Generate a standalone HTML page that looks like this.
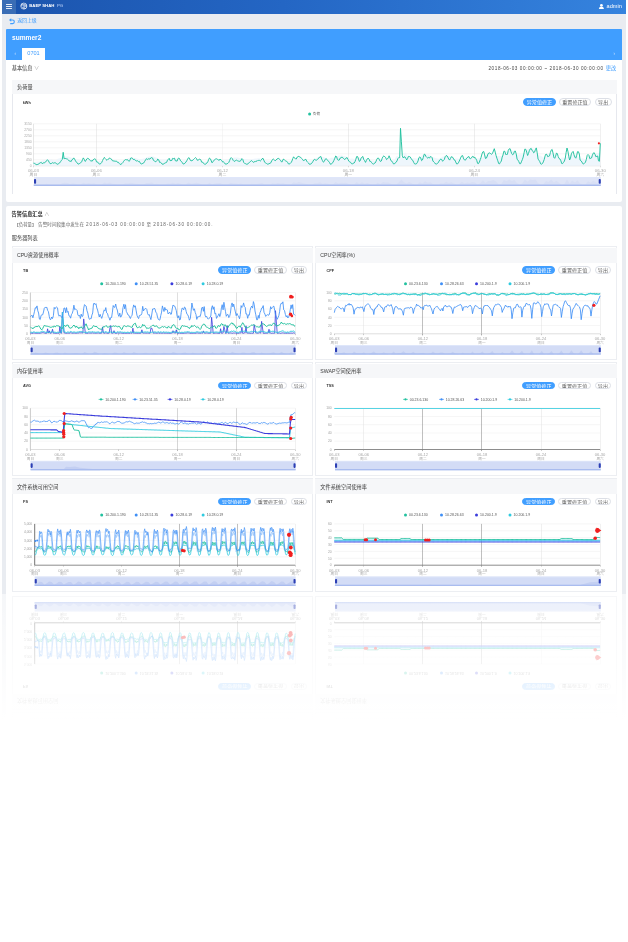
<!DOCTYPE html>
<html><head><meta charset="utf-8"><title>summer2</title>
<style>
html,body{margin:0;padding:0;background:#fff;overflow:hidden;width:628px;height:942px}
#app{position:absolute;left:2px;top:0;width:624px;height:594px;background:#e9ecf1;overflow:hidden}
.inner{position:absolute;left:-2px;top:0;width:628px;height:594px}
.inner div{position:absolute;box-sizing:border-box}
#refl{position:absolute;left:2px;top:594px;width:624px;height:130px;overflow:hidden}
#flip{position:absolute;left:0;top:-594px;width:624px;height:594px;background:#e9ecf1;overflow:hidden;transform:scaleY(-1);transform-origin:50% 100%}
#fade{position:absolute;left:0;top:0;width:624px;height:130px;background:linear-gradient(to bottom,rgba(255,255,255,0.55) 0px,#fff 126px,#fff 130px)}
.hdr{left:2px;top:0;width:624px;height:13.9px;background:linear-gradient(90deg,#1b54ad 0%,#2466c4 45%,#3583de 100%)}
.t{white-space:nowrap;font-family:'Liberation Sans','Noto Sans CJK SC',sans-serif}
.pill{border:0.5px solid;border-radius:4px;font-family:'Liberation Sans','Noto Sans CJK SC',sans-serif;font-size:5.1px;line-height:6.5px;text-align:center;white-space:nowrap;overflow:hidden}
svg{position:absolute;left:0;top:0;font-family:'Liberation Sans','Noto Sans CJK SC',sans-serif}
</style></head><body>
<div id="app"><div class="inner">
<div class="hdr"></div>
<div style="left:2px;top:0;width:14px;height:13.9px;background:#3a6db5"></div>
<div style="left:6.1px;top:3.6px;width:5.8px;height:0.75px;background:#e6edf8;border-radius:0.3px"></div>
<div style="left:6.1px;top:6.0px;width:5.8px;height:0.75px;background:#e6edf8;border-radius:0.3px"></div>
<div style="left:6.1px;top:8.4px;width:5.8px;height:0.75px;background:#e6edf8;border-radius:0.3px"></div>
<div class="t" style="left:29.2px;top:3.1px;font-size:4.3px;line-height:6px;color:#fff;font-weight:bold;">BAEP SHAH</div>
<div class="t" style="left:57px;top:3.1px;font-size:4.3px;line-height:6px;color:#c9dcff;font-weight:normal;">PG</div>
<div class="t" style="left:606.6px;top:2.9px;font-size:5.6px;line-height:7.8px;color:#fff;font-weight:normal;">admin</div>
<div class="t" style="left:17.2px;top:18px;font-size:4.9px;line-height:6.9px;color:#409eff;font-weight:normal;">返回上级</div>
<div style="left:6px;top:29.2px;width:615.7px;height:30.4px;background:#409eff;border-radius:1px 1px 0 0"></div>
<div class="t" style="left:12px;top:33.3px;font-size:6.6px;line-height:9.2px;color:#fff;font-weight:bold;">summer2</div>
<div style="left:22.3px;top:48px;width:22.5px;height:11.6px;background:#fff"></div>
<div class="t" style="left:-66.5px;width:200px;text-align:center;top:49.7px;font-size:5.6px;line-height:7.8px;color:#409eff;font-weight:normal;">0701</div>
<div class="t" style="left:14.5px;top:50.6px;font-size:4.5px;line-height:6.3px;color:#cfe3ff;font-weight:normal;">‹</div>
<div class="t" style="left:613.5px;top:50.9px;font-size:4.5px;line-height:6.3px;color:#cfe3ff;font-weight:normal;">›</div>
<div style="left:6px;top:59.6px;width:615.7px;height:142.1px;background:#fff;border-radius:0 0 2px 2px"></div>
<div class="t" style="left:11.7px;top:65.2px;font-size:5.2px;line-height:7.3px;color:#333;font-weight:normal;">基本信息 <span style="color:#aaa">∨</span></div>
<div class="t" style="right:24.4px;top:65.6px;font-size:4.6px;line-height:6.4px;color:#444;font-weight:normal;text-align:right;letter-spacing:0.6px;">2018-06-03 00:00:00 ~ 2018-06-30 00:00:00</div>
<div class="t" style="left:605.8px;top:65.2px;font-size:5.2px;line-height:7.3px;color:#409eff;font-weight:normal;">更改</div>
<div style="left:12px;top:80px;width:604.8px;height:114px;border:0.5px solid #e6e8ee;border-bottom:none;box-sizing:border-box"></div>
<div style="left:12px;top:80px;width:604.8px;height:14.4px;background:#f6f7f9"></div>
<div class="t" style="left:17px;top:84px;font-size:5.2px;line-height:7.3px;color:#333;font-weight:normal;">负荷量</div>
<div class="t" style="left:22.7px;top:100.5px;font-size:3.8px;line-height:5.3px;color:#333;font-weight:bold;">kWh</div>
<div class="pill" style="left:523.3px;top:98.2px;width:32.3px;height:7.5px;background:#409eff;color:#fff;border-color:#409eff">异常值修正</div>
<div class="pill" style="left:558.8px;top:98.2px;width:32.3px;height:7.5px;background:#fff;color:#666;border-color:#dcdfe6">重置修正值</div>
<div class="pill" style="left:594.6px;top:98.2px;width:17.2px;height:7.5px;background:#fff;color:#666;border-color:#dcdfe6">导出</div>
<div style="left:6px;top:206px;width:615.7px;height:400px;background:#fff;border-radius:2px 2px 0 0"></div>
<div class="t" style="left:11.6px;top:210.8px;font-size:5.2px;line-height:7.3px;color:#222;font-weight:bold;">告警信息汇总 <span style="color:#aaa;font-weight:normal">∧</span></div>
<div class="t" style="left:14.5px;top:221.7px;font-size:4.35px;line-height:6.1px;color:#666;font-weight:normal;">【负荷量】</div>
<div class="t" style="left:38.1px;top:221.5px;font-size:4.6px;line-height:6.4px;color:#666;font-weight:normal;">告警时间段集中发生在</div>
<div class="t" style="left:86.1px;top:221.5px;font-size:4.6px;line-height:6.4px;color:#666;font-weight:normal;letter-spacing:0.86px;">2018-06-03 00:00:00</div>
<div class="t" style="left:146.6px;top:221.5px;font-size:4.6px;line-height:6.4px;color:#666;font-weight:normal;">至</div>
<div class="t" style="left:153.3px;top:221.5px;font-size:4.6px;line-height:6.4px;color:#666;font-weight:normal;letter-spacing:0.8px;">2018-06-30 00:00:00.</div>
<div class="t" style="left:11.8px;top:235.1px;font-size:5.2px;line-height:7.3px;color:#333;font-weight:normal;">服务器列表</div>
<div style="left:11.8px;top:246.2px;width:300.8px;height:114.3px;border:0.6px solid #eceef2;box-sizing:border-box;background:#fff"></div>
<div style="left:11.8px;top:247.79999999999998px;width:300.8px;height:14.8px;background:#f6f7f9"></div>
<div class="t" style="left:16.9px;top:252.3px;font-size:5.2px;line-height:7.3px;color:#3a3a3a;font-weight:normal;">CPU资源使用概率</div>
<div class="t" style="left:23.1px;top:268.7px;font-size:3.8px;line-height:5.3px;color:#333;font-weight:bold;">TB</div>
<div class="pill" style="left:218.3px;top:266.2px;width:33px;height:7.5px;background:#409eff;color:#fff;border-color:#409eff">异常值修正</div>
<div class="pill" style="left:254.3px;top:266.2px;width:32.5px;height:7.5px;background:#fff;color:#666;border-color:#dcdfe6">重置修正值</div>
<div class="pill" style="left:290.5px;top:266.2px;width:16.8px;height:7.5px;background:#fff;color:#666;border-color:#dcdfe6">导出</div>
<div style="left:315.2px;top:246.2px;width:301.40000000000003px;height:114.3px;border:0.6px solid #eceef2;box-sizing:border-box;background:#fff"></div>
<div style="left:315.2px;top:247.79999999999998px;width:301.40000000000003px;height:14.8px;background:#f6f7f9"></div>
<div class="t" style="left:320.3px;top:252.3px;font-size:5.2px;line-height:7.3px;color:#3a3a3a;font-weight:normal;">CPU空闲率(%)</div>
<div class="t" style="left:326.5px;top:268.7px;font-size:3.8px;line-height:5.3px;color:#333;font-weight:bold;">CPF</div>
<div class="pill" style="left:522.3px;top:266.2px;width:33px;height:7.5px;background:#409eff;color:#fff;border-color:#409eff">异常值修正</div>
<div class="pill" style="left:558.3px;top:266.2px;width:32.5px;height:7.5px;background:#fff;color:#666;border-color:#dcdfe6">重置修正值</div>
<div class="pill" style="left:594.5px;top:266.2px;width:16.8px;height:7.5px;background:#fff;color:#666;border-color:#dcdfe6">导出</div>
<div style="left:11.8px;top:361.9px;width:300.8px;height:114.3px;border:0.6px solid #eceef2;box-sizing:border-box;background:#fff"></div>
<div style="left:11.8px;top:363.5px;width:300.8px;height:14.8px;background:#f6f7f9"></div>
<div class="t" style="left:16.9px;top:368px;font-size:5.2px;line-height:7.3px;color:#3a3a3a;font-weight:normal;">内存使用率</div>
<div class="t" style="left:23.1px;top:384.4px;font-size:3.8px;line-height:5.3px;color:#333;font-weight:bold;">AVG</div>
<div class="pill" style="left:218.3px;top:381.9px;width:33px;height:7.5px;background:#409eff;color:#fff;border-color:#409eff">异常值修正</div>
<div class="pill" style="left:254.3px;top:381.9px;width:32.5px;height:7.5px;background:#fff;color:#666;border-color:#dcdfe6">重置修正值</div>
<div class="pill" style="left:290.5px;top:381.9px;width:16.8px;height:7.5px;background:#fff;color:#666;border-color:#dcdfe6">导出</div>
<div style="left:315.2px;top:361.9px;width:301.40000000000003px;height:114.3px;border:0.6px solid #eceef2;box-sizing:border-box;background:#fff"></div>
<div style="left:315.2px;top:363.5px;width:301.40000000000003px;height:14.8px;background:#f6f7f9"></div>
<div class="t" style="left:320.3px;top:368px;font-size:5.2px;line-height:7.3px;color:#3a3a3a;font-weight:normal;">SWAP空间使用率</div>
<div class="t" style="left:326.5px;top:384.4px;font-size:3.8px;line-height:5.3px;color:#333;font-weight:bold;">TSS</div>
<div class="pill" style="left:522.3px;top:381.9px;width:33px;height:7.5px;background:#409eff;color:#fff;border-color:#409eff">异常值修正</div>
<div class="pill" style="left:558.3px;top:381.9px;width:32.5px;height:7.5px;background:#fff;color:#666;border-color:#dcdfe6">重置修正值</div>
<div class="pill" style="left:594.5px;top:381.9px;width:16.8px;height:7.5px;background:#fff;color:#666;border-color:#dcdfe6">导出</div>
<div style="left:11.8px;top:477.6px;width:300.8px;height:114.3px;border:0.6px solid #eceef2;box-sizing:border-box;background:#fff"></div>
<div style="left:11.8px;top:479.20000000000005px;width:300.8px;height:14.8px;background:#f6f7f9"></div>
<div class="t" style="left:16.9px;top:483.7px;font-size:5.2px;line-height:7.3px;color:#3a3a3a;font-weight:normal;">文件系统可用空间</div>
<div class="t" style="left:23.1px;top:500.1px;font-size:3.8px;line-height:5.3px;color:#333;font-weight:bold;">FS</div>
<div class="pill" style="left:218.3px;top:497.7px;width:33px;height:7.5px;background:#409eff;color:#fff;border-color:#409eff">异常值修正</div>
<div class="pill" style="left:254.3px;top:497.7px;width:32.5px;height:7.5px;background:#fff;color:#666;border-color:#dcdfe6">重置修正值</div>
<div class="pill" style="left:290.5px;top:497.7px;width:16.8px;height:7.5px;background:#fff;color:#666;border-color:#dcdfe6">导出</div>
<div style="left:315.2px;top:477.6px;width:301.40000000000003px;height:114.3px;border:0.6px solid #eceef2;box-sizing:border-box;background:#fff"></div>
<div style="left:315.2px;top:479.20000000000005px;width:301.40000000000003px;height:14.8px;background:#f6f7f9"></div>
<div class="t" style="left:320.3px;top:483.7px;font-size:5.2px;line-height:7.3px;color:#3a3a3a;font-weight:normal;">文件系统空间使用率</div>
<div class="t" style="left:326.5px;top:500.1px;font-size:3.8px;line-height:5.3px;color:#333;font-weight:bold;">INT</div>
<div class="pill" style="left:522.3px;top:497.7px;width:33px;height:7.5px;background:#409eff;color:#fff;border-color:#409eff">异常值修正</div>
<div class="pill" style="left:558.3px;top:497.7px;width:32.5px;height:7.5px;background:#fff;color:#666;border-color:#dcdfe6">重置修正值</div>
<div class="pill" style="left:594.5px;top:497.7px;width:16.8px;height:7.5px;background:#fff;color:#666;border-color:#dcdfe6">导出</div>
<svg width="628" height="594" viewBox="0 0 628 594">
<circle cx="23.8" cy="6.1" r="3.0" fill="rgba(255,255,255,0.55)" stroke="#f4f7fc" stroke-width="0.8"/>
<path d="M21.9 5.2 L23.9 6.3 L21.9 7.3 Z" fill="#1d57b1"/>
<circle cx="25.4" cy="7.4" r="0.6" fill="#1d57b1"/>
<path d="M22.6 3.3 Q24.6 2.9 26.2 4.6" fill="none" stroke="#1d57b1" stroke-width="0.45"/>
<path d="M20.9 5.9 Q21 8.6 23.4 9.4" fill="none" stroke="#1d57b1" stroke-width="0.4"/>
<circle cx="601.4" cy="5.3" r="1.35" fill="#fff"/><path d="M598.8 8.9 Q599.2 6.6 601.4 6.6 Q603.6 6.6 604 8.9 Z" fill="#fff"/>
<path d="M10.6 20 L12.6 20 Q14.3 20 14.3 21.8 Q14.3 23.6 12.6 23.6 L10.2 23.6" fill="none" stroke="#409eff" stroke-width="1.1"/><path d="M9 20 L11.2 18.3 L11.2 21.7 Z" fill="#409eff"/>
<line x1="33.4" y1="123.8" x2="600.3" y2="123.8" stroke="#ebebeb" stroke-width="0.5"/>
<line x1="33.4" y1="129.8" x2="600.3" y2="129.8" stroke="#ebebeb" stroke-width="0.5"/>
<line x1="33.4" y1="135.8" x2="600.3" y2="135.8" stroke="#ebebeb" stroke-width="0.5"/>
<line x1="33.4" y1="141.8" x2="600.3" y2="141.8" stroke="#ebebeb" stroke-width="0.5"/>
<line x1="33.4" y1="147.8" x2="600.3" y2="147.8" stroke="#ebebeb" stroke-width="0.5"/>
<line x1="33.4" y1="153.8" x2="600.3" y2="153.8" stroke="#ebebeb" stroke-width="0.5"/>
<line x1="33.4" y1="159.8" x2="600.3" y2="159.8" stroke="#ebebeb" stroke-width="0.5"/>
<line x1="96.5" y1="123.8" x2="96.5" y2="165.8" stroke="#dddddd" stroke-width="0.5"/>
<line x1="222.5" y1="123.8" x2="222.5" y2="165.8" stroke="#ececec" stroke-width="0.5"/>
<line x1="348.5" y1="123.8" x2="348.5" y2="165.8" stroke="#dddddd" stroke-width="0.5"/>
<line x1="474.5" y1="123.8" x2="474.5" y2="165.8" stroke="#dddddd" stroke-width="0.5"/>
<line x1="33.5" y1="123.8" x2="33.5" y2="166" stroke="#cccccc" stroke-width="0.5"/>
<line x1="600.5" y1="123.8" x2="600.5" y2="165.8" stroke="#e0e0e0" stroke-width="0.5"/>
<line x1="33.4" y1="165.8" x2="600.3" y2="165.8" stroke="#cccccc" stroke-width="0.5"/>
<line x1="33.5" y1="165.8" x2="33.5" y2="167.3" stroke="#bbbbbb" stroke-width="0.5"/>
<line x1="96.5" y1="165.8" x2="96.5" y2="167.3" stroke="#bbbbbb" stroke-width="0.5"/>
<line x1="222.5" y1="165.8" x2="222.5" y2="167.3" stroke="#bbbbbb" stroke-width="0.5"/>
<line x1="348.5" y1="165.8" x2="348.5" y2="167.3" stroke="#bbbbbb" stroke-width="0.5"/>
<line x1="474.5" y1="165.8" x2="474.5" y2="167.3" stroke="#bbbbbb" stroke-width="0.5"/>
<line x1="600.5" y1="165.8" x2="600.5" y2="167.3" stroke="#bbbbbb" stroke-width="0.5"/>
<text x="31.7" y="125" font-size="3.4" fill="#a8a8a8" text-anchor="end">3150</text>
<text x="31.7" y="131" font-size="3.4" fill="#a8a8a8" text-anchor="end">2700</text>
<text x="31.7" y="137" font-size="3.4" fill="#a8a8a8" text-anchor="end">2250</text>
<text x="31.7" y="143" font-size="3.4" fill="#a8a8a8" text-anchor="end">1800</text>
<text x="31.7" y="149" font-size="3.4" fill="#a8a8a8" text-anchor="end">1350</text>
<text x="31.7" y="155" font-size="3.4" fill="#a8a8a8" text-anchor="end">900</text>
<text x="31.7" y="161" font-size="3.4" fill="#a8a8a8" text-anchor="end">450</text>
<text x="31.7" y="167" font-size="3.4" fill="#a8a8a8" text-anchor="end">0</text>
<text x="33.4" y="171.9" font-size="4.3" fill="#a8a8a8" text-anchor="middle">06-03</text>
<text x="33.4" y="175.5" font-size="3.87" fill="#a8a8a8" text-anchor="middle">周日</text>
<text x="96.4" y="171.9" font-size="4.3" fill="#a8a8a8" text-anchor="middle">06-06</text>
<text x="96.4" y="175.5" font-size="3.87" fill="#a8a8a8" text-anchor="middle">周三</text>
<text x="222.4" y="171.9" font-size="4.3" fill="#a8a8a8" text-anchor="middle">06-12</text>
<text x="222.4" y="175.5" font-size="3.87" fill="#a8a8a8" text-anchor="middle">周二</text>
<text x="348.3" y="171.9" font-size="4.3" fill="#a8a8a8" text-anchor="middle">06-18</text>
<text x="348.3" y="175.5" font-size="3.87" fill="#a8a8a8" text-anchor="middle">周一</text>
<text x="474.3" y="171.9" font-size="4.3" fill="#a8a8a8" text-anchor="middle">06-24</text>
<text x="474.3" y="175.5" font-size="3.87" fill="#a8a8a8" text-anchor="middle">周日</text>
<text x="600.3" y="171.9" font-size="4.3" fill="#a8a8a8" text-anchor="middle">06-30</text>
<text x="600.3" y="175.5" font-size="3.87" fill="#a8a8a8" text-anchor="middle">周六</text>
<polygon points="33.4,162.5 34.3,162.3 35.2,162.1 36,161.8 36.9,161.8 37.8,161.6 38.7,161.5 39.5,161.4 40.4,161.2 41.3,160.9 42.2,160.4 43,160 43.9,159.8 44.8,159.7 45.7,159.7 46.5,159.7 47.4,159.6 48.3,159.6 49.2,159.5 50,159.5 50.9,159.5 51.8,159.6 52.7,159.9 53.6,160.1 54.4,160.3 55.3,160.2 56.2,160 57.1,159.6 57.9,158.8 58.8,158.5 59.7,158.2 60.6,157.9 61.4,157.6 62.3,157.3 63.2,157 64.1,156.8 64.9,156.6 65.8,156.6 66.7,156.5 67.6,156.5 68.4,156.4 69.3,157 70.2,157.2 71.1,157.6 72,158 72.8,158.5 73.7,158.9 74.6,159.3 75.5,159.5 76.3,159.6 77.2,159.6 78.1,159.5 79,159.6 79.8,160 80.7,160.2 81.6,160.1 82.5,159.9 83.3,159.7 84.2,159.4 85.1,159.3 86,159.1 86.8,159.1 87.7,159 88.6,159.1 89.5,159.2 90.4,159.3 91.2,159.4 92.1,159.5 93,159.9 93.9,160.4 94.7,160.9 95.6,161.2 96.5,161.4 97.4,161.4 98.2,161.2 99.1,161.1 100,161 100.9,161.1 101.7,161.2 102.6,161 103.5,160.8 104.4,160.4 105.2,160 106.1,159.6 107,159.3 107.9,159.2 108.8,159.2 109.6,159.4 110.5,159.6 111.4,159.8 112.3,159.9 113.1,160 114,160.3 114.9,160.7 115.8,161.1 116.6,161.4 117.5,161.7 118.4,161.6 119.3,161.5 120.1,161.3 121,161.1 121.9,160.9 122.8,160.8 123.6,160.6 124.5,160.4 125.4,159.9 126.3,159.3 127.2,158.7 128,158.3 128.9,158 129.8,157.8 130.7,157.7 131.5,157.8 132.4,157.8 133.3,157.8 134.2,157.9 135,157.9 135.9,158.1 136.8,158.5 137.7,158.8 138.5,159.1 139.4,159.2 140.3,159.2 141.2,159 142,158.9 142.9,158.7 143.8,158.5 144.7,158.3 145.6,157.9 146.4,157.5 147.3,157 148.2,156.7 149.1,156.5 149.9,156.4 150.8,156.5 151.7,156.5 152.6,156.6 153.4,156.6 154.3,156.9 155.2,157.2 156.1,157.5 156.9,158 157.8,158.6 158.7,159 159.6,159.3 160.4,159.5 161.3,159.6 162.2,159.6 163.1,159.5 164,159.6 164.8,159.7 165.7,159.6 166.6,159.6 167.5,159.3 168.3,158.9 169.2,158.6 170.1,158.4 171,158.3 171.8,158.3 172.7,158.1 173.6,158 174.5,158.1 175.3,158.3 176.2,158.5 177.1,158.8 178,159.1 178.8,159.6 179.7,160.1 180.6,160.4 181.5,160.5 182.4,160.5 183.2,160.3 184.1,160.3 185,160.6 185.9,160.8 186.7,160.8 187.6,160.8 188.5,160.5 189.4,160.2 190.2,159.7 191.1,159.4 192,159.3 192.9,159.2 193.7,159.3 194.6,159.4 195.5,159.5 196.4,159.7 197.2,159.8 198.1,160 199,160.3 199.9,160.7 200.8,161.1 201.6,161.4 202.5,161.7 203.4,161.6 204.3,161.4 205.1,161.3 206,161.4 206.9,161.6 207.8,161.5 208.6,161.3 209.5,161 210.4,160.5 211.3,160 212.1,159.6 213,159.3 213.9,159.1 214.8,159 215.6,159 216.5,159.1 217.4,159.1 218.3,158.9 219.2,158.9 220,159.1 220.9,159.4 221.8,159.7 222.7,159.9 223.5,160.1 224.4,160 225.3,159.8 226.2,159.6 227,159.4 227.9,159.3 228.8,159.2 229.7,159 230.5,158.8 231.4,158.4 232.3,158.1 233.2,157.8 234,157.6 234.9,157.5 235.8,157.4 236.7,157.4 237.6,157.5 238.4,157.7 239.3,157.9 240.2,158.1 241.1,158.3 241.9,158.6 242.8,158.9 243.7,159 244.6,159.1 245.4,159.1 246.3,159 247.2,159.2 248.1,159.5 248.9,159.7 249.8,159.7 250.7,159.5 251.6,159.4 252.4,159.1 253.3,158.9 254.2,158.7 255.1,158.6 256,158.5 256.8,158.4 257.7,158.3 258.6,158.3 259.5,158.3 260.3,158.5 261.2,158.7 262.1,159 263,159.3 263.8,159.7 264.7,160 265.6,160.2 266.5,160.3 267.3,160.4 268.2,160.5 269.1,160.7 270,160.8 270.8,160.7 271.7,160.5 272.6,160.2 273.5,159.9 274.4,159.6 275.2,159.4 276.1,159.4 277,159.3 277.9,159.3 278.7,159.3 279.6,159.5 280.5,159.7 281.4,159.7 282.2,160 283.1,160.4 284,160.9 284.9,161.3 285.7,161.6 286.6,161.7 287.5,161.4 288.4,161.1 289.2,161 290.1,160.9 291,160.9 291.9,160.5 292.8,160.2 293.6,159.7 294.5,159.2 295.4,158.6 296.3,158.2 297.1,157.9 298,157.8 298.9,157.9 299.8,158.1 300.6,158.1 301.5,158.3 302.4,158.5 303.3,158.9 304.1,159.4 305,159.9 305.9,160.3 306.8,160.7 307.6,160.9 308.5,160.8 309.4,160.6 310.3,160.5 311.2,160.5 312,160.4 312.9,160.1 313.8,159.7 314.7,159.2 315.5,158.5 316.4,158 317.3,157.6 318.2,157.5 319,157.4 319.9,157.3 320.8,157.2 321.7,157 322.5,157 323.4,157.1 324.3,157.3 325.2,157.7 326.1,158.2 326.9,158.7 327.8,158.8 328.7,158.8 329.6,158.4 330.4,158 331.3,157.7 332.2,157.7 333.1,157.8 333.9,157.7 334.8,157.4 335.7,157.1 336.6,156.5 337.4,156 338.3,155.7 339.2,155.5 340.1,155.4 340.9,155.4 341.8,155.5 342.7,155.8 343.6,155.9 344.5,156.1 345.3,156.3 346.2,156.8 347.1,157.3 348,157.8 348.8,158.3 349.7,158.6 350.6,158.7 351.5,158.5 352.3,158.5 353.2,158.7 354.1,158.9 355,158.9 355.8,158.7 356.7,158.4 357.6,158 358.5,157.7 359.3,157.6 360.2,157.6 361.1,157.6 362,157.7 362.9,157.9 363.7,158.2 364.6,158.4 365.5,158.5 366.4,158.7 367.2,159.2 368.1,159.9 369,160.5 369.9,160.8 370.7,160.9 371.6,160.8 372.5,160.6 373.4,160.6 374.2,160.9 375.1,161.1 376,161.1 376.9,161 377.7,160.5 378.6,160 379.5,159.5 380.4,159 381.3,158.8 382.1,158.6 383,158.5 383.9,158.4 384.8,158.3 385.6,158.4 386.5,158.3 387.4,158.4 388.3,158.8 389.1,159.3 390,159.8 390.9,160.2 391.8,160.4 392.6,160.3 393.5,160.2 394.4,160.1 395.3,157.9 396.1,156.6 397,156.2 397.9,155.9 398.8,157.8 399.7,157.8 400.5,157.8 401.4,157.8 402.3,157.8 403.2,157.8 404,152.9 404.9,152.8 405.8,152.7 406.7,155.1 407.5,156.4 408.4,156.8 409.3,157.2 410.2,157.7 411,158.1 411.9,158.4 412.8,158.4 413.7,158.2 414.5,158.2 415.4,158.2 416.3,158.4 417.2,158.5 418.1,158.2 418.9,157.7 419.8,157 420.7,156.4 421.6,155.8 422.4,155.3 423.3,154.8 424.2,154.6 425.1,154.5 425.9,154.4 426.8,154.4 427.7,154.4 428.6,154.5 429.4,154.9 430.3,155.7 431.2,156.4 432.1,157 432.9,157.4 433.8,157.6 434.7,157.8 435.6,157.9 436.5,158.2 437.3,158.5 438.2,158.8 439.1,158.7 440,158.4 440.8,157.9 441.7,157.3 442.6,156.8 443.5,156.5 444.3,156.4 445.2,156.3 446.1,156.1 447,156 447.8,156 448.7,155.9 449.6,156 450.5,156.3 451.3,156.9 452.2,157.6 453.1,158.2 454,158.6 454.9,158.7 455.7,158.6 456.6,158.5 457.5,158.5 458.4,158.7 459.2,158.9 460.1,159.1 461,159 461.9,158.8 462.7,158.3 463.6,157.9 464.5,157.6 465.4,157.5 466.2,157.4 467.1,157.5 468,157.6 468.9,157.8 469.7,157.7 470.6,157.7 471.5,157.8 472.4,158.1 473.3,158.6 474.1,159 475,159.3 475.9,159.2 476.8,158.9 477.6,158.4 478.5,158 479.4,157.9 480.3,157.9 481.1,158 482,157.7 482.9,157.2 483.8,156.3 484.6,155.5 485.5,154.8 486.4,154.4 487.3,154 488.1,153.7 489,153.5 489.9,153.4 490.8,153.4 491.7,153.3 492.5,153.4 493.4,153.9 494.3,154.7 495.2,155.3 496,155.8 496.9,156 497.8,156 498.7,155.7 499.5,155.7 500.4,156 501.3,156.1 502.2,156 503,155.3 503.9,154.3 504.8,153 505.7,152 506.5,151.2 507.4,150.7 508.3,150.4 509.2,150 510.1,149.9 510.9,150 511.8,150.3 512.7,150.7 513.6,151.2 514.4,152.1 515.3,153.2 516.2,154.2 517.1,154.8 517.9,155 518.8,154.8 519.7,154.4 520.6,154.2 521.4,154.3 522.3,154.4 523.2,153.9 524.1,153.2 524.9,152.2 525.8,151.1 526.7,150 527.6,149.2 528.5,148.7 529.3,148.4 530.2,148.1 531.1,148.1 532,148.4 532.8,149 533.7,149.4 534.6,150 535.5,151.1 536.3,152.4 537.2,153.6 538.1,154.5 539,155.3 539.8,155.6 540.7,155.8 541.6,156.3 542.5,157 543.3,157.4 544.2,157.2 545.1,156.7 546,155.9 546.9,154.9 547.7,154.1 548.6,153.7 549.5,153.5 550.4,153.4 551.2,153.3 552.1,153.3 553,153.6 553.9,153.8 554.7,154.1 555.6,154.5 556.5,155.4 557.4,156.5 558.2,157.6 559.1,158.3 560,158.4 560.9,158 561.7,157.5 562.6,157.4 563.5,157.6 564.4,157.9 565.3,158 566.1,157.6 567,157 567.9,156.1 568.8,155.4 569.6,155 570.5,154.8 571.4,154.6 572.3,154.5 573.1,154.8 574,155 574.9,155.3 575.8,155.3 576.6,155.6 577.5,156.3 578.4,157.2 579.3,158 580.1,158.6 581,158.7 581.9,158.4 582.8,158.3 583.7,158.5 584.5,159 585.4,159.2 586.3,159 587.2,158.5 588,157.7 588.9,156.8 589.8,156 590.7,155.4 591.5,154.9 592.4,154.5 593.3,154.8 594.2,155.3 595,154.2 595.9,153.9 596.8,153.6 597.7,153.2 598.5,153.1 599.4,153.2 600.3,153.5 600.3,165.8 33.4,165.8" fill="#ecf5fc" opacity="0.9"/>
<polyline points="33.4,163.1 34.3,163.3 35.2,163.8 36,164.6 36.9,164.6 37.8,164.4 38.7,164.1 39.5,163.1 40.4,162.7 41.3,162.4 42.2,163.7 43,163.1 43.9,162.7 44.8,162.7 45.7,161.9 46.5,160.9 47.4,159.7 48.3,160.6 49.2,162.3 50,163.6 50.9,163.6 51.8,163.3 52.7,162.6 53.6,163.2 54.4,162.8 55.3,162.8 56.2,163.4 57.1,164.2 57.9,164.2 58.8,163.5 59.7,162.9 60.6,161.6 61.4,160.3 62.3,159.5 63.2,152.3 64.1,158.8 64.9,158.4 65.8,158.6 66.7,158.9 67.6,159.2 68.4,159.9 69.3,161.1 70.2,161.1 71.1,161.6 72,159.7 72.8,159.3 73.7,157.9 74.6,159.1 75.5,160.9 76.3,162 77.2,162.9 78.1,164.1 79,164 79.8,163.3 80.7,162.8 81.6,161.9 82.5,159.7 83.3,157.9 84.2,159.3 85.1,161.4 86,160.6 86.8,158.9 87.7,158.3 88.6,158.6 89.5,159.9 90.4,160.7 91.2,160.7 92.1,161.3 93,159.8 93.9,159.4 94.7,158.8 95.6,159.3 96.5,161.9 97.4,161.8 98.2,163 99.1,163.9 100,164 100.9,163.5 101.7,162.5 102.6,160.5 103.5,158.6 104.4,157.4 105.2,158.7 106.1,159.6 107,160.3 107.9,159.3 108.8,159 109.6,157.9 110.5,158.6 111.4,159 112.3,160.6 113.1,161 114,160.8 114.9,161.3 115.8,161.2 116.6,161.1 117.5,162.4 118.4,162.3 119.3,163.5 120.1,164.4 121,164.3 121.9,163.6 122.8,162.7 123.6,161.4 124.5,160.2 125.4,159.6 126.3,159.8 127.2,159.6 128,160.1 128.9,161.4 129.8,160.6 130.7,158.1 131.5,157.9 132.4,158.2 133.3,159.6 134.2,159.3 135,160.1 135.9,160.6 136.8,161.1 137.7,160.7 138.5,161.6 139.4,161.4 140.3,163.1 141.2,164 142,164 142.9,163.2 143.8,162.9 144.7,161.3 145.6,159.9 146.4,158.7 147.3,159.5 148.2,158.9 149.1,158.8 149.9,159.2 150.8,157.9 151.7,157.6 152.6,158.1 153.4,160.3 154.3,160.9 155.2,161.6 156.1,161.6 156.9,160.7 157.8,159 158.7,159.8 159.6,162.4 160.4,162.3 161.3,162.9 162.2,164.2 163.1,164.3 164,163.6 164.8,163.2 165.7,162.7 166.6,162.4 167.5,160.2 168.3,159.3 169.2,158.3 170.1,160.7 171,160.5 171.8,160.5 172.7,158.3 173.6,158.6 174.5,158.2 175.3,160.7 176.2,160.9 177.1,161.1 178,158.5 178.8,158 179.7,159 180.6,160.9 181.5,161.5 182.4,162.8 183.2,164 184.1,164 185,163.1 185.9,162.1 186.7,160.9 187.6,159.2 188.5,157.7 189.4,158.1 190.2,160.2 191.1,160.8 192,160.6 192.9,160.2 193.7,159.3 194.6,158.4 195.5,157.6 196.4,158.4 197.2,160.2 198.1,160.2 199,159.4 199.9,159.1 200.8,159.8 201.6,162.1 202.5,162 203.4,163.3 204.3,164 205.1,164.3 206,163.8 206.9,163 207.8,161.8 208.6,159.7 209.5,158 210.4,158.8 211.3,161 212.1,162.8 213,161.7 213.9,160.3 214.8,159.7 215.6,159 216.5,158.8 217.4,159.3 218.3,159.9 219.2,160.4 220,159 220.9,159.9 221.8,160.6 222.7,162.1 223.5,161.9 224.4,162.7 225.3,164.1 226.2,164.1 227,163.8 227.9,163.3 228.8,162.4 229.7,160.4 230.5,158.2 231.4,157.7 232.3,158.6 233.2,160.4 234,161.3 234.9,161.2 235.8,160.4 236.7,160.1 237.6,160.8 238.4,161.1 239.3,161.3 240.2,161.3 241.1,160 241.9,158.6 242.8,159.5 243.7,162.4 244.6,163.4 245.4,163.6 246.3,164.2 247.2,164.2 248.1,163.8 248.9,162.9 249.8,161.9 250.7,161.3 251.6,160.6 252.4,161.4 253.3,162.4 254.2,161.7 255.1,161.8 256,160.8 256.8,161.4 257.7,160.5 258.6,160.4 259.5,160.4 260.3,161 261.2,160.2 262.1,158.7 263,158.3 263.8,160.1 264.7,162.3 265.6,162.9 266.5,163.5 267.3,164.1 268.2,164.1 269.1,163.6 270,163.4 270.8,162.8 271.7,160.9 272.6,159.4 273.5,159.1 274.4,159.9 275.2,160.8 276.1,160.1 277,158.9 277.9,158.6 278.7,158.3 279.6,159.5 280.5,160.3 281.4,161.8 282.2,161.8 283.1,159.3 284,159.3 284.9,160.2 285.7,161.2 286.6,161.2 287.5,162.3 288.4,163.9 289.2,164 290.1,163.6 291,162.7 291.9,161.1 292.8,158.5 293.6,156.8 294.5,158.2 295.4,158.7 296.3,159 297.1,157.1 298,156.8 298.9,156.1 299.8,157.3 300.6,157.3 301.5,158.4 302.4,159.2 303.3,160.6 304.1,160.4 305,159.6 305.9,159.3 306.8,161.3 307.6,162.2 308.5,163 309.4,164.3 310.3,164.2 311.2,163.8 312,162.9 312.9,161.5 313.8,159.8 314.7,159.2 315.5,160.2 316.4,160.2 317.3,159.5 318.2,158.9 319,157.4 319.9,157.2 320.8,156.4 321.7,159.1 322.5,160.7 323.4,162.2 324.3,161.4 325.2,159.3 326.1,158.6 326.9,159.3 327.8,160.7 328.7,161.4 329.6,162.7 330.4,164.2 331.3,164.2 332.2,163.1 333.1,162.1 333.9,160.4 334.8,158.3 335.7,156 336.6,156.6 337.4,159.5 338.3,160.2 339.2,160.1 340.1,158.1 340.9,158 341.8,156.9 342.7,157.9 343.6,158.4 344.5,159.5 345.3,159.2 346.2,157.9 347.1,157.6 348,159.4 348.8,161.2 349.7,161.8 350.6,162.3 351.5,163.7 352.3,163.9 353.2,163.3 354.1,163.1 355,161.6 355.8,159.4 356.7,156.5 357.6,156.6 358.5,159 359.3,161.4 360.2,160.8 361.1,158.2 362,157.1 362.9,156.5 363.7,159.5 364.6,160.6 365.5,162.4 366.4,160.5 367.2,159 368.1,158.1 369,159.1 369.9,161.4 370.7,161.3 371.6,162.6 372.5,163.7 373.4,164.1 374.2,163.5 375.1,163 376,161.3 376.9,159.2 377.7,158.1 378.6,158.2 379.5,160.1 380.4,161.5 381.3,161 382.1,158.6 383,156.6 383.9,155.9 384.8,156.9 385.6,157.4 386.5,159.6 387.4,159 388.3,157.8 389.1,155.8 390,158.1 390.9,160.6 391.8,161.1 392.6,162.4 393.5,163.9 394.4,163.9 395.3,162.8 396.1,162.3 397,160.9 397.9,158.6 398.8,157.5 399.7,157.7 400.5,128.3 401.4,141.8 402.3,155.8 403.2,157.9 404,156.9 404.9,156.9 405.8,158.3 406.7,159.9 407.5,158.7 408.4,156.4 409.3,156.5 410.2,156.9 411,158.3 411.9,159.8 412.8,160.4 413.7,162.4 414.5,163.8 415.4,164 416.3,163.9 417.2,162.8 418.1,160.8 418.9,157.7 419.8,156.9 420.7,158 421.6,160.7 422.4,160 423.3,157.5 424.2,154.2 425.1,154.5 425.9,156.4 426.8,157.4 427.7,158.1 428.6,157.3 429.4,158.2 430.3,156.7 431.2,156.7 432.1,157.7 432.9,161 433.8,162 434.7,162.8 435.6,164 436.5,164 437.3,163.5 438.2,162.8 439.1,161 440,159.6 440.8,159.2 441.7,159.5 442.6,161.3 443.5,160.4 444.3,159.5 445.2,156.7 446.1,155.6 447,155.8 447.8,157.2 448.7,159 449.6,160.1 450.5,158.4 451.3,156.8 452.2,156.8 453.1,158 454,159.8 454.9,160.1 455.7,161.9 456.6,163.9 457.5,163.9 458.4,162.8 459.2,161.2 460.1,159.2 461,157 461.9,155.6 462.7,155.7 463.6,158.9 464.5,159.9 465.4,160.2 466.2,158.9 467.1,157.7 468,157 468.9,156.5 469.7,158.4 470.6,158.6 471.5,158 472.4,156.4 473.3,156.5 474.1,158 475,157.3 475.9,158.8 476.8,160.6 477.6,163.4 478.5,163.6 479.4,162 480.3,159.5 481.1,157.3 482,153.9 482.9,151.8 483.8,151.6 484.6,154.9 485.5,158.5 486.4,158.1 487.3,156 488.1,153.6 489,153.1 489.9,152.9 490.8,153.8 491.7,154.3 492.5,153.4 493.4,151 494.3,148.7 495.2,152.1 496,155.3 496.9,158.2 497.8,160.8 498.7,163.6 499.5,163.9 500.4,162.3 501.3,161.1 502.2,157.1 503,155 503.9,151.2 504.8,151.3 505.7,154.5 506.5,154.5 507.4,154.4 508.3,150.3 509.2,148.9 510.1,148.7 510.9,151.4 511.8,153.8 512.7,154.8 513.6,154.1 514.4,151.3 515.3,151 516.2,153.8 517.1,159.2 517.9,160 518.8,161.6 519.7,163.7 520.6,163.7 521.4,161.8 522.3,159.7 523.2,157.1 524.1,152.8 524.9,149 525.8,149.4 526.7,152.2 527.6,155.5 528.5,153.5 529.3,150.7 530.2,149 531.1,148.3 532,150.2 532.8,151.2 533.7,152.8 534.6,152.1 535.5,149.3 536.3,147.9 537.2,152.8 538.1,159.3 539,160.2 539.8,161.7 540.7,163.9 541.6,164.2 542.5,163.5 543.3,161.9 544.2,159.5 545.1,155.9 546,154 546.9,154.6 547.7,156.7 548.6,156.4 549.5,155.9 550.4,152.5 551.2,150.2 552.1,149.4 553,153 553.9,157.5 554.7,158.3 555.6,156.3 556.5,152.9 557.4,153.8 558.2,156.6 559.1,158.5 560,159 560.9,160.8 561.7,163.5 562.6,163.6 563.5,162.4 564.4,161.1 565.3,158 566.1,152.7 567,148 567.9,151.2 568.8,156.6 569.6,160 570.5,158 571.4,153.8 572.3,152.2 573.1,151.4 574,154.8 574.9,157.2 575.8,158.2 576.6,155.8 577.5,151.7 578.4,151.7 579.3,154 580.1,160.1 581,160.7 581.9,162 582.8,163.7 583.7,163.9 584.5,163.3 585.4,162.3 586.3,159.6 587.2,155.4 588,154.5 588.9,155.4 589.8,158.7 590.7,158.3 591.5,158 592.4,155.3 593.3,153.1 594.2,152.7 595,154.3 595.9,156.8 596.8,156.3 597.7,156 598.5,160.8 599.4,161.3 600.3,143.3" fill="none" stroke="#22c19f" stroke-width="0.95" stroke-linejoin="round" opacity="1"/>
<circle cx="598.9" cy="143.3" r="1.1" fill="#f01f1f"/>
<rect x="34" y="177" width="566.8" height="8.9" fill="#dfe5f7"/>
<polygon points="33.4,184.6 36,184.6 38.7,184.6 41.3,184.4 43.9,184.6 46.5,183.8 49.2,184.4 51.8,184.6 54.4,184.6 57.1,184.6 59.7,184.6 62.3,183.3 64.9,182.8 67.6,183.1 70.2,183.9 72.8,183.2 75.5,183.8 78.1,184.6 80.7,184.6 83.3,182.7 86,183.7 88.6,182.9 91.2,183.8 93.9,183.2 96.5,184.2 99.1,184.6 101.7,184.5 104.4,182.5 107,183.6 109.6,182.6 112.3,183.7 114.9,184 117.5,184.5 120.1,184.6 122.8,184.6 125.4,183.3 128,183.5 130.7,182.7 133.3,183.3 135.9,183.7 138.5,184.1 141.2,184.6 143.8,184.6 146.4,183 149.1,183 151.7,182.5 154.3,183.9 156.9,183.8 159.6,184.4 162.2,184.6 164.8,184.6 167.5,183.6 170.1,183.8 172.7,182.8 175.3,183.8 178,182.9 180.6,183.8 183.2,184.6 185.9,184.3 188.5,182.6 191.1,183.8 193.7,183.2 196.4,182.8 199,183.3 201.6,184.3 204.3,184.6 206.9,184.6 209.5,182.7 212.1,184.6 214.8,183.4 217.4,183.2 220,183.1 222.7,184.3 225.3,184.6 227.9,184.6 230.5,182.8 233.2,183.6 235.8,183.6 238.4,183.9 241.1,183.5 243.7,184.4 246.3,184.6 248.9,184.6 251.6,183.7 254.2,184.1 256.8,184.1 259.5,183.6 262.1,182.9 264.7,184.4 267.3,184.6 270,184.6 272.6,183.2 275.2,183.8 277.9,182.9 280.5,183.6 283.1,183.2 285.7,184 288.4,184.6 291,184.5 293.6,182.2 296.3,183.1 298.9,181.9 301.5,182.8 304.1,183.6 306.8,184 309.4,184.6 312,184.6 314.7,183.2 317.3,183.3 319.9,182.3 322.5,183.8 325.2,183.2 327.8,183.7 330.4,184.6 333.1,184.3 335.7,181.9 338.3,183.6 340.9,182.7 343.6,182.9 346.2,182.7 348.8,183.9 351.5,184.6 354.1,184.6 356.7,182.1 359.3,184 362,182.3 364.6,183.7 367.2,183.1 369.9,184 372.5,184.6 375.1,184.6 377.7,182.7 380.4,184.1 383,182.1 385.6,182.4 388.3,182.6 390.9,183.7 393.5,184.6 396.1,184.4 398.8,182.5 401.4,179.6 404,182.2 406.7,183.4 409.3,182.1 411.9,183.4 414.5,184.6 417.2,184.6 419.8,182.2 422.4,183.5 425.1,181.3 427.7,182.7 430.3,182.2 432.9,183.9 435.6,184.6 438.2,184.6 440.8,183.2 443.5,183.6 446.1,181.7 448.7,183.1 451.3,182.2 454,183.4 456.6,184.6 459.2,183.9 461.9,181.7 464.5,183.4 467.1,182.5 469.7,182.9 472.4,182 475,182.4 477.6,184.6 480.3,183.3 482.9,180.2 485.5,182.9 488.1,180.9 490.8,181 493.4,179.9 496,181.6 498.7,184.6 501.3,183.9 503.9,180 506.5,181.3 509.2,179.6 511.8,181 514.4,180 517.1,183.2 519.7,184.6 522.3,183.4 524.9,179.6 527.6,181.7 530.2,179.6 532.8,180 535.5,179.6 538.1,183.2 540.7,184.6 543.3,184.2 546,181.1 548.6,182 551.2,179.6 553.9,182.5 556.5,180.7 559.1,182.9 561.7,184.6 564.4,183.9 567,179.6 569.6,183.5 572.3,180.4 574.9,182.4 577.5,180.2 580.1,183.5 582.8,184.6 585.4,184.4 588,181.3 590.7,182.8 593.3,180.7 595.9,182.2 598.5,183.8 598.5,185.9 33.4,185.9" fill="#d8dff5" opacity="1"/>
<rect x="34" y="184.6" width="566.8" height="1.3" fill="#a4b7ee"/>
<rect x="34" y="177" width="566.8" height="0.8" fill="#dfe6fa"/>
<rect x="34" y="179.1" width="2.1" height="4.6" rx="0.8" fill="#2c3fb4"/>
<rect x="598.7" y="179.1" width="2.1" height="4.6" rx="0.8" fill="#2c3fb4"/>
<circle cx="309.6" cy="114" r="1.5" fill="#22c19f"/>
<text x="312.8" y="115.3" font-size="3.6" fill="#555" text-anchor="start">负荷</text>
<line x1="30.4" y1="292.5" x2="295.2" y2="292.5" stroke="#ececec" stroke-width="0.5"/>
<line x1="30.4" y1="300.8" x2="295.2" y2="300.8" stroke="#ececec" stroke-width="0.5"/>
<line x1="30.4" y1="309" x2="295.2" y2="309" stroke="#ececec" stroke-width="0.5"/>
<line x1="30.4" y1="317.3" x2="295.2" y2="317.3" stroke="#ececec" stroke-width="0.5"/>
<line x1="30.4" y1="325.5" x2="295.2" y2="325.5" stroke="#ececec" stroke-width="0.5"/>
<line x1="177.5" y1="292.5" x2="177.5" y2="335.4" stroke="#c4c4c4" stroke-width="0.55"/>
<line x1="236.5" y1="292.5" x2="236.5" y2="335.4" stroke="#c4c4c4" stroke-width="0.55"/>
<line x1="30.4" y1="292.5" x2="30.4" y2="333.8" stroke="#c4c4c4" stroke-width="0.9"/>
<line x1="30.4" y1="333.8" x2="295.2" y2="333.8" stroke="#c8c8c8" stroke-width="0.6"/>
<line x1="30.5" y1="333.8" x2="30.5" y2="335.2" stroke="#999999" stroke-width="0.5"/>
<line x1="59.5" y1="333.8" x2="59.5" y2="335.2" stroke="#999999" stroke-width="0.5"/>
<line x1="118.5" y1="333.8" x2="118.5" y2="335.2" stroke="#999999" stroke-width="0.5"/>
<line x1="177.5" y1="333.8" x2="177.5" y2="335.2" stroke="#999999" stroke-width="0.5"/>
<line x1="236.5" y1="333.8" x2="236.5" y2="335.2" stroke="#999999" stroke-width="0.5"/>
<line x1="295.5" y1="333.8" x2="295.5" y2="335.2" stroke="#999999" stroke-width="0.5"/>
<line x1="295.5" y1="292.5" x2="295.5" y2="333.8" stroke="#e2e2e2" stroke-width="0.5"/>
<text x="27.8" y="293.7" font-size="3.3" fill="#a0a0a0" text-anchor="end">250</text>
<text x="27.8" y="302" font-size="3.3" fill="#a0a0a0" text-anchor="end">200</text>
<text x="27.8" y="310.2" font-size="3.3" fill="#a0a0a0" text-anchor="end">150</text>
<text x="27.8" y="318.5" font-size="3.3" fill="#a0a0a0" text-anchor="end">100</text>
<text x="27.8" y="326.7" font-size="3.3" fill="#a0a0a0" text-anchor="end">50</text>
<text x="27.8" y="335" font-size="3.3" fill="#a0a0a0" text-anchor="end">0</text>
<text x="30.4" y="340.1" font-size="4.1" fill="#a8a8a8" text-anchor="middle">06-03</text>
<text x="30.4" y="343.8" font-size="3.69" fill="#a8a8a8" text-anchor="middle">周日</text>
<text x="59.8" y="340.1" font-size="4.1" fill="#a8a8a8" text-anchor="middle">06-06</text>
<text x="59.8" y="343.8" font-size="3.69" fill="#a8a8a8" text-anchor="middle">周三</text>
<text x="118.7" y="340.1" font-size="4.1" fill="#a8a8a8" text-anchor="middle">06-12</text>
<text x="118.7" y="343.8" font-size="3.69" fill="#a8a8a8" text-anchor="middle">周二</text>
<text x="177.5" y="340.1" font-size="4.1" fill="#a8a8a8" text-anchor="middle">06-18</text>
<text x="177.5" y="343.8" font-size="3.69" fill="#a8a8a8" text-anchor="middle">周一</text>
<text x="236.4" y="340.1" font-size="4.1" fill="#a8a8a8" text-anchor="middle">06-24</text>
<text x="236.4" y="343.8" font-size="3.69" fill="#a8a8a8" text-anchor="middle">周日</text>
<text x="295.2" y="340.1" font-size="4.1" fill="#a8a8a8" text-anchor="middle">06-30</text>
<text x="295.2" y="343.8" font-size="3.69" fill="#a8a8a8" text-anchor="middle">周六</text>
<circle cx="101.7" cy="283.7" r="1.5" fill="#22c19f"/>
<text x="105.3" y="284.9" font-size="3.5" fill="#555" text-anchor="start">10.200.1.190</text>
<circle cx="136.2" cy="283.7" r="1.5" fill="#3f8ff6"/>
<text x="139.8" y="284.9" font-size="3.5" fill="#555" text-anchor="start">10.23.51.35</text>
<circle cx="171.9" cy="283.7" r="1.5" fill="#3b3ddc"/>
<text x="175.5" y="284.9" font-size="3.5" fill="#555" text-anchor="start">10.28.0.19</text>
<circle cx="203.1" cy="283.7" r="1.5" fill="#2fcbe0"/>
<text x="206.7" y="284.9" font-size="3.5" fill="#555" text-anchor="start">10.28.0.19</text>
<polyline points="30.4,333.2 31.2,333.1 32,333.2 32.9,333.3 33.7,332.9 34.5,333 35.3,333.2 36.1,333.2 37,333.2 37.8,333.2 38.6,333.2 39.4,333.3 40.2,333.1 41.1,333 41.9,332.7 42.7,332.6 43.5,332.7 44.3,332.9 45.2,333.3 46,333.1 46.8,333.2 47.6,328.8 48.4,333.1 49.3,330.8 50.1,333.3 50.9,333 51.7,332.8 52.5,329.2 53.4,333.2 54.2,333.1 55,333.1 55.8,333.3 56.6,333.3 57.5,333.1 58.3,333.2 59.1,333.2 59.9,326.3 60.7,333.1 61.6,333.2 62.4,312.3 63.2,322 64,332.9 64.8,332.9 65.7,333.2 66.5,333.3 67.3,333.1 68.1,333 68.9,333.2 69.8,333.1 70.6,332.7 71.4,332.9 72.2,333.2 73,333.1 73.9,333 74.7,333 75.5,333.2 76.3,333.2 77.1,333.1 77.9,332.9 78.8,333 79.6,332.7 80.4,332.8 81.2,332.7 82,332.9 82.9,332.9 83.7,318.9 84.5,325.6 85.3,333.2 86.1,333.2 87,333.1 87.8,333.3 88.6,332.9 89.4,333 90.2,333 91.1,333.1 91.9,333 92.7,332.8 93.5,333.1 94.3,333 95.2,333.2 96,333.1 96.8,333.1 97.6,333 98.4,332.9 99.3,333.2 100.1,333.2 100.9,333.2 101.7,333.1 102.5,326.9 103.4,333 104.2,333.3 105,332.9 105.8,332.8 106.6,333 107.5,333.3 108.3,333.2 109.1,333.2 109.9,328.1 110.7,325.5 111.6,333.2 112.4,333.2 113.2,333.2 114,330.7 114.8,333.1 115.7,333.3 116.5,333.3 117.3,332.8 118.1,333.1 118.9,333 119.8,333 120.6,332.9 121.4,333.1 122.2,333.2 123,333.2 123.9,333.3 124.7,333.1 125.5,333.3 126.3,333.3 127.1,333.1 128,333.1 128.8,333.2 129.6,333.3 130.4,332.9 131.2,333.1 132.1,333.2 132.9,328.2 133.7,333.3 134.5,333 135.3,333.2 136.2,333.2 137,333.1 137.8,333.3 138.6,333.2 139.4,333.3 140.3,333.2 141.1,333.1 141.9,329.8 142.7,333 143.5,333.1 144.4,333 145.2,333 146,333.1 146.8,333.1 147.6,333 148.5,333.1 149.3,333.2 150.1,333.2 150.9,328.2 151.7,328 152.6,330.6 153.4,333.2 154.2,333.1 155,332.8 155.8,333.1 156.7,333.2 157.5,333.1 158.3,332.8 159.1,333.2 159.9,333.2 160.8,332.9 161.6,333.2 162.4,333.2 163.2,332.9 164,333 164.8,333.2 165.7,333.1 166.5,333.1 167.3,333.2 168.1,333.2 168.9,333.1 169.8,333.3 170.6,333.3 171.4,333.1 172.2,333.1 173,330.7 173.9,332.9 174.7,332.8 175.5,333.1 176.3,329.8 177.1,333.1 178,333.3 178.8,333.2 179.6,333 180.4,333.3 181.2,333.2 182.1,333.2 182.9,333.3 183.7,333.3 184.5,333.1 185.3,333.1 186.2,333.1 187,332.9 187.8,332.8 188.6,332.9 189.4,333 190.3,333.3 191.1,333.3 191.9,333.1 192.7,333.3 193.5,333.2 194.4,333.2 195.2,333.3 196,333.1 196.8,332.9 197.6,332.9 198.5,333.1 199.3,333.1 200.1,333.2 200.9,333.2 201.7,332.9 202.6,333.2 203.4,330.9 204.2,333 205,333.3 205.8,333 206.7,332.9 207.5,333 208.3,333.2 209.1,333.2 209.9,333.2 210.8,333.1 211.6,317.3 212.4,324.7 213.2,333.3 214,333.2 214.9,333.1 215.7,333 216.5,333 217.3,333.1 218.1,333.3 219,333.1 219.8,333.3 220.6,328.7 221.4,333.2 222.2,333.2 223.1,332.9 223.9,326.4 224.7,329.7 225.5,333.3 226.3,333.3 227.2,325.6 228,333.1 228.8,333.2 229.6,333 230.4,332.9 231.3,333 232.1,333.2 232.9,333.2 233.7,332.9 234.5,333 235.4,332.9 236.2,333.3 237,333.3 237.8,333.1 238.6,333.3 239.5,332.9 240.3,332.9 241.1,332.9 241.9,327.3 242.7,333.3 243.6,333.2 244.4,332.8 245.2,332.8 246,325.8 246.8,332.9 247.7,333.1 248.5,333.1 249.3,333.1 250.1,333.3 250.9,333.2 251.7,333.1 252.6,333.3 253.4,333.2 254.2,324.7 255,328.8 255.8,333 256.7,333 257.5,333.2 258.3,333.1 259.1,332.7 259.9,332.7 260.8,333.1 261.6,321.4 262.4,327 263.2,333.2 264,333.3 264.9,333.2 265.7,333.2 266.5,333.2 267.3,333.1 268.1,333.1 269,329.3 269.8,333.2 270.6,332.9 271.4,333.3 272.2,333.1 273.1,333.2 273.9,333.1 274.7,333.2 275.5,310.7 276.3,321.1 277.2,333.3 278,333.1 278.8,333.1 279.6,333 280.4,333.3 281.3,333.1 282.1,333 282.9,332.8 283.7,333 284.5,333.2 285.4,333.1 286.2,333.3 287,333.1 287.8,333 288.6,333.2 289.5,333.2 290.3,333.1 291.1,333.1 291.9,333.1 292.7,333.2 293.6,332.8 294.4,333.1 295.2,333.2" fill="none" stroke="#3b3ddc" stroke-width="0.8" stroke-linejoin="round" opacity="1"/>
<polyline points="30.4,332.2 31.2,332.2 32,332.3 32.9,332.5 33.7,331.8 34.5,332 35.3,332.4 36.1,332.3 37,332.3 37.8,332.3 38.6,332.3 39.4,332.4 40.2,332.1 41.1,332 41.9,331.5 42.7,331.2 43.5,331.5 44.3,331.7 45.2,332.4 46,332.1 46.8,332.3 47.6,332.4 48.4,332.1 49.3,332.4 50.1,332.4 50.9,332 51.7,331.6 52.5,331.9 53.4,332.3 54.2,332.2 55,332.1 55.8,332.4 56.6,332.5 57.5,332.2 58.3,332.3 59.1,332.4 59.9,332.1 60.7,332.1 61.6,332.2 62.4,312.3 63.2,321.4 64,331.7 64.8,331.8 65.7,332.3 66.5,332.5 67.3,332.1 68.1,331.9 68.9,332.3 69.8,332.2 70.6,331.4 71.4,331.7 72.2,332.3 73,332.1 73.9,332 74.7,332 75.5,332.3 76.3,332.3 77.1,332.2 77.9,331.9 78.8,332 79.6,331.5 80.4,331.6 81.2,331.5 82,331.9 82.9,331.8 83.7,332.3 84.5,332.4 85.3,332.3 86.1,332.3 87,332.2 87.8,332.5 88.6,331.8 89.4,331.9 90.2,332 91.1,332.1 91.9,332 92.7,331.6 93.5,332.1 94.3,332 95.2,332.3 96,332.2 96.8,332.2 97.6,332 98.4,331.9 99.3,332.3 100.1,332.4 100.9,332.4 101.7,332.1 102.5,331.8 103.4,331.9 104.2,332.4 105,331.8 105.8,331.7 106.6,332 107.5,332.4 108.3,332.3 109.1,332.3 109.9,332.3 110.7,332 111.6,332.2 112.4,332.2 113.2,332.4 114,332.3 114.8,332.2 115.7,332.4 116.5,332.4 117.3,331.7 118.1,332.2 118.9,332 119.8,332 120.6,331.8 121.4,332.2 122.2,332.2 123,332.2 123.9,332.5 124.7,332.2 125.5,332.4 126.3,332.5 127.1,332.2 128,332.2 128.8,332.4 129.6,332.5 130.4,331.9 131.2,332.2 132.1,332.3 132.9,332.3 133.7,332.5 134.5,332 135.3,332.3 136.2,332.3 137,332.1 137.8,332.4 138.6,332.3 139.4,332.4 140.3,332.3 141.1,332.1 141.9,332 142.7,331.9 143.5,332.2 144.4,332 145.2,331.9 146,332.1 146.8,332.1 147.6,331.9 148.5,332.2 149.3,332.4 150.1,332.3 150.9,332.4 151.7,332.3 152.6,332 153.4,332.4 154.2,332.1 155,331.7 155.8,332.2 156.7,332.3 157.5,332.1 158.3,331.7 159.1,332.3 159.9,332.3 160.8,331.8 161.6,332.2 162.4,332.4 163.2,331.8 164,332 164.8,332.3 165.7,332.2 166.5,332.1 167.3,332.3 168.1,332.3 168.9,332.2 169.8,332.5 170.6,332.4 171.4,332.2 172.2,332.2 173,332.3 173.9,331.8 174.7,331.6 175.5,332.1 176.3,332.5 177.1,332.1 178,332.5 178.8,332.4 179.6,332 180.4,332.5 181.2,332.3 182.1,332.3 182.9,332.4 183.7,332.4 184.5,332.1 185.3,332.1 186.2,332.1 187,331.9 187.8,331.7 188.6,331.9 189.4,332 190.3,332.4 191.1,332.4 191.9,332.2 192.7,332.4 193.5,332.4 194.4,332.4 195.2,332.4 196,332.1 196.8,331.8 197.6,331.8 198.5,332.1 199.3,332.2 200.1,332.3 200.9,332.2 201.7,331.8 202.6,332.2 203.4,332.2 204.2,332 205,332.4 205.8,331.9 206.7,331.8 207.5,332 208.3,332.3 209.1,332.4 209.9,332.3 210.8,332.1 211.6,332.3 212.4,332.2 213.2,332.4 214,332.3 214.9,332.1 215.7,332 216.5,332 217.3,332.1 218.1,332.4 219,332.1 219.8,332.4 220.6,332.2 221.4,331.4 222.2,331.4 223.1,331 223.9,330.6 224.7,331.4 225.5,332.1 226.3,332.4 227.2,332.1 228,332.1 228.8,332.4 229.6,332 230.4,331.6 231.3,331.1 232.1,331.4 232.9,331.5 233.7,330.9 234.5,331.3 235.4,331.4 236.2,332.4 237,332.5 237.8,332.1 238.6,332.4 239.5,331.8 240.3,331.6 241.1,330.9 241.9,330.9 242.7,331.6 243.6,331.3 244.4,331.1 245.2,331.3 246,331.5 246.8,331.8 247.7,332.2 248.5,332.1 249.3,332.1 250.1,332.1 250.9,331.5 251.7,331.3 252.6,331.7 253.4,331.4 254.2,331.5 255,331.7 255.8,332 256.7,331.9 257.5,332.3 258.3,332.1 259.1,331.4 259.9,331.3 260.8,331.4 261.6,331.5 262.4,331.5 263.2,331.2 264,331.8 264.9,332 265.7,332.3 266.5,332.4 267.3,332.1 268.1,332.1 269,332.3 269.8,332.1 270.6,330.9 271.4,331.6 272.2,331.3 273.1,331.2 273.9,331.5 274.7,332 275.5,332 276.3,332.3 277.2,332.4 278,332.2 278.8,332.2 279.6,331.7 280.4,331.6 281.3,331.2 282.1,331.2 282.9,330.6 283.7,331.3 284.5,332 285.4,332.1 286.2,332.4 287,332.2 287.8,331.9 288.6,332.3 289.5,332.1 290.3,331.3 291.1,331.2 291.9,331.4 292.7,331.3 293.6,331 294.4,331.7 295.2,332.2" fill="none" stroke="#2fcbe0" stroke-width="1.0" stroke-linejoin="round" opacity="1"/>
<polyline points="30.4,326.8 31.2,327.6 32,328.5 32.9,328.2 33.7,328.2 34.5,327 35.3,326.7 36.1,326.7 37,326.3 37.8,326.7 38.6,325.7 39.4,326.4 40.2,327.9 41.1,329.4 41.9,329.8 42.7,328.5 43.5,326.9 44.3,325.4 45.2,325.8 46,326.1 46.8,326.2 47.6,326.3 48.4,326.5 49.3,326.8 50.1,327.1 50.9,327.4 51.7,327.1 52.5,326.7 53.4,327.2 54.2,325.8 55,326.8 55.8,326.6 56.6,325.5 57.5,325.8 58.3,325.9 59.1,326.2 59.9,327 60.7,327.7 61.6,328.4 62.4,328.5 63.2,326.6 64,326 64.8,325.4 65.7,326.6 66.5,325.2 67.3,325.1 68.1,325.1 68.9,327 69.8,328.2 70.6,328.1 71.4,328 72.2,326.9 73,326.2 73.9,325 74.7,325.9 75.5,327.4 76.3,326 77.1,327.4 77.9,327 78.8,328.8 79.6,327.4 80.4,327.7 81.2,326.7 82,328.1 82.9,328.6 83.7,327.9 84.5,326.1 85.3,325.2 86.1,323.8 87,326.3 87.8,327.8 88.6,330 89.4,328.9 90.2,328.8 91.1,328.3 91.9,328.3 92.7,326.8 93.5,325.6 94.3,325.9 95.2,326.9 96,326 96.8,327 97.6,327.3 98.4,328.5 99.3,328.8 100.1,328.9 100.9,329.4 101.7,329.3 102.5,328.2 103.4,326.6 104.2,326.8 105,326.6 105.8,325.7 106.6,325.8 107.5,327.3 108.3,327.1 109.1,326.7 109.9,326.1 110.7,326.6 111.6,326.6 112.4,326.4 113.2,325.8 114,326.2 114.8,326.4 115.7,325.9 116.5,326.4 117.3,326.8 118.1,326.8 118.9,326.2 119.8,326.8 120.6,328.3 121.4,329.4 122.2,329.3 123,326.7 123.9,325.9 124.7,325.7 125.5,326.4 126.3,326.7 127.1,326.1 128,325.8 128.8,326.2 129.6,326.4 130.4,326.8 131.2,327.3 132.1,327.3 132.9,325.3 133.7,324.1 134.5,323.6 135.3,323.2 136.2,325.8 137,327.5 137.8,327.9 138.6,327.1 139.4,326.6 140.3,327.9 141.1,327.2 141.9,326.7 142.7,324.3 143.5,325.7 144.4,325 145.2,326.4 146,327.1 146.8,328.7 147.6,328.1 148.5,328.3 149.3,328 150.1,327.4 150.9,326.7 151.7,325.9 152.6,325.4 153.4,325 154.2,326.3 155,326.1 155.8,326.3 156.7,325.8 157.5,326.9 158.3,327.9 159.1,328.2 159.9,327.9 160.8,327.6 161.6,327 162.4,326.5 163.2,327.1 164,327.2 164.8,326.4 165.7,327.5 166.5,327.7 167.3,328.1 168.1,326.5 168.9,326.9 169.8,327.4 170.6,327.9 171.4,328.1 172.2,325.5 173,325.3 173.9,324.5 174.7,325.5 175.5,327.6 176.3,328.1 177.1,328.5 178,328.3 178.8,329.8 179.6,329.7 180.4,329.1 181.2,326.9 182.1,325.5 182.9,325.8 183.7,326.2 184.5,326 185.3,326.1 186.2,327 187,326.2 187.8,327.4 188.6,327.5 189.4,328.6 190.3,327 191.1,327.2 191.9,325.4 192.7,326.5 193.5,326.2 194.4,325.3 195.2,326 196,326.9 196.8,327.6 197.6,326.9 198.5,327.3 199.3,328.7 200.1,329.5 200.9,328.6 201.7,326.2 202.6,325.2 203.4,324.1 204.2,324 205,324.9 205.8,326.5 206.7,327.1 207.5,327.4 208.3,328 209.1,328.5 209.9,328.6 210.8,327.3 211.6,327 212.4,327.6 213.2,326.9 214,325.8 214.9,326 215.7,328.1 216.5,328.3 217.3,327.3 218.1,325.6 219,325.8 219.8,326.5 220.6,324.9 221.4,323.7 222.2,324 223.1,325.4 223.9,324.6 224.7,325.7 225.5,324.9 226.3,326.9 227.2,326.7 228,327.5 228.8,325.9 229.6,325 230.4,324.1 231.3,323.1 232.1,322.8 232.9,324.3 233.7,323.8 234.5,325.7 235.4,325.9 236.2,328.1 237,328.4 237.8,327 238.6,326.4 239.5,326.2 240.3,327.3 241.1,325.3 241.9,324.2 242.7,322.7 243.6,323.8 244.4,325.6 245.2,327.3 246,327.6 246.8,327.7 247.7,327.9 248.5,327 249.3,326.8 250.1,326.4 250.9,325.5 251.7,325 252.6,325.2 253.4,324.7 254.2,325.3 255,325.3 255.8,326.1 256.7,327.1 257.5,326.7 258.3,327.2 259.1,326.6 259.9,327.3 260.8,324.8 261.6,324.2 262.4,323.7 263.2,323.9 264,324 264.9,325 265.7,325.9 266.5,326.5 267.3,326 268.1,325.4 269,324.9 269.8,325.1 270.6,324.8 271.4,325.9 272.2,324.7 273.1,323.3 273.9,323.3 274.7,323.5 275.5,325.3 276.3,325.9 277.2,326.1 278,325 278.8,325.4 279.6,324.7 280.4,323.7 281.3,322.1 282.1,323.5 282.9,323.3 283.7,323.9 284.5,323.4 285.4,324.1 286.2,324.3 287,324.1 287.8,323.6 288.6,324 289.5,323.6 290.3,323.8 291.1,324.2 291.9,325.1 292.7,324.7 293.6,324.8 294.4,326.2 295.2,325.9" fill="none" stroke="#22c19f" stroke-width="1.0" stroke-linejoin="round" opacity="1"/>
<polyline points="30.4,316.6 31.2,315.9 32,315.1 32.9,317.8 33.7,314.8 34.5,311.3 35.3,307.7 36.1,308.3 37,305.9 37.8,310.8 38.6,313 39.4,319 40.2,319.6 41.1,315.3 41.9,314.9 42.7,314.8 43.5,312 44.3,308.2 45.2,307.2 46,307.8 46.8,307.2 47.6,310.3 48.4,311.6 49.3,316.6 50.1,319.5 50.9,319.4 51.7,317 52.5,318.6 53.4,315.7 54.2,307.4 55,308.8 55.8,307.4 56.6,307 57.5,307.8 58.3,314.2 59.1,316.2 59.9,315.1 60.7,315.8 61.6,317.4 62.4,317.5 63.2,313.4 64,308 64.8,308 65.7,312.8 66.5,307.6 67.3,312.3 68.1,311.4 68.9,315.7 69.8,316.1 70.6,318.2 71.4,314.7 72.2,313.4 73,310.8 73.9,305.2 74.7,309.7 75.5,309.1 76.3,309.5 77.1,310.4 77.9,315 78.8,316 79.6,315.4 80.4,318.5 81.2,314.1 82,316.6 82.9,316 83.7,308.3 84.5,304.6 85.3,305.4 86.1,306 87,310.8 87.8,313 88.6,317.3 89.4,319.3 90.2,318.6 91.1,318.8 91.9,315.1 92.7,313 93.5,303.8 94.3,303 95.2,304.6 96,303.7 96.8,308 97.6,310 98.4,313.6 99.3,317 100.1,314.3 100.9,316.5 101.7,318.4 102.5,315.7 103.4,312.5 104.2,309.9 105,310.8 105.8,307.6 106.6,312.8 107.5,313.5 108.3,316.6 109.1,317.8 109.9,320.2 110.7,317.6 111.6,317.5 112.4,312.1 113.2,305.5 114,307.2 114.8,307.3 115.7,304 116.5,308.2 117.3,310 118.1,314.4 118.9,316.4 119.8,313.1 120.6,317.2 121.4,316.3 122.2,313.9 123,307.6 123.9,304.2 124.7,308.8 125.5,304.7 126.3,311.4 127.1,312.9 128,315 128.8,315.2 129.6,317.1 130.4,318.5 131.2,316.4 132.1,315.2 132.9,308.3 133.7,304.9 134.5,307.2 135.3,305.8 136.2,310.9 137,315.4 137.8,317.4 138.6,318.6 139.4,315.5 140.3,315.3 141.1,315 141.9,313.3 142.7,306.3 143.5,310.9 144.4,309.3 145.2,308.7 146,308.4 146.8,309.5 147.6,313.7 148.5,315.1 149.3,314.6 150.1,317.3 150.9,319.6 151.7,315 152.6,309 153.4,309.2 154.2,308.1 155,309 155.8,312.1 156.7,313.3 157.5,317.1 158.3,319.3 159.1,320.1 159.9,319.9 160.8,315.4 161.6,312.1 162.4,305.9 163.2,308.8 164,311.5 164.8,307.4 165.7,310.1 166.5,309.5 167.3,309.9 168.1,314 168.9,313.1 169.8,312.1 170.6,314.3 171.4,314.1 172.2,309 173,305 173.9,305.8 174.7,306.1 175.5,308.2 176.3,310.6 177.1,316.1 178,317.9 178.8,315.7 179.6,320 180.4,319.5 181.2,312.5 182.1,308.1 182.9,308.4 183.7,309.8 184.5,307 185.3,307.7 186.2,311.5 187,314.3 187.8,314.9 188.6,316.9 189.4,320.2 190.3,318.7 191.1,311.2 191.9,303 192.7,307.1 193.5,310.3 194.4,308.8 195.2,312.4 196,314.6 196.8,319.4 197.6,316.8 198.5,317 199.3,316 200.1,316.7 200.9,313.7 201.7,308 202.6,307 203.4,311.3 204.2,306.6 205,315.1 205.8,317 206.7,316.4 207.5,318.5 208.3,319.1 209.1,318.2 209.9,317.7 210.8,316 211.6,307.9 212.4,305.7 213.2,309.4 214,306.8 214.9,313.9 215.7,313.2 216.5,318.4 217.3,316.9 218.1,315.7 219,313.7 219.8,316.6 220.6,314.3 221.4,307.9 222.2,304.7 223.1,309.8 223.9,302.3 224.7,307.2 225.5,311.6 226.3,316.3 227.2,314.6 228,314.5 228.8,317.6 229.6,316.5 230.4,313.2 231.3,305.6 232.1,302.9 232.9,306.9 233.7,304.1 234.5,308.2 235.4,311.9 236.2,315.7 237,313.5 237.8,315.5 238.6,316.2 239.5,318.8 240.3,314.7 241.1,305.6 241.9,307.5 242.7,306.6 243.6,302.9 244.4,306.5 245.2,307.2 246,314.1 246.8,313.9 247.7,318.3 248.5,314.8 249.3,315.2 250.1,310.4 250.9,307.5 251.7,306.1 252.6,308.1 253.4,301.6 254.2,304.4 255,311 255.8,314.8 256.7,319.8 257.5,319.7 258.3,315.4 259.1,318.3 259.9,312.8 260.8,310.9 261.6,308.1 262.4,308 263.2,305.6 264,312.3 264.9,314 265.7,316.4 266.5,315.3 267.3,314.6 268.1,315.3 269,315 269.8,312.5 270.6,306.7 271.4,308.9 272.2,307.6 273.1,306.5 273.9,306.2 274.7,310.6 275.5,315 276.3,316.7 277.2,319.3 278,317.6 278.8,315.7 279.6,311.7 280.4,305.1 281.3,303.1 282.1,303.7 282.9,301.8 283.7,309.8 284.5,310.5 285.4,314.5 286.2,316.9 287,315.6 287.8,318 288.6,317.2 289.5,314.4 290.3,309.5 291.1,304.9 291.9,308.6 292.7,304.6 293.6,314.2 294.4,314.5 295.2,315.4" fill="none" stroke="#3f8ff6" stroke-width="0.85" stroke-linejoin="round" opacity="1"/>
<circle cx="290.9" cy="296.7" r="1.9" fill="#f01f1f"/>
<circle cx="292.4" cy="297.1" r="1.4" fill="#f01f1f"/>
<circle cx="290.6" cy="314.2" r="1.7" fill="#f01f1f"/>
<circle cx="291.9" cy="316" r="1.3" fill="#f01f1f"/>
<rect x="30.6" y="345.2" width="265" height="9.4" fill="#d3dcf6"/>
<polygon points="30.4,354.1 32.9,354.2 35.3,352.6 37.8,353.1 40.2,354.2 42.7,353.8 45.2,352.5 47.6,353 50.1,354.2 52.5,354.2 55,352.8 57.5,352.6 59.9,353.8 62.4,354.2 64.8,352.6 67.3,353.4 69.8,354 72.2,353.5 74.7,352.9 77.1,353 79.6,353.9 82,354.1 84.5,352.1 87,353.1 89.4,354.2 91.9,353.8 94.3,351.8 96.8,352.6 99.3,354.2 101.7,354.2 104.2,352.9 106.6,353.4 109.1,354.2 111.6,354.2 114,352.5 116.5,352.7 118.9,354 121.4,354 123.9,352 126.3,353.2 128.8,353.9 131.2,354.1 133.7,352.1 136.2,353.1 138.6,354.2 141.1,353.8 143.5,353.1 146,352.7 148.5,353.8 150.9,354.2 153.4,352.8 155.8,353.3 158.3,354.2 160.8,353.9 163.2,352.8 165.7,353 168.1,353.6 170.6,353.7 173,352.1 175.5,352.7 178,354.2 180.4,354.2 182.9,352.7 185.3,352.6 187.8,353.8 190.3,354.2 192.7,352.5 195.2,353.4 197.6,354.1 200.1,354.1 202.6,352.4 205,353.8 207.5,354.2 209.9,354.2 212.4,352.2 214.9,353.6 217.3,354.1 219.8,354.1 222.2,352.1 224.7,352.5 227.2,353.7 229.6,354.1 232.1,351.8 234.5,352.7 237,353.6 239.5,354.2 241.9,352.5 244.4,352.4 246.8,353.6 249.3,353.8 251.7,352.3 254.2,352 256.7,354.2 259.1,354.2 261.6,352.6 264,353.4 266.5,353.9 269,353.8 271.4,352.8 273.9,352.3 276.3,354.1 278.8,353.9 281.3,351.8 283.7,352.9 286.2,354.1 288.6,354.2 291.1,352.1 293.6,353.7 293.6,354.6 30.4,354.6" fill="#c3cff2" opacity="1"/>
<rect x="30.6" y="353.3" width="265" height="1.3" fill="#a9bcef"/>
<rect x="30.6" y="345.2" width="265" height="0.8" fill="#dfe6fa"/>
<rect x="30.6" y="347.6" width="2.1" height="4.6" rx="0.8" fill="#2c3fb4"/>
<rect x="293.5" y="347.6" width="2.1" height="4.6" rx="0.8" fill="#2c3fb4"/>
<line x1="334.3" y1="292.5" x2="600.1" y2="292.5" stroke="#ececec" stroke-width="0.5"/>
<line x1="334.3" y1="300.8" x2="600.1" y2="300.8" stroke="#ececec" stroke-width="0.5"/>
<line x1="334.3" y1="309" x2="600.1" y2="309" stroke="#ececec" stroke-width="0.5"/>
<line x1="334.3" y1="317.3" x2="600.1" y2="317.3" stroke="#ececec" stroke-width="0.5"/>
<line x1="334.3" y1="325.5" x2="600.1" y2="325.5" stroke="#ececec" stroke-width="0.5"/>
<line x1="363.5" y1="292.5" x2="363.5" y2="333.8" stroke="#e0e0e0" stroke-width="0.5"/>
<line x1="422.5" y1="292.5" x2="422.5" y2="335.4" stroke="#8c8c8c" stroke-width="0.55"/>
<line x1="481.5" y1="292.5" x2="481.5" y2="335.4" stroke="#8c8c8c" stroke-width="0.55"/>
<line x1="541.5" y1="292.5" x2="541.5" y2="333.8" stroke="#e0e0e0" stroke-width="0.5"/>
<line x1="334.3" y1="333.8" x2="600.1" y2="333.8" stroke="#c8c8c8" stroke-width="0.6"/>
<line x1="334.5" y1="333.8" x2="334.5" y2="335.2" stroke="#999999" stroke-width="0.5"/>
<line x1="363.5" y1="333.8" x2="363.5" y2="335.2" stroke="#999999" stroke-width="0.5"/>
<line x1="422.5" y1="333.8" x2="422.5" y2="335.2" stroke="#999999" stroke-width="0.5"/>
<line x1="481.5" y1="333.8" x2="481.5" y2="335.2" stroke="#999999" stroke-width="0.5"/>
<line x1="541.5" y1="333.8" x2="541.5" y2="335.2" stroke="#999999" stroke-width="0.5"/>
<line x1="600.5" y1="333.8" x2="600.5" y2="335.2" stroke="#999999" stroke-width="0.5"/>
<line x1="600.5" y1="292.5" x2="600.5" y2="333.8" stroke="#e2e2e2" stroke-width="0.5"/>
<text x="331.7" y="293.7" font-size="3.3" fill="#a0a0a0" text-anchor="end">100</text>
<text x="331.7" y="302" font-size="3.3" fill="#a0a0a0" text-anchor="end">80</text>
<text x="331.7" y="310.2" font-size="3.3" fill="#a0a0a0" text-anchor="end">60</text>
<text x="331.7" y="318.5" font-size="3.3" fill="#a0a0a0" text-anchor="end">40</text>
<text x="331.7" y="326.7" font-size="3.3" fill="#a0a0a0" text-anchor="end">20</text>
<text x="331.7" y="335" font-size="3.3" fill="#a0a0a0" text-anchor="end">0</text>
<text x="334.3" y="340.1" font-size="4.1" fill="#a8a8a8" text-anchor="middle">06-03</text>
<text x="334.3" y="343.8" font-size="3.69" fill="#a8a8a8" text-anchor="middle">周日</text>
<text x="363.8" y="340.1" font-size="4.1" fill="#a8a8a8" text-anchor="middle">06-06</text>
<text x="363.8" y="343.8" font-size="3.69" fill="#a8a8a8" text-anchor="middle">周三</text>
<text x="422.9" y="340.1" font-size="4.1" fill="#a8a8a8" text-anchor="middle">06-12</text>
<text x="422.9" y="343.8" font-size="3.69" fill="#a8a8a8" text-anchor="middle">周二</text>
<text x="482" y="340.1" font-size="4.1" fill="#a8a8a8" text-anchor="middle">06-18</text>
<text x="482" y="343.8" font-size="3.69" fill="#a8a8a8" text-anchor="middle">周一</text>
<text x="541" y="340.1" font-size="4.1" fill="#a8a8a8" text-anchor="middle">06-24</text>
<text x="541" y="343.8" font-size="3.69" fill="#a8a8a8" text-anchor="middle">周日</text>
<text x="600.1" y="340.1" font-size="4.1" fill="#a8a8a8" text-anchor="middle">06-30</text>
<text x="600.1" y="343.8" font-size="3.69" fill="#a8a8a8" text-anchor="middle">周六</text>
<circle cx="405.5" cy="283.7" r="1.5" fill="#22c19f"/>
<text x="409.1" y="284.9" font-size="3.5" fill="#555" text-anchor="start">00.23.6.130</text>
<circle cx="441.5" cy="283.7" r="1.5" fill="#3f8ff6"/>
<text x="445.1" y="284.9" font-size="3.5" fill="#555" text-anchor="start">10.28.26.63</text>
<circle cx="476.5" cy="283.7" r="1.5" fill="#3b3ddc"/>
<text x="480.1" y="284.9" font-size="3.5" fill="#555" text-anchor="start">10.200.1.9</text>
<circle cx="510" cy="283.7" r="1.5" fill="#2fcbe0"/>
<text x="513.6" y="284.9" font-size="3.5" fill="#555" text-anchor="start">10.200.1.9</text>
<polyline points="334.3,312.7 335.1,309.4 335.9,308.3 336.8,307.2 337.6,306.4 338.4,306.9 339.2,307 340.1,308.2 340.9,308.9 341.7,308.7 342.5,308 343.4,308.4 344.2,311.8 345,307.3 345.8,305.2 346.6,305.8 347.5,304.5 348.3,304.9 349.1,303.4 349.9,305.2 350.8,304 351.6,305 352.4,306.1 353.2,308.1 354,314.2 354.9,309.5 355.7,309.1 356.5,307.9 357.3,307.4 358.2,307.6 359,307.4 359.8,308.1 360.6,306.9 361.5,307.5 362.3,306.8 363.1,309 363.9,311.6 364.7,307.3 365.6,305.5 366.4,305 367.2,304.5 368,303.6 368.9,304.6 369.7,305.5 370.5,307.9 371.3,308.5 372.2,309.9 373,309.7 373.8,314.5 374.6,308.9 375.4,308.9 376.3,306.9 377.1,307 377.9,304.8 378.7,304.2 379.6,305.1 380.4,305.9 381.2,307.4 382,307.2 382.9,309.2 383.7,311.9 384.5,307.6 385.3,306.6 386.1,307.3 387,305.4 387.8,304.9 388.6,304.9 389.4,306.1 390.3,305.6 391.1,304.5 391.9,306.5 392.7,308.8 393.5,314.1 394.4,309 395.2,306.9 396,306.3 396.8,306.8 397.7,308.1 398.5,309.2 399.3,308.8 400.1,308.8 401,309 401.8,310.2 402.6,311.8 403.4,315.2 404.2,309.6 405.1,308 405.9,308.3 406.7,307.9 407.5,307.8 408.4,307.6 409.2,308.3 410,308 410.8,306.9 411.7,307.7 412.5,308.3 413.3,313.4 414.1,309.8 414.9,307.7 415.8,306.7 416.6,304.1 417.4,305.6 418.2,305.3 419.1,306.2 419.9,306.4 420.7,307.9 421.5,307.8 422.4,307.3 423.2,309.7 424,306.2 424.8,305.3 425.6,305.5 426.5,305 427.3,306.1 428.1,305.9 428.9,306.1 429.8,305.2 430.6,307.2 431.4,308.5 432.2,311.2 433,314 433.9,309.6 434.7,308 435.5,307.3 436.3,306.7 437.2,306.4 438,307.2 438.8,308.6 439.6,309.5 440.5,310.8 441.3,309.2 442.1,308.3 442.9,311 443.7,306.8 444.6,306.3 445.4,305.1 446.2,306.7 447,306.6 447.9,306.7 448.7,306 449.5,305.8 450.3,307 451.2,307.2 452,309.6 452.8,313.5 453.6,309.3 454.4,307 455.3,307.2 456.1,307 456.9,306.2 457.7,305.8 458.6,305.4 459.4,305 460.2,304.5 461,304.8 461.9,306.8 462.7,310.7 463.5,307.3 464.3,307 465.1,306.7 466,307 466.8,306.5 467.6,307.6 468.4,306.4 469.3,306.1 470.1,305.1 470.9,306.1 471.7,307.5 472.5,313.7 473.4,309.5 474.2,307.7 475,305.6 475.8,305.6 476.7,306.3 477.5,306.7 478.3,307.6 479.1,308.7 480,308.2 480.8,308.1 481.6,309.7 482.4,314 483.2,308.7 484.1,305.8 484.9,306 485.7,305.1 486.5,306 487.4,305.1 488.2,306.4 489,306.8 489.8,307.9 490.7,309.5 491.5,310.8 492.3,315.9 493.1,310 493.9,307.3 494.8,305.9 495.6,304.5 496.4,304.8 497.2,304.2 498.1,304.3 498.9,304.1 499.7,304.7 500.5,306.1 501.4,307.3 502.2,312.4 503,310 503.8,308.8 504.6,307 505.5,305.1 506.3,306.4 507.1,306.3 507.9,307.4 508.8,306 509.6,306.9 510.4,306.5 511.2,309.5 512,318.7 512.9,312.5 513.7,308.2 514.5,307.8 515.3,307.9 516.2,305.6 517,304 517.8,304.6 518.6,306.9 519.5,307.2 520.3,306.8 521.1,307.1 521.9,317.1 522.7,310.2 523.6,307.4 524.4,306.1 525.2,306.3 526,303.4 526.9,303.6 527.7,304.1 528.5,305.2 529.3,304.3 530.2,305.4 531,309.1 531.8,318.4 532.6,309.8 533.4,303.2 534.3,302.6 535.1,303.9 535.9,303.8 536.7,303.5 537.6,301.8 538.4,302.2 539.2,303.5 540,304.4 540.9,307.2 541.7,316.7 542.5,311.7 543.3,306.7 544.1,305.2 545,303.7 545.8,304.6 546.6,303.7 547.4,304 548.3,304.2 549.1,307.1 549.9,308.9 550.7,310 551.5,316 552.4,309.8 553.2,305.2 554,304.5 554.8,304.7 555.7,304.3 556.5,305 557.3,305 558.1,306.4 559,307.4 559.8,307.4 560.6,308.6 561.4,317.4 562.2,311.9 563.1,306.7 563.9,304.2 564.7,301.4 565.5,300.8 566.4,302.4 567.2,303.9 568,305.3 568.8,305.6 569.7,305.6 570.5,308.4 571.3,318.8 572.1,313.2 572.9,309.2 573.8,307.9 574.6,306.7 575.4,304.8 576.2,303.4 577.1,304.9 577.9,305.4 578.7,306.3 579.5,307 580.4,309.8 581.2,319.7 582,313.5 582.8,308.9 583.6,306.7 584.5,305.5 585.3,305.3 586.1,305.2 586.9,306.3 587.8,305.6 588.6,307.3 589.4,307.6 590.2,309.4 591,316.1 591.9,309.6 592.7,304.7 593.5,303 594.3,301.5 595.2,302.4 596,304 596.8,304.1 597.6,302 598.5,299.9 599.3,297.9 600.1,295.8" fill="none" stroke="#3f8ff6" stroke-width="0.85" stroke-linejoin="round" opacity="1"/>
<polyline points="334.3,293.9 335.1,294.1 335.9,293.9 336.8,293.5 337.6,293.3 338.4,293.5 339.2,293.2 340.1,293.4 340.9,293.6 341.7,293.8 342.5,293.8 343.4,294.1 344.2,294.1 345,294.1 345.8,294 346.6,294 347.5,293.9 348.3,294.4 349.1,294.5 349.9,294.5 350.8,294.5 351.6,294.1 352.4,293.6 353.2,293.6 354,293.6 354.9,293.7 355.7,294.1 356.5,294.1 357.3,294 358.2,294 359,294.4 359.8,293.9 360.6,294 361.5,294.1 362.3,293.8 363.1,293.3 363.9,293.5 364.7,293.6 365.6,293.6 366.4,293.9 367.2,293.9 368,294.4 368.9,294.3 369.7,294.1 370.5,294.3 371.3,294.6 372.2,294 373,293.8 373.8,293.4 374.6,293.2 375.4,293.2 376.3,293.7 377.1,294.2 377.9,294.8 378.7,294.9 379.6,294.3 380.4,294.4 381.2,294 382,294 382.9,294.1 383.7,294.6 384.5,294.5 385.3,294.3 386.1,294.3 387,294 387.8,294.2 388.6,294.1 389.4,293.9 390.3,294.2 391.1,294.5 391.9,294.1 392.7,293.9 393.5,294.1 394.4,293.8 395.2,293.7 396,293.7 396.8,293.8 397.7,293.9 398.5,294.2 399.3,294.1 400.1,294.1 401,293.8 401.8,293.5 402.6,293.1 403.4,293.1 404.2,293.5 405.1,293.5 405.9,294 406.7,294.3 407.5,294.7 408.4,294.5 409.2,294.7 410,294.9 410.8,294.5 411.7,294.3 412.5,294.3 413.3,294.1 414.1,293.8 414.9,293.9 415.8,293.8 416.6,294.2 417.4,294.7 418.2,294.6 419.1,294.4 419.9,294.4 420.7,294 421.5,293.9 422.4,293.7 423.2,293.8 424,294 424.8,293.8 425.6,293.6 426.5,293.7 427.3,293.7 428.1,293.9 428.9,294.1 429.8,294.3 430.6,294.5 431.4,294.4 432.2,294.2 433,293.9 433.9,293.9 434.7,294.1 435.5,294.3 436.3,294 437.2,294.3 438,294.1 438.8,293.8 439.6,293.5 440.5,293.6 441.3,293.5 442.1,293.3 442.9,293.3 443.7,293.9 444.6,293.9 445.4,294.3 446.2,294.6 447,294.8 447.9,294.5 448.7,294.5 449.5,294.3 450.3,294.4 451.2,294.5 452,294.2 452.8,293.9 453.6,293.8 454.4,293.4 455.3,293.4 456.1,293.7 456.9,294.4 457.7,294.6 458.6,295 459.4,294.8 460.2,294.3 461,293.7 461.9,293.5 462.7,292.9 463.5,292.9 464.3,292.9 465.1,292.9 466,293.2 466.8,293.9 467.6,294.4 468.4,294.4 469.3,294.7 470.1,294 470.9,293.9 471.7,293.4 472.5,293.3 473.4,293.1 474.2,293.2 475,292.9 475.8,292.7 476.7,293.5 477.5,293.7 478.3,294.1 479.1,294.3 480,294 480.8,293.7 481.6,293.8 482.4,293.5 483.2,293.8 484.1,294.1 484.9,294.4 485.7,294.4 486.5,294.6 487.4,294.3 488.2,294 489,293.9 489.8,293.6 490.7,293.9 491.5,293.6 492.3,293.8 493.1,293.8 493.9,294 494.8,293.8 495.6,294.3 496.4,295 497.2,295.2 498.1,295 498.9,295.3 499.7,294.6 500.5,294.2 501.4,293.5 502.2,293.4 503,293.4 503.8,293.7 504.6,293.6 505.5,293.9 506.3,294.2 507.1,294 507.9,294.1 508.8,294.6 509.6,294.4 510.4,294.1 511.2,293.7 512,293.4 512.9,293.3 513.7,293.6 514.5,293.7 515.3,294.2 516.2,294.4 517,294.5 517.8,294.3 518.6,294.8 519.5,294.7 520.3,294.6 521.1,294 521.9,294 522.7,294 523.6,293.7 524.4,294.1 525.2,294.4 526,294.3 526.9,293.9 527.7,294 528.5,294 529.3,293.9 530.2,293.8 531,293.9 531.8,293.5 532.6,293.5 533.4,293.1 534.3,293.4 535.1,293.1 535.9,293.7 536.7,294 537.6,294.1 538.4,294.2 539.2,294.4 540,294.6 540.9,294.1 541.7,294.3 542.5,294.5 543.3,294.1 544.1,294 545,294.1 545.8,294.5 546.6,294.4 547.4,294.2 548.3,294 549.1,293.7 549.9,293.1 550.7,292.7 551.5,292.7 552.4,292.8 553.2,293 554,293.4 554.8,293.6 555.7,294.3 556.5,294.5 557.3,294.4 558.1,294.3 559,293.8 559.8,293.8 560.6,293.7 561.4,293.8 562.2,294.1 563.1,294 563.9,293.8 564.7,293.7 565.5,294 566.4,294 567.2,294 568,294.1 568.8,293.8 569.7,293.9 570.5,293.9 571.3,294 572.1,293.8 572.9,293.6 573.8,293.6 574.6,293.5 575.4,293.8 576.2,294.1 577.1,294.5 577.9,294.4 578.7,294.4 579.5,294.4 580.4,294.2 581.2,294.2 582,294.5 582.8,294.5 583.6,294.4 584.5,294.6 585.3,294.8 586.1,294.6 586.9,294.2 587.8,294.4 588.6,293.8 589.4,293.9 590.2,293.7 591,293.6 591.9,293.8 592.7,293.7 593.5,293.6 594.3,293.4 595.2,293.9 596,293.7 596.8,293.6 597.6,294 598.5,294 599.3,294 600.1,293.6" fill="none" stroke="#22c19f" stroke-width="0.95" stroke-linejoin="round" opacity="1"/>
<polyline points="334.3,293.3 335.1,293.2 335.9,292.9 336.8,293.4 337.6,294.2 338.4,294.9 339.2,294.9 340.1,295.1 340.9,294.8 341.7,294.1 342.5,293.6 343.4,293.4 344.2,293.4 345,293.4 345.8,293.6 346.6,293.5 347.5,294 348.3,294.7 349.1,294.4 349.9,294.6 350.8,294.6 351.6,294.1 352.4,293.5 353.2,293.7 354,293.8 354.9,293.8 355.7,294.3 356.5,294.2 357.3,294.5 358.2,294.8 359,294.7 359.8,294.7 360.6,294.5 361.5,294.3 362.3,293.9 363.1,293.9 363.9,293.6 364.7,293.6 365.6,293.4 366.4,293.6 367.2,293.7 368,294.6 368.9,294.7 369.7,294.9 370.5,294.7 371.3,294.6 372.2,294.1 373,293.9 373.8,293.8 374.6,293.8 375.4,293.6 376.3,293.8 377.1,293.8 377.9,294.3 378.7,294.3 379.6,294.6 380.4,294.1 381.2,294.4 382,294 382.9,293.8 383.7,293.9 384.5,294.3 385.3,294.2 386.1,294.4 387,294.8 387.8,295.1 388.6,294.8 389.4,294.8 390.3,294.6 391.1,294.1 391.9,293.7 392.7,293.6 393.5,293.4 394.4,293.3 395.2,293.6 396,294 396.8,294.1 397.7,294.8 398.5,294.5 399.3,294.8 400.1,294.3 401,294.3 401.8,293.7 402.6,293.7 403.4,293.6 404.2,293.8 405.1,293.7 405.9,293.9 406.7,294.2 407.5,294.3 408.4,294 409.2,294.4 410,294.1 410.8,294.1 411.7,294.3 412.5,294.1 413.3,294 414.1,294.6 414.9,294.5 415.8,294.3 416.6,294.7 417.4,295.2 418.2,294.9 419.1,295.2 419.9,295.3 420.7,295.4 421.5,294.8 422.4,294.2 423.2,293.8 424,293.4 424.8,293.2 425.6,293.1 426.5,293.6 427.3,294.2 428.1,294.3 428.9,294.6 429.8,294.9 430.6,294.5 431.4,294 432.2,294 433,294 433.9,293.6 434.7,294 435.5,294 436.3,294.4 437.2,295 438,295.1 438.8,295.2 439.6,295 440.5,294.7 441.3,294.1 442.1,293.7 442.9,293.6 443.7,293.4 444.6,293.3 445.4,293.3 446.2,293.7 447,294.2 447.9,294.5 448.7,294.8 449.5,294.9 450.3,294.8 451.2,294.8 452,294.7 452.8,294.5 453.6,294.7 454.4,294.6 455.3,294.3 456.1,294.4 456.9,295.1 457.7,294.6 458.6,294.4 459.4,294.3 460.2,294.1 461,293.5 461.9,293.4 462.7,293.4 463.5,293.4 464.3,293.5 465.1,293.4 466,294.1 466.8,295 467.6,294.9 468.4,295.1 469.3,295.1 470.1,294.8 470.9,294 471.7,293.9 472.5,293.5 473.4,293.3 474.2,293.2 475,293.4 475.8,293.7 476.7,294.4 477.5,294.6 478.3,294.7 479.1,294.5 480,294.1 480.8,293.8 481.6,293.5 482.4,293.6 483.2,294 484.1,293.9 484.9,294.2 485.7,294.5 486.5,294.9 487.4,294.8 488.2,295 489,294.7 489.8,294.5 490.7,294.4 491.5,294 492.3,294.1 493.1,293.9 493.9,293.9 494.8,293.7 495.6,294 496.4,294.7 497.2,294.5 498.1,294.9 498.9,295 499.7,294.5 500.5,294 501.4,293.7 502.2,293.8 503,293.6 503.8,294 504.6,294.3 505.5,295 506.3,295.5 507.1,295.1 507.9,294.8 508.8,294.6 509.6,294.4 510.4,293.7 511.2,293.7 512,294.2 512.9,294 513.7,294 514.5,294.3 515.3,294.6 516.2,294.6 517,294.7 517.8,294.7 518.6,294.2 519.5,294 520.3,293.9 521.1,293.8 521.9,294 522.7,294.4 523.6,294.4 524.4,294.5 525.2,294.6 526,294.7 526.9,294.3 527.7,294.4 528.5,294.4 529.3,293.9 530.2,293.7 531,293.4 531.8,293.2 532.6,292.9 533.4,293 534.3,293 535.1,293.5 535.9,294.4 536.7,294.5 537.6,294.8 538.4,294.9 539.2,294.6 540,294.2 540.9,293.7 541.7,293.9 542.5,293.9 543.3,294 544.1,294.1 545,294.2 545.8,294.7 546.6,294.5 547.4,294.6 548.3,294.6 549.1,294.5 549.9,293.9 550.7,293.5 551.5,293.3 552.4,293.1 553.2,292.9 554,293.2 554.8,293.7 555.7,294.3 556.5,294.3 557.3,294.6 558.1,294.4 559,294.1 559.8,293.9 560.6,293.7 561.4,294.2 562.2,294.3 563.1,294.3 563.9,294.2 564.7,294.6 565.5,294.6 566.4,293.9 567.2,293.9 568,294.2 568.8,294 569.7,293.7 570.5,294.1 571.3,294.4 572.1,294 572.9,293.6 573.8,293.7 574.6,293.6 575.4,294.1 576.2,294.2 577.1,294.7 577.9,294.8 578.7,294.8 579.5,294.1 580.4,294.1 581.2,293.7 582,293.9 582.8,294 583.6,294.6 584.5,294.7 585.3,295.2 586.1,294.6 586.9,294.8 587.8,294.1 588.6,293.8 589.4,293.5 590.2,293.2 591,293.4 591.9,293.7 592.7,293.9 593.5,293.9 594.3,294.2 595.2,294.4 596,294.3 596.8,294.3 597.6,294.2 598.5,294.4 599.3,294 600.1,293.5" fill="none" stroke="#2fcbe0" stroke-width="0.95" stroke-linejoin="round" opacity="1"/>
<circle cx="593.9" cy="305.3" r="1.6" fill="#f01f1f"/>
<rect x="335" y="345.2" width="265.8" height="9.4" fill="#d3dcf6"/>
<polygon points="334.3,351.9 336.8,353.5 339.2,353.6 341.7,353.1 344.2,352.2 346.6,353.9 349.1,354.2 351.6,354.2 354,351.5 356.5,353.3 359,353.5 361.5,353.4 363.9,352.2 366.4,354.2 368.9,354.2 371.3,353.1 373.8,351.4 376.3,353.6 378.7,354.2 381.2,353.5 383.7,352.2 386.1,353.5 388.6,354.2 391.1,354.2 393.5,351.5 396,353.8 398.5,352.9 401,353 403.4,351.2 405.9,353.2 408.4,353.4 410.8,353.6 413.3,351.7 415.8,353.7 418.2,354.1 420.7,353.3 423.2,352.8 425.6,354 428.1,353.9 430.6,353.5 433,351.6 435.5,353.5 438,353.5 440.5,352.5 442.9,352.4 445.4,354.1 447.9,353.7 450.3,353.6 452.8,351.7 455.3,353.5 457.7,353.9 460.2,354.2 462.7,352.5 465.1,353.7 467.6,353.4 470.1,354.1 472.5,351.6 475,354 477.5,353.7 480,353.2 482.4,351.6 484.9,353.9 487.4,354.1 489.8,353.3 492.3,351 494.8,353.9 497.2,354.2 499.7,354.2 502.2,352 504.6,353.6 507.1,353.8 509.6,353.6 512,350.2 514.5,353.3 517,354.2 519.5,353.5 521.9,350.7 524.4,353.9 526.9,354.2 529.3,354.2 531.8,350.3 534.3,354.2 536.7,354.2 539.2,354.2 541.7,350.8 544.1,354.1 546.6,354.2 549.1,353.6 551.5,351 554,354.2 556.5,354.2 559,353.5 561.4,350.6 563.9,354.2 566.4,354.2 568.8,354 571.3,350.2 573.8,353.3 576.2,354.2 578.7,353.8 581.2,350.2 583.6,353.7 586.1,354.1 588.6,353.5 591,350.9 593.5,354.2 596,354.2 598.5,354.2 598.5,354.6 334.3,354.6" fill="#c3cff2" opacity="1"/>
<rect x="335" y="353.3" width="265.8" height="1.3" fill="#a9bcef"/>
<rect x="335" y="345.2" width="265.8" height="0.8" fill="#dfe6fa"/>
<rect x="335" y="347.6" width="2.1" height="4.6" rx="0.8" fill="#2c3fb4"/>
<rect x="598.7" y="347.6" width="2.1" height="4.6" rx="0.8" fill="#2c3fb4"/>
<line x1="30.4" y1="408.2" x2="295.2" y2="408.2" stroke="#ececec" stroke-width="0.5"/>
<line x1="30.4" y1="416.5" x2="295.2" y2="416.5" stroke="#ececec" stroke-width="0.5"/>
<line x1="30.4" y1="424.7" x2="295.2" y2="424.7" stroke="#ececec" stroke-width="0.5"/>
<line x1="30.4" y1="433" x2="295.2" y2="433" stroke="#ececec" stroke-width="0.5"/>
<line x1="30.4" y1="441.2" x2="295.2" y2="441.2" stroke="#ececec" stroke-width="0.5"/>
<line x1="177.5" y1="408.2" x2="177.5" y2="451.1" stroke="#b4b4b4" stroke-width="0.55"/>
<line x1="236.5" y1="408.2" x2="236.5" y2="451.1" stroke="#b4b4b4" stroke-width="0.55"/>
<line x1="30.4" y1="408.2" x2="30.4" y2="449.5" stroke="#c4c4c4" stroke-width="0.9"/>
<line x1="30.4" y1="449.5" x2="295.2" y2="449.5" stroke="#c8c8c8" stroke-width="0.6"/>
<line x1="30.5" y1="449.5" x2="30.5" y2="450.9" stroke="#999999" stroke-width="0.5"/>
<line x1="59.5" y1="449.5" x2="59.5" y2="450.9" stroke="#999999" stroke-width="0.5"/>
<line x1="118.5" y1="449.5" x2="118.5" y2="450.9" stroke="#999999" stroke-width="0.5"/>
<line x1="177.5" y1="449.5" x2="177.5" y2="450.9" stroke="#999999" stroke-width="0.5"/>
<line x1="236.5" y1="449.5" x2="236.5" y2="450.9" stroke="#999999" stroke-width="0.5"/>
<line x1="295.5" y1="449.5" x2="295.5" y2="450.9" stroke="#999999" stroke-width="0.5"/>
<line x1="295.5" y1="408.2" x2="295.5" y2="449.5" stroke="#e2e2e2" stroke-width="0.5"/>
<text x="27.8" y="409.4" font-size="3.3" fill="#a0a0a0" text-anchor="end">100</text>
<text x="27.8" y="417.7" font-size="3.3" fill="#a0a0a0" text-anchor="end">80</text>
<text x="27.8" y="425.9" font-size="3.3" fill="#a0a0a0" text-anchor="end">60</text>
<text x="27.8" y="434.2" font-size="3.3" fill="#a0a0a0" text-anchor="end">40</text>
<text x="27.8" y="442.4" font-size="3.3" fill="#a0a0a0" text-anchor="end">20</text>
<text x="27.8" y="450.7" font-size="3.3" fill="#a0a0a0" text-anchor="end">0</text>
<text x="30.4" y="455.8" font-size="4.1" fill="#a8a8a8" text-anchor="middle">06-03</text>
<text x="30.4" y="459.5" font-size="3.69" fill="#a8a8a8" text-anchor="middle">周日</text>
<text x="59.8" y="455.8" font-size="4.1" fill="#a8a8a8" text-anchor="middle">06-06</text>
<text x="59.8" y="459.5" font-size="3.69" fill="#a8a8a8" text-anchor="middle">周三</text>
<text x="118.7" y="455.8" font-size="4.1" fill="#a8a8a8" text-anchor="middle">06-12</text>
<text x="118.7" y="459.5" font-size="3.69" fill="#a8a8a8" text-anchor="middle">周二</text>
<text x="177.5" y="455.8" font-size="4.1" fill="#a8a8a8" text-anchor="middle">06-18</text>
<text x="177.5" y="459.5" font-size="3.69" fill="#a8a8a8" text-anchor="middle">周一</text>
<text x="236.4" y="455.8" font-size="4.1" fill="#a8a8a8" text-anchor="middle">06-24</text>
<text x="236.4" y="459.5" font-size="3.69" fill="#a8a8a8" text-anchor="middle">周日</text>
<text x="295.2" y="455.8" font-size="4.1" fill="#a8a8a8" text-anchor="middle">06-30</text>
<text x="295.2" y="459.5" font-size="3.69" fill="#a8a8a8" text-anchor="middle">周六</text>
<line x1="98.6" y1="399.4" x2="103.4" y2="399.4" stroke="#22c19f" stroke-width="0.7"/>
<circle cx="101" cy="399.4" r="1.1" fill="#22c19f"/>
<text x="105.2" y="400.6" font-size="3.5" fill="#555" text-anchor="start">10.200.1.190</text>
<line x1="132.6" y1="399.4" x2="137.4" y2="399.4" stroke="#3f8ff6" stroke-width="0.7"/>
<circle cx="135" cy="399.4" r="1.1" fill="#3f8ff6"/>
<text x="139.2" y="400.6" font-size="3.5" fill="#555" text-anchor="start">10.23.51.35</text>
<line x1="167.6" y1="399.4" x2="172.4" y2="399.4" stroke="#3b3ddc" stroke-width="0.7"/>
<circle cx="170" cy="399.4" r="1.1" fill="#3b3ddc"/>
<text x="174.2" y="400.6" font-size="3.5" fill="#555" text-anchor="start">10.28.0.19</text>
<line x1="200.6" y1="399.4" x2="205.4" y2="399.4" stroke="#2fcbe0" stroke-width="0.7"/>
<circle cx="203" cy="399.4" r="1.1" fill="#2fcbe0"/>
<text x="207.2" y="400.6" font-size="3.5" fill="#555" text-anchor="start">10.28.0.19</text>
<polyline points="30.4,432.6 31.2,432.6 32,432.6 32.9,432.6 33.7,432.6 34.5,432.6 35.3,432.6 36.1,432.6 37,432.6 37.8,432.6 38.6,432.6 39.4,432.6 40.2,432.6 41.1,432.6 41.9,432.6 42.7,432.6 43.5,432.6 44.3,432.6 45.2,432.6 46,432.6 46.8,432.6 47.6,432.6 48.4,432.6 49.3,432.6 50.1,432.6 50.9,432.6 51.7,432.6 52.5,432.6 53.4,432.6 54.2,432.6 55,432.6 55.8,432.6 56.6,432.6 57.5,432.6 58.3,432.6 59.1,432.6 59.9,432.6 60.7,432.6 61.6,432.6 62.4,432.6 63.2,432.6 64,427.6 64.8,423.8 65.7,423.9 66.5,424 67.3,424.1 68.1,424.2 68.9,424.3 69.8,424.4 70.6,424.4 71.4,424.5 72.2,424.6 73,424.7 73.9,424.8 74.7,424.9 75.5,424.9 76.3,425 77.1,425.1 77.9,425.2 78.8,425.3 79.6,425.4 80.4,425.5 81.2,425.5 82,425.6 82.9,425.7 83.7,425.8 84.5,425.9 85.3,426 86.1,426 87,426.1 87.8,426.2 88.6,426.3 89.4,426.4 90.2,426.5 91.1,426.5 91.9,426.6 92.7,426.7 93.5,426.8 94.3,426.9 95.2,427 96,427.1 96.8,427.1 97.6,427.2 98.4,427.3 99.3,427.4 100.1,427.5 100.9,427.6 101.7,427.6 102.5,427.7 103.4,427.8 104.2,427.9 105,428 105.8,428.1 106.6,428.2 107.5,428.2 108.3,428.3 109.1,428.4 109.9,428.5 110.7,428.5 111.6,428.6 112.4,428.6 113.2,428.6 114,428.6 114.8,428.7 115.7,428.7 116.5,428.7 117.3,428.7 118.1,428.8 118.9,428.8 119.8,428.8 120.6,428.8 121.4,428.9 122.2,428.9 123,428.9 123.9,429 124.7,429 125.5,429 126.3,429 127.1,429.1 128,429.1 128.8,429.1 129.6,429.1 130.4,429.2 131.2,429.2 132.1,429.2 132.9,429.3 133.7,429.3 134.5,429.3 135.3,429.3 136.2,429.4 137,429.4 137.8,429.4 138.6,429.4 139.4,429.5 140.3,429.5 141.1,429.5 141.9,429.5 142.7,429.6 143.5,429.6 144.4,429.6 145.2,429.7 146,429.7 146.8,429.7 147.6,429.7 148.5,429.8 149.3,429.8 150.1,429.8 150.9,429.8 151.7,429.9 152.6,429.9 153.4,429.9 154.2,430 155,430 155.8,430 156.7,430 157.5,430.1 158.3,430.1 159.1,430.1 159.9,430.1 160.8,430.2 161.6,430.2 162.4,430.2 163.2,430.2 164,430.3 164.8,430.3 165.7,430.3 166.5,430.4 167.3,430.4 168.1,430.4 168.9,430.4 169.8,430.5 170.6,430.5 171.4,430.5 172.2,430.5 173,430.6 173.9,430.6 174.7,430.6 175.5,430.7 176.3,430.7 177.1,430.7 178,430.7 178.8,430.8 179.6,430.8 180.4,430.8 181.2,430.8 182.1,430.9 182.9,430.9 183.7,430.9 184.5,430.9 185.3,431 186.2,431 187,431 187.8,431 188.6,431.1 189.4,431.1 190.3,431.1 191.1,431.1 191.9,431.2 192.7,431.2 193.5,431.2 194.4,431.2 195.2,431.3 196,431.3 196.8,431.3 197.6,431.3 198.5,431.4 199.3,431.4 200.1,431.4 200.9,431.4 201.7,431.5 202.6,431.5 203.4,431.5 204.2,431.5 205,431.6 205.8,431.6 206.7,431.6 207.5,431.6 208.3,431.6 209.1,431.7 209.9,431.7 210.8,431.7 211.6,431.7 212.4,431.8 213.2,431.8 214,431.8 214.9,431.8 215.7,431.9 216.5,431.9 217.3,431.9 218.1,431.9 219,432 219.8,432 220.6,432.1 221.4,432.3 222.2,432.5 223.1,432.6 223.9,432.8 224.7,433 225.5,433.1 226.3,433.3 227.2,433.5 228,433.7 228.8,433.8 229.6,434 230.4,434.2 231.3,434.3 232.1,434.5 232.9,434.7 233.7,434.9 234.5,435 235.4,435.2 236.2,435.4 237,435.5 237.8,435.7 238.6,435.9 239.5,436 240.3,436.2 241.1,436.4 241.9,436.6 242.7,436.7 243.6,436.9 244.4,437.1 245.2,437.2 246,437.2 246.8,437.2 247.7,437.2 248.5,437.2 249.3,437.3 250.1,437.3 250.9,437.3 251.7,437.3 252.6,437.3 253.4,437.3 254.2,437.3 255,437.3 255.8,437.3 256.7,437.4 257.5,437.4 258.3,437.4 259.1,437.4 259.9,437.4 260.8,437.4 261.6,437.4 262.4,437.4 263.2,437.4 264,437.5 264.9,437.5 265.7,437.5 266.5,437.5 267.3,437.5 268.1,437.5 269,437.5 269.8,437.5 270.6,437.5 271.4,437.6 272.2,437.6 273.1,437.6 273.9,437.6 274.7,437.6 275.5,437.6 276.3,437.6 277.2,437.6 278,437.6 278.8,437.7 279.6,437.7 280.4,437.7 281.3,437.7 282.1,437.7 282.9,437.7 283.7,437.7 284.5,437.7 285.4,437.7 286.2,437.8 287,437.8 287.8,437.8 288.6,437.8 289.5,437.8 290.3,430.8 291.1,427.9 291.9,427.7 292.7,427.5 293.6,427.4 294.4,427.2 295.2,427" fill="none" stroke="#2fcbe0" stroke-width="1.0" stroke-linejoin="round" opacity="1"/>
<polyline points="30.4,438.1 31.2,438.1 32,438.1 32.9,438.1 33.7,438.1 34.5,438.1 35.3,438.1 36.1,438.1 37,438.1 37.8,438.1 38.6,438.1 39.4,438.1 40.2,438.1 41.1,438.1 41.9,438.1 42.7,438.1 43.5,438.1 44.3,438.1 45.2,438.1 46,438.1 46.8,438.1 47.6,438.1 48.4,438.1 49.3,438.1 50.1,438.1 50.9,438.1 51.7,438.1 52.5,438.1 53.4,438.1 54.2,438.1 55,438.1 55.8,438.1 56.6,438.1 57.5,438.1 58.3,438.1 59.1,438.1 59.9,438.1 60.7,438.1 61.6,438.1 62.4,438.1 63.2,438.1 64,429.8 64.8,423.7 65.7,423.7 66.5,423.8 67.3,423.9 68.1,424 68.9,424.1 69.8,424.2 70.6,424.3 71.4,424.4 72.2,425.1 73,427.3 73.9,429.6 74.7,430.1 75.5,430.1 76.3,430.2 77.1,430.3 77.9,430.4 78.8,430.5 79.6,433.1 80.4,436.8 81.2,437.2 82,437.2 82.9,437.2 83.7,437.2 84.5,437.2 85.3,437.2 86.1,437.2 87,437.2 87.8,437.2 88.6,437.2 89.4,437.2 90.2,437.2 91.1,437.2 91.9,437.2 92.7,437.2 93.5,437.2 94.3,437.2 95.2,437.2 96,437.2 96.8,437.2 97.6,437.2 98.4,437.2 99.3,437.2 100.1,437.2 100.9,437.2 101.7,437.2 102.5,437.2 103.4,437.2 104.2,437.2 105,437.2 105.8,437.2 106.6,437.3 107.5,437.3 108.3,437.3 109.1,437.3 109.9,437.3 110.7,437.3 111.6,437.3 112.4,437.3 113.2,437.3 114,437.3 114.8,437.3 115.7,437.3 116.5,437.3 117.3,437.3 118.1,437.3 118.9,437.3 119.8,437.3 120.6,437.3 121.4,437.3 122.2,437.3 123,437.3 123.9,437.3 124.7,437.3 125.5,437.3 126.3,437.3 127.1,437.3 128,437.3 128.8,437.3 129.6,437.3 130.4,437.3 131.2,437.3 132.1,437.3 132.9,437.3 133.7,437.3 134.5,437.3 135.3,437.3 136.2,437.3 137,437.3 137.8,437.3 138.6,437.3 139.4,437.3 140.3,437.3 141.1,437.3 141.9,437.3 142.7,437.3 143.5,437.3 144.4,437.3 145.2,437.3 146,437.3 146.8,437.3 147.6,437.3 148.5,437.3 149.3,437.3 150.1,437.3 150.9,437.3 151.7,437.3 152.6,437.3 153.4,437.3 154.2,437.3 155,437.3 155.8,437.3 156.7,437.3 157.5,437.3 158.3,437.3 159.1,437.4 159.9,437.4 160.8,437.4 161.6,437.4 162.4,437.4 163.2,437.4 164,437.4 164.8,437.4 165.7,437.4 166.5,437.4 167.3,437.4 168.1,437.4 168.9,437.4 169.8,437.4 170.6,437.4 171.4,437.4 172.2,437.4 173,437.4 173.9,437.4 174.7,437.4 175.5,437.4 176.3,437.4 177.1,437.4 178,437.4 178.8,437.4 179.6,437.4 180.4,437.4 181.2,437.4 182.1,437.4 182.9,437.4 183.7,437.4 184.5,437.4 185.3,437.4 186.2,437.4 187,437.4 187.8,437.4 188.6,437.4 189.4,437.4 190.3,437.4 191.1,437.4 191.9,437.4 192.7,437.4 193.5,437.4 194.4,437.4 195.2,437.4 196,437.4 196.8,437.4 197.6,437.4 198.5,437.4 199.3,437.4 200.1,437.4 200.9,437.4 201.7,437.4 202.6,437.4 203.4,437.4 204.2,437.4 205,437.4 205.8,437.4 206.7,437.4 207.5,437.4 208.3,437.4 209.1,437.4 209.9,437.4 210.8,437.4 211.6,437.5 212.4,437.5 213.2,437.5 214,437.5 214.9,437.5 215.7,437.5 216.5,437.5 217.3,437.5 218.1,437.5 219,437.5 219.8,437.5 220.6,437.5 221.4,437.5 222.2,437.5 223.1,437.5 223.9,437.5 224.7,437.5 225.5,437.5 226.3,437.5 227.2,437.5 228,437.5 228.8,437.5 229.6,437.5 230.4,437.5 231.3,437.5 232.1,437.5 232.9,437.5 233.7,437.5 234.5,437.5 235.4,437.5 236.2,437.5 237,437.5 237.8,437.5 238.6,437.5 239.5,437.5 240.3,437.5 241.1,437.5 241.9,437.5 242.7,437.5 243.6,437.5 244.4,437.5 245.2,437.5 246,437.5 246.8,437.5 247.7,437.5 248.5,437.5 249.3,437.5 250.1,437.5 250.9,437.5 251.7,437.5 252.6,437.5 253.4,437.5 254.2,437.5 255,437.5 255.8,437.5 256.7,437.5 257.5,437.5 258.3,437.5 259.1,437.5 259.9,437.5 260.8,437.5 261.6,437.5 262.4,437.5 263.2,437.5 264,437.6 264.9,437.6 265.7,437.6 266.5,437.6 267.3,437.6 268.1,437.6 269,437.6 269.8,437.6 270.6,437.6 271.4,437.6 272.2,437.6 273.1,437.6 273.9,437.6 274.7,437.6 275.5,437.6 276.3,437.6 277.2,437.6 278,437.6 278.8,437.6 279.6,437.6 280.4,437.6 281.3,437.6 282.1,437.6 282.9,437.6 283.7,437.6 284.5,437.6 285.4,437.6 286.2,437.6 287,437.6 287.8,437.6 288.6,437.6 289.5,437.6 290.3,438.2 291.1,438.4 291.9,438.4 292.7,438.3 293.6,438.2 294.4,438.1 295.2,438" fill="none" stroke="#22c19f" stroke-width="1.0" stroke-linejoin="round" opacity="1"/>
<polyline points="30.4,422.1 31.2,422.3 32,421.6 32.9,421 33.7,420.5 34.5,420.2 35.3,420.9 36.1,421.2 37,421 37.8,421.2 38.6,421.3 39.4,422.2 40.2,421.6 41.1,422.3 41.9,421.4 42.7,421.5 43.5,421.1 44.3,421 45.2,421.6 46,421.2 46.8,422 47.6,421 48.4,420.7 49.3,420 50.1,420.8 50.9,421.9 51.7,422.9 52.5,422.5 53.4,421.5 54.2,421.4 55,421.3 55.8,422.2 56.6,422 57.5,422.1 58.3,421.3 59.1,420.8 59.9,420.2 60.7,420.5 61.6,420.7 62.4,421.7 63.2,421.3 64,421.8 64.8,420.8 65.7,420.9 66.5,421.1 67.3,421.2 68.1,421.8 68.9,421.4 69.8,421.6 70.6,421.3 71.4,420.8 72.2,421.2 73,421.2 73.9,421.8 74.7,421.9 75.5,421.6 76.3,421.3 77.1,420.8 77.9,421.8 78.8,422.1 79.6,421.9 80.4,421.3 81.2,420.6 82,421 82.9,420.5 83.7,420.7 84.5,420.7 85.3,421.9 86.1,423.6 87,425.3 87.8,426.6 88.6,427.8 89.4,427.4 90.2,428.2 91.1,428.2 91.9,428.5 92.7,427.1 93.5,426.4 94.3,425.3 95.2,425.1 96,423.7 96.8,423.8 97.6,422.4 98.4,422.4 99.3,422.8 100.1,422.6 100.9,422.3 101.7,421.8 102.5,422.4 103.4,422.3 104.2,421.9 105,421.9 105.8,422 106.6,421.8 107.5,421.9 108.3,422.7 109.1,423.6 109.9,423.8 110.7,423 111.6,422.4 112.4,422.1 113.2,422.6 114,423 114.8,422.9 115.7,422.5 116.5,422 117.3,421.5 118.1,421.3 118.9,421.7 119.8,421.7 120.6,422.7 121.4,423.1 122.2,423.2 123,423.3 123.9,422.9 124.7,422.7 125.5,422.1 126.3,421.7 127.1,422.1 128,421.7 128.8,421.6 129.6,421.2 130.4,421.7 131.2,422 132.1,422.3 132.9,422.8 133.7,423.3 134.5,423.7 135.3,423.5 136.2,422.9 137,423.2 137.8,423.2 138.6,423.2 139.4,423.2 140.3,422.6 141.1,422.4 141.9,422.1 142.7,421.8 143.5,422.4 144.4,422.2 145.2,422.7 146,422.8 146.8,423.2 147.6,423.7 148.5,423.6 149.3,423.8 150.1,423.6 150.9,423.5 151.7,423.8 152.6,423.6 153.4,423.6 154.2,423.2 155,423.1 155.8,423.4 156.7,423.1 157.5,422.7 158.3,422.2 159.1,422.2 159.9,422.8 160.8,423 161.6,422.6 162.4,422 163.2,422 164,422.5 164.8,423.1 165.7,422.9 166.5,422.6 167.3,422.6 168.1,423.2 168.9,423.2 169.8,423.1 170.6,422.7 171.4,423.3 172.2,423.2 173,423 173.9,423.5 174.7,423.9 175.5,423.9 176.3,423.6 177.1,423.4 178,423.9 178.8,424.1 179.6,423.4 180.4,422.7 181.2,421.7 182.1,422.6 182.9,423.5 183.7,423.5 184.5,423.1 185.3,423.1 186.2,423.7 187,423.8 187.8,423.8 188.6,424.1 189.4,423.5 190.3,423.6 191.1,422.8 191.9,423.4 192.7,423.2 193.5,423.2 194.4,422.8 195.2,423 196,423.6 196.8,424.4 197.6,423.4 198.5,423.3 199.3,423 200.1,424 200.9,424.1 201.7,423.6 202.6,422.6 203.4,421.9 204.2,421.9 205,422.5 205.8,422.6 206.7,422.5 207.5,421.9 208.3,422.4 209.1,423.2 209.9,423.2 210.8,423 211.6,423.2 212.4,423.5 213.2,423.5 214,423.3 214.9,422.9 215.7,423.4 216.5,423.3 217.3,424.2 218.1,423.5 219,423.2 219.8,423.5 220.6,423.1 221.4,422.6 222.2,422.3 223.1,423.4 223.9,423.4 224.7,422.9 225.5,422.3 226.3,423.1 227.2,423.5 228,423.8 228.8,422.9 229.6,422.5 230.4,422.4 231.3,423.2 232.1,423.1 232.9,422.5 233.7,422 234.5,422.4 235.4,422.7 236.2,422.5 237,422.1 237.8,422.5 238.6,423.4 239.5,424.1 240.3,424.4 241.1,423.5 241.9,423.4 242.7,422.8 243.6,423.7 244.4,423.6 245.2,423.9 246,424 246.8,424.5 247.7,423.9 248.5,423.3 249.3,422.3 250.1,422.8 250.9,422.5 251.7,423.3 252.6,423 253.4,422.8 254.2,423 255,422.7 255.8,423.1 256.7,422.6 257.5,422.5 258.3,423.2 259.1,423.4 259.9,423.5 260.8,423.3 261.6,422.6 262.4,423.1 263.2,422.5 264,422.7 264.9,422.6 265.7,423.1 266.5,423.6 267.3,424.1 268.1,423.9 269,423.5 269.8,422.7 270.6,423.2 271.4,423.2 272.2,423.2 273.1,422.5 273.9,422.6 274.7,423.4 275.5,423.7 276.3,424.1 277.2,423.7 278,423.9 278.8,423.2 279.6,423.1 280.4,423.3 281.3,423.1 282.1,423.2 282.9,422.6 283.7,422.9 284.5,422.7 285.4,422.7 286.2,423 287,422.7 287.8,422.7 288.6,422.3 289.5,422.5 290.3,416.6 291.1,414.4 291.9,415.1 292.7,414.2 293.6,413.5 294.4,412.7 295.2,413" fill="none" stroke="#3f8ff6" stroke-width="0.8" stroke-linejoin="round" opacity="1"/>
<polyline points="30.4,429.7 31.2,429.7 32,429.7 32.9,429.7 33.7,429.7 34.5,429.7 35.3,429.7 36.1,429.7 37,429.7 37.8,429.8 38.6,429.8 39.4,429.8 40.2,429.8 41.1,429.8 41.9,429.8 42.7,429.8 43.5,429.8 44.3,429.8 45.2,429.8 46,429.8 46.8,429.8 47.6,429.8 48.4,429.8 49.3,429.8 50.1,429.8 50.9,429.9 51.7,429.9 52.5,429.9 53.4,429.9 54.2,429.9 55,429.9 55.8,429.9 56.6,429.9 57.5,430.6 58.3,431.5 59.1,431.6 59.9,431.7 60.7,431.8 61.6,432 62.4,432.1 63.2,432.2 64,421.6 64.8,413.5 65.7,413.6 66.5,413.6 67.3,413.7 68.1,413.8 68.9,413.8 69.8,413.9 70.6,413.9 71.4,414 72.2,414 73,414.1 73.9,414.2 74.7,414.2 75.5,414.3 76.3,414.3 77.1,414.4 77.9,414.5 78.8,414.5 79.6,414.6 80.4,414.6 81.2,414.7 82,414.7 82.9,414.8 83.7,414.9 84.5,414.9 85.3,415 86.1,415 87,415.1 87.8,415.1 88.6,415.2 89.4,415.3 90.2,415.3 91.1,415.4 91.9,415.4 92.7,415.5 93.5,415.5 94.3,415.6 95.2,415.7 96,415.7 96.8,415.8 97.6,415.8 98.4,415.9 99.3,415.9 100.1,416 100.9,416.1 101.7,416.1 102.5,416.2 103.4,416.2 104.2,416.3 105,416.3 105.8,416.3 106.6,416.4 107.5,416.4 108.3,416.5 109.1,416.5 109.9,416.6 110.7,416.6 111.6,416.7 112.4,416.7 113.2,416.8 114,416.8 114.8,416.9 115.7,416.9 116.5,417 117.3,417 118.1,417.1 118.9,417.1 119.8,417.2 120.6,417.2 121.4,417.3 122.2,417.3 123,417.4 123.9,417.4 124.7,417.5 125.5,417.5 126.3,417.6 127.1,417.6 128,417.7 128.8,417.7 129.6,417.8 130.4,417.8 131.2,417.9 132.1,417.9 132.9,418 133.7,418 134.5,418.1 135.3,418.1 136.2,418.2 137,418.2 137.8,418.3 138.6,418.3 139.4,418.4 140.3,418.4 141.1,418.5 141.9,418.5 142.7,418.6 143.5,418.6 144.4,418.7 145.2,418.7 146,418.8 146.8,418.8 147.6,418.9 148.5,418.9 149.3,419 150.1,419 150.9,419.1 151.7,419.1 152.6,419.2 153.4,419.2 154.2,419.3 155,419.3 155.8,419.3 156.7,419.4 157.5,419.4 158.3,419.5 159.1,419.5 159.9,419.6 160.8,419.6 161.6,419.7 162.4,419.7 163.2,419.8 164,419.8 164.8,419.9 165.7,419.9 166.5,420 167.3,420 168.1,420.1 168.9,420.1 169.8,420.2 170.6,420.2 171.4,420.3 172.2,420.3 173,420.4 173.9,420.4 174.7,420.5 175.5,420.5 176.3,420.6 177.1,420.6 178,420.7 178.8,420.7 179.6,420.8 180.4,420.8 181.2,420.9 182.1,420.9 182.9,421 183.7,421 184.5,421.1 185.3,421.1 186.2,421.2 187,421.2 187.8,421.3 188.6,421.3 189.4,421.4 190.3,421.4 191.1,421.5 191.9,421.5 192.7,421.6 193.5,421.6 194.4,421.7 195.2,421.7 196,421.8 196.8,421.8 197.6,421.9 198.5,421.9 199.3,422 200.1,422 200.9,422.1 201.7,422.2 202.6,422.3 203.4,422.4 204.2,422.5 205,422.6 205.8,422.7 206.7,422.8 207.5,422.9 208.3,423 209.1,423.1 209.9,423.2 210.8,423.3 211.6,423.4 212.4,423.5 213.2,423.6 214,423.7 214.9,423.8 215.7,423.9 216.5,424 217.3,424.1 218.1,424.2 219,424.3 219.8,424.4 220.6,424.5 221.4,424.6 222.2,424.7 223.1,424.8 223.9,424.9 224.7,425 225.5,425.1 226.3,425.2 227.2,425.3 228,425.4 228.8,425.5 229.6,425.6 230.4,425.7 231.3,425.8 232.1,425.9 232.9,426 233.7,426.1 234.5,426.2 235.4,426.3 236.2,426.4 237,426.5 237.8,426.6 238.6,426.7 239.5,426.8 240.3,426.9 241.1,427 241.9,427.1 242.7,427.2 243.6,427.3 244.4,427.4 245.2,427.6 246,427.8 246.8,428 247.7,428.3 248.5,428.5 249.3,428.8 250.1,429 250.9,429.3 251.7,429.5 252.6,429.8 253.4,430 254.2,430.3 255,430.5 255.8,430.8 256.7,431 257.5,431.2 258.3,431.5 259.1,431.7 259.9,432 260.8,432.2 261.6,432.5 262.4,432.7 263.2,433 264,433.2 264.9,433.5 265.7,433.5 266.5,433.5 267.3,433.5 268.1,433.6 269,433.6 269.8,433.6 270.6,433.6 271.4,433.6 272.2,433.6 273.1,433.7 273.9,433.7 274.7,433.7 275.5,433.7 276.3,433.7 277.2,433.7 278,433.8 278.8,433.8 279.6,433.8 280.4,433.8 281.3,433.8 282.1,433.8 282.9,433.9 283.7,433.9 284.5,433.9 285.4,433.9 286.2,433.9 287,433.9 287.8,434 288.6,434 289.5,434 290.3,423.7 291.1,419.5 291.9,419.5 292.7,419.5 293.6,419.5 294.4,419.5 295.2,419.5" fill="none" stroke="#3b3ddc" stroke-width="1.1" stroke-linejoin="round" opacity="1"/>
<circle cx="64.2" cy="413.5" r="1.6" fill="#f01f1f"/>
<circle cx="64.2" cy="423.6" r="1.6" fill="#f01f1f"/>
<circle cx="63.6" cy="430.5" r="1.6" fill="#f01f1f"/>
<circle cx="63.6" cy="432.4" r="1.6" fill="#f01f1f"/>
<circle cx="63.8" cy="434.2" r="1.6" fill="#f01f1f"/>
<circle cx="63.8" cy="436.8" r="1.6" fill="#f01f1f"/>
<circle cx="290.8" cy="419" r="1.6" fill="#f01f1f"/>
<circle cx="291.2" cy="417.3" r="1.6" fill="#f01f1f"/>
<circle cx="290.7" cy="428" r="1.6" fill="#f01f1f"/>
<circle cx="290.7" cy="438.5" r="1.6" fill="#f01f1f"/>
<rect x="30.6" y="460.9" width="265" height="9.4" fill="#d3dcf6"/>
<polygon points="60,469.9 63,469.9 66,466.7 70,466.9 75,466.4 80,467.7 90,468.8 95,469.3 100,469.9 100,470.3 60,470.3" fill="#c3cff2" opacity="1"/>
<rect x="30.6" y="469" width="265" height="1.3" fill="#a9bcef"/>
<rect x="30.6" y="460.9" width="265" height="0.8" fill="#dfe6fa"/>
<rect x="30.6" y="463.3" width="2.1" height="4.6" rx="0.8" fill="#2c3fb4"/>
<rect x="293.5" y="463.3" width="2.1" height="4.6" rx="0.8" fill="#2c3fb4"/>
<line x1="334.3" y1="408.2" x2="600.1" y2="408.2" stroke="#ececec" stroke-width="0.5"/>
<line x1="334.3" y1="416.5" x2="600.1" y2="416.5" stroke="#ececec" stroke-width="0.5"/>
<line x1="334.3" y1="424.7" x2="600.1" y2="424.7" stroke="#ececec" stroke-width="0.5"/>
<line x1="334.3" y1="433" x2="600.1" y2="433" stroke="#ececec" stroke-width="0.5"/>
<line x1="334.3" y1="441.2" x2="600.1" y2="441.2" stroke="#ececec" stroke-width="0.5"/>
<line x1="363.5" y1="408.2" x2="363.5" y2="449.5" stroke="#e0e0e0" stroke-width="0.5"/>
<line x1="422.5" y1="408.2" x2="422.5" y2="451.1" stroke="#8c8c8c" stroke-width="0.55"/>
<line x1="481.5" y1="408.2" x2="481.5" y2="451.1" stroke="#8c8c8c" stroke-width="0.55"/>
<line x1="541.5" y1="408.2" x2="541.5" y2="449.5" stroke="#e0e0e0" stroke-width="0.5"/>
<line x1="334.3" y1="449.5" x2="600.1" y2="449.5" stroke="#707070" stroke-width="0.8"/>
<line x1="334.5" y1="449.5" x2="334.5" y2="450.9" stroke="#999999" stroke-width="0.5"/>
<line x1="363.5" y1="449.5" x2="363.5" y2="450.9" stroke="#999999" stroke-width="0.5"/>
<line x1="422.5" y1="449.5" x2="422.5" y2="450.9" stroke="#999999" stroke-width="0.5"/>
<line x1="481.5" y1="449.5" x2="481.5" y2="450.9" stroke="#999999" stroke-width="0.5"/>
<line x1="541.5" y1="449.5" x2="541.5" y2="450.9" stroke="#999999" stroke-width="0.5"/>
<line x1="600.5" y1="449.5" x2="600.5" y2="450.9" stroke="#999999" stroke-width="0.5"/>
<line x1="600.5" y1="408.2" x2="600.5" y2="449.5" stroke="#e2e2e2" stroke-width="0.5"/>
<text x="331.7" y="409.4" font-size="3.3" fill="#a0a0a0" text-anchor="end">100</text>
<text x="331.7" y="417.7" font-size="3.3" fill="#a0a0a0" text-anchor="end">80</text>
<text x="331.7" y="425.9" font-size="3.3" fill="#a0a0a0" text-anchor="end">60</text>
<text x="331.7" y="434.2" font-size="3.3" fill="#a0a0a0" text-anchor="end">40</text>
<text x="331.7" y="442.4" font-size="3.3" fill="#a0a0a0" text-anchor="end">20</text>
<text x="331.7" y="450.7" font-size="3.3" fill="#a0a0a0" text-anchor="end">0</text>
<text x="334.3" y="455.8" font-size="4.1" fill="#a8a8a8" text-anchor="middle">06-03</text>
<text x="334.3" y="459.5" font-size="3.69" fill="#a8a8a8" text-anchor="middle">周日</text>
<text x="363.8" y="455.8" font-size="4.1" fill="#a8a8a8" text-anchor="middle">06-06</text>
<text x="363.8" y="459.5" font-size="3.69" fill="#a8a8a8" text-anchor="middle">周三</text>
<text x="422.9" y="455.8" font-size="4.1" fill="#a8a8a8" text-anchor="middle">06-12</text>
<text x="422.9" y="459.5" font-size="3.69" fill="#a8a8a8" text-anchor="middle">周二</text>
<text x="482" y="455.8" font-size="4.1" fill="#a8a8a8" text-anchor="middle">06-18</text>
<text x="482" y="459.5" font-size="3.69" fill="#a8a8a8" text-anchor="middle">周一</text>
<text x="541" y="455.8" font-size="4.1" fill="#a8a8a8" text-anchor="middle">06-24</text>
<text x="541" y="459.5" font-size="3.69" fill="#a8a8a8" text-anchor="middle">周日</text>
<text x="600.1" y="455.8" font-size="4.1" fill="#a8a8a8" text-anchor="middle">06-30</text>
<text x="600.1" y="459.5" font-size="3.69" fill="#a8a8a8" text-anchor="middle">周六</text>
<line x1="403.1" y1="399.4" x2="407.9" y2="399.4" stroke="#22c19f" stroke-width="0.7"/>
<circle cx="405.5" cy="399.4" r="1.1" fill="#22c19f"/>
<text x="409.7" y="400.6" font-size="3.5" fill="#555" text-anchor="start">00.23.6.130</text>
<line x1="439.1" y1="399.4" x2="443.9" y2="399.4" stroke="#3f8ff6" stroke-width="0.7"/>
<circle cx="441.5" cy="399.4" r="1.1" fill="#3f8ff6"/>
<text x="445.7" y="400.6" font-size="3.5" fill="#555" text-anchor="start">10.28.26.63</text>
<line x1="474.1" y1="399.4" x2="478.9" y2="399.4" stroke="#3b3ddc" stroke-width="0.7"/>
<circle cx="476.5" cy="399.4" r="1.1" fill="#3b3ddc"/>
<text x="480.7" y="400.6" font-size="3.5" fill="#555" text-anchor="start">10.200.1.9</text>
<line x1="507.6" y1="399.4" x2="512.4" y2="399.4" stroke="#2fcbe0" stroke-width="0.7"/>
<circle cx="510" cy="399.4" r="1.1" fill="#2fcbe0"/>
<text x="514.2" y="400.6" font-size="3.5" fill="#555" text-anchor="start">10.200.1.9</text>
<line x1="334.3" y1="408.5" x2="600.1" y2="408.5" stroke="#56d3e3" stroke-width="1.1"/>
<rect x="335" y="460.9" width="265.8" height="9.4" fill="#d3dcf6"/>
<rect x="335" y="469" width="265.8" height="1.3" fill="#a9bcef"/>
<rect x="335" y="460.9" width="265.8" height="0.8" fill="#dfe6fa"/>
<rect x="335" y="463.3" width="2.1" height="4.6" rx="0.8" fill="#2c3fb4"/>
<rect x="598.7" y="463.3" width="2.1" height="4.6" rx="0.8" fill="#2c3fb4"/>
<line x1="34.7" y1="523.9" x2="295.2" y2="523.9" stroke="#ececec" stroke-width="0.5"/>
<line x1="34.7" y1="532.2" x2="295.2" y2="532.2" stroke="#ececec" stroke-width="0.5"/>
<line x1="34.7" y1="540.4" x2="295.2" y2="540.4" stroke="#ececec" stroke-width="0.5"/>
<line x1="34.7" y1="548.7" x2="295.2" y2="548.7" stroke="#ececec" stroke-width="0.5"/>
<line x1="34.7" y1="556.9" x2="295.2" y2="556.9" stroke="#ececec" stroke-width="0.5"/>
<line x1="179.5" y1="523.9" x2="179.5" y2="566.8" stroke="#8c8c8c" stroke-width="0.55"/>
<line x1="237.5" y1="523.9" x2="237.5" y2="566.8" stroke="#8c8c8c" stroke-width="0.55"/>
<line x1="34.7" y1="523.9" x2="34.7" y2="565.2" stroke="#666666" stroke-width="0.9"/>
<line x1="34.7" y1="565.2" x2="295.2" y2="565.2" stroke="#707070" stroke-width="0.8"/>
<line x1="34.5" y1="565.2" x2="34.5" y2="566.6" stroke="#999999" stroke-width="0.5"/>
<line x1="63.5" y1="565.2" x2="63.5" y2="566.6" stroke="#999999" stroke-width="0.5"/>
<line x1="121.5" y1="565.2" x2="121.5" y2="566.6" stroke="#999999" stroke-width="0.5"/>
<line x1="179.5" y1="565.2" x2="179.5" y2="566.6" stroke="#999999" stroke-width="0.5"/>
<line x1="237.5" y1="565.2" x2="237.5" y2="566.6" stroke="#999999" stroke-width="0.5"/>
<line x1="295.5" y1="565.2" x2="295.5" y2="566.6" stroke="#999999" stroke-width="0.5"/>
<line x1="295.5" y1="523.9" x2="295.5" y2="565.2" stroke="#e2e2e2" stroke-width="0.5"/>
<text x="32.2" y="525.1" font-size="3.3" fill="#a0a0a0" text-anchor="end">5,000</text>
<text x="32.2" y="533.4" font-size="3.3" fill="#a0a0a0" text-anchor="end">4,000</text>
<text x="32.2" y="541.6" font-size="3.3" fill="#a0a0a0" text-anchor="end">3,000</text>
<text x="32.2" y="549.9" font-size="3.3" fill="#a0a0a0" text-anchor="end">2,000</text>
<text x="32.2" y="558.1" font-size="3.3" fill="#a0a0a0" text-anchor="end">1,000</text>
<text x="32.2" y="566.4" font-size="3.3" fill="#a0a0a0" text-anchor="end">0</text>
<text x="34.7" y="571.5" font-size="4.1" fill="#a8a8a8" text-anchor="middle">06-03</text>
<text x="34.7" y="575.2" font-size="3.69" fill="#a8a8a8" text-anchor="middle">周日</text>
<text x="63.6" y="571.5" font-size="4.1" fill="#a8a8a8" text-anchor="middle">06-06</text>
<text x="63.6" y="575.2" font-size="3.69" fill="#a8a8a8" text-anchor="middle">周三</text>
<text x="121.5" y="571.5" font-size="4.1" fill="#a8a8a8" text-anchor="middle">06-12</text>
<text x="121.5" y="575.2" font-size="3.69" fill="#a8a8a8" text-anchor="middle">周二</text>
<text x="179.4" y="571.5" font-size="4.1" fill="#a8a8a8" text-anchor="middle">06-18</text>
<text x="179.4" y="575.2" font-size="3.69" fill="#a8a8a8" text-anchor="middle">周一</text>
<text x="237.3" y="571.5" font-size="4.1" fill="#a8a8a8" text-anchor="middle">06-24</text>
<text x="237.3" y="575.2" font-size="3.69" fill="#a8a8a8" text-anchor="middle">周日</text>
<text x="295.2" y="571.5" font-size="4.1" fill="#a8a8a8" text-anchor="middle">06-30</text>
<text x="295.2" y="575.2" font-size="3.69" fill="#a8a8a8" text-anchor="middle">周六</text>
<circle cx="101.7" cy="515.1" r="1.5" fill="#22c19f"/>
<text x="105.3" y="516.3" font-size="3.5" fill="#555" text-anchor="start">10.200.1.190</text>
<circle cx="136.2" cy="515.1" r="1.5" fill="#3f8ff6"/>
<text x="139.8" y="516.3" font-size="3.5" fill="#555" text-anchor="start">10.23.51.35</text>
<circle cx="171.9" cy="515.1" r="1.5" fill="#3b3ddc"/>
<text x="175.5" y="516.3" font-size="3.5" fill="#555" text-anchor="start">10.28.0.19</text>
<circle cx="203.1" cy="515.1" r="1.5" fill="#2fcbe0"/>
<text x="206.7" y="516.3" font-size="3.5" fill="#555" text-anchor="start">10.28.0.19</text>
<polyline points="34.7,555 35.3,555 35.9,554.2 36.5,551.5 37.1,549.6 37.7,548.8 38.3,548.5 38.9,549 39.5,548.5 40.1,548.5 40.7,549 41.3,548.5 42,548.7 42.6,549.9 43.2,551.7 43.8,554.5 44.4,555.2 45,555.1 45.6,554.7 46.2,552.1 46.8,549.8 47.4,548.4 48,547.8 48.6,548.5 49.2,548.2 49.8,548.1 50.4,548.8 51,548.5 51.6,549 52.2,550 52.8,551.8 53.4,554.7 54,555.1 54.6,554.9 55.2,554.3 55.9,552.1 56.5,550.1 57.1,549 57.7,548.4 58.3,548.9 58.9,548.7 59.5,548.7 60.1,549.1 60.7,548.4 61.3,548.9 61.9,550.2 62.5,551.9 63.1,554.2 63.7,554.9 64.3,555.1 64.9,554.6 65.5,551.7 66.1,549.4 66.7,548.2 67.3,547.8 67.9,548.5 68.5,548.4 69.2,548.3 69.8,549.1 70.4,548.2 71,548.9 71.6,549.9 72.2,552 72.8,554.7 73.4,555.1 74,555.2 74.6,554.3 75.2,551.9 75.8,549.9 76.4,549.1 77,548.8 77.6,549 78.2,548.3 78.8,548 79.4,548.8 80,548.5 80.6,549.2 81.2,550 81.8,552.1 82.4,554.5 83.1,555.5 83.7,555.2 84.3,554.8 84.9,552 85.5,550.1 86.1,549 86.7,548.3 87.3,548.6 87.9,548.2 88.5,548.1 89.1,548.9 89.7,548.4 90.3,549 90.9,549.7 91.5,551.5 92.1,554.2 92.7,555 93.3,555.1 93.9,554.2 94.5,551.5 95.1,549.2 95.7,548.5 96.3,548 97,548.8 97.6,548.1 98.2,548.3 98.8,548.5 99.4,548.3 100,548.6 100.6,549.8 101.2,551.7 101.8,554.2 102.4,554.9 103,555 103.6,554.3 104.2,551.8 104.8,549.7 105.4,549 106,548.4 106.6,548.7 107.2,547.9 107.8,548.1 108.4,549 109,548.6 109.6,549.2 110.3,550.1 110.9,552.1 111.5,554.8 112.1,555.4 112.7,555.5 113.3,554.9 113.9,552 114.5,549.7 115.1,548.7 115.7,548.5 116.3,549.2 116.9,548.6 117.5,548.7 118.1,549 118.7,548.2 119.3,548.4 119.9,549.2 120.5,551.3 121.1,554 121.7,555.1 122.3,555 122.9,554.4 123.5,552 124.2,550 124.8,548.9 125.4,548.1 126,548.9 126.6,548.4 127.2,548.8 127.8,549 128.4,548.7 129,549 129.6,550.1 130.2,552 130.8,554.4 131.4,554.9 132,554.8 132.6,554.4 133.2,552.2 133.8,550.4 134.4,549.4 135,548.9 135.6,549.4 136.2,548.9 136.8,548.6 137.4,549 138.1,548.3 138.7,548.7 139.3,549.8 139.9,551.8 140.5,554.8 141.1,555.5 141.7,555.2 142.3,554.2 142.9,551.6 143.5,549.7 144.1,548.8 144.7,548.3 145.3,548.9 145.9,548.3 146.5,548.1 147.1,548.4 147.7,547.7 148.3,548.2 148.9,549.3 149.5,551.4 150.1,554.3 150.7,555.4 151.4,555.3 152,554.4 152.6,551.9 153.2,549.9 153.8,549.1 154.4,548.5 155,549 155.6,548.5 156.2,548.3 156.8,549.1 157.4,548.2 158,548.8 158.6,549.6 159.2,551.7 159.8,554.2 160.4,555.2 161,555 161.6,554.2 162.2,550.1 162.8,547 163.4,545.5 164,544.8 164.6,546 165.3,545 165.9,545.2 166.5,545.8 167.1,544.7 167.7,545.2 168.3,546.6 168.9,550.2 169.5,554.3 170.1,555.8 170.7,555.3 171.3,554.3 171.9,550.2 172.5,547.3 173.1,545.6 173.7,544.7 174.3,545.5 174.9,545 175.5,545.2 176.1,545.8 176.7,544.8 177.3,545.5 177.9,547.1 178.5,550.2 179.2,554.2 179.8,555.2 180.4,555.2 181,554.2 181.6,550.5 182.2,547 182.8,545.4 183.4,544.7 184,545.9 184.6,545.1 185.2,545 185.8,545.5 186.4,544.9 187,545.4 187.6,547 188.2,550 188.8,553.8 189.4,555.1 190,555 190.6,554 191.2,550.2 191.8,546.8 192.5,545.3 193.1,544.4 193.7,545.6 194.3,545.2 194.9,545.1 195.5,545.5 196.1,544.5 196.7,545.1 197.3,546.5 197.9,549.8 198.5,553.8 199.1,555.5 199.7,555.2 200.3,554.4 200.9,550.3 201.5,547.1 202.1,545.7 202.7,544.7 203.3,545.8 203.9,544.7 204.5,545 205.1,545.4 205.7,544.5 206.4,545.1 207,546.6 207.6,549.8 208.2,553.8 208.8,555.4 209.4,555.1 210,553.9 210.6,549.7 211.2,546.5 211.8,545.1 212.4,544.4 213,545.7 213.6,545 214.2,545 214.8,545.7 215.4,544.5 216,545 216.6,546.2 217.2,549.5 217.8,553.9 218.4,555.1 219,554.9 219.6,553.7 220.3,549.7 220.9,546.7 221.5,545.3 222.1,545 222.7,546.1 223.3,545.2 223.9,544.9 224.5,545.4 225.1,544.6 225.7,545.4 226.3,547.1 226.9,550.3 227.5,554.3 228.1,555.5 228.7,555.1 229.3,554.1 229.9,550.2 230.5,547.2 231.1,545.5 231.7,544.9 232.3,545.7 232.9,544.9 233.6,544.5 234.2,545.1 234.8,544.2 235.4,545.2 236,546.9 236.6,550.2 237.2,554.2 237.8,555.7 238.4,555.3 239,554 239.6,549.9 240.2,547 240.8,545.3 241.4,544.6 242,545.2 242.6,544.9 243.2,544.7 243.8,545.4 244.4,544.4 245,545.4 245.6,547 246.2,550.4 246.8,554.4 247.5,555.5 248.1,555.3 248.7,554.2 249.3,550.3 249.9,546.8 250.5,545.3 251.1,544.7 251.7,545.8 252.3,545.1 252.9,545 253.5,546 254.1,545 254.7,545.7 255.3,546.7 255.9,549.8 256.5,553.8 257.1,555.5 257.7,555.3 258.3,554.3 258.9,550.3 259.5,547 260.1,545.4 260.7,544.8 261.4,546.1 262,545.1 262.6,545 263.2,545.7 263.8,544.7 264.4,545 265,546.4 265.6,549.9 266.2,554 266.8,555.2 267.4,555 268,554.2 268.6,550.1 269.2,546.8 269.8,545.3 270.4,544.6 271,545.7 271.6,544.9 272.2,545.1 272.8,545.4 273.4,544.3 274,545.2 274.7,547.2 275.3,550.5 275.9,554.3 276.5,555.1 277.1,554.9 277.7,553.8 278.3,549.9 278.9,546.9 279.5,545.3 280.1,544.8 280.7,545.6 281.3,544.9 281.9,544.8 282.5,545.4 283.1,544.8 283.7,545.4 284.3,547.1 284.9,549.9 285.5,553.8 286.1,554.9 286.7,554.8 287.3,553.6 287.9,549.5 288.6,546.3 289.2,545.1 289.8,544.9 290.4,545.7 291,545.1 291.6,545.1 292.2,546 292.8,544.6 293.4,545.1 294,546.7 294.6,550.3 295.2,554.5" fill="none" stroke="#2fcbe0" stroke-width="0.75" stroke-linejoin="round" opacity="1"/>
<polyline points="34.7,552 35.3,551.6 35.9,550.9 36.5,549.6 37.1,548.9 37.7,547 38.3,546.5 38.9,547.7 39.5,546.6 40.1,546.5 40.7,547.4 41.3,546.3 42,547.1 42.6,549.2 43.2,550.2 43.8,551.5 44.4,552.2 45,552 45.6,551.1 46.2,550.4 46.8,549.1 47.4,547.2 48,545.4 48.6,547.3 49.2,546.5 49.8,547.3 50.4,548 51,546.4 51.6,547.1 52.2,549.7 52.8,550.8 53.4,551.8 54,551.7 54.6,551.7 55.2,551 55.9,550.6 56.5,549.1 57.1,547.7 57.7,546.5 58.3,548 58.9,546.8 59.5,546.2 60.1,547.2 60.7,545.7 61.3,547 61.9,549.4 62.5,550.1 63.1,550.9 63.7,551.3 64.3,551.3 64.9,551.5 65.5,550.3 66.1,549.4 66.7,547.2 67.3,546 67.9,547.1 68.5,546 69.2,546.2 69.8,547.2 70.4,545.6 71,546.9 71.6,549.3 72.2,550.4 72.8,551.2 73.4,551.6 74,552 74.6,551.7 75.2,551.1 75.8,549.2 76.4,547.6 77,546 77.6,548 78.2,546 78.8,546 79.4,547 80,546.3 80.6,548.1 81.2,550.3 81.8,550.9 82.4,551 83.1,551.3 83.7,552.1 84.3,552.3 84.9,551.2 85.5,549.4 86.1,547 86.7,545.5 87.3,547.2 87.9,545.9 88.5,546.2 89.1,547.2 89.7,546.5 90.3,547.9 90.9,550.3 91.5,551.5 92.1,551.9 92.7,551.9 93.3,551.9 93.9,552.2 94.5,551.7 95.1,549.8 95.7,547.4 96.3,545.8 97,547.9 97.6,546.2 98.2,546.6 98.8,547.3 99.4,546.7 100,547.7 100.6,550 101.2,551 101.8,551.3 102.4,551.4 103,551.1 103.6,551.6 104.2,551.2 104.8,550.2 105.4,547.7 106,546.4 106.6,547.9 107.2,547 107.8,547.3 108.4,548.6 109,546.7 109.6,547.2 110.3,548.8 110.9,550.6 111.5,551.6 112.1,551.7 112.7,551.7 113.3,551.4 113.9,550.9 114.5,549.6 115.1,548.1 115.7,546.9 116.3,547.8 116.9,546.2 117.5,545.7 118.1,547.3 118.7,546.1 119.3,547.7 119.9,549.8 120.5,551.1 121.1,551.6 121.7,552.1 122.3,552.1 122.9,552.3 123.5,551.3 124.2,549.8 124.8,547 125.4,545.4 126,546.5 126.6,545.7 127.2,546.2 127.8,547.4 128.4,546.3 129,547.5 129.6,550.3 130.2,551 130.8,551.4 131.4,550.7 132,551.2 132.6,551.1 133.2,550.6 133.8,548.9 134.4,547.2 135,545.8 135.6,547.3 136.2,545.6 136.8,545.5 137.4,546.9 138.1,545.8 138.7,547.5 139.3,549.1 139.9,550.2 140.5,550.9 141.1,551.5 141.7,551.9 142.3,551.6 142.9,550.7 143.5,549 144.1,547.1 144.7,545.8 145.3,547.8 145.9,546.6 146.5,546.6 147.1,547.2 147.7,545.4 148.3,547.1 148.9,549 149.5,550.3 150.1,550.6 150.7,550.8 151.4,551.4 152,551.7 152.6,551.6 153.2,549.9 153.8,547.2 154.4,545.9 155,546.9 155.6,545.7 156.2,546 156.8,548 157.4,546.5 158,547.3 158.6,548.8 159.2,550.2 159.8,551.1 160.4,551.8 161,551.8 161.6,551.1 162.2,549.6 162.8,547.3 163.4,544.4 164,541.7 164.6,544.3 165.3,541.2 165.9,541.4 166.5,543.9 167.1,542 167.7,544.4 168.3,547.7 168.9,549.8 169.5,551 170.1,551.7 170.7,552.1 171.3,552.2 171.9,550.9 172.5,548.2 173.1,543.8 173.7,541.6 174.3,544.4 174.9,542.4 175.5,541.8 176.1,544 176.7,541.8 177.3,544.5 177.9,548.4 178.5,551 179.2,552.1 179.8,552.1 180.4,552 181,551.6 181.6,550.2 182.2,547.5 182.8,543.8 183.4,541.4 184,543.6 184.6,541.1 185.2,541.7 185.8,544 186.4,542.3 187,544.5 187.6,548.7 188.2,551.1 188.8,552.2 189.4,552.4 190,551.8 190.6,551.1 191.2,549.7 191.8,547.5 192.5,543.7 193.1,541.5 193.7,544.4 194.3,542.5 194.9,542.8 195.5,544.7 196.1,541.7 196.7,543.9 197.3,547.8 197.9,550.6 198.5,551.3 199.1,551.5 199.7,551.7 200.3,551.7 200.9,549.9 201.5,547.8 202.1,543.7 202.7,541.8 203.3,543.6 203.9,541.8 204.5,541.7 205.1,544.7 205.7,542.3 206.4,544.5 207,548 207.6,550.2 208.2,551.1 208.8,551.1 209.4,550.9 210,551.1 210.6,550.2 211.2,547.5 211.8,543.9 212.4,541.9 213,544.9 213.6,542.7 214.2,542.5 214.8,544.7 215.4,542.5 216,544 216.6,547.7 217.2,550 217.8,551.5 218.4,551.6 219,551.5 219.6,551.1 220.3,550.1 220.9,547.2 221.5,543.4 222.1,541 222.7,544.2 223.3,542.1 223.9,541.8 224.5,543.4 225.1,541.5 225.7,544.3 226.3,548.8 226.9,550.7 227.5,551.3 228.1,550.9 228.7,550.9 229.3,551 229.9,549.8 230.5,547.5 231.1,543.5 231.7,541.8 232.3,544.4 232.9,542.3 233.6,542.4 234.2,544.5 234.8,541.8 235.4,543.9 236,547.6 236.6,550.2 237.2,550.6 237.8,550.6 238.4,550.7 239,550.8 239.6,550 240.2,547.8 240.8,544 241.4,541.9 242,544.1 242.6,542 243.2,541.9 243.8,544.3 244.4,541.7 245,543.5 245.6,547 246.2,549.4 246.8,551.1 247.5,552 248.1,552.5 248.7,552.5 249.3,550.9 249.9,548.5 250.5,544.4 251.1,542 251.7,544.2 252.3,541.6 252.9,542 253.5,544.1 254.1,542.1 254.7,544.5 255.3,548.2 255.9,550.8 256.5,552 257.1,552.4 257.7,551.8 258.3,550.9 258.9,549.8 259.5,547.8 260.1,544.1 260.7,541.5 261.4,543.6 262,541.4 262.6,541.3 263.2,544 263.8,541.5 264.4,543.4 265,547.4 265.6,549.9 266.2,551.3 266.8,551.3 267.4,551.7 268,551.8 268.6,550.2 269.2,547.8 269.8,544.2 270.4,541.9 271,544.5 271.6,542.2 272.2,542.4 272.8,544.8 273.4,541.9 274,544.3 274.7,548.1 275.3,550.2 275.9,551.1 276.5,551.4 277.1,551.4 277.7,551.3 278.3,549.4 278.9,547.1 279.5,543.8 280.1,542 280.7,545.1 281.3,542.3 281.9,541.8 282.5,543.6 283.1,541.2 283.7,543.4 284.3,547.2 284.9,549.8 285.5,551.6 286.1,551.4 286.7,551.6 287.3,551.6 287.9,550.5 288.6,548.2 289.2,544.4 289.8,542.5 290.4,544.8 291,542.4 291.6,542.9 292.2,544.7 292.8,542.4 293.4,544.4 294,548.7 294.6,550.6 295.2,551.8" fill="none" stroke="#22c19f" stroke-width="0.75" stroke-linejoin="round" opacity="1"/>
<polyline points="34.7,547 35.3,547.4 35.9,548.2 36.5,548.7 37.1,548.4 37.7,547.6 38.3,547.1 38.9,547.2 39.5,533.7 40.1,534.2 40.7,537.3 41.3,535.3 42,542.8 42.6,548.7 43.2,548.9 43.8,549.5 44.4,550 45,550.9 45.6,551.6 46.2,551.7 46.8,550.2 47.4,542.3 48,532.8 48.6,535.5 49.2,532.7 49.8,533.4 50.4,536.8 51,533.5 51.6,541.8 52.2,549.4 52.8,550 53.4,550.3 54,550 54.6,550.3 55.2,550.7 55.9,550.1 56.5,549.9 57.1,542.3 57.7,533.3 58.3,535.3 58.9,532.8 59.5,533.7 60.1,536.7 60.7,533.8 61.3,542.9 61.9,550.4 62.5,551.7 63.1,550.8 63.7,551.4 64.3,551.4 64.9,552 65.5,551.8 66.1,550.7 66.7,542.5 67.3,533.3 67.9,535.8 68.5,533.2 69.2,533.6 69.8,536.7 70.4,534.3 71,543.2 71.6,549.9 72.2,550.1 72.8,549 73.4,550.1 74,550.1 74.6,551.2 75.2,551.1 75.8,550.9 76.4,543.5 77,534.8 77.6,537.5 78.2,534.4 78.8,533.8 79.4,536.7 80,533.9 80.6,542.2 81.2,549.1 81.8,549.5 82.4,549.5 83.1,549.9 83.7,550 84.3,551.2 84.9,551.8 85.5,551.5 86.1,543.3 86.7,534.4 87.3,536.3 87.9,534.1 88.5,533.7 89.1,537.3 89.7,533.5 90.3,542.7 90.9,550.3 91.5,551.5 92.1,551.2 92.7,551 93.3,551.8 93.9,550.9 94.5,550.7 95.1,549.3 95.7,543.2 96.3,533.8 97,537.2 97.6,533.7 98.2,535.1 98.8,537.2 99.4,535.2 100,542.4 100.6,549.7 101.2,549.5 101.8,551.1 102.4,551.4 103,551.2 103.6,550.6 104.2,550.9 104.8,551.4 105.4,544.2 106,534.8 106.6,537.3 107.2,534.6 107.8,534.7 108.4,537.3 109,534.8 109.6,543.4 110.3,550.4 110.9,550.4 111.5,550.1 112.1,550.3 112.7,550.9 113.3,550.6 113.9,551.1 114.5,550.3 115.1,544 115.7,534.8 116.3,537.6 116.9,534.1 117.5,534.3 118.1,536.5 118.7,534.3 119.3,543.2 119.9,550.6 120.5,552 121.1,551.4 121.7,550.9 122.3,549.7 122.9,549.1 123.5,550 124.2,550 124.8,543.3 125.4,534.2 126,536.1 126.6,533.6 127.2,532.8 127.8,537 128.4,534.5 129,543.4 129.6,549.4 130.2,549.8 130.8,549.6 131.4,549.7 132,549.9 132.6,550.1 133.2,550.5 133.8,550.3 134.4,542.8 135,533.6 135.6,535 136.2,533.3 136.8,533.4 137.4,537.6 138.1,534.5 138.7,544 139.3,550.4 139.9,551.2 140.5,550.8 141.1,551 141.7,550.3 142.3,550.2 142.9,550.4 143.5,550.7 144.1,544.2 144.7,535.4 145.3,537.7 145.9,534.5 146.5,533.8 147.1,535.6 147.7,533.4 148.3,542.8 148.9,550.8 149.5,551.8 150.1,551.3 150.7,552.1 151.4,551.1 152,551.2 152.6,550.6 153.2,549.3 153.8,542.6 154.4,534.5 155,538.6 155.6,536 156.2,534.8 156.8,536.5 157.4,533.7 158,542.1 158.6,550.2 159.2,551.1 159.8,551.6 160.4,551 161,550.1 161.6,550.5 162.2,549.9 162.8,549.4 163.4,540.8 164,531.6 164.6,535.3 165.3,532.4 165.9,531.8 166.5,535.2 167.1,532.6 167.7,543.3 168.3,551 168.9,551 169.5,550.5 170.1,550.7 170.7,550.8 171.3,550.4 171.9,550.5 172.5,550.9 173.1,543.3 173.7,532.3 174.3,534.4 174.9,531.4 175.5,532.2 176.1,535.3 176.7,531.7 177.3,541 177.9,548.7 178.5,550.2 179.2,549.8 179.8,549.7 180.4,549.7 181,550.6 181.6,551.3 182.2,549.9 182.8,541.3 183.4,532 184,535.7 184.6,533 185.2,532.1 185.8,535.6 186.4,531.8 187,541.7 187.6,548.8 188.2,550.6 188.8,550 189.4,550.4 190,550 190.6,550.7 191.2,550 191.8,549.3 192.5,541.1 193.1,532.4 193.7,535.5 194.3,532.8 194.9,532.7 195.5,536.1 196.1,533.5 196.7,543.3 197.3,551.7 197.9,551.4 198.5,551.9 199.1,550.5 199.7,551 200.3,550.8 200.9,551.3 201.5,550.6 202.1,541.8 202.7,532.6 203.3,534.5 203.9,532.5 204.5,533 205.1,536.1 205.7,532.1 206.4,541.4 207,549.8 207.6,551.1 208.2,550.7 208.8,551.3 209.4,551 210,550.8 210.6,549.8 211.2,549.6 211.8,541.7 212.4,532.5 213,534.4 213.6,531.5 214.2,531 214.8,534 215.4,531.1 216,541.6 216.6,549.5 217.2,549.9 217.8,549.8 218.4,550.1 219,550.1 219.6,550.1 220.3,550.2 220.9,550.1 221.5,542.3 222.1,533.7 222.7,535.9 223.3,532.1 223.9,530.9 224.5,533.6 225.1,530.7 225.7,541.4 226.3,550.5 226.9,550.9 227.5,551 228.1,550.1 228.7,550.3 229.3,550.2 229.9,551.3 230.5,550.7 231.1,541.8 231.7,532.4 232.3,535.7 232.9,533.4 233.6,532 234.2,535.1 234.8,532.4 235.4,542.9 236,551.8 236.6,551 237.2,550.2 237.8,549.1 238.4,550.6 239,550.5 239.6,551.2 240.2,549.4 240.8,541.7 241.4,531.5 242,535.4 242.6,533.1 243.2,532.8 243.8,535.9 244.4,532.7 245,542.1 245.6,549.6 246.2,550.7 246.8,551.2 247.5,551.3 248.1,550.3 248.7,550.7 249.3,549.9 249.9,549.1 250.5,541.4 251.1,532.2 251.7,535.8 252.3,532.8 252.9,532.2 253.5,535.5 254.1,531.7 254.7,542.7 255.3,549.8 255.9,549.9 256.5,548.9 257.1,550.3 257.7,550.8 258.3,551.1 258.9,550.5 259.5,550.5 260.1,543 260.7,532.8 261.4,535.1 262,531 262.6,531.2 263.2,534.6 263.8,532 264.4,542.4 265,550 265.6,550.9 266.2,550.1 266.8,550.7 267.4,550.8 268,552 268.6,552.3 269.2,551.9 269.8,544 270.4,533.7 271,536.4 271.6,531.9 272.2,532.5 272.8,534.6 273.4,532.9 274,541.3 274.7,550.3 275.3,550.8 275.9,551.2 276.5,551.2 277.1,551.6 277.7,552.4 278.3,551.8 278.9,549.9 279.5,540.5 280.1,531.5 280.7,534.4 281.3,532.4 281.9,532 282.5,535.9 283.1,532.8 283.7,541.8 284.3,549.9 284.9,550.5 285.5,550.6 286.1,550.3 286.7,549.6 287.3,550.2 287.9,550.4 288.6,549.8 289.2,541.6 289.8,531.9 290.4,534.4 291,532.2 291.6,531.4 292.2,535 292.8,531 293.4,541.3 294,549.3 294.6,551.1 295.2,550.8" fill="none" stroke="#8dbdf8" stroke-width="0.6" stroke-linejoin="round" opacity="1"/>
<polyline points="34.7,547 35.3,546.2 35.9,546.1 36.5,546.9 37.1,547.8 37.7,548 38.3,547.3 38.9,546.4 39.5,531.4 40.1,531.6 40.7,533.9 41.3,531.8 42,533.1 42.6,542.4 43.2,549.5 43.8,551.5 44.4,551.3 45,550.4 45.6,549.5 46.2,547.8 46.8,541.3 47.4,531.9 48,529.2 48.6,531.9 49.2,530.6 49.8,532.1 50.4,534.8 51,531.2 51.6,532.2 52.2,540.4 52.8,547.4 53.4,549.4 54,549.4 54.6,549.8 55.2,550.1 55.9,550.4 56.5,542.3 57.1,532.1 57.7,528.9 58.3,532.5 58.9,531.3 59.5,530.9 60.1,534.1 60.7,529.7 61.3,532.6 61.9,541.3 62.5,549.3 63.1,549.6 63.7,549 64.3,549.3 64.9,549.3 65.5,549.5 66.1,542 66.7,533.9 67.3,531.8 67.9,534.9 68.5,532.9 69.2,531.3 69.8,533.2 70.4,529.3 71,533.1 71.6,543 72.2,550 72.8,550.6 73.4,550.9 74,551.5 74.6,550.9 75.2,550 75.8,542.5 76.4,533.6 77,530.2 77.6,533.3 78.2,530.1 78.8,530.9 79.4,532.9 80,531.2 80.6,532.4 81.2,541.8 81.8,549.2 82.4,550.2 83.1,549.7 83.7,549.8 84.3,549.6 84.9,548.6 85.5,540.7 86.1,531.8 86.7,529.9 87.3,532.7 87.9,530.8 88.5,531.5 89.1,533.7 89.7,529.8 90.3,531.1 90.9,541.3 91.5,549.2 92.1,550.5 92.7,550.3 93.3,551.2 93.9,550.9 94.5,549.1 95.1,540.4 95.7,532.3 96.3,530.6 97,533.6 97.6,531.4 98.2,530.9 98.8,533.7 99.4,529.9 100,531.8 100.6,540.9 101.2,547.8 101.8,549.9 102.4,550.4 103,551.3 103.6,550.8 104.2,549.3 104.8,540.6 105.4,530.9 106,528.5 106.6,531.6 107.2,529.4 107.8,529.6 108.4,533.6 109,531 109.6,533.7 110.3,542.6 110.9,549.4 111.5,550.5 112.1,550.3 112.7,551.7 113.3,551.3 113.9,550.3 114.5,541.3 115.1,532.1 115.7,529.7 116.3,534.1 116.9,532.6 117.5,532.1 118.1,533.9 118.7,530 119.3,532.6 119.9,542 120.5,548.8 121.1,550.5 121.7,550.8 122.3,551 122.9,550.6 123.5,549.5 124.2,542.5 124.8,533.6 125.4,530.5 126,534.3 126.6,531.3 127.2,531.4 127.8,533.5 128.4,530 129,532.9 129.6,541.5 130.2,550.1 130.8,551 131.4,551.2 132,550.3 132.6,550.1 133.2,550 133.8,542.6 134.4,532.9 135,530.2 135.6,533.9 136.2,531.8 136.8,531.9 137.4,534.6 138.1,532.3 138.7,534 139.3,541.7 139.9,548.1 140.5,549.1 141.1,549.1 141.7,549 142.3,549.5 142.9,549.4 143.5,541.6 144.1,531.5 144.7,528.8 145.3,532.5 145.9,530.9 146.5,531.9 147.1,534.9 147.7,531.9 148.3,533.3 148.9,541.8 149.5,548.7 150.1,549.1 150.7,550.3 151.4,551 152,552.3 152.6,550.7 153.2,542 153.8,532.4 154.4,529.4 155,533.8 155.6,531.4 156.2,531.4 156.8,533.8 157.4,530 158,532.6 158.6,541 159.2,549.7 159.8,551 160.4,550.5 161,550 161.6,550.1 162.2,549 162.8,540.3 163.4,529.7 164,528.1 164.6,531.5 165.3,529.2 165.9,529.5 166.5,532.9 167.1,529.7 167.7,531.5 168.3,541.8 168.9,550.3 169.5,551.6 170.1,550.1 170.7,549 171.3,548.7 171.9,548.1 172.5,540.8 173.1,531.1 173.7,529.8 174.3,532.7 174.9,530.7 175.5,530.5 176.1,534 176.7,530 177.3,532 177.9,541.7 178.5,550.5 179.2,552.1 179.8,550.9 180.4,549.4 181,548.1 181.6,548.4 182.2,541.4 182.8,531.5 183.4,529.2 184,532.7 184.6,530.3 185.2,528.7 185.8,530.3 186.4,526.5 187,530.1 187.6,540.3 188.2,548.5 188.8,548.5 189.4,548.2 190,548.5 190.6,548.6 191.2,548 191.8,540.3 192.5,530.7 193.1,527.8 193.7,531 194.3,529.1 194.9,529.9 195.5,532.3 196.1,527.6 196.7,530.1 197.3,539.9 197.9,548.2 198.5,549.6 199.1,550 199.7,549.8 200.3,550.2 200.9,548.8 201.5,541.2 202.1,529.9 202.7,528.8 203.3,532.5 203.9,530.6 204.5,530.3 205.1,532.5 205.7,528.2 206.4,530 207,539.5 207.6,549 208.2,550.6 208.8,551.5 209.4,550.4 210,549.6 210.6,547.6 211.2,539.1 211.8,529.6 212.4,527.4 213,531 213.6,528.2 214.2,528.3 214.8,531.1 215.4,527.1 216,530.5 216.6,541.7 217.2,550.3 217.8,550.2 218.4,550 219,549.7 219.6,549.8 220.3,548.8 220.9,541.7 221.5,531.9 222.1,528.6 222.7,532.1 223.3,528.9 223.9,529.5 224.5,531.2 225.1,527.7 225.7,530.4 226.3,540.5 226.9,549.5 227.5,549.2 228.1,549.7 228.7,549.9 229.3,551 229.9,549.3 230.5,541.1 231.1,530.1 231.7,528.9 232.3,531.4 232.9,530.1 233.6,529 234.2,531.7 234.8,527.7 235.4,530.4 236,541.2 236.6,550 237.2,550.6 237.8,550.5 238.4,549.3 239,550.6 239.6,550.1 240.2,542.7 240.8,531.5 241.4,529.2 242,533 242.6,531 243.2,530.4 243.8,531.8 244.4,527.5 245,530.3 245.6,540.4 246.2,549.5 246.8,549.7 247.5,549.9 248.1,550.3 248.7,550.8 249.3,550.2 249.9,541.2 250.5,531.1 251.1,528.2 251.7,531.7 252.3,529 252.9,528.8 253.5,531.1 254.1,528.2 254.7,531.8 255.3,542.4 255.9,549.5 256.5,550.1 257.1,549.1 257.7,549.1 258.3,548.6 258.9,548.4 259.5,540.4 260.1,530.8 260.7,527.3 261.4,531.2 262,528.2 262.6,528.6 263.2,531.2 263.8,528.5 264.4,531.2 265,541.5 265.6,549 266.2,549.7 266.8,550.1 267.4,550.6 268,551.4 268.6,549.1 269.2,540.6 269.8,530.4 270.4,527.8 271,530.8 271.6,527.3 272.2,528.1 272.8,532 273.4,529.3 274,532.6 274.7,542 275.3,550.2 275.9,550.6 276.5,549.7 277.1,549.5 277.7,550 278.3,550.3 278.9,541.7 279.5,531.2 280.1,528.3 280.7,532.1 281.3,529.5 281.9,529 282.5,531.7 283.1,528.8 283.7,531.6 284.3,542.1 284.9,549.6 285.5,550.6 286.1,549.8 286.7,549.2 287.3,548.7 287.9,547.9 288.6,540.3 289.2,531.5 289.8,528.7 290.4,532.8 291,529.5 291.6,529.7 292.2,532.4 292.8,528.2 293.4,530.8 294,539.5 294.6,549.2 295.2,550.4" fill="none" stroke="#3f8ff6" stroke-width="0.65" stroke-linejoin="round" opacity="1"/>
<circle cx="35.4" cy="540.9" r="1.0" fill="#3f8ff6"/>
<circle cx="37.2" cy="540.5" r="1.0" fill="#3f8ff6"/>
<circle cx="182.5" cy="550.4" r="1.6" fill="#f01f1f"/>
<circle cx="184.2" cy="550.8" r="1.6" fill="#f01f1f"/>
<circle cx="289" cy="534.8" r="2.1" fill="#f01f1f"/>
<circle cx="290.8" cy="547.5" r="1.9" fill="#f01f1f"/>
<circle cx="289.8" cy="552.5" r="2.0" fill="#f01f1f"/>
<circle cx="290.6" cy="555.2" r="1.9" fill="#f01f1f"/>
<circle cx="291.2" cy="553.5" r="1.6" fill="#f01f1f"/>
<rect x="34.7" y="576.6" width="260.9" height="9.4" fill="#d3dcf6"/>
<polygon points="34.7,584.1 37.1,584.2 39.5,581.7 42,582 44.4,584.7 46.8,583.2 49.2,581.6 51.6,581.9 54,584.5 56.5,583.4 58.9,581.7 61.3,581.9 63.7,584.4 66.1,583.3 68.5,582 71,582 73.4,584.7 75.8,583.4 78.2,581.5 80.6,581.9 83.1,584.5 85.5,583.1 87.9,581.7 90.3,581.7 92.7,584.6 95.1,583.1 97.6,581.7 100,581.8 102.4,584.6 104.8,583.1 107.2,581.4 109.6,582.1 112.1,584.6 114.5,583.2 116.9,581.9 119.3,581.9 121.7,584.7 124.2,583.4 126.6,581.7 129,582 131.4,584.7 133.8,583.4 136.2,581.8 138.7,582.1 141.1,584.4 143.5,583.3 145.9,581.7 148.3,582 150.7,584.6 153.2,583.3 155.6,581.7 158,581.9 160.4,584.6 162.8,583.1 165.3,581.4 167.7,581.8 170.1,584.6 172.5,583.2 174.9,581.6 177.3,581.8 179.8,584.7 182.2,583.2 184.6,581.6 187,581.5 189.4,584.3 191.8,583.1 194.3,581.4 196.7,581.5 199.1,584.6 201.5,583.2 203.9,581.6 206.4,581.5 208.8,584.8 211.2,582.9 213.6,581.3 216,581.6 218.4,584.5 220.9,583.3 223.3,581.4 225.7,581.6 228.1,584.5 230.5,583.2 232.9,581.5 235.4,581.6 237.8,584.6 240.2,583.4 242.6,581.7 245,581.6 247.5,584.5 249.9,583.2 252.3,581.4 254.7,581.8 257.1,584.4 259.5,583.1 262,581.3 264.4,581.7 266.8,584.6 269.2,583.1 271.6,581.1 274,581.9 276.5,584.5 278.9,583.3 281.3,581.4 283.7,581.8 286.1,584.5 288.6,583.1 291,581.4 293.4,581.6 293.4,586 34.7,586" fill="#c3cff2" opacity="1"/>
<rect x="34.7" y="584.7" width="260.9" height="1.3" fill="#a9bcef"/>
<rect x="34.7" y="576.6" width="260.9" height="0.8" fill="#dfe6fa"/>
<rect x="34.7" y="579" width="2.1" height="4.6" rx="0.8" fill="#2c3fb4"/>
<rect x="293.5" y="579" width="2.1" height="4.6" rx="0.8" fill="#2c3fb4"/>
<line x1="334.3" y1="523.9" x2="600.1" y2="523.9" stroke="#ececec" stroke-width="0.5"/>
<line x1="334.3" y1="530.8" x2="600.1" y2="530.8" stroke="#ececec" stroke-width="0.5"/>
<line x1="334.3" y1="537.7" x2="600.1" y2="537.7" stroke="#ececec" stroke-width="0.5"/>
<line x1="334.3" y1="544.5" x2="600.1" y2="544.5" stroke="#ececec" stroke-width="0.5"/>
<line x1="334.3" y1="551.4" x2="600.1" y2="551.4" stroke="#ececec" stroke-width="0.5"/>
<line x1="334.3" y1="558.3" x2="600.1" y2="558.3" stroke="#ececec" stroke-width="0.5"/>
<line x1="363.5" y1="523.9" x2="363.5" y2="565.2" stroke="#e0e0e0" stroke-width="0.5"/>
<line x1="422.5" y1="523.9" x2="422.5" y2="566.8" stroke="#8c8c8c" stroke-width="0.55"/>
<line x1="481.5" y1="523.9" x2="481.5" y2="566.8" stroke="#8c8c8c" stroke-width="0.55"/>
<line x1="541.5" y1="523.9" x2="541.5" y2="565.2" stroke="#e0e0e0" stroke-width="0.5"/>
<line x1="334.3" y1="565.2" x2="600.1" y2="565.2" stroke="#707070" stroke-width="0.8"/>
<line x1="334.5" y1="565.2" x2="334.5" y2="566.6" stroke="#999999" stroke-width="0.5"/>
<line x1="363.5" y1="565.2" x2="363.5" y2="566.6" stroke="#999999" stroke-width="0.5"/>
<line x1="422.5" y1="565.2" x2="422.5" y2="566.6" stroke="#999999" stroke-width="0.5"/>
<line x1="481.5" y1="565.2" x2="481.5" y2="566.6" stroke="#999999" stroke-width="0.5"/>
<line x1="541.5" y1="565.2" x2="541.5" y2="566.6" stroke="#999999" stroke-width="0.5"/>
<line x1="600.5" y1="565.2" x2="600.5" y2="566.6" stroke="#999999" stroke-width="0.5"/>
<line x1="600.5" y1="523.9" x2="600.5" y2="565.2" stroke="#e2e2e2" stroke-width="0.5"/>
<text x="331.7" y="525.1" font-size="3.3" fill="#a0a0a0" text-anchor="end">60</text>
<text x="331.7" y="532" font-size="3.3" fill="#a0a0a0" text-anchor="end">50</text>
<text x="331.7" y="538.9" font-size="3.3" fill="#a0a0a0" text-anchor="end">40</text>
<text x="331.7" y="545.8" font-size="3.3" fill="#a0a0a0" text-anchor="end">30</text>
<text x="331.7" y="552.6" font-size="3.3" fill="#a0a0a0" text-anchor="end">20</text>
<text x="331.7" y="559.5" font-size="3.3" fill="#a0a0a0" text-anchor="end">10</text>
<text x="331.7" y="566.4" font-size="3.3" fill="#a0a0a0" text-anchor="end">0</text>
<text x="334.3" y="571.5" font-size="4.1" fill="#a8a8a8" text-anchor="middle">06-03</text>
<text x="334.3" y="575.2" font-size="3.69" fill="#a8a8a8" text-anchor="middle">周日</text>
<text x="363.8" y="571.5" font-size="4.1" fill="#a8a8a8" text-anchor="middle">06-06</text>
<text x="363.8" y="575.2" font-size="3.69" fill="#a8a8a8" text-anchor="middle">周三</text>
<text x="422.9" y="571.5" font-size="4.1" fill="#a8a8a8" text-anchor="middle">06-12</text>
<text x="422.9" y="575.2" font-size="3.69" fill="#a8a8a8" text-anchor="middle">周二</text>
<text x="482" y="571.5" font-size="4.1" fill="#a8a8a8" text-anchor="middle">06-18</text>
<text x="482" y="575.2" font-size="3.69" fill="#a8a8a8" text-anchor="middle">周一</text>
<text x="541" y="571.5" font-size="4.1" fill="#a8a8a8" text-anchor="middle">06-24</text>
<text x="541" y="575.2" font-size="3.69" fill="#a8a8a8" text-anchor="middle">周日</text>
<text x="600.1" y="571.5" font-size="4.1" fill="#a8a8a8" text-anchor="middle">06-30</text>
<text x="600.1" y="575.2" font-size="3.69" fill="#a8a8a8" text-anchor="middle">周六</text>
<circle cx="405.5" cy="515.1" r="1.5" fill="#22c19f"/>
<text x="409.1" y="516.3" font-size="3.5" fill="#555" text-anchor="start">00.23.6.130</text>
<circle cx="441.5" cy="515.1" r="1.5" fill="#3f8ff6"/>
<text x="445.1" y="516.3" font-size="3.5" fill="#555" text-anchor="start">10.28.26.63</text>
<circle cx="476.5" cy="515.1" r="1.5" fill="#3b3ddc"/>
<text x="480.1" y="516.3" font-size="3.5" fill="#555" text-anchor="start">10.200.1.9</text>
<circle cx="510" cy="515.1" r="1.5" fill="#2fcbe0"/>
<text x="513.6" y="516.3" font-size="3.5" fill="#555" text-anchor="start">10.200.1.9</text>
<polyline points="334.3,542 335.1,542 335.9,542 336.8,542 337.6,542 338.4,542 339.2,542 340.1,542 340.9,542 341.7,542 342.5,542 343.4,542 344.2,542 345,542 345.8,542 346.6,542 347.5,542 348.3,542 349.1,542 349.9,542 350.8,542 351.6,542 352.4,542 353.2,542 354,542 354.9,542 355.7,542 356.5,542 357.3,542 358.2,542 359,542 359.8,542 360.6,542 361.5,542 362.3,542 363.1,542 363.9,542 364.7,542 365.6,542 366.4,542 367.2,542 368,542 368.9,542 369.7,542 370.5,542 371.3,542 372.2,542 373,542 373.8,542 374.6,542 375.4,542 376.3,542 377.1,542 377.9,542 378.7,542 379.6,542 380.4,542 381.2,542 382,542 382.9,542 383.7,542 384.5,542 385.3,542 386.1,542 387,542 387.8,542 388.6,542 389.4,542 390.3,542 391.1,542 391.9,542 392.7,542 393.5,542 394.4,542 395.2,542 396,542 396.8,542 397.7,542 398.5,542 399.3,542 400.1,542 401,542 401.8,542 402.6,542 403.4,542 404.2,542 405.1,542 405.9,542 406.7,542 407.5,542 408.4,542 409.2,542 410,542 410.8,542 411.7,542 412.5,542 413.3,542 414.1,542 414.9,542 415.8,542 416.6,542 417.4,542 418.2,542 419.1,542 419.9,542 420.7,542 421.5,542 422.4,542 423.2,542 424,542 424.8,542 425.6,542 426.5,542 427.3,542 428.1,542 428.9,542 429.8,542 430.6,542 431.4,542 432.2,542 433,542 433.9,542 434.7,542 435.5,542 436.3,542 437.2,542 438,542 438.8,542 439.6,542 440.5,542 441.3,542 442.1,542 442.9,542 443.7,542 444.6,542 445.4,542 446.2,542 447,542 447.9,542 448.7,542 449.5,542 450.3,542 451.2,542 452,542 452.8,542 453.6,542 454.4,542 455.3,542 456.1,542 456.9,542 457.7,542 458.6,542 459.4,542 460.2,542 461,542 461.9,542 462.7,542 463.5,542 464.3,542 465.1,542 466,542 466.8,542 467.6,542 468.4,542 469.3,542 470.1,542 470.9,542 471.7,542 472.5,542 473.4,542 474.2,542 475,542 475.8,542 476.7,542 477.5,542 478.3,542 479.1,542 480,542 480.8,542 481.6,542 482.4,542 483.2,542 484.1,542 484.9,542 485.7,542 486.5,542 487.4,542 488.2,542 489,542 489.8,542 490.7,542 491.5,542 492.3,542 493.1,542 493.9,542 494.8,542 495.6,542 496.4,542 497.2,542 498.1,542 498.9,542 499.7,542 500.5,542 501.4,542 502.2,542 503,542 503.8,542 504.6,542 505.5,542 506.3,542 507.1,542 507.9,542 508.8,542 509.6,542 510.4,542 511.2,542 512,542 512.9,542 513.7,542 514.5,542 515.3,542 516.2,542 517,542 517.8,542 518.6,542 519.5,542 520.3,542 521.1,542 521.9,542 522.7,542 523.6,542 524.4,542 525.2,542 526,542 526.9,542 527.7,542 528.5,542 529.3,542 530.2,542 531,542 531.8,542 532.6,542 533.4,542 534.3,542 535.1,542 535.9,542 536.7,542 537.6,542 538.4,542 539.2,542 540,542 540.9,542 541.7,542 542.5,542 543.3,542 544.1,542 545,542 545.8,542 546.6,542 547.4,542 548.3,542 549.1,542 549.9,542 550.7,542 551.5,542 552.4,542 553.2,542 554,542 554.8,542 555.7,542 556.5,542 557.3,542 558.1,542 559,542 559.8,542 560.6,542 561.4,542 562.2,542 563.1,542 563.9,542 564.7,542 565.5,542 566.4,542 567.2,542 568,542 568.8,542 569.7,542 570.5,542 571.3,542 572.1,542 572.9,542 573.8,542 574.6,542 575.4,542 576.2,542 577.1,542 577.9,542 578.7,542 579.5,542 580.4,542 581.2,542 582,542 582.8,542 583.6,542 584.5,542 585.3,542 586.1,542 586.9,542 587.8,542 588.6,542 589.4,542 590.2,542 591,542 591.9,542 592.7,542 593.5,542 594.3,542 595.2,542 596,542 596.8,542 597.6,542 598.5,542 599.3,542 600.1,542" fill="none" stroke="#3b3ddc" stroke-width="1.0" stroke-linejoin="round" opacity="1"/>
<polyline points="334.3,541 335.1,541 335.9,541 336.8,541 337.6,541 338.4,541 339.2,541 340.1,541 340.9,541 341.7,541 342.5,541 343.4,541 344.2,541 345,541 345.8,541 346.6,541 347.5,541 348.3,541 349.1,541 349.9,541 350.8,541 351.6,541 352.4,541 353.2,541 354,541 354.9,541 355.7,541 356.5,541 357.3,541 358.2,541 359,541 359.8,541 360.6,541 361.5,541 362.3,541 363.1,541 363.9,541 364.7,541 365.6,541 366.4,541 367.2,541 368,541 368.9,541 369.7,541 370.5,541 371.3,541 372.2,541 373,541 373.8,541 374.6,541 375.4,541 376.3,541 377.1,541 377.9,541 378.7,541 379.6,541 380.4,541 381.2,541 382,541 382.9,541 383.7,541 384.5,541 385.3,541 386.1,541 387,541 387.8,541 388.6,541 389.4,541 390.3,541 391.1,541 391.9,541 392.7,541 393.5,541 394.4,541 395.2,541 396,541 396.8,541 397.7,541 398.5,541 399.3,541 400.1,541 401,541 401.8,541 402.6,541 403.4,541 404.2,541 405.1,541 405.9,541 406.7,541 407.5,541 408.4,541 409.2,541 410,541 410.8,541 411.7,541 412.5,541 413.3,541 414.1,541 414.9,541 415.8,541 416.6,541 417.4,541 418.2,541 419.1,541 419.9,541 420.7,541 421.5,541 422.4,541 423.2,541 424,541 424.8,541 425.6,541 426.5,541 427.3,541 428.1,541 428.9,541 429.8,541 430.6,541 431.4,541 432.2,541 433,541 433.9,541 434.7,541 435.5,541 436.3,541 437.2,541 438,541 438.8,541 439.6,541 440.5,541 441.3,541 442.1,541 442.9,541 443.7,541 444.6,541 445.4,541 446.2,541 447,541 447.9,541 448.7,541 449.5,541 450.3,541 451.2,541 452,541 452.8,541 453.6,541 454.4,541 455.3,541 456.1,541 456.9,541 457.7,541 458.6,541 459.4,541 460.2,541 461,541 461.9,541 462.7,541 463.5,541 464.3,541 465.1,541 466,541 466.8,541 467.6,541 468.4,541 469.3,541 470.1,541 470.9,541 471.7,541 472.5,541 473.4,541 474.2,541 475,541 475.8,541 476.7,541 477.5,541 478.3,541 479.1,541 480,541 480.8,541 481.6,541 482.4,541 483.2,541 484.1,541 484.9,541 485.7,541 486.5,541 487.4,541 488.2,541 489,541 489.8,541 490.7,541 491.5,541 492.3,541 493.1,541 493.9,541 494.8,541 495.6,541 496.4,541 497.2,541 498.1,541 498.9,541 499.7,541 500.5,541 501.4,541 502.2,541 503,541 503.8,541 504.6,541 505.5,541 506.3,541 507.1,541 507.9,541 508.8,541 509.6,541 510.4,541 511.2,541 512,541 512.9,541 513.7,541 514.5,541 515.3,541 516.2,541 517,541 517.8,541 518.6,541 519.5,541 520.3,541 521.1,541 521.9,541 522.7,541 523.6,541 524.4,541 525.2,541 526,541 526.9,541 527.7,541 528.5,541 529.3,541 530.2,541 531,541 531.8,541 532.6,541 533.4,541 534.3,541 535.1,541 535.9,541 536.7,541 537.6,541 538.4,541 539.2,541 540,541 540.9,541 541.7,541 542.5,541 543.3,541 544.1,541 545,541 545.8,541 546.6,541 547.4,541 548.3,541 549.1,541 549.9,541 550.7,541 551.5,541 552.4,541 553.2,541 554,541 554.8,541 555.7,541 556.5,541 557.3,541 558.1,541 559,541 559.8,541 560.6,541 561.4,541 562.2,541 563.1,541 563.9,541 564.7,541 565.5,541 566.4,541 567.2,541 568,541 568.8,541 569.7,541 570.5,541 571.3,541 572.1,541 572.9,541 573.8,541 574.6,541 575.4,541 576.2,541 577.1,541 577.9,541 578.7,541 579.5,541 580.4,541 581.2,541 582,541 582.8,541 583.6,541 584.5,541 585.3,541 586.1,541 586.9,541 587.8,541 588.6,541 589.4,541 590.2,541 591,541 591.9,541 592.7,541 593.5,541 594.3,541 595.2,541 596,541 596.8,541 597.6,541 598.5,541 599.3,541 600.1,541" fill="none" stroke="#3f8ff6" stroke-width="1.0" stroke-linejoin="round" opacity="1"/>
<polyline points="334.3,540.2 335.1,540.2 335.9,540.2 336.8,540.2 337.6,540.2 338.4,540.2 339.2,540.2 340.1,540.2 340.9,540.2 341.7,540.2 342.5,540.2 343.4,540.2 344.2,540.2 345,540.2 345.8,540.2 346.6,540.2 347.5,540.2 348.3,540.2 349.1,540.2 349.9,540.2 350.8,540.2 351.6,540.2 352.4,540.2 353.2,540.2 354,540.2 354.9,540.2 355.7,540.2 356.5,540.2 357.3,540.2 358.2,540.2 359,540.2 359.8,540.2 360.6,540.2 361.5,540.2 362.3,540.2 363.1,540.2 363.9,540.2 364.7,540.2 365.6,540.2 366.4,540.2 367.2,540.2 368,540.2 368.9,540.2 369.7,540.2 370.5,540.2 371.3,540.2 372.2,540.2 373,540.2 373.8,540.2 374.6,540.2 375.4,540.2 376.3,540.2 377.1,540.2 377.9,540.2 378.7,540.2 379.6,540.2 380.4,540.2 381.2,540.2 382,540.2 382.9,540.2 383.7,540.2 384.5,540.2 385.3,540.2 386.1,540.2 387,540.2 387.8,540.2 388.6,540.2 389.4,540.2 390.3,540.2 391.1,540.2 391.9,540.2 392.7,540.2 393.5,540.2 394.4,540.2 395.2,540.2 396,540.2 396.8,540.2 397.7,540.2 398.5,540.2 399.3,540.2 400.1,540.2 401,540.2 401.8,540.2 402.6,540.2 403.4,540.2 404.2,540.2 405.1,540.2 405.9,540.2 406.7,540.2 407.5,540.2 408.4,540.2 409.2,540.2 410,540.2 410.8,540.2 411.7,540.2 412.5,540.2 413.3,540.2 414.1,540.2 414.9,540.2 415.8,540.2 416.6,540.2 417.4,540.2 418.2,540.2 419.1,540.2 419.9,540.2 420.7,540.2 421.5,540.2 422.4,540.2 423.2,540.2 424,540.2 424.8,540.2 425.6,540.2 426.5,540.2 427.3,540.2 428.1,540.2 428.9,540.2 429.8,540.2 430.6,540.2 431.4,540.2 432.2,540.2 433,540.2 433.9,540.2 434.7,540.2 435.5,540.2 436.3,540.2 437.2,540.2 438,540.2 438.8,540.2 439.6,540.2 440.5,540.2 441.3,540.2 442.1,540.2 442.9,540.2 443.7,540.2 444.6,540.2 445.4,540.2 446.2,540.2 447,540.2 447.9,540.2 448.7,540.2 449.5,540.2 450.3,540.2 451.2,540.2 452,540.2 452.8,540.2 453.6,540.2 454.4,540.2 455.3,540.2 456.1,540.2 456.9,540.2 457.7,540.2 458.6,540.2 459.4,540.2 460.2,540.2 461,540.2 461.9,540.2 462.7,540.2 463.5,540.2 464.3,540.2 465.1,540.2 466,540.2 466.8,540.2 467.6,540.2 468.4,540.2 469.3,540.2 470.1,540.2 470.9,540.2 471.7,540.2 472.5,540.2 473.4,540.2 474.2,540.2 475,540.2 475.8,540.2 476.7,540.2 477.5,540.2 478.3,540.2 479.1,540.2 480,540.2 480.8,540.2 481.6,540.2 482.4,540.2 483.2,540.2 484.1,540.2 484.9,540.2 485.7,540.2 486.5,540.2 487.4,540.2 488.2,540.2 489,540.2 489.8,540.2 490.7,540.2 491.5,540.2 492.3,540.2 493.1,540.2 493.9,540.2 494.8,540.2 495.6,540.2 496.4,540.2 497.2,540.2 498.1,540.2 498.9,540.2 499.7,540.2 500.5,540.2 501.4,540.2 502.2,540.2 503,540.2 503.8,540.2 504.6,540.2 505.5,540.2 506.3,540.2 507.1,540.2 507.9,540.2 508.8,540.2 509.6,540.2 510.4,540.2 511.2,540.2 512,540.2 512.9,540.2 513.7,540.2 514.5,540.2 515.3,540.2 516.2,540.2 517,540.2 517.8,540.2 518.6,540.2 519.5,540.2 520.3,540.2 521.1,540.2 521.9,540.2 522.7,540.2 523.6,540.2 524.4,540.2 525.2,540.2 526,540.2 526.9,540.2 527.7,540.2 528.5,540.2 529.3,540.2 530.2,540.2 531,540.2 531.8,540.2 532.6,540.2 533.4,540.2 534.3,540.2 535.1,540.2 535.9,540.2 536.7,540.2 537.6,540.2 538.4,540.2 539.2,540.2 540,540.2 540.9,540.2 541.7,540.2 542.5,540.2 543.3,540.2 544.1,540.2 545,540.2 545.8,540.2 546.6,540.2 547.4,540.2 548.3,540.2 549.1,540.2 549.9,540.2 550.7,540.2 551.5,540.2 552.4,540.2 553.2,540.2 554,540.2 554.8,540.2 555.7,540.2 556.5,540.2 557.3,540.2 558.1,540.2 559,540.2 559.8,540.2 560.6,540.2 561.4,540.2 562.2,540.2 563.1,540.2 563.9,540.2 564.7,540.2 565.5,540.2 566.4,540.2 567.2,540.2 568,540.2 568.8,540.2 569.7,540.2 570.5,540.2 571.3,540.2 572.1,540.2 572.9,540.2 573.8,540.2 574.6,540.2 575.4,540.2 576.2,540.2 577.1,540.2 577.9,540.2 578.7,540.2 579.5,540.2 580.4,540.2 581.2,540.2 582,540.2 582.8,540.2 583.6,540.2 584.5,540.2 585.3,540.2 586.1,540.2 586.9,540.2 587.8,540.2 588.6,540.2 589.4,540.2 590.2,540.2 591,540.2 591.9,540.2 592.7,540.2 593.5,540.2 594.3,540.2 595.2,540.2 596,540.2 596.8,540.2 597.6,540.2 598.5,540.2 599.3,540.2 600.1,540.2" fill="none" stroke="#2fcbe0" stroke-width="0.9" stroke-linejoin="round" opacity="1"/>
<polyline points="334.3,537.9 335.1,537.9 335.9,537.9 336.8,537.9 337.6,537.9 338.4,537.9 339.2,537.9 340.1,537.9 340.9,537.9 341.7,537.9 342.5,538.7 343.4,539.4 344.2,539.4 345,539.4 345.8,539.4 346.6,539.4 347.5,539.4 348.3,539.4 349.1,539.4 349.9,539.4 350.8,539.4 351.6,539.4 352.4,539.4 353.2,539.4 354,539.4 354.9,539.4 355.7,539.4 356.5,539.4 357.3,539.4 358.2,539.4 359,539.4 359.8,539.4 360.6,539.4 361.5,539.4 362.3,539.4 363.1,539.4 363.9,539.4 364.7,539.4 365.6,539.4 366.4,538.9 367.2,538.2 368,538.2 368.9,538.2 369.7,538.2 370.5,538.2 371.3,538.2 372.2,538.2 373,538.2 373.8,538.2 374.6,538.2 375.4,538.2 376.3,538.2 377.1,538.2 377.9,538.2 378.7,539.2 379.6,539.5 380.4,539.5 381.2,539.5 382,539.5 382.9,539.5 383.7,539.5 384.5,539.5 385.3,539.5 386.1,539.5 387,539.5 387.8,539.5 388.6,539.5 389.4,539.5 390.3,539.5 391.1,539.5 391.9,539.5 392.7,539.5 393.5,539.5 394.4,539.5 395.2,539.5 396,539.5 396.8,539.5 397.7,539.5 398.5,539.5 399.3,539.5 400.1,539.4 401,538.6 401.8,538.6 402.6,538.6 403.4,538.6 404.2,538.6 405.1,538.6 405.9,538.6 406.7,538.6 407.5,538.6 408.4,538.6 409.2,538.6 410,538.6 410.8,539.3 411.7,539.5 412.5,539.5 413.3,539.5 414.1,539.5 414.9,539.5 415.8,539.5 416.6,539.5 417.4,539.5 418.2,539.5 419.1,539.5 419.9,539.5 420.7,539.5 421.5,539.5 422.4,539.5 423.2,539.5 424,539.5 424.8,539.5 425.6,539.5 426.5,539.5 427.3,539.5 428.1,539.5 428.9,539.5 429.8,539.5 430.6,539.5 431.4,539.5 432.2,539.5 433,539.5 433.9,539.5 434.7,539.5 435.5,539.5 436.3,539.5 437.2,539.5 438,539.5 438.8,539.5 439.6,539.5 440.5,539.5 441.3,539.5 442.1,539.5 442.9,539.5 443.7,539.5 444.6,539.5 445.4,539.5 446.2,539.5 447,539.5 447.9,539.5 448.7,539.5 449.5,539.5 450.3,539.5 451.2,539.5 452,539.5 452.8,539.5 453.6,539.5 454.4,539.5 455.3,539.5 456.1,539.5 456.9,539.5 457.7,539.5 458.6,539.5 459.4,539.5 460.2,539.5 461,539.5 461.9,539.5 462.7,539.5 463.5,539.5 464.3,539.5 465.1,539.5 466,539.5 466.8,539.5 467.6,539.5 468.4,539.5 469.3,539.5 470.1,539.5 470.9,539.5 471.7,539.5 472.5,539.5 473.4,539.5 474.2,539.5 475,539.5 475.8,539.5 476.7,539.5 477.5,539.5 478.3,539.5 479.1,539.5 480,539.5 480.8,539.5 481.6,539.5 482.4,539.5 483.2,539.5 484.1,539.5 484.9,539.5 485.7,539.5 486.5,539.5 487.4,539.5 488.2,539.5 489,539.5 489.8,539.5 490.7,539.5 491.5,539.5 492.3,539.5 493.1,539.5 493.9,539.5 494.8,539.5 495.6,539.5 496.4,539.5 497.2,539.5 498.1,539.5 498.9,539.5 499.7,539.5 500.5,539.5 501.4,539.5 502.2,539.5 503,539.5 503.8,539.5 504.6,539.5 505.5,539.5 506.3,539.5 507.1,539.5 507.9,539.5 508.8,539.5 509.6,539.5 510.4,539.5 511.2,539.5 512,539.5 512.9,539.5 513.7,539.5 514.5,539.5 515.3,539.5 516.2,539.5 517,539.5 517.8,539.5 518.6,539.5 519.5,539.5 520.3,539.5 521.1,539.5 521.9,539.5 522.7,539.5 523.6,539.5 524.4,539.5 525.2,539.5 526,539.5 526.9,539.5 527.7,539.5 528.5,539.5 529.3,539.5 530.2,539.5 531,539.5 531.8,539.5 532.6,539.5 533.4,539.5 534.3,539.5 535.1,539.5 535.9,539.5 536.7,539.5 537.6,539.5 538.4,539.5 539.2,539.5 540,539.5 540.9,539.5 541.7,539.5 542.5,539.5 543.3,539.5 544.1,539.5 545,539.5 545.8,539.5 546.6,539.5 547.4,539.5 548.3,539.5 549.1,539.5 549.9,539.5 550.7,539.5 551.5,539.5 552.4,539.5 553.2,539.5 554,539.5 554.8,539.5 555.7,539.5 556.5,539.5 557.3,539.5 558.1,539.5 559,539.5 559.8,539.5 560.6,539 561.4,538.6 562.2,538.6 563.1,538.6 563.9,538.6 564.7,538.6 565.5,538.6 566.4,538.6 567.2,538.6 568,538.6 568.8,538.6 569.7,538.6 570.5,538.6 571.3,538.6 572.1,538.7 572.9,539.4 573.8,539.5 574.6,539.5 575.4,539.5 576.2,539.5 577.1,539.5 577.9,539.5 578.7,539.5 579.5,539.5 580.4,539.5 581.2,539.5 582,539.5 582.8,539.5 583.6,539.6 584.5,539.6 585.3,539.6 586.1,539.6 586.9,539.6 587.8,539.6 588.6,539.6 589.4,539.6 590.2,539.6 591,539.6 591.9,539.6 592.7,539.6 593.5,539.6 594.3,539.2 595.2,538.3 596,537.4 596.8,537.4 597.6,537.5 598.5,537.5 599.3,537.6 600.1,537.6" fill="none" stroke="#22c19f" stroke-width="1.0" stroke-linejoin="round" opacity="1"/>
<circle cx="365.2" cy="539.8" r="1.5" fill="#f01f1f"/>
<circle cx="366.6" cy="539.8" r="1.5" fill="#f01f1f"/>
<circle cx="375.5" cy="539.8" r="1.5" fill="#f01f1f"/>
<circle cx="425.5" cy="539.9" r="1.5" fill="#f01f1f"/>
<circle cx="427.3" cy="539.9" r="1.5" fill="#f01f1f"/>
<circle cx="429.2" cy="539.9" r="1.5" fill="#f01f1f"/>
<path d="M596.6 527.6 L601.4 530.4 L596.6 533.3 Z" fill="#f01f1f"/>
<circle cx="597.4" cy="530.4" r="2.3" fill="#f01f1f"/>
<circle cx="595.2" cy="538.3" r="1.8" fill="#f01f1f"/>
<rect x="335" y="576.6" width="265.8" height="9.4" fill="#d3dcf6"/>
<polygon points="334.6,585.6 420,585.6 430,584.8 440,585.6 550,585.6 560,585.2 580,584.9 590,582.3 600.8,581.6 600.8,586 334.6,586" fill="#c3cff2" opacity="1"/>
<rect x="335" y="584.7" width="265.8" height="1.3" fill="#a9bcef"/>
<rect x="335" y="576.6" width="265.8" height="0.8" fill="#dfe6fa"/>
<rect x="335" y="579" width="2.1" height="4.6" rx="0.8" fill="#2c3fb4"/>
<rect x="598.7" y="579" width="2.1" height="4.6" rx="0.8" fill="#2c3fb4"/>
</svg>
</div></div>
<div id="refl"><div id="flip"><div class="inner" style="top:0">
<div class="hdr"></div>
<div style="left:2px;top:0;width:14px;height:13.9px;background:#3a6db5"></div>
<div style="left:6.1px;top:3.6px;width:5.8px;height:0.75px;background:#e6edf8;border-radius:0.3px"></div>
<div style="left:6.1px;top:6.0px;width:5.8px;height:0.75px;background:#e6edf8;border-radius:0.3px"></div>
<div style="left:6.1px;top:8.4px;width:5.8px;height:0.75px;background:#e6edf8;border-radius:0.3px"></div>
<div class="t" style="left:29.2px;top:3.1px;font-size:4.3px;line-height:6px;color:#fff;font-weight:bold;">BAEP SHAH</div>
<div class="t" style="left:57px;top:3.1px;font-size:4.3px;line-height:6px;color:#c9dcff;font-weight:normal;">PG</div>
<div class="t" style="left:606.6px;top:2.9px;font-size:5.6px;line-height:7.8px;color:#fff;font-weight:normal;">admin</div>
<div class="t" style="left:17.2px;top:18px;font-size:4.9px;line-height:6.9px;color:#409eff;font-weight:normal;">返回上级</div>
<div style="left:6px;top:29.2px;width:615.7px;height:30.4px;background:#409eff;border-radius:1px 1px 0 0"></div>
<div class="t" style="left:12px;top:33.3px;font-size:6.6px;line-height:9.2px;color:#fff;font-weight:bold;">summer2</div>
<div style="left:22.3px;top:48px;width:22.5px;height:11.6px;background:#fff"></div>
<div class="t" style="left:-66.5px;width:200px;text-align:center;top:49.7px;font-size:5.6px;line-height:7.8px;color:#409eff;font-weight:normal;">0701</div>
<div class="t" style="left:14.5px;top:50.6px;font-size:4.5px;line-height:6.3px;color:#cfe3ff;font-weight:normal;">‹</div>
<div class="t" style="left:613.5px;top:50.9px;font-size:4.5px;line-height:6.3px;color:#cfe3ff;font-weight:normal;">›</div>
<div style="left:6px;top:59.6px;width:615.7px;height:142.1px;background:#fff;border-radius:0 0 2px 2px"></div>
<div class="t" style="left:11.7px;top:65.2px;font-size:5.2px;line-height:7.3px;color:#333;font-weight:normal;">基本信息 <span style="color:#aaa">∨</span></div>
<div class="t" style="right:24.4px;top:65.6px;font-size:4.6px;line-height:6.4px;color:#444;font-weight:normal;text-align:right;letter-spacing:0.6px;">2018-06-03 00:00:00 ~ 2018-06-30 00:00:00</div>
<div class="t" style="left:605.8px;top:65.2px;font-size:5.2px;line-height:7.3px;color:#409eff;font-weight:normal;">更改</div>
<div style="left:12px;top:80px;width:604.8px;height:114px;border:0.5px solid #e6e8ee;border-bottom:none;box-sizing:border-box"></div>
<div style="left:12px;top:80px;width:604.8px;height:14.4px;background:#f6f7f9"></div>
<div class="t" style="left:17px;top:84px;font-size:5.2px;line-height:7.3px;color:#333;font-weight:normal;">负荷量</div>
<div class="t" style="left:22.7px;top:100.5px;font-size:3.8px;line-height:5.3px;color:#333;font-weight:bold;">kWh</div>
<div class="pill" style="left:523.3px;top:98.2px;width:32.3px;height:7.5px;background:#409eff;color:#fff;border-color:#409eff">异常值修正</div>
<div class="pill" style="left:558.8px;top:98.2px;width:32.3px;height:7.5px;background:#fff;color:#666;border-color:#dcdfe6">重置修正值</div>
<div class="pill" style="left:594.6px;top:98.2px;width:17.2px;height:7.5px;background:#fff;color:#666;border-color:#dcdfe6">导出</div>
<div style="left:6px;top:206px;width:615.7px;height:400px;background:#fff;border-radius:2px 2px 0 0"></div>
<div class="t" style="left:11.6px;top:210.8px;font-size:5.2px;line-height:7.3px;color:#222;font-weight:bold;">告警信息汇总 <span style="color:#aaa;font-weight:normal">∧</span></div>
<div class="t" style="left:14.5px;top:221.7px;font-size:4.35px;line-height:6.1px;color:#666;font-weight:normal;">【负荷量】</div>
<div class="t" style="left:38.1px;top:221.5px;font-size:4.6px;line-height:6.4px;color:#666;font-weight:normal;">告警时间段集中发生在</div>
<div class="t" style="left:86.1px;top:221.5px;font-size:4.6px;line-height:6.4px;color:#666;font-weight:normal;letter-spacing:0.86px;">2018-06-03 00:00:00</div>
<div class="t" style="left:146.6px;top:221.5px;font-size:4.6px;line-height:6.4px;color:#666;font-weight:normal;">至</div>
<div class="t" style="left:153.3px;top:221.5px;font-size:4.6px;line-height:6.4px;color:#666;font-weight:normal;letter-spacing:0.8px;">2018-06-30 00:00:00.</div>
<div class="t" style="left:11.8px;top:235.1px;font-size:5.2px;line-height:7.3px;color:#333;font-weight:normal;">服务器列表</div>
<div style="left:11.8px;top:246.2px;width:300.8px;height:114.3px;border:0.6px solid #eceef2;box-sizing:border-box;background:#fff"></div>
<div style="left:11.8px;top:247.79999999999998px;width:300.8px;height:14.8px;background:#f6f7f9"></div>
<div class="t" style="left:16.9px;top:252.3px;font-size:5.2px;line-height:7.3px;color:#3a3a3a;font-weight:normal;">CPU资源使用概率</div>
<div class="t" style="left:23.1px;top:268.7px;font-size:3.8px;line-height:5.3px;color:#333;font-weight:bold;">TB</div>
<div class="pill" style="left:218.3px;top:266.2px;width:33px;height:7.5px;background:#409eff;color:#fff;border-color:#409eff">异常值修正</div>
<div class="pill" style="left:254.3px;top:266.2px;width:32.5px;height:7.5px;background:#fff;color:#666;border-color:#dcdfe6">重置修正值</div>
<div class="pill" style="left:290.5px;top:266.2px;width:16.8px;height:7.5px;background:#fff;color:#666;border-color:#dcdfe6">导出</div>
<div style="left:315.2px;top:246.2px;width:301.40000000000003px;height:114.3px;border:0.6px solid #eceef2;box-sizing:border-box;background:#fff"></div>
<div style="left:315.2px;top:247.79999999999998px;width:301.40000000000003px;height:14.8px;background:#f6f7f9"></div>
<div class="t" style="left:320.3px;top:252.3px;font-size:5.2px;line-height:7.3px;color:#3a3a3a;font-weight:normal;">CPU空闲率(%)</div>
<div class="t" style="left:326.5px;top:268.7px;font-size:3.8px;line-height:5.3px;color:#333;font-weight:bold;">CPF</div>
<div class="pill" style="left:522.3px;top:266.2px;width:33px;height:7.5px;background:#409eff;color:#fff;border-color:#409eff">异常值修正</div>
<div class="pill" style="left:558.3px;top:266.2px;width:32.5px;height:7.5px;background:#fff;color:#666;border-color:#dcdfe6">重置修正值</div>
<div class="pill" style="left:594.5px;top:266.2px;width:16.8px;height:7.5px;background:#fff;color:#666;border-color:#dcdfe6">导出</div>
<div style="left:11.8px;top:361.9px;width:300.8px;height:114.3px;border:0.6px solid #eceef2;box-sizing:border-box;background:#fff"></div>
<div style="left:11.8px;top:363.5px;width:300.8px;height:14.8px;background:#f6f7f9"></div>
<div class="t" style="left:16.9px;top:368px;font-size:5.2px;line-height:7.3px;color:#3a3a3a;font-weight:normal;">内存使用率</div>
<div class="t" style="left:23.1px;top:384.4px;font-size:3.8px;line-height:5.3px;color:#333;font-weight:bold;">AVG</div>
<div class="pill" style="left:218.3px;top:381.9px;width:33px;height:7.5px;background:#409eff;color:#fff;border-color:#409eff">异常值修正</div>
<div class="pill" style="left:254.3px;top:381.9px;width:32.5px;height:7.5px;background:#fff;color:#666;border-color:#dcdfe6">重置修正值</div>
<div class="pill" style="left:290.5px;top:381.9px;width:16.8px;height:7.5px;background:#fff;color:#666;border-color:#dcdfe6">导出</div>
<div style="left:315.2px;top:361.9px;width:301.40000000000003px;height:114.3px;border:0.6px solid #eceef2;box-sizing:border-box;background:#fff"></div>
<div style="left:315.2px;top:363.5px;width:301.40000000000003px;height:14.8px;background:#f6f7f9"></div>
<div class="t" style="left:320.3px;top:368px;font-size:5.2px;line-height:7.3px;color:#3a3a3a;font-weight:normal;">SWAP空间使用率</div>
<div class="t" style="left:326.5px;top:384.4px;font-size:3.8px;line-height:5.3px;color:#333;font-weight:bold;">TSS</div>
<div class="pill" style="left:522.3px;top:381.9px;width:33px;height:7.5px;background:#409eff;color:#fff;border-color:#409eff">异常值修正</div>
<div class="pill" style="left:558.3px;top:381.9px;width:32.5px;height:7.5px;background:#fff;color:#666;border-color:#dcdfe6">重置修正值</div>
<div class="pill" style="left:594.5px;top:381.9px;width:16.8px;height:7.5px;background:#fff;color:#666;border-color:#dcdfe6">导出</div>
<div style="left:11.8px;top:477.6px;width:300.8px;height:114.3px;border:0.6px solid #eceef2;box-sizing:border-box;background:#fff"></div>
<div style="left:11.8px;top:479.20000000000005px;width:300.8px;height:14.8px;background:#f6f7f9"></div>
<div class="t" style="left:16.9px;top:483.7px;font-size:5.2px;line-height:7.3px;color:#3a3a3a;font-weight:normal;">文件系统可用空间</div>
<div class="t" style="left:23.1px;top:500.1px;font-size:3.8px;line-height:5.3px;color:#333;font-weight:bold;">FS</div>
<div class="pill" style="left:218.3px;top:497.7px;width:33px;height:7.5px;background:#409eff;color:#fff;border-color:#409eff">异常值修正</div>
<div class="pill" style="left:254.3px;top:497.7px;width:32.5px;height:7.5px;background:#fff;color:#666;border-color:#dcdfe6">重置修正值</div>
<div class="pill" style="left:290.5px;top:497.7px;width:16.8px;height:7.5px;background:#fff;color:#666;border-color:#dcdfe6">导出</div>
<div style="left:315.2px;top:477.6px;width:301.40000000000003px;height:114.3px;border:0.6px solid #eceef2;box-sizing:border-box;background:#fff"></div>
<div style="left:315.2px;top:479.20000000000005px;width:301.40000000000003px;height:14.8px;background:#f6f7f9"></div>
<div class="t" style="left:320.3px;top:483.7px;font-size:5.2px;line-height:7.3px;color:#3a3a3a;font-weight:normal;">文件系统空间使用率</div>
<div class="t" style="left:326.5px;top:500.1px;font-size:3.8px;line-height:5.3px;color:#333;font-weight:bold;">INT</div>
<div class="pill" style="left:522.3px;top:497.7px;width:33px;height:7.5px;background:#409eff;color:#fff;border-color:#409eff">异常值修正</div>
<div class="pill" style="left:558.3px;top:497.7px;width:32.5px;height:7.5px;background:#fff;color:#666;border-color:#dcdfe6">重置修正值</div>
<div class="pill" style="left:594.5px;top:497.7px;width:16.8px;height:7.5px;background:#fff;color:#666;border-color:#dcdfe6">导出</div>
<svg width="628" height="594" viewBox="0 0 628 594">
<circle cx="23.8" cy="6.1" r="3.0" fill="rgba(255,255,255,0.55)" stroke="#f4f7fc" stroke-width="0.8"/>
<path d="M21.9 5.2 L23.9 6.3 L21.9 7.3 Z" fill="#1d57b1"/>
<circle cx="25.4" cy="7.4" r="0.6" fill="#1d57b1"/>
<path d="M22.6 3.3 Q24.6 2.9 26.2 4.6" fill="none" stroke="#1d57b1" stroke-width="0.45"/>
<path d="M20.9 5.9 Q21 8.6 23.4 9.4" fill="none" stroke="#1d57b1" stroke-width="0.4"/>
<circle cx="601.4" cy="5.3" r="1.35" fill="#fff"/><path d="M598.8 8.9 Q599.2 6.6 601.4 6.6 Q603.6 6.6 604 8.9 Z" fill="#fff"/>
<path d="M10.6 20 L12.6 20 Q14.3 20 14.3 21.8 Q14.3 23.6 12.6 23.6 L10.2 23.6" fill="none" stroke="#409eff" stroke-width="1.1"/><path d="M9 20 L11.2 18.3 L11.2 21.7 Z" fill="#409eff"/>
<line x1="33.4" y1="123.8" x2="600.3" y2="123.8" stroke="#ebebeb" stroke-width="0.5"/>
<line x1="33.4" y1="129.8" x2="600.3" y2="129.8" stroke="#ebebeb" stroke-width="0.5"/>
<line x1="33.4" y1="135.8" x2="600.3" y2="135.8" stroke="#ebebeb" stroke-width="0.5"/>
<line x1="33.4" y1="141.8" x2="600.3" y2="141.8" stroke="#ebebeb" stroke-width="0.5"/>
<line x1="33.4" y1="147.8" x2="600.3" y2="147.8" stroke="#ebebeb" stroke-width="0.5"/>
<line x1="33.4" y1="153.8" x2="600.3" y2="153.8" stroke="#ebebeb" stroke-width="0.5"/>
<line x1="33.4" y1="159.8" x2="600.3" y2="159.8" stroke="#ebebeb" stroke-width="0.5"/>
<line x1="96.5" y1="123.8" x2="96.5" y2="165.8" stroke="#dddddd" stroke-width="0.5"/>
<line x1="222.5" y1="123.8" x2="222.5" y2="165.8" stroke="#ececec" stroke-width="0.5"/>
<line x1="348.5" y1="123.8" x2="348.5" y2="165.8" stroke="#dddddd" stroke-width="0.5"/>
<line x1="474.5" y1="123.8" x2="474.5" y2="165.8" stroke="#dddddd" stroke-width="0.5"/>
<line x1="33.5" y1="123.8" x2="33.5" y2="166" stroke="#cccccc" stroke-width="0.5"/>
<line x1="600.5" y1="123.8" x2="600.5" y2="165.8" stroke="#e0e0e0" stroke-width="0.5"/>
<line x1="33.4" y1="165.8" x2="600.3" y2="165.8" stroke="#cccccc" stroke-width="0.5"/>
<line x1="33.5" y1="165.8" x2="33.5" y2="167.3" stroke="#bbbbbb" stroke-width="0.5"/>
<line x1="96.5" y1="165.8" x2="96.5" y2="167.3" stroke="#bbbbbb" stroke-width="0.5"/>
<line x1="222.5" y1="165.8" x2="222.5" y2="167.3" stroke="#bbbbbb" stroke-width="0.5"/>
<line x1="348.5" y1="165.8" x2="348.5" y2="167.3" stroke="#bbbbbb" stroke-width="0.5"/>
<line x1="474.5" y1="165.8" x2="474.5" y2="167.3" stroke="#bbbbbb" stroke-width="0.5"/>
<line x1="600.5" y1="165.8" x2="600.5" y2="167.3" stroke="#bbbbbb" stroke-width="0.5"/>
<text x="31.7" y="125" font-size="3.4" fill="#a8a8a8" text-anchor="end">3150</text>
<text x="31.7" y="131" font-size="3.4" fill="#a8a8a8" text-anchor="end">2700</text>
<text x="31.7" y="137" font-size="3.4" fill="#a8a8a8" text-anchor="end">2250</text>
<text x="31.7" y="143" font-size="3.4" fill="#a8a8a8" text-anchor="end">1800</text>
<text x="31.7" y="149" font-size="3.4" fill="#a8a8a8" text-anchor="end">1350</text>
<text x="31.7" y="155" font-size="3.4" fill="#a8a8a8" text-anchor="end">900</text>
<text x="31.7" y="161" font-size="3.4" fill="#a8a8a8" text-anchor="end">450</text>
<text x="31.7" y="167" font-size="3.4" fill="#a8a8a8" text-anchor="end">0</text>
<text x="33.4" y="171.9" font-size="4.3" fill="#a8a8a8" text-anchor="middle">06-03</text>
<text x="33.4" y="175.5" font-size="3.87" fill="#a8a8a8" text-anchor="middle">周日</text>
<text x="96.4" y="171.9" font-size="4.3" fill="#a8a8a8" text-anchor="middle">06-06</text>
<text x="96.4" y="175.5" font-size="3.87" fill="#a8a8a8" text-anchor="middle">周三</text>
<text x="222.4" y="171.9" font-size="4.3" fill="#a8a8a8" text-anchor="middle">06-12</text>
<text x="222.4" y="175.5" font-size="3.87" fill="#a8a8a8" text-anchor="middle">周二</text>
<text x="348.3" y="171.9" font-size="4.3" fill="#a8a8a8" text-anchor="middle">06-18</text>
<text x="348.3" y="175.5" font-size="3.87" fill="#a8a8a8" text-anchor="middle">周一</text>
<text x="474.3" y="171.9" font-size="4.3" fill="#a8a8a8" text-anchor="middle">06-24</text>
<text x="474.3" y="175.5" font-size="3.87" fill="#a8a8a8" text-anchor="middle">周日</text>
<text x="600.3" y="171.9" font-size="4.3" fill="#a8a8a8" text-anchor="middle">06-30</text>
<text x="600.3" y="175.5" font-size="3.87" fill="#a8a8a8" text-anchor="middle">周六</text>
<polygon points="33.4,162.5 34.3,162.3 35.2,162.1 36,161.8 36.9,161.8 37.8,161.6 38.7,161.5 39.5,161.4 40.4,161.2 41.3,160.9 42.2,160.4 43,160 43.9,159.8 44.8,159.7 45.7,159.7 46.5,159.7 47.4,159.6 48.3,159.6 49.2,159.5 50,159.5 50.9,159.5 51.8,159.6 52.7,159.9 53.6,160.1 54.4,160.3 55.3,160.2 56.2,160 57.1,159.6 57.9,158.8 58.8,158.5 59.7,158.2 60.6,157.9 61.4,157.6 62.3,157.3 63.2,157 64.1,156.8 64.9,156.6 65.8,156.6 66.7,156.5 67.6,156.5 68.4,156.4 69.3,157 70.2,157.2 71.1,157.6 72,158 72.8,158.5 73.7,158.9 74.6,159.3 75.5,159.5 76.3,159.6 77.2,159.6 78.1,159.5 79,159.6 79.8,160 80.7,160.2 81.6,160.1 82.5,159.9 83.3,159.7 84.2,159.4 85.1,159.3 86,159.1 86.8,159.1 87.7,159 88.6,159.1 89.5,159.2 90.4,159.3 91.2,159.4 92.1,159.5 93,159.9 93.9,160.4 94.7,160.9 95.6,161.2 96.5,161.4 97.4,161.4 98.2,161.2 99.1,161.1 100,161 100.9,161.1 101.7,161.2 102.6,161 103.5,160.8 104.4,160.4 105.2,160 106.1,159.6 107,159.3 107.9,159.2 108.8,159.2 109.6,159.4 110.5,159.6 111.4,159.8 112.3,159.9 113.1,160 114,160.3 114.9,160.7 115.8,161.1 116.6,161.4 117.5,161.7 118.4,161.6 119.3,161.5 120.1,161.3 121,161.1 121.9,160.9 122.8,160.8 123.6,160.6 124.5,160.4 125.4,159.9 126.3,159.3 127.2,158.7 128,158.3 128.9,158 129.8,157.8 130.7,157.7 131.5,157.8 132.4,157.8 133.3,157.8 134.2,157.9 135,157.9 135.9,158.1 136.8,158.5 137.7,158.8 138.5,159.1 139.4,159.2 140.3,159.2 141.2,159 142,158.9 142.9,158.7 143.8,158.5 144.7,158.3 145.6,157.9 146.4,157.5 147.3,157 148.2,156.7 149.1,156.5 149.9,156.4 150.8,156.5 151.7,156.5 152.6,156.6 153.4,156.6 154.3,156.9 155.2,157.2 156.1,157.5 156.9,158 157.8,158.6 158.7,159 159.6,159.3 160.4,159.5 161.3,159.6 162.2,159.6 163.1,159.5 164,159.6 164.8,159.7 165.7,159.6 166.6,159.6 167.5,159.3 168.3,158.9 169.2,158.6 170.1,158.4 171,158.3 171.8,158.3 172.7,158.1 173.6,158 174.5,158.1 175.3,158.3 176.2,158.5 177.1,158.8 178,159.1 178.8,159.6 179.7,160.1 180.6,160.4 181.5,160.5 182.4,160.5 183.2,160.3 184.1,160.3 185,160.6 185.9,160.8 186.7,160.8 187.6,160.8 188.5,160.5 189.4,160.2 190.2,159.7 191.1,159.4 192,159.3 192.9,159.2 193.7,159.3 194.6,159.4 195.5,159.5 196.4,159.7 197.2,159.8 198.1,160 199,160.3 199.9,160.7 200.8,161.1 201.6,161.4 202.5,161.7 203.4,161.6 204.3,161.4 205.1,161.3 206,161.4 206.9,161.6 207.8,161.5 208.6,161.3 209.5,161 210.4,160.5 211.3,160 212.1,159.6 213,159.3 213.9,159.1 214.8,159 215.6,159 216.5,159.1 217.4,159.1 218.3,158.9 219.2,158.9 220,159.1 220.9,159.4 221.8,159.7 222.7,159.9 223.5,160.1 224.4,160 225.3,159.8 226.2,159.6 227,159.4 227.9,159.3 228.8,159.2 229.7,159 230.5,158.8 231.4,158.4 232.3,158.1 233.2,157.8 234,157.6 234.9,157.5 235.8,157.4 236.7,157.4 237.6,157.5 238.4,157.7 239.3,157.9 240.2,158.1 241.1,158.3 241.9,158.6 242.8,158.9 243.7,159 244.6,159.1 245.4,159.1 246.3,159 247.2,159.2 248.1,159.5 248.9,159.7 249.8,159.7 250.7,159.5 251.6,159.4 252.4,159.1 253.3,158.9 254.2,158.7 255.1,158.6 256,158.5 256.8,158.4 257.7,158.3 258.6,158.3 259.5,158.3 260.3,158.5 261.2,158.7 262.1,159 263,159.3 263.8,159.7 264.7,160 265.6,160.2 266.5,160.3 267.3,160.4 268.2,160.5 269.1,160.7 270,160.8 270.8,160.7 271.7,160.5 272.6,160.2 273.5,159.9 274.4,159.6 275.2,159.4 276.1,159.4 277,159.3 277.9,159.3 278.7,159.3 279.6,159.5 280.5,159.7 281.4,159.7 282.2,160 283.1,160.4 284,160.9 284.9,161.3 285.7,161.6 286.6,161.7 287.5,161.4 288.4,161.1 289.2,161 290.1,160.9 291,160.9 291.9,160.5 292.8,160.2 293.6,159.7 294.5,159.2 295.4,158.6 296.3,158.2 297.1,157.9 298,157.8 298.9,157.9 299.8,158.1 300.6,158.1 301.5,158.3 302.4,158.5 303.3,158.9 304.1,159.4 305,159.9 305.9,160.3 306.8,160.7 307.6,160.9 308.5,160.8 309.4,160.6 310.3,160.5 311.2,160.5 312,160.4 312.9,160.1 313.8,159.7 314.7,159.2 315.5,158.5 316.4,158 317.3,157.6 318.2,157.5 319,157.4 319.9,157.3 320.8,157.2 321.7,157 322.5,157 323.4,157.1 324.3,157.3 325.2,157.7 326.1,158.2 326.9,158.7 327.8,158.8 328.7,158.8 329.6,158.4 330.4,158 331.3,157.7 332.2,157.7 333.1,157.8 333.9,157.7 334.8,157.4 335.7,157.1 336.6,156.5 337.4,156 338.3,155.7 339.2,155.5 340.1,155.4 340.9,155.4 341.8,155.5 342.7,155.8 343.6,155.9 344.5,156.1 345.3,156.3 346.2,156.8 347.1,157.3 348,157.8 348.8,158.3 349.7,158.6 350.6,158.7 351.5,158.5 352.3,158.5 353.2,158.7 354.1,158.9 355,158.9 355.8,158.7 356.7,158.4 357.6,158 358.5,157.7 359.3,157.6 360.2,157.6 361.1,157.6 362,157.7 362.9,157.9 363.7,158.2 364.6,158.4 365.5,158.5 366.4,158.7 367.2,159.2 368.1,159.9 369,160.5 369.9,160.8 370.7,160.9 371.6,160.8 372.5,160.6 373.4,160.6 374.2,160.9 375.1,161.1 376,161.1 376.9,161 377.7,160.5 378.6,160 379.5,159.5 380.4,159 381.3,158.8 382.1,158.6 383,158.5 383.9,158.4 384.8,158.3 385.6,158.4 386.5,158.3 387.4,158.4 388.3,158.8 389.1,159.3 390,159.8 390.9,160.2 391.8,160.4 392.6,160.3 393.5,160.2 394.4,160.1 395.3,157.9 396.1,156.6 397,156.2 397.9,155.9 398.8,157.8 399.7,157.8 400.5,157.8 401.4,157.8 402.3,157.8 403.2,157.8 404,152.9 404.9,152.8 405.8,152.7 406.7,155.1 407.5,156.4 408.4,156.8 409.3,157.2 410.2,157.7 411,158.1 411.9,158.4 412.8,158.4 413.7,158.2 414.5,158.2 415.4,158.2 416.3,158.4 417.2,158.5 418.1,158.2 418.9,157.7 419.8,157 420.7,156.4 421.6,155.8 422.4,155.3 423.3,154.8 424.2,154.6 425.1,154.5 425.9,154.4 426.8,154.4 427.7,154.4 428.6,154.5 429.4,154.9 430.3,155.7 431.2,156.4 432.1,157 432.9,157.4 433.8,157.6 434.7,157.8 435.6,157.9 436.5,158.2 437.3,158.5 438.2,158.8 439.1,158.7 440,158.4 440.8,157.9 441.7,157.3 442.6,156.8 443.5,156.5 444.3,156.4 445.2,156.3 446.1,156.1 447,156 447.8,156 448.7,155.9 449.6,156 450.5,156.3 451.3,156.9 452.2,157.6 453.1,158.2 454,158.6 454.9,158.7 455.7,158.6 456.6,158.5 457.5,158.5 458.4,158.7 459.2,158.9 460.1,159.1 461,159 461.9,158.8 462.7,158.3 463.6,157.9 464.5,157.6 465.4,157.5 466.2,157.4 467.1,157.5 468,157.6 468.9,157.8 469.7,157.7 470.6,157.7 471.5,157.8 472.4,158.1 473.3,158.6 474.1,159 475,159.3 475.9,159.2 476.8,158.9 477.6,158.4 478.5,158 479.4,157.9 480.3,157.9 481.1,158 482,157.7 482.9,157.2 483.8,156.3 484.6,155.5 485.5,154.8 486.4,154.4 487.3,154 488.1,153.7 489,153.5 489.9,153.4 490.8,153.4 491.7,153.3 492.5,153.4 493.4,153.9 494.3,154.7 495.2,155.3 496,155.8 496.9,156 497.8,156 498.7,155.7 499.5,155.7 500.4,156 501.3,156.1 502.2,156 503,155.3 503.9,154.3 504.8,153 505.7,152 506.5,151.2 507.4,150.7 508.3,150.4 509.2,150 510.1,149.9 510.9,150 511.8,150.3 512.7,150.7 513.6,151.2 514.4,152.1 515.3,153.2 516.2,154.2 517.1,154.8 517.9,155 518.8,154.8 519.7,154.4 520.6,154.2 521.4,154.3 522.3,154.4 523.2,153.9 524.1,153.2 524.9,152.2 525.8,151.1 526.7,150 527.6,149.2 528.5,148.7 529.3,148.4 530.2,148.1 531.1,148.1 532,148.4 532.8,149 533.7,149.4 534.6,150 535.5,151.1 536.3,152.4 537.2,153.6 538.1,154.5 539,155.3 539.8,155.6 540.7,155.8 541.6,156.3 542.5,157 543.3,157.4 544.2,157.2 545.1,156.7 546,155.9 546.9,154.9 547.7,154.1 548.6,153.7 549.5,153.5 550.4,153.4 551.2,153.3 552.1,153.3 553,153.6 553.9,153.8 554.7,154.1 555.6,154.5 556.5,155.4 557.4,156.5 558.2,157.6 559.1,158.3 560,158.4 560.9,158 561.7,157.5 562.6,157.4 563.5,157.6 564.4,157.9 565.3,158 566.1,157.6 567,157 567.9,156.1 568.8,155.4 569.6,155 570.5,154.8 571.4,154.6 572.3,154.5 573.1,154.8 574,155 574.9,155.3 575.8,155.3 576.6,155.6 577.5,156.3 578.4,157.2 579.3,158 580.1,158.6 581,158.7 581.9,158.4 582.8,158.3 583.7,158.5 584.5,159 585.4,159.2 586.3,159 587.2,158.5 588,157.7 588.9,156.8 589.8,156 590.7,155.4 591.5,154.9 592.4,154.5 593.3,154.8 594.2,155.3 595,154.2 595.9,153.9 596.8,153.6 597.7,153.2 598.5,153.1 599.4,153.2 600.3,153.5 600.3,165.8 33.4,165.8" fill="#ecf5fc" opacity="0.9"/>
<polyline points="33.4,163.1 34.3,163.3 35.2,163.8 36,164.6 36.9,164.6 37.8,164.4 38.7,164.1 39.5,163.1 40.4,162.7 41.3,162.4 42.2,163.7 43,163.1 43.9,162.7 44.8,162.7 45.7,161.9 46.5,160.9 47.4,159.7 48.3,160.6 49.2,162.3 50,163.6 50.9,163.6 51.8,163.3 52.7,162.6 53.6,163.2 54.4,162.8 55.3,162.8 56.2,163.4 57.1,164.2 57.9,164.2 58.8,163.5 59.7,162.9 60.6,161.6 61.4,160.3 62.3,159.5 63.2,152.3 64.1,158.8 64.9,158.4 65.8,158.6 66.7,158.9 67.6,159.2 68.4,159.9 69.3,161.1 70.2,161.1 71.1,161.6 72,159.7 72.8,159.3 73.7,157.9 74.6,159.1 75.5,160.9 76.3,162 77.2,162.9 78.1,164.1 79,164 79.8,163.3 80.7,162.8 81.6,161.9 82.5,159.7 83.3,157.9 84.2,159.3 85.1,161.4 86,160.6 86.8,158.9 87.7,158.3 88.6,158.6 89.5,159.9 90.4,160.7 91.2,160.7 92.1,161.3 93,159.8 93.9,159.4 94.7,158.8 95.6,159.3 96.5,161.9 97.4,161.8 98.2,163 99.1,163.9 100,164 100.9,163.5 101.7,162.5 102.6,160.5 103.5,158.6 104.4,157.4 105.2,158.7 106.1,159.6 107,160.3 107.9,159.3 108.8,159 109.6,157.9 110.5,158.6 111.4,159 112.3,160.6 113.1,161 114,160.8 114.9,161.3 115.8,161.2 116.6,161.1 117.5,162.4 118.4,162.3 119.3,163.5 120.1,164.4 121,164.3 121.9,163.6 122.8,162.7 123.6,161.4 124.5,160.2 125.4,159.6 126.3,159.8 127.2,159.6 128,160.1 128.9,161.4 129.8,160.6 130.7,158.1 131.5,157.9 132.4,158.2 133.3,159.6 134.2,159.3 135,160.1 135.9,160.6 136.8,161.1 137.7,160.7 138.5,161.6 139.4,161.4 140.3,163.1 141.2,164 142,164 142.9,163.2 143.8,162.9 144.7,161.3 145.6,159.9 146.4,158.7 147.3,159.5 148.2,158.9 149.1,158.8 149.9,159.2 150.8,157.9 151.7,157.6 152.6,158.1 153.4,160.3 154.3,160.9 155.2,161.6 156.1,161.6 156.9,160.7 157.8,159 158.7,159.8 159.6,162.4 160.4,162.3 161.3,162.9 162.2,164.2 163.1,164.3 164,163.6 164.8,163.2 165.7,162.7 166.6,162.4 167.5,160.2 168.3,159.3 169.2,158.3 170.1,160.7 171,160.5 171.8,160.5 172.7,158.3 173.6,158.6 174.5,158.2 175.3,160.7 176.2,160.9 177.1,161.1 178,158.5 178.8,158 179.7,159 180.6,160.9 181.5,161.5 182.4,162.8 183.2,164 184.1,164 185,163.1 185.9,162.1 186.7,160.9 187.6,159.2 188.5,157.7 189.4,158.1 190.2,160.2 191.1,160.8 192,160.6 192.9,160.2 193.7,159.3 194.6,158.4 195.5,157.6 196.4,158.4 197.2,160.2 198.1,160.2 199,159.4 199.9,159.1 200.8,159.8 201.6,162.1 202.5,162 203.4,163.3 204.3,164 205.1,164.3 206,163.8 206.9,163 207.8,161.8 208.6,159.7 209.5,158 210.4,158.8 211.3,161 212.1,162.8 213,161.7 213.9,160.3 214.8,159.7 215.6,159 216.5,158.8 217.4,159.3 218.3,159.9 219.2,160.4 220,159 220.9,159.9 221.8,160.6 222.7,162.1 223.5,161.9 224.4,162.7 225.3,164.1 226.2,164.1 227,163.8 227.9,163.3 228.8,162.4 229.7,160.4 230.5,158.2 231.4,157.7 232.3,158.6 233.2,160.4 234,161.3 234.9,161.2 235.8,160.4 236.7,160.1 237.6,160.8 238.4,161.1 239.3,161.3 240.2,161.3 241.1,160 241.9,158.6 242.8,159.5 243.7,162.4 244.6,163.4 245.4,163.6 246.3,164.2 247.2,164.2 248.1,163.8 248.9,162.9 249.8,161.9 250.7,161.3 251.6,160.6 252.4,161.4 253.3,162.4 254.2,161.7 255.1,161.8 256,160.8 256.8,161.4 257.7,160.5 258.6,160.4 259.5,160.4 260.3,161 261.2,160.2 262.1,158.7 263,158.3 263.8,160.1 264.7,162.3 265.6,162.9 266.5,163.5 267.3,164.1 268.2,164.1 269.1,163.6 270,163.4 270.8,162.8 271.7,160.9 272.6,159.4 273.5,159.1 274.4,159.9 275.2,160.8 276.1,160.1 277,158.9 277.9,158.6 278.7,158.3 279.6,159.5 280.5,160.3 281.4,161.8 282.2,161.8 283.1,159.3 284,159.3 284.9,160.2 285.7,161.2 286.6,161.2 287.5,162.3 288.4,163.9 289.2,164 290.1,163.6 291,162.7 291.9,161.1 292.8,158.5 293.6,156.8 294.5,158.2 295.4,158.7 296.3,159 297.1,157.1 298,156.8 298.9,156.1 299.8,157.3 300.6,157.3 301.5,158.4 302.4,159.2 303.3,160.6 304.1,160.4 305,159.6 305.9,159.3 306.8,161.3 307.6,162.2 308.5,163 309.4,164.3 310.3,164.2 311.2,163.8 312,162.9 312.9,161.5 313.8,159.8 314.7,159.2 315.5,160.2 316.4,160.2 317.3,159.5 318.2,158.9 319,157.4 319.9,157.2 320.8,156.4 321.7,159.1 322.5,160.7 323.4,162.2 324.3,161.4 325.2,159.3 326.1,158.6 326.9,159.3 327.8,160.7 328.7,161.4 329.6,162.7 330.4,164.2 331.3,164.2 332.2,163.1 333.1,162.1 333.9,160.4 334.8,158.3 335.7,156 336.6,156.6 337.4,159.5 338.3,160.2 339.2,160.1 340.1,158.1 340.9,158 341.8,156.9 342.7,157.9 343.6,158.4 344.5,159.5 345.3,159.2 346.2,157.9 347.1,157.6 348,159.4 348.8,161.2 349.7,161.8 350.6,162.3 351.5,163.7 352.3,163.9 353.2,163.3 354.1,163.1 355,161.6 355.8,159.4 356.7,156.5 357.6,156.6 358.5,159 359.3,161.4 360.2,160.8 361.1,158.2 362,157.1 362.9,156.5 363.7,159.5 364.6,160.6 365.5,162.4 366.4,160.5 367.2,159 368.1,158.1 369,159.1 369.9,161.4 370.7,161.3 371.6,162.6 372.5,163.7 373.4,164.1 374.2,163.5 375.1,163 376,161.3 376.9,159.2 377.7,158.1 378.6,158.2 379.5,160.1 380.4,161.5 381.3,161 382.1,158.6 383,156.6 383.9,155.9 384.8,156.9 385.6,157.4 386.5,159.6 387.4,159 388.3,157.8 389.1,155.8 390,158.1 390.9,160.6 391.8,161.1 392.6,162.4 393.5,163.9 394.4,163.9 395.3,162.8 396.1,162.3 397,160.9 397.9,158.6 398.8,157.5 399.7,157.7 400.5,128.3 401.4,141.8 402.3,155.8 403.2,157.9 404,156.9 404.9,156.9 405.8,158.3 406.7,159.9 407.5,158.7 408.4,156.4 409.3,156.5 410.2,156.9 411,158.3 411.9,159.8 412.8,160.4 413.7,162.4 414.5,163.8 415.4,164 416.3,163.9 417.2,162.8 418.1,160.8 418.9,157.7 419.8,156.9 420.7,158 421.6,160.7 422.4,160 423.3,157.5 424.2,154.2 425.1,154.5 425.9,156.4 426.8,157.4 427.7,158.1 428.6,157.3 429.4,158.2 430.3,156.7 431.2,156.7 432.1,157.7 432.9,161 433.8,162 434.7,162.8 435.6,164 436.5,164 437.3,163.5 438.2,162.8 439.1,161 440,159.6 440.8,159.2 441.7,159.5 442.6,161.3 443.5,160.4 444.3,159.5 445.2,156.7 446.1,155.6 447,155.8 447.8,157.2 448.7,159 449.6,160.1 450.5,158.4 451.3,156.8 452.2,156.8 453.1,158 454,159.8 454.9,160.1 455.7,161.9 456.6,163.9 457.5,163.9 458.4,162.8 459.2,161.2 460.1,159.2 461,157 461.9,155.6 462.7,155.7 463.6,158.9 464.5,159.9 465.4,160.2 466.2,158.9 467.1,157.7 468,157 468.9,156.5 469.7,158.4 470.6,158.6 471.5,158 472.4,156.4 473.3,156.5 474.1,158 475,157.3 475.9,158.8 476.8,160.6 477.6,163.4 478.5,163.6 479.4,162 480.3,159.5 481.1,157.3 482,153.9 482.9,151.8 483.8,151.6 484.6,154.9 485.5,158.5 486.4,158.1 487.3,156 488.1,153.6 489,153.1 489.9,152.9 490.8,153.8 491.7,154.3 492.5,153.4 493.4,151 494.3,148.7 495.2,152.1 496,155.3 496.9,158.2 497.8,160.8 498.7,163.6 499.5,163.9 500.4,162.3 501.3,161.1 502.2,157.1 503,155 503.9,151.2 504.8,151.3 505.7,154.5 506.5,154.5 507.4,154.4 508.3,150.3 509.2,148.9 510.1,148.7 510.9,151.4 511.8,153.8 512.7,154.8 513.6,154.1 514.4,151.3 515.3,151 516.2,153.8 517.1,159.2 517.9,160 518.8,161.6 519.7,163.7 520.6,163.7 521.4,161.8 522.3,159.7 523.2,157.1 524.1,152.8 524.9,149 525.8,149.4 526.7,152.2 527.6,155.5 528.5,153.5 529.3,150.7 530.2,149 531.1,148.3 532,150.2 532.8,151.2 533.7,152.8 534.6,152.1 535.5,149.3 536.3,147.9 537.2,152.8 538.1,159.3 539,160.2 539.8,161.7 540.7,163.9 541.6,164.2 542.5,163.5 543.3,161.9 544.2,159.5 545.1,155.9 546,154 546.9,154.6 547.7,156.7 548.6,156.4 549.5,155.9 550.4,152.5 551.2,150.2 552.1,149.4 553,153 553.9,157.5 554.7,158.3 555.6,156.3 556.5,152.9 557.4,153.8 558.2,156.6 559.1,158.5 560,159 560.9,160.8 561.7,163.5 562.6,163.6 563.5,162.4 564.4,161.1 565.3,158 566.1,152.7 567,148 567.9,151.2 568.8,156.6 569.6,160 570.5,158 571.4,153.8 572.3,152.2 573.1,151.4 574,154.8 574.9,157.2 575.8,158.2 576.6,155.8 577.5,151.7 578.4,151.7 579.3,154 580.1,160.1 581,160.7 581.9,162 582.8,163.7 583.7,163.9 584.5,163.3 585.4,162.3 586.3,159.6 587.2,155.4 588,154.5 588.9,155.4 589.8,158.7 590.7,158.3 591.5,158 592.4,155.3 593.3,153.1 594.2,152.7 595,154.3 595.9,156.8 596.8,156.3 597.7,156 598.5,160.8 599.4,161.3 600.3,143.3" fill="none" stroke="#22c19f" stroke-width="0.95" stroke-linejoin="round" opacity="1"/>
<circle cx="598.9" cy="143.3" r="1.1" fill="#f01f1f"/>
<rect x="34" y="177" width="566.8" height="8.9" fill="#dfe5f7"/>
<polygon points="33.4,184.6 36,184.6 38.7,184.6 41.3,184.4 43.9,184.6 46.5,183.8 49.2,184.4 51.8,184.6 54.4,184.6 57.1,184.6 59.7,184.6 62.3,183.3 64.9,182.8 67.6,183.1 70.2,183.9 72.8,183.2 75.5,183.8 78.1,184.6 80.7,184.6 83.3,182.7 86,183.7 88.6,182.9 91.2,183.8 93.9,183.2 96.5,184.2 99.1,184.6 101.7,184.5 104.4,182.5 107,183.6 109.6,182.6 112.3,183.7 114.9,184 117.5,184.5 120.1,184.6 122.8,184.6 125.4,183.3 128,183.5 130.7,182.7 133.3,183.3 135.9,183.7 138.5,184.1 141.2,184.6 143.8,184.6 146.4,183 149.1,183 151.7,182.5 154.3,183.9 156.9,183.8 159.6,184.4 162.2,184.6 164.8,184.6 167.5,183.6 170.1,183.8 172.7,182.8 175.3,183.8 178,182.9 180.6,183.8 183.2,184.6 185.9,184.3 188.5,182.6 191.1,183.8 193.7,183.2 196.4,182.8 199,183.3 201.6,184.3 204.3,184.6 206.9,184.6 209.5,182.7 212.1,184.6 214.8,183.4 217.4,183.2 220,183.1 222.7,184.3 225.3,184.6 227.9,184.6 230.5,182.8 233.2,183.6 235.8,183.6 238.4,183.9 241.1,183.5 243.7,184.4 246.3,184.6 248.9,184.6 251.6,183.7 254.2,184.1 256.8,184.1 259.5,183.6 262.1,182.9 264.7,184.4 267.3,184.6 270,184.6 272.6,183.2 275.2,183.8 277.9,182.9 280.5,183.6 283.1,183.2 285.7,184 288.4,184.6 291,184.5 293.6,182.2 296.3,183.1 298.9,181.9 301.5,182.8 304.1,183.6 306.8,184 309.4,184.6 312,184.6 314.7,183.2 317.3,183.3 319.9,182.3 322.5,183.8 325.2,183.2 327.8,183.7 330.4,184.6 333.1,184.3 335.7,181.9 338.3,183.6 340.9,182.7 343.6,182.9 346.2,182.7 348.8,183.9 351.5,184.6 354.1,184.6 356.7,182.1 359.3,184 362,182.3 364.6,183.7 367.2,183.1 369.9,184 372.5,184.6 375.1,184.6 377.7,182.7 380.4,184.1 383,182.1 385.6,182.4 388.3,182.6 390.9,183.7 393.5,184.6 396.1,184.4 398.8,182.5 401.4,179.6 404,182.2 406.7,183.4 409.3,182.1 411.9,183.4 414.5,184.6 417.2,184.6 419.8,182.2 422.4,183.5 425.1,181.3 427.7,182.7 430.3,182.2 432.9,183.9 435.6,184.6 438.2,184.6 440.8,183.2 443.5,183.6 446.1,181.7 448.7,183.1 451.3,182.2 454,183.4 456.6,184.6 459.2,183.9 461.9,181.7 464.5,183.4 467.1,182.5 469.7,182.9 472.4,182 475,182.4 477.6,184.6 480.3,183.3 482.9,180.2 485.5,182.9 488.1,180.9 490.8,181 493.4,179.9 496,181.6 498.7,184.6 501.3,183.9 503.9,180 506.5,181.3 509.2,179.6 511.8,181 514.4,180 517.1,183.2 519.7,184.6 522.3,183.4 524.9,179.6 527.6,181.7 530.2,179.6 532.8,180 535.5,179.6 538.1,183.2 540.7,184.6 543.3,184.2 546,181.1 548.6,182 551.2,179.6 553.9,182.5 556.5,180.7 559.1,182.9 561.7,184.6 564.4,183.9 567,179.6 569.6,183.5 572.3,180.4 574.9,182.4 577.5,180.2 580.1,183.5 582.8,184.6 585.4,184.4 588,181.3 590.7,182.8 593.3,180.7 595.9,182.2 598.5,183.8 598.5,185.9 33.4,185.9" fill="#d8dff5" opacity="1"/>
<rect x="34" y="184.6" width="566.8" height="1.3" fill="#a4b7ee"/>
<rect x="34" y="177" width="566.8" height="0.8" fill="#dfe6fa"/>
<rect x="34" y="179.1" width="2.1" height="4.6" rx="0.8" fill="#2c3fb4"/>
<rect x="598.7" y="179.1" width="2.1" height="4.6" rx="0.8" fill="#2c3fb4"/>
<circle cx="309.6" cy="114" r="1.5" fill="#22c19f"/>
<text x="312.8" y="115.3" font-size="3.6" fill="#555" text-anchor="start">负荷</text>
<line x1="30.4" y1="292.5" x2="295.2" y2="292.5" stroke="#ececec" stroke-width="0.5"/>
<line x1="30.4" y1="300.8" x2="295.2" y2="300.8" stroke="#ececec" stroke-width="0.5"/>
<line x1="30.4" y1="309" x2="295.2" y2="309" stroke="#ececec" stroke-width="0.5"/>
<line x1="30.4" y1="317.3" x2="295.2" y2="317.3" stroke="#ececec" stroke-width="0.5"/>
<line x1="30.4" y1="325.5" x2="295.2" y2="325.5" stroke="#ececec" stroke-width="0.5"/>
<line x1="177.5" y1="292.5" x2="177.5" y2="335.4" stroke="#c4c4c4" stroke-width="0.55"/>
<line x1="236.5" y1="292.5" x2="236.5" y2="335.4" stroke="#c4c4c4" stroke-width="0.55"/>
<line x1="30.4" y1="292.5" x2="30.4" y2="333.8" stroke="#c4c4c4" stroke-width="0.9"/>
<line x1="30.4" y1="333.8" x2="295.2" y2="333.8" stroke="#c8c8c8" stroke-width="0.6"/>
<line x1="30.5" y1="333.8" x2="30.5" y2="335.2" stroke="#999999" stroke-width="0.5"/>
<line x1="59.5" y1="333.8" x2="59.5" y2="335.2" stroke="#999999" stroke-width="0.5"/>
<line x1="118.5" y1="333.8" x2="118.5" y2="335.2" stroke="#999999" stroke-width="0.5"/>
<line x1="177.5" y1="333.8" x2="177.5" y2="335.2" stroke="#999999" stroke-width="0.5"/>
<line x1="236.5" y1="333.8" x2="236.5" y2="335.2" stroke="#999999" stroke-width="0.5"/>
<line x1="295.5" y1="333.8" x2="295.5" y2="335.2" stroke="#999999" stroke-width="0.5"/>
<line x1="295.5" y1="292.5" x2="295.5" y2="333.8" stroke="#e2e2e2" stroke-width="0.5"/>
<text x="27.8" y="293.7" font-size="3.3" fill="#a0a0a0" text-anchor="end">250</text>
<text x="27.8" y="302" font-size="3.3" fill="#a0a0a0" text-anchor="end">200</text>
<text x="27.8" y="310.2" font-size="3.3" fill="#a0a0a0" text-anchor="end">150</text>
<text x="27.8" y="318.5" font-size="3.3" fill="#a0a0a0" text-anchor="end">100</text>
<text x="27.8" y="326.7" font-size="3.3" fill="#a0a0a0" text-anchor="end">50</text>
<text x="27.8" y="335" font-size="3.3" fill="#a0a0a0" text-anchor="end">0</text>
<text x="30.4" y="340.1" font-size="4.1" fill="#a8a8a8" text-anchor="middle">06-03</text>
<text x="30.4" y="343.8" font-size="3.69" fill="#a8a8a8" text-anchor="middle">周日</text>
<text x="59.8" y="340.1" font-size="4.1" fill="#a8a8a8" text-anchor="middle">06-06</text>
<text x="59.8" y="343.8" font-size="3.69" fill="#a8a8a8" text-anchor="middle">周三</text>
<text x="118.7" y="340.1" font-size="4.1" fill="#a8a8a8" text-anchor="middle">06-12</text>
<text x="118.7" y="343.8" font-size="3.69" fill="#a8a8a8" text-anchor="middle">周二</text>
<text x="177.5" y="340.1" font-size="4.1" fill="#a8a8a8" text-anchor="middle">06-18</text>
<text x="177.5" y="343.8" font-size="3.69" fill="#a8a8a8" text-anchor="middle">周一</text>
<text x="236.4" y="340.1" font-size="4.1" fill="#a8a8a8" text-anchor="middle">06-24</text>
<text x="236.4" y="343.8" font-size="3.69" fill="#a8a8a8" text-anchor="middle">周日</text>
<text x="295.2" y="340.1" font-size="4.1" fill="#a8a8a8" text-anchor="middle">06-30</text>
<text x="295.2" y="343.8" font-size="3.69" fill="#a8a8a8" text-anchor="middle">周六</text>
<circle cx="101.7" cy="283.7" r="1.5" fill="#22c19f"/>
<text x="105.3" y="284.9" font-size="3.5" fill="#555" text-anchor="start">10.200.1.190</text>
<circle cx="136.2" cy="283.7" r="1.5" fill="#3f8ff6"/>
<text x="139.8" y="284.9" font-size="3.5" fill="#555" text-anchor="start">10.23.51.35</text>
<circle cx="171.9" cy="283.7" r="1.5" fill="#3b3ddc"/>
<text x="175.5" y="284.9" font-size="3.5" fill="#555" text-anchor="start">10.28.0.19</text>
<circle cx="203.1" cy="283.7" r="1.5" fill="#2fcbe0"/>
<text x="206.7" y="284.9" font-size="3.5" fill="#555" text-anchor="start">10.28.0.19</text>
<polyline points="30.4,333.2 31.2,333.1 32,333.2 32.9,333.3 33.7,332.9 34.5,333 35.3,333.2 36.1,333.2 37,333.2 37.8,333.2 38.6,333.2 39.4,333.3 40.2,333.1 41.1,333 41.9,332.7 42.7,332.6 43.5,332.7 44.3,332.9 45.2,333.3 46,333.1 46.8,333.2 47.6,328.8 48.4,333.1 49.3,330.8 50.1,333.3 50.9,333 51.7,332.8 52.5,329.2 53.4,333.2 54.2,333.1 55,333.1 55.8,333.3 56.6,333.3 57.5,333.1 58.3,333.2 59.1,333.2 59.9,326.3 60.7,333.1 61.6,333.2 62.4,312.3 63.2,322 64,332.9 64.8,332.9 65.7,333.2 66.5,333.3 67.3,333.1 68.1,333 68.9,333.2 69.8,333.1 70.6,332.7 71.4,332.9 72.2,333.2 73,333.1 73.9,333 74.7,333 75.5,333.2 76.3,333.2 77.1,333.1 77.9,332.9 78.8,333 79.6,332.7 80.4,332.8 81.2,332.7 82,332.9 82.9,332.9 83.7,318.9 84.5,325.6 85.3,333.2 86.1,333.2 87,333.1 87.8,333.3 88.6,332.9 89.4,333 90.2,333 91.1,333.1 91.9,333 92.7,332.8 93.5,333.1 94.3,333 95.2,333.2 96,333.1 96.8,333.1 97.6,333 98.4,332.9 99.3,333.2 100.1,333.2 100.9,333.2 101.7,333.1 102.5,326.9 103.4,333 104.2,333.3 105,332.9 105.8,332.8 106.6,333 107.5,333.3 108.3,333.2 109.1,333.2 109.9,328.1 110.7,325.5 111.6,333.2 112.4,333.2 113.2,333.2 114,330.7 114.8,333.1 115.7,333.3 116.5,333.3 117.3,332.8 118.1,333.1 118.9,333 119.8,333 120.6,332.9 121.4,333.1 122.2,333.2 123,333.2 123.9,333.3 124.7,333.1 125.5,333.3 126.3,333.3 127.1,333.1 128,333.1 128.8,333.2 129.6,333.3 130.4,332.9 131.2,333.1 132.1,333.2 132.9,328.2 133.7,333.3 134.5,333 135.3,333.2 136.2,333.2 137,333.1 137.8,333.3 138.6,333.2 139.4,333.3 140.3,333.2 141.1,333.1 141.9,329.8 142.7,333 143.5,333.1 144.4,333 145.2,333 146,333.1 146.8,333.1 147.6,333 148.5,333.1 149.3,333.2 150.1,333.2 150.9,328.2 151.7,328 152.6,330.6 153.4,333.2 154.2,333.1 155,332.8 155.8,333.1 156.7,333.2 157.5,333.1 158.3,332.8 159.1,333.2 159.9,333.2 160.8,332.9 161.6,333.2 162.4,333.2 163.2,332.9 164,333 164.8,333.2 165.7,333.1 166.5,333.1 167.3,333.2 168.1,333.2 168.9,333.1 169.8,333.3 170.6,333.3 171.4,333.1 172.2,333.1 173,330.7 173.9,332.9 174.7,332.8 175.5,333.1 176.3,329.8 177.1,333.1 178,333.3 178.8,333.2 179.6,333 180.4,333.3 181.2,333.2 182.1,333.2 182.9,333.3 183.7,333.3 184.5,333.1 185.3,333.1 186.2,333.1 187,332.9 187.8,332.8 188.6,332.9 189.4,333 190.3,333.3 191.1,333.3 191.9,333.1 192.7,333.3 193.5,333.2 194.4,333.2 195.2,333.3 196,333.1 196.8,332.9 197.6,332.9 198.5,333.1 199.3,333.1 200.1,333.2 200.9,333.2 201.7,332.9 202.6,333.2 203.4,330.9 204.2,333 205,333.3 205.8,333 206.7,332.9 207.5,333 208.3,333.2 209.1,333.2 209.9,333.2 210.8,333.1 211.6,317.3 212.4,324.7 213.2,333.3 214,333.2 214.9,333.1 215.7,333 216.5,333 217.3,333.1 218.1,333.3 219,333.1 219.8,333.3 220.6,328.7 221.4,333.2 222.2,333.2 223.1,332.9 223.9,326.4 224.7,329.7 225.5,333.3 226.3,333.3 227.2,325.6 228,333.1 228.8,333.2 229.6,333 230.4,332.9 231.3,333 232.1,333.2 232.9,333.2 233.7,332.9 234.5,333 235.4,332.9 236.2,333.3 237,333.3 237.8,333.1 238.6,333.3 239.5,332.9 240.3,332.9 241.1,332.9 241.9,327.3 242.7,333.3 243.6,333.2 244.4,332.8 245.2,332.8 246,325.8 246.8,332.9 247.7,333.1 248.5,333.1 249.3,333.1 250.1,333.3 250.9,333.2 251.7,333.1 252.6,333.3 253.4,333.2 254.2,324.7 255,328.8 255.8,333 256.7,333 257.5,333.2 258.3,333.1 259.1,332.7 259.9,332.7 260.8,333.1 261.6,321.4 262.4,327 263.2,333.2 264,333.3 264.9,333.2 265.7,333.2 266.5,333.2 267.3,333.1 268.1,333.1 269,329.3 269.8,333.2 270.6,332.9 271.4,333.3 272.2,333.1 273.1,333.2 273.9,333.1 274.7,333.2 275.5,310.7 276.3,321.1 277.2,333.3 278,333.1 278.8,333.1 279.6,333 280.4,333.3 281.3,333.1 282.1,333 282.9,332.8 283.7,333 284.5,333.2 285.4,333.1 286.2,333.3 287,333.1 287.8,333 288.6,333.2 289.5,333.2 290.3,333.1 291.1,333.1 291.9,333.1 292.7,333.2 293.6,332.8 294.4,333.1 295.2,333.2" fill="none" stroke="#3b3ddc" stroke-width="0.8" stroke-linejoin="round" opacity="1"/>
<polyline points="30.4,332.2 31.2,332.2 32,332.3 32.9,332.5 33.7,331.8 34.5,332 35.3,332.4 36.1,332.3 37,332.3 37.8,332.3 38.6,332.3 39.4,332.4 40.2,332.1 41.1,332 41.9,331.5 42.7,331.2 43.5,331.5 44.3,331.7 45.2,332.4 46,332.1 46.8,332.3 47.6,332.4 48.4,332.1 49.3,332.4 50.1,332.4 50.9,332 51.7,331.6 52.5,331.9 53.4,332.3 54.2,332.2 55,332.1 55.8,332.4 56.6,332.5 57.5,332.2 58.3,332.3 59.1,332.4 59.9,332.1 60.7,332.1 61.6,332.2 62.4,312.3 63.2,321.4 64,331.7 64.8,331.8 65.7,332.3 66.5,332.5 67.3,332.1 68.1,331.9 68.9,332.3 69.8,332.2 70.6,331.4 71.4,331.7 72.2,332.3 73,332.1 73.9,332 74.7,332 75.5,332.3 76.3,332.3 77.1,332.2 77.9,331.9 78.8,332 79.6,331.5 80.4,331.6 81.2,331.5 82,331.9 82.9,331.8 83.7,332.3 84.5,332.4 85.3,332.3 86.1,332.3 87,332.2 87.8,332.5 88.6,331.8 89.4,331.9 90.2,332 91.1,332.1 91.9,332 92.7,331.6 93.5,332.1 94.3,332 95.2,332.3 96,332.2 96.8,332.2 97.6,332 98.4,331.9 99.3,332.3 100.1,332.4 100.9,332.4 101.7,332.1 102.5,331.8 103.4,331.9 104.2,332.4 105,331.8 105.8,331.7 106.6,332 107.5,332.4 108.3,332.3 109.1,332.3 109.9,332.3 110.7,332 111.6,332.2 112.4,332.2 113.2,332.4 114,332.3 114.8,332.2 115.7,332.4 116.5,332.4 117.3,331.7 118.1,332.2 118.9,332 119.8,332 120.6,331.8 121.4,332.2 122.2,332.2 123,332.2 123.9,332.5 124.7,332.2 125.5,332.4 126.3,332.5 127.1,332.2 128,332.2 128.8,332.4 129.6,332.5 130.4,331.9 131.2,332.2 132.1,332.3 132.9,332.3 133.7,332.5 134.5,332 135.3,332.3 136.2,332.3 137,332.1 137.8,332.4 138.6,332.3 139.4,332.4 140.3,332.3 141.1,332.1 141.9,332 142.7,331.9 143.5,332.2 144.4,332 145.2,331.9 146,332.1 146.8,332.1 147.6,331.9 148.5,332.2 149.3,332.4 150.1,332.3 150.9,332.4 151.7,332.3 152.6,332 153.4,332.4 154.2,332.1 155,331.7 155.8,332.2 156.7,332.3 157.5,332.1 158.3,331.7 159.1,332.3 159.9,332.3 160.8,331.8 161.6,332.2 162.4,332.4 163.2,331.8 164,332 164.8,332.3 165.7,332.2 166.5,332.1 167.3,332.3 168.1,332.3 168.9,332.2 169.8,332.5 170.6,332.4 171.4,332.2 172.2,332.2 173,332.3 173.9,331.8 174.7,331.6 175.5,332.1 176.3,332.5 177.1,332.1 178,332.5 178.8,332.4 179.6,332 180.4,332.5 181.2,332.3 182.1,332.3 182.9,332.4 183.7,332.4 184.5,332.1 185.3,332.1 186.2,332.1 187,331.9 187.8,331.7 188.6,331.9 189.4,332 190.3,332.4 191.1,332.4 191.9,332.2 192.7,332.4 193.5,332.4 194.4,332.4 195.2,332.4 196,332.1 196.8,331.8 197.6,331.8 198.5,332.1 199.3,332.2 200.1,332.3 200.9,332.2 201.7,331.8 202.6,332.2 203.4,332.2 204.2,332 205,332.4 205.8,331.9 206.7,331.8 207.5,332 208.3,332.3 209.1,332.4 209.9,332.3 210.8,332.1 211.6,332.3 212.4,332.2 213.2,332.4 214,332.3 214.9,332.1 215.7,332 216.5,332 217.3,332.1 218.1,332.4 219,332.1 219.8,332.4 220.6,332.2 221.4,331.4 222.2,331.4 223.1,331 223.9,330.6 224.7,331.4 225.5,332.1 226.3,332.4 227.2,332.1 228,332.1 228.8,332.4 229.6,332 230.4,331.6 231.3,331.1 232.1,331.4 232.9,331.5 233.7,330.9 234.5,331.3 235.4,331.4 236.2,332.4 237,332.5 237.8,332.1 238.6,332.4 239.5,331.8 240.3,331.6 241.1,330.9 241.9,330.9 242.7,331.6 243.6,331.3 244.4,331.1 245.2,331.3 246,331.5 246.8,331.8 247.7,332.2 248.5,332.1 249.3,332.1 250.1,332.1 250.9,331.5 251.7,331.3 252.6,331.7 253.4,331.4 254.2,331.5 255,331.7 255.8,332 256.7,331.9 257.5,332.3 258.3,332.1 259.1,331.4 259.9,331.3 260.8,331.4 261.6,331.5 262.4,331.5 263.2,331.2 264,331.8 264.9,332 265.7,332.3 266.5,332.4 267.3,332.1 268.1,332.1 269,332.3 269.8,332.1 270.6,330.9 271.4,331.6 272.2,331.3 273.1,331.2 273.9,331.5 274.7,332 275.5,332 276.3,332.3 277.2,332.4 278,332.2 278.8,332.2 279.6,331.7 280.4,331.6 281.3,331.2 282.1,331.2 282.9,330.6 283.7,331.3 284.5,332 285.4,332.1 286.2,332.4 287,332.2 287.8,331.9 288.6,332.3 289.5,332.1 290.3,331.3 291.1,331.2 291.9,331.4 292.7,331.3 293.6,331 294.4,331.7 295.2,332.2" fill="none" stroke="#2fcbe0" stroke-width="1.0" stroke-linejoin="round" opacity="1"/>
<polyline points="30.4,326.8 31.2,327.6 32,328.5 32.9,328.2 33.7,328.2 34.5,327 35.3,326.7 36.1,326.7 37,326.3 37.8,326.7 38.6,325.7 39.4,326.4 40.2,327.9 41.1,329.4 41.9,329.8 42.7,328.5 43.5,326.9 44.3,325.4 45.2,325.8 46,326.1 46.8,326.2 47.6,326.3 48.4,326.5 49.3,326.8 50.1,327.1 50.9,327.4 51.7,327.1 52.5,326.7 53.4,327.2 54.2,325.8 55,326.8 55.8,326.6 56.6,325.5 57.5,325.8 58.3,325.9 59.1,326.2 59.9,327 60.7,327.7 61.6,328.4 62.4,328.5 63.2,326.6 64,326 64.8,325.4 65.7,326.6 66.5,325.2 67.3,325.1 68.1,325.1 68.9,327 69.8,328.2 70.6,328.1 71.4,328 72.2,326.9 73,326.2 73.9,325 74.7,325.9 75.5,327.4 76.3,326 77.1,327.4 77.9,327 78.8,328.8 79.6,327.4 80.4,327.7 81.2,326.7 82,328.1 82.9,328.6 83.7,327.9 84.5,326.1 85.3,325.2 86.1,323.8 87,326.3 87.8,327.8 88.6,330 89.4,328.9 90.2,328.8 91.1,328.3 91.9,328.3 92.7,326.8 93.5,325.6 94.3,325.9 95.2,326.9 96,326 96.8,327 97.6,327.3 98.4,328.5 99.3,328.8 100.1,328.9 100.9,329.4 101.7,329.3 102.5,328.2 103.4,326.6 104.2,326.8 105,326.6 105.8,325.7 106.6,325.8 107.5,327.3 108.3,327.1 109.1,326.7 109.9,326.1 110.7,326.6 111.6,326.6 112.4,326.4 113.2,325.8 114,326.2 114.8,326.4 115.7,325.9 116.5,326.4 117.3,326.8 118.1,326.8 118.9,326.2 119.8,326.8 120.6,328.3 121.4,329.4 122.2,329.3 123,326.7 123.9,325.9 124.7,325.7 125.5,326.4 126.3,326.7 127.1,326.1 128,325.8 128.8,326.2 129.6,326.4 130.4,326.8 131.2,327.3 132.1,327.3 132.9,325.3 133.7,324.1 134.5,323.6 135.3,323.2 136.2,325.8 137,327.5 137.8,327.9 138.6,327.1 139.4,326.6 140.3,327.9 141.1,327.2 141.9,326.7 142.7,324.3 143.5,325.7 144.4,325 145.2,326.4 146,327.1 146.8,328.7 147.6,328.1 148.5,328.3 149.3,328 150.1,327.4 150.9,326.7 151.7,325.9 152.6,325.4 153.4,325 154.2,326.3 155,326.1 155.8,326.3 156.7,325.8 157.5,326.9 158.3,327.9 159.1,328.2 159.9,327.9 160.8,327.6 161.6,327 162.4,326.5 163.2,327.1 164,327.2 164.8,326.4 165.7,327.5 166.5,327.7 167.3,328.1 168.1,326.5 168.9,326.9 169.8,327.4 170.6,327.9 171.4,328.1 172.2,325.5 173,325.3 173.9,324.5 174.7,325.5 175.5,327.6 176.3,328.1 177.1,328.5 178,328.3 178.8,329.8 179.6,329.7 180.4,329.1 181.2,326.9 182.1,325.5 182.9,325.8 183.7,326.2 184.5,326 185.3,326.1 186.2,327 187,326.2 187.8,327.4 188.6,327.5 189.4,328.6 190.3,327 191.1,327.2 191.9,325.4 192.7,326.5 193.5,326.2 194.4,325.3 195.2,326 196,326.9 196.8,327.6 197.6,326.9 198.5,327.3 199.3,328.7 200.1,329.5 200.9,328.6 201.7,326.2 202.6,325.2 203.4,324.1 204.2,324 205,324.9 205.8,326.5 206.7,327.1 207.5,327.4 208.3,328 209.1,328.5 209.9,328.6 210.8,327.3 211.6,327 212.4,327.6 213.2,326.9 214,325.8 214.9,326 215.7,328.1 216.5,328.3 217.3,327.3 218.1,325.6 219,325.8 219.8,326.5 220.6,324.9 221.4,323.7 222.2,324 223.1,325.4 223.9,324.6 224.7,325.7 225.5,324.9 226.3,326.9 227.2,326.7 228,327.5 228.8,325.9 229.6,325 230.4,324.1 231.3,323.1 232.1,322.8 232.9,324.3 233.7,323.8 234.5,325.7 235.4,325.9 236.2,328.1 237,328.4 237.8,327 238.6,326.4 239.5,326.2 240.3,327.3 241.1,325.3 241.9,324.2 242.7,322.7 243.6,323.8 244.4,325.6 245.2,327.3 246,327.6 246.8,327.7 247.7,327.9 248.5,327 249.3,326.8 250.1,326.4 250.9,325.5 251.7,325 252.6,325.2 253.4,324.7 254.2,325.3 255,325.3 255.8,326.1 256.7,327.1 257.5,326.7 258.3,327.2 259.1,326.6 259.9,327.3 260.8,324.8 261.6,324.2 262.4,323.7 263.2,323.9 264,324 264.9,325 265.7,325.9 266.5,326.5 267.3,326 268.1,325.4 269,324.9 269.8,325.1 270.6,324.8 271.4,325.9 272.2,324.7 273.1,323.3 273.9,323.3 274.7,323.5 275.5,325.3 276.3,325.9 277.2,326.1 278,325 278.8,325.4 279.6,324.7 280.4,323.7 281.3,322.1 282.1,323.5 282.9,323.3 283.7,323.9 284.5,323.4 285.4,324.1 286.2,324.3 287,324.1 287.8,323.6 288.6,324 289.5,323.6 290.3,323.8 291.1,324.2 291.9,325.1 292.7,324.7 293.6,324.8 294.4,326.2 295.2,325.9" fill="none" stroke="#22c19f" stroke-width="1.0" stroke-linejoin="round" opacity="1"/>
<polyline points="30.4,316.6 31.2,315.9 32,315.1 32.9,317.8 33.7,314.8 34.5,311.3 35.3,307.7 36.1,308.3 37,305.9 37.8,310.8 38.6,313 39.4,319 40.2,319.6 41.1,315.3 41.9,314.9 42.7,314.8 43.5,312 44.3,308.2 45.2,307.2 46,307.8 46.8,307.2 47.6,310.3 48.4,311.6 49.3,316.6 50.1,319.5 50.9,319.4 51.7,317 52.5,318.6 53.4,315.7 54.2,307.4 55,308.8 55.8,307.4 56.6,307 57.5,307.8 58.3,314.2 59.1,316.2 59.9,315.1 60.7,315.8 61.6,317.4 62.4,317.5 63.2,313.4 64,308 64.8,308 65.7,312.8 66.5,307.6 67.3,312.3 68.1,311.4 68.9,315.7 69.8,316.1 70.6,318.2 71.4,314.7 72.2,313.4 73,310.8 73.9,305.2 74.7,309.7 75.5,309.1 76.3,309.5 77.1,310.4 77.9,315 78.8,316 79.6,315.4 80.4,318.5 81.2,314.1 82,316.6 82.9,316 83.7,308.3 84.5,304.6 85.3,305.4 86.1,306 87,310.8 87.8,313 88.6,317.3 89.4,319.3 90.2,318.6 91.1,318.8 91.9,315.1 92.7,313 93.5,303.8 94.3,303 95.2,304.6 96,303.7 96.8,308 97.6,310 98.4,313.6 99.3,317 100.1,314.3 100.9,316.5 101.7,318.4 102.5,315.7 103.4,312.5 104.2,309.9 105,310.8 105.8,307.6 106.6,312.8 107.5,313.5 108.3,316.6 109.1,317.8 109.9,320.2 110.7,317.6 111.6,317.5 112.4,312.1 113.2,305.5 114,307.2 114.8,307.3 115.7,304 116.5,308.2 117.3,310 118.1,314.4 118.9,316.4 119.8,313.1 120.6,317.2 121.4,316.3 122.2,313.9 123,307.6 123.9,304.2 124.7,308.8 125.5,304.7 126.3,311.4 127.1,312.9 128,315 128.8,315.2 129.6,317.1 130.4,318.5 131.2,316.4 132.1,315.2 132.9,308.3 133.7,304.9 134.5,307.2 135.3,305.8 136.2,310.9 137,315.4 137.8,317.4 138.6,318.6 139.4,315.5 140.3,315.3 141.1,315 141.9,313.3 142.7,306.3 143.5,310.9 144.4,309.3 145.2,308.7 146,308.4 146.8,309.5 147.6,313.7 148.5,315.1 149.3,314.6 150.1,317.3 150.9,319.6 151.7,315 152.6,309 153.4,309.2 154.2,308.1 155,309 155.8,312.1 156.7,313.3 157.5,317.1 158.3,319.3 159.1,320.1 159.9,319.9 160.8,315.4 161.6,312.1 162.4,305.9 163.2,308.8 164,311.5 164.8,307.4 165.7,310.1 166.5,309.5 167.3,309.9 168.1,314 168.9,313.1 169.8,312.1 170.6,314.3 171.4,314.1 172.2,309 173,305 173.9,305.8 174.7,306.1 175.5,308.2 176.3,310.6 177.1,316.1 178,317.9 178.8,315.7 179.6,320 180.4,319.5 181.2,312.5 182.1,308.1 182.9,308.4 183.7,309.8 184.5,307 185.3,307.7 186.2,311.5 187,314.3 187.8,314.9 188.6,316.9 189.4,320.2 190.3,318.7 191.1,311.2 191.9,303 192.7,307.1 193.5,310.3 194.4,308.8 195.2,312.4 196,314.6 196.8,319.4 197.6,316.8 198.5,317 199.3,316 200.1,316.7 200.9,313.7 201.7,308 202.6,307 203.4,311.3 204.2,306.6 205,315.1 205.8,317 206.7,316.4 207.5,318.5 208.3,319.1 209.1,318.2 209.9,317.7 210.8,316 211.6,307.9 212.4,305.7 213.2,309.4 214,306.8 214.9,313.9 215.7,313.2 216.5,318.4 217.3,316.9 218.1,315.7 219,313.7 219.8,316.6 220.6,314.3 221.4,307.9 222.2,304.7 223.1,309.8 223.9,302.3 224.7,307.2 225.5,311.6 226.3,316.3 227.2,314.6 228,314.5 228.8,317.6 229.6,316.5 230.4,313.2 231.3,305.6 232.1,302.9 232.9,306.9 233.7,304.1 234.5,308.2 235.4,311.9 236.2,315.7 237,313.5 237.8,315.5 238.6,316.2 239.5,318.8 240.3,314.7 241.1,305.6 241.9,307.5 242.7,306.6 243.6,302.9 244.4,306.5 245.2,307.2 246,314.1 246.8,313.9 247.7,318.3 248.5,314.8 249.3,315.2 250.1,310.4 250.9,307.5 251.7,306.1 252.6,308.1 253.4,301.6 254.2,304.4 255,311 255.8,314.8 256.7,319.8 257.5,319.7 258.3,315.4 259.1,318.3 259.9,312.8 260.8,310.9 261.6,308.1 262.4,308 263.2,305.6 264,312.3 264.9,314 265.7,316.4 266.5,315.3 267.3,314.6 268.1,315.3 269,315 269.8,312.5 270.6,306.7 271.4,308.9 272.2,307.6 273.1,306.5 273.9,306.2 274.7,310.6 275.5,315 276.3,316.7 277.2,319.3 278,317.6 278.8,315.7 279.6,311.7 280.4,305.1 281.3,303.1 282.1,303.7 282.9,301.8 283.7,309.8 284.5,310.5 285.4,314.5 286.2,316.9 287,315.6 287.8,318 288.6,317.2 289.5,314.4 290.3,309.5 291.1,304.9 291.9,308.6 292.7,304.6 293.6,314.2 294.4,314.5 295.2,315.4" fill="none" stroke="#3f8ff6" stroke-width="0.85" stroke-linejoin="round" opacity="1"/>
<circle cx="290.9" cy="296.7" r="1.9" fill="#f01f1f"/>
<circle cx="292.4" cy="297.1" r="1.4" fill="#f01f1f"/>
<circle cx="290.6" cy="314.2" r="1.7" fill="#f01f1f"/>
<circle cx="291.9" cy="316" r="1.3" fill="#f01f1f"/>
<rect x="30.6" y="345.2" width="265" height="9.4" fill="#d3dcf6"/>
<polygon points="30.4,354.1 32.9,354.2 35.3,352.6 37.8,353.1 40.2,354.2 42.7,353.8 45.2,352.5 47.6,353 50.1,354.2 52.5,354.2 55,352.8 57.5,352.6 59.9,353.8 62.4,354.2 64.8,352.6 67.3,353.4 69.8,354 72.2,353.5 74.7,352.9 77.1,353 79.6,353.9 82,354.1 84.5,352.1 87,353.1 89.4,354.2 91.9,353.8 94.3,351.8 96.8,352.6 99.3,354.2 101.7,354.2 104.2,352.9 106.6,353.4 109.1,354.2 111.6,354.2 114,352.5 116.5,352.7 118.9,354 121.4,354 123.9,352 126.3,353.2 128.8,353.9 131.2,354.1 133.7,352.1 136.2,353.1 138.6,354.2 141.1,353.8 143.5,353.1 146,352.7 148.5,353.8 150.9,354.2 153.4,352.8 155.8,353.3 158.3,354.2 160.8,353.9 163.2,352.8 165.7,353 168.1,353.6 170.6,353.7 173,352.1 175.5,352.7 178,354.2 180.4,354.2 182.9,352.7 185.3,352.6 187.8,353.8 190.3,354.2 192.7,352.5 195.2,353.4 197.6,354.1 200.1,354.1 202.6,352.4 205,353.8 207.5,354.2 209.9,354.2 212.4,352.2 214.9,353.6 217.3,354.1 219.8,354.1 222.2,352.1 224.7,352.5 227.2,353.7 229.6,354.1 232.1,351.8 234.5,352.7 237,353.6 239.5,354.2 241.9,352.5 244.4,352.4 246.8,353.6 249.3,353.8 251.7,352.3 254.2,352 256.7,354.2 259.1,354.2 261.6,352.6 264,353.4 266.5,353.9 269,353.8 271.4,352.8 273.9,352.3 276.3,354.1 278.8,353.9 281.3,351.8 283.7,352.9 286.2,354.1 288.6,354.2 291.1,352.1 293.6,353.7 293.6,354.6 30.4,354.6" fill="#c3cff2" opacity="1"/>
<rect x="30.6" y="353.3" width="265" height="1.3" fill="#a9bcef"/>
<rect x="30.6" y="345.2" width="265" height="0.8" fill="#dfe6fa"/>
<rect x="30.6" y="347.6" width="2.1" height="4.6" rx="0.8" fill="#2c3fb4"/>
<rect x="293.5" y="347.6" width="2.1" height="4.6" rx="0.8" fill="#2c3fb4"/>
<line x1="334.3" y1="292.5" x2="600.1" y2="292.5" stroke="#ececec" stroke-width="0.5"/>
<line x1="334.3" y1="300.8" x2="600.1" y2="300.8" stroke="#ececec" stroke-width="0.5"/>
<line x1="334.3" y1="309" x2="600.1" y2="309" stroke="#ececec" stroke-width="0.5"/>
<line x1="334.3" y1="317.3" x2="600.1" y2="317.3" stroke="#ececec" stroke-width="0.5"/>
<line x1="334.3" y1="325.5" x2="600.1" y2="325.5" stroke="#ececec" stroke-width="0.5"/>
<line x1="363.5" y1="292.5" x2="363.5" y2="333.8" stroke="#e0e0e0" stroke-width="0.5"/>
<line x1="422.5" y1="292.5" x2="422.5" y2="335.4" stroke="#8c8c8c" stroke-width="0.55"/>
<line x1="481.5" y1="292.5" x2="481.5" y2="335.4" stroke="#8c8c8c" stroke-width="0.55"/>
<line x1="541.5" y1="292.5" x2="541.5" y2="333.8" stroke="#e0e0e0" stroke-width="0.5"/>
<line x1="334.3" y1="333.8" x2="600.1" y2="333.8" stroke="#c8c8c8" stroke-width="0.6"/>
<line x1="334.5" y1="333.8" x2="334.5" y2="335.2" stroke="#999999" stroke-width="0.5"/>
<line x1="363.5" y1="333.8" x2="363.5" y2="335.2" stroke="#999999" stroke-width="0.5"/>
<line x1="422.5" y1="333.8" x2="422.5" y2="335.2" stroke="#999999" stroke-width="0.5"/>
<line x1="481.5" y1="333.8" x2="481.5" y2="335.2" stroke="#999999" stroke-width="0.5"/>
<line x1="541.5" y1="333.8" x2="541.5" y2="335.2" stroke="#999999" stroke-width="0.5"/>
<line x1="600.5" y1="333.8" x2="600.5" y2="335.2" stroke="#999999" stroke-width="0.5"/>
<line x1="600.5" y1="292.5" x2="600.5" y2="333.8" stroke="#e2e2e2" stroke-width="0.5"/>
<text x="331.7" y="293.7" font-size="3.3" fill="#a0a0a0" text-anchor="end">100</text>
<text x="331.7" y="302" font-size="3.3" fill="#a0a0a0" text-anchor="end">80</text>
<text x="331.7" y="310.2" font-size="3.3" fill="#a0a0a0" text-anchor="end">60</text>
<text x="331.7" y="318.5" font-size="3.3" fill="#a0a0a0" text-anchor="end">40</text>
<text x="331.7" y="326.7" font-size="3.3" fill="#a0a0a0" text-anchor="end">20</text>
<text x="331.7" y="335" font-size="3.3" fill="#a0a0a0" text-anchor="end">0</text>
<text x="334.3" y="340.1" font-size="4.1" fill="#a8a8a8" text-anchor="middle">06-03</text>
<text x="334.3" y="343.8" font-size="3.69" fill="#a8a8a8" text-anchor="middle">周日</text>
<text x="363.8" y="340.1" font-size="4.1" fill="#a8a8a8" text-anchor="middle">06-06</text>
<text x="363.8" y="343.8" font-size="3.69" fill="#a8a8a8" text-anchor="middle">周三</text>
<text x="422.9" y="340.1" font-size="4.1" fill="#a8a8a8" text-anchor="middle">06-12</text>
<text x="422.9" y="343.8" font-size="3.69" fill="#a8a8a8" text-anchor="middle">周二</text>
<text x="482" y="340.1" font-size="4.1" fill="#a8a8a8" text-anchor="middle">06-18</text>
<text x="482" y="343.8" font-size="3.69" fill="#a8a8a8" text-anchor="middle">周一</text>
<text x="541" y="340.1" font-size="4.1" fill="#a8a8a8" text-anchor="middle">06-24</text>
<text x="541" y="343.8" font-size="3.69" fill="#a8a8a8" text-anchor="middle">周日</text>
<text x="600.1" y="340.1" font-size="4.1" fill="#a8a8a8" text-anchor="middle">06-30</text>
<text x="600.1" y="343.8" font-size="3.69" fill="#a8a8a8" text-anchor="middle">周六</text>
<circle cx="405.5" cy="283.7" r="1.5" fill="#22c19f"/>
<text x="409.1" y="284.9" font-size="3.5" fill="#555" text-anchor="start">00.23.6.130</text>
<circle cx="441.5" cy="283.7" r="1.5" fill="#3f8ff6"/>
<text x="445.1" y="284.9" font-size="3.5" fill="#555" text-anchor="start">10.28.26.63</text>
<circle cx="476.5" cy="283.7" r="1.5" fill="#3b3ddc"/>
<text x="480.1" y="284.9" font-size="3.5" fill="#555" text-anchor="start">10.200.1.9</text>
<circle cx="510" cy="283.7" r="1.5" fill="#2fcbe0"/>
<text x="513.6" y="284.9" font-size="3.5" fill="#555" text-anchor="start">10.200.1.9</text>
<polyline points="334.3,312.7 335.1,309.4 335.9,308.3 336.8,307.2 337.6,306.4 338.4,306.9 339.2,307 340.1,308.2 340.9,308.9 341.7,308.7 342.5,308 343.4,308.4 344.2,311.8 345,307.3 345.8,305.2 346.6,305.8 347.5,304.5 348.3,304.9 349.1,303.4 349.9,305.2 350.8,304 351.6,305 352.4,306.1 353.2,308.1 354,314.2 354.9,309.5 355.7,309.1 356.5,307.9 357.3,307.4 358.2,307.6 359,307.4 359.8,308.1 360.6,306.9 361.5,307.5 362.3,306.8 363.1,309 363.9,311.6 364.7,307.3 365.6,305.5 366.4,305 367.2,304.5 368,303.6 368.9,304.6 369.7,305.5 370.5,307.9 371.3,308.5 372.2,309.9 373,309.7 373.8,314.5 374.6,308.9 375.4,308.9 376.3,306.9 377.1,307 377.9,304.8 378.7,304.2 379.6,305.1 380.4,305.9 381.2,307.4 382,307.2 382.9,309.2 383.7,311.9 384.5,307.6 385.3,306.6 386.1,307.3 387,305.4 387.8,304.9 388.6,304.9 389.4,306.1 390.3,305.6 391.1,304.5 391.9,306.5 392.7,308.8 393.5,314.1 394.4,309 395.2,306.9 396,306.3 396.8,306.8 397.7,308.1 398.5,309.2 399.3,308.8 400.1,308.8 401,309 401.8,310.2 402.6,311.8 403.4,315.2 404.2,309.6 405.1,308 405.9,308.3 406.7,307.9 407.5,307.8 408.4,307.6 409.2,308.3 410,308 410.8,306.9 411.7,307.7 412.5,308.3 413.3,313.4 414.1,309.8 414.9,307.7 415.8,306.7 416.6,304.1 417.4,305.6 418.2,305.3 419.1,306.2 419.9,306.4 420.7,307.9 421.5,307.8 422.4,307.3 423.2,309.7 424,306.2 424.8,305.3 425.6,305.5 426.5,305 427.3,306.1 428.1,305.9 428.9,306.1 429.8,305.2 430.6,307.2 431.4,308.5 432.2,311.2 433,314 433.9,309.6 434.7,308 435.5,307.3 436.3,306.7 437.2,306.4 438,307.2 438.8,308.6 439.6,309.5 440.5,310.8 441.3,309.2 442.1,308.3 442.9,311 443.7,306.8 444.6,306.3 445.4,305.1 446.2,306.7 447,306.6 447.9,306.7 448.7,306 449.5,305.8 450.3,307 451.2,307.2 452,309.6 452.8,313.5 453.6,309.3 454.4,307 455.3,307.2 456.1,307 456.9,306.2 457.7,305.8 458.6,305.4 459.4,305 460.2,304.5 461,304.8 461.9,306.8 462.7,310.7 463.5,307.3 464.3,307 465.1,306.7 466,307 466.8,306.5 467.6,307.6 468.4,306.4 469.3,306.1 470.1,305.1 470.9,306.1 471.7,307.5 472.5,313.7 473.4,309.5 474.2,307.7 475,305.6 475.8,305.6 476.7,306.3 477.5,306.7 478.3,307.6 479.1,308.7 480,308.2 480.8,308.1 481.6,309.7 482.4,314 483.2,308.7 484.1,305.8 484.9,306 485.7,305.1 486.5,306 487.4,305.1 488.2,306.4 489,306.8 489.8,307.9 490.7,309.5 491.5,310.8 492.3,315.9 493.1,310 493.9,307.3 494.8,305.9 495.6,304.5 496.4,304.8 497.2,304.2 498.1,304.3 498.9,304.1 499.7,304.7 500.5,306.1 501.4,307.3 502.2,312.4 503,310 503.8,308.8 504.6,307 505.5,305.1 506.3,306.4 507.1,306.3 507.9,307.4 508.8,306 509.6,306.9 510.4,306.5 511.2,309.5 512,318.7 512.9,312.5 513.7,308.2 514.5,307.8 515.3,307.9 516.2,305.6 517,304 517.8,304.6 518.6,306.9 519.5,307.2 520.3,306.8 521.1,307.1 521.9,317.1 522.7,310.2 523.6,307.4 524.4,306.1 525.2,306.3 526,303.4 526.9,303.6 527.7,304.1 528.5,305.2 529.3,304.3 530.2,305.4 531,309.1 531.8,318.4 532.6,309.8 533.4,303.2 534.3,302.6 535.1,303.9 535.9,303.8 536.7,303.5 537.6,301.8 538.4,302.2 539.2,303.5 540,304.4 540.9,307.2 541.7,316.7 542.5,311.7 543.3,306.7 544.1,305.2 545,303.7 545.8,304.6 546.6,303.7 547.4,304 548.3,304.2 549.1,307.1 549.9,308.9 550.7,310 551.5,316 552.4,309.8 553.2,305.2 554,304.5 554.8,304.7 555.7,304.3 556.5,305 557.3,305 558.1,306.4 559,307.4 559.8,307.4 560.6,308.6 561.4,317.4 562.2,311.9 563.1,306.7 563.9,304.2 564.7,301.4 565.5,300.8 566.4,302.4 567.2,303.9 568,305.3 568.8,305.6 569.7,305.6 570.5,308.4 571.3,318.8 572.1,313.2 572.9,309.2 573.8,307.9 574.6,306.7 575.4,304.8 576.2,303.4 577.1,304.9 577.9,305.4 578.7,306.3 579.5,307 580.4,309.8 581.2,319.7 582,313.5 582.8,308.9 583.6,306.7 584.5,305.5 585.3,305.3 586.1,305.2 586.9,306.3 587.8,305.6 588.6,307.3 589.4,307.6 590.2,309.4 591,316.1 591.9,309.6 592.7,304.7 593.5,303 594.3,301.5 595.2,302.4 596,304 596.8,304.1 597.6,302 598.5,299.9 599.3,297.9 600.1,295.8" fill="none" stroke="#3f8ff6" stroke-width="0.85" stroke-linejoin="round" opacity="1"/>
<polyline points="334.3,293.9 335.1,294.1 335.9,293.9 336.8,293.5 337.6,293.3 338.4,293.5 339.2,293.2 340.1,293.4 340.9,293.6 341.7,293.8 342.5,293.8 343.4,294.1 344.2,294.1 345,294.1 345.8,294 346.6,294 347.5,293.9 348.3,294.4 349.1,294.5 349.9,294.5 350.8,294.5 351.6,294.1 352.4,293.6 353.2,293.6 354,293.6 354.9,293.7 355.7,294.1 356.5,294.1 357.3,294 358.2,294 359,294.4 359.8,293.9 360.6,294 361.5,294.1 362.3,293.8 363.1,293.3 363.9,293.5 364.7,293.6 365.6,293.6 366.4,293.9 367.2,293.9 368,294.4 368.9,294.3 369.7,294.1 370.5,294.3 371.3,294.6 372.2,294 373,293.8 373.8,293.4 374.6,293.2 375.4,293.2 376.3,293.7 377.1,294.2 377.9,294.8 378.7,294.9 379.6,294.3 380.4,294.4 381.2,294 382,294 382.9,294.1 383.7,294.6 384.5,294.5 385.3,294.3 386.1,294.3 387,294 387.8,294.2 388.6,294.1 389.4,293.9 390.3,294.2 391.1,294.5 391.9,294.1 392.7,293.9 393.5,294.1 394.4,293.8 395.2,293.7 396,293.7 396.8,293.8 397.7,293.9 398.5,294.2 399.3,294.1 400.1,294.1 401,293.8 401.8,293.5 402.6,293.1 403.4,293.1 404.2,293.5 405.1,293.5 405.9,294 406.7,294.3 407.5,294.7 408.4,294.5 409.2,294.7 410,294.9 410.8,294.5 411.7,294.3 412.5,294.3 413.3,294.1 414.1,293.8 414.9,293.9 415.8,293.8 416.6,294.2 417.4,294.7 418.2,294.6 419.1,294.4 419.9,294.4 420.7,294 421.5,293.9 422.4,293.7 423.2,293.8 424,294 424.8,293.8 425.6,293.6 426.5,293.7 427.3,293.7 428.1,293.9 428.9,294.1 429.8,294.3 430.6,294.5 431.4,294.4 432.2,294.2 433,293.9 433.9,293.9 434.7,294.1 435.5,294.3 436.3,294 437.2,294.3 438,294.1 438.8,293.8 439.6,293.5 440.5,293.6 441.3,293.5 442.1,293.3 442.9,293.3 443.7,293.9 444.6,293.9 445.4,294.3 446.2,294.6 447,294.8 447.9,294.5 448.7,294.5 449.5,294.3 450.3,294.4 451.2,294.5 452,294.2 452.8,293.9 453.6,293.8 454.4,293.4 455.3,293.4 456.1,293.7 456.9,294.4 457.7,294.6 458.6,295 459.4,294.8 460.2,294.3 461,293.7 461.9,293.5 462.7,292.9 463.5,292.9 464.3,292.9 465.1,292.9 466,293.2 466.8,293.9 467.6,294.4 468.4,294.4 469.3,294.7 470.1,294 470.9,293.9 471.7,293.4 472.5,293.3 473.4,293.1 474.2,293.2 475,292.9 475.8,292.7 476.7,293.5 477.5,293.7 478.3,294.1 479.1,294.3 480,294 480.8,293.7 481.6,293.8 482.4,293.5 483.2,293.8 484.1,294.1 484.9,294.4 485.7,294.4 486.5,294.6 487.4,294.3 488.2,294 489,293.9 489.8,293.6 490.7,293.9 491.5,293.6 492.3,293.8 493.1,293.8 493.9,294 494.8,293.8 495.6,294.3 496.4,295 497.2,295.2 498.1,295 498.9,295.3 499.7,294.6 500.5,294.2 501.4,293.5 502.2,293.4 503,293.4 503.8,293.7 504.6,293.6 505.5,293.9 506.3,294.2 507.1,294 507.9,294.1 508.8,294.6 509.6,294.4 510.4,294.1 511.2,293.7 512,293.4 512.9,293.3 513.7,293.6 514.5,293.7 515.3,294.2 516.2,294.4 517,294.5 517.8,294.3 518.6,294.8 519.5,294.7 520.3,294.6 521.1,294 521.9,294 522.7,294 523.6,293.7 524.4,294.1 525.2,294.4 526,294.3 526.9,293.9 527.7,294 528.5,294 529.3,293.9 530.2,293.8 531,293.9 531.8,293.5 532.6,293.5 533.4,293.1 534.3,293.4 535.1,293.1 535.9,293.7 536.7,294 537.6,294.1 538.4,294.2 539.2,294.4 540,294.6 540.9,294.1 541.7,294.3 542.5,294.5 543.3,294.1 544.1,294 545,294.1 545.8,294.5 546.6,294.4 547.4,294.2 548.3,294 549.1,293.7 549.9,293.1 550.7,292.7 551.5,292.7 552.4,292.8 553.2,293 554,293.4 554.8,293.6 555.7,294.3 556.5,294.5 557.3,294.4 558.1,294.3 559,293.8 559.8,293.8 560.6,293.7 561.4,293.8 562.2,294.1 563.1,294 563.9,293.8 564.7,293.7 565.5,294 566.4,294 567.2,294 568,294.1 568.8,293.8 569.7,293.9 570.5,293.9 571.3,294 572.1,293.8 572.9,293.6 573.8,293.6 574.6,293.5 575.4,293.8 576.2,294.1 577.1,294.5 577.9,294.4 578.7,294.4 579.5,294.4 580.4,294.2 581.2,294.2 582,294.5 582.8,294.5 583.6,294.4 584.5,294.6 585.3,294.8 586.1,294.6 586.9,294.2 587.8,294.4 588.6,293.8 589.4,293.9 590.2,293.7 591,293.6 591.9,293.8 592.7,293.7 593.5,293.6 594.3,293.4 595.2,293.9 596,293.7 596.8,293.6 597.6,294 598.5,294 599.3,294 600.1,293.6" fill="none" stroke="#22c19f" stroke-width="0.95" stroke-linejoin="round" opacity="1"/>
<polyline points="334.3,293.3 335.1,293.2 335.9,292.9 336.8,293.4 337.6,294.2 338.4,294.9 339.2,294.9 340.1,295.1 340.9,294.8 341.7,294.1 342.5,293.6 343.4,293.4 344.2,293.4 345,293.4 345.8,293.6 346.6,293.5 347.5,294 348.3,294.7 349.1,294.4 349.9,294.6 350.8,294.6 351.6,294.1 352.4,293.5 353.2,293.7 354,293.8 354.9,293.8 355.7,294.3 356.5,294.2 357.3,294.5 358.2,294.8 359,294.7 359.8,294.7 360.6,294.5 361.5,294.3 362.3,293.9 363.1,293.9 363.9,293.6 364.7,293.6 365.6,293.4 366.4,293.6 367.2,293.7 368,294.6 368.9,294.7 369.7,294.9 370.5,294.7 371.3,294.6 372.2,294.1 373,293.9 373.8,293.8 374.6,293.8 375.4,293.6 376.3,293.8 377.1,293.8 377.9,294.3 378.7,294.3 379.6,294.6 380.4,294.1 381.2,294.4 382,294 382.9,293.8 383.7,293.9 384.5,294.3 385.3,294.2 386.1,294.4 387,294.8 387.8,295.1 388.6,294.8 389.4,294.8 390.3,294.6 391.1,294.1 391.9,293.7 392.7,293.6 393.5,293.4 394.4,293.3 395.2,293.6 396,294 396.8,294.1 397.7,294.8 398.5,294.5 399.3,294.8 400.1,294.3 401,294.3 401.8,293.7 402.6,293.7 403.4,293.6 404.2,293.8 405.1,293.7 405.9,293.9 406.7,294.2 407.5,294.3 408.4,294 409.2,294.4 410,294.1 410.8,294.1 411.7,294.3 412.5,294.1 413.3,294 414.1,294.6 414.9,294.5 415.8,294.3 416.6,294.7 417.4,295.2 418.2,294.9 419.1,295.2 419.9,295.3 420.7,295.4 421.5,294.8 422.4,294.2 423.2,293.8 424,293.4 424.8,293.2 425.6,293.1 426.5,293.6 427.3,294.2 428.1,294.3 428.9,294.6 429.8,294.9 430.6,294.5 431.4,294 432.2,294 433,294 433.9,293.6 434.7,294 435.5,294 436.3,294.4 437.2,295 438,295.1 438.8,295.2 439.6,295 440.5,294.7 441.3,294.1 442.1,293.7 442.9,293.6 443.7,293.4 444.6,293.3 445.4,293.3 446.2,293.7 447,294.2 447.9,294.5 448.7,294.8 449.5,294.9 450.3,294.8 451.2,294.8 452,294.7 452.8,294.5 453.6,294.7 454.4,294.6 455.3,294.3 456.1,294.4 456.9,295.1 457.7,294.6 458.6,294.4 459.4,294.3 460.2,294.1 461,293.5 461.9,293.4 462.7,293.4 463.5,293.4 464.3,293.5 465.1,293.4 466,294.1 466.8,295 467.6,294.9 468.4,295.1 469.3,295.1 470.1,294.8 470.9,294 471.7,293.9 472.5,293.5 473.4,293.3 474.2,293.2 475,293.4 475.8,293.7 476.7,294.4 477.5,294.6 478.3,294.7 479.1,294.5 480,294.1 480.8,293.8 481.6,293.5 482.4,293.6 483.2,294 484.1,293.9 484.9,294.2 485.7,294.5 486.5,294.9 487.4,294.8 488.2,295 489,294.7 489.8,294.5 490.7,294.4 491.5,294 492.3,294.1 493.1,293.9 493.9,293.9 494.8,293.7 495.6,294 496.4,294.7 497.2,294.5 498.1,294.9 498.9,295 499.7,294.5 500.5,294 501.4,293.7 502.2,293.8 503,293.6 503.8,294 504.6,294.3 505.5,295 506.3,295.5 507.1,295.1 507.9,294.8 508.8,294.6 509.6,294.4 510.4,293.7 511.2,293.7 512,294.2 512.9,294 513.7,294 514.5,294.3 515.3,294.6 516.2,294.6 517,294.7 517.8,294.7 518.6,294.2 519.5,294 520.3,293.9 521.1,293.8 521.9,294 522.7,294.4 523.6,294.4 524.4,294.5 525.2,294.6 526,294.7 526.9,294.3 527.7,294.4 528.5,294.4 529.3,293.9 530.2,293.7 531,293.4 531.8,293.2 532.6,292.9 533.4,293 534.3,293 535.1,293.5 535.9,294.4 536.7,294.5 537.6,294.8 538.4,294.9 539.2,294.6 540,294.2 540.9,293.7 541.7,293.9 542.5,293.9 543.3,294 544.1,294.1 545,294.2 545.8,294.7 546.6,294.5 547.4,294.6 548.3,294.6 549.1,294.5 549.9,293.9 550.7,293.5 551.5,293.3 552.4,293.1 553.2,292.9 554,293.2 554.8,293.7 555.7,294.3 556.5,294.3 557.3,294.6 558.1,294.4 559,294.1 559.8,293.9 560.6,293.7 561.4,294.2 562.2,294.3 563.1,294.3 563.9,294.2 564.7,294.6 565.5,294.6 566.4,293.9 567.2,293.9 568,294.2 568.8,294 569.7,293.7 570.5,294.1 571.3,294.4 572.1,294 572.9,293.6 573.8,293.7 574.6,293.6 575.4,294.1 576.2,294.2 577.1,294.7 577.9,294.8 578.7,294.8 579.5,294.1 580.4,294.1 581.2,293.7 582,293.9 582.8,294 583.6,294.6 584.5,294.7 585.3,295.2 586.1,294.6 586.9,294.8 587.8,294.1 588.6,293.8 589.4,293.5 590.2,293.2 591,293.4 591.9,293.7 592.7,293.9 593.5,293.9 594.3,294.2 595.2,294.4 596,294.3 596.8,294.3 597.6,294.2 598.5,294.4 599.3,294 600.1,293.5" fill="none" stroke="#2fcbe0" stroke-width="0.95" stroke-linejoin="round" opacity="1"/>
<circle cx="593.9" cy="305.3" r="1.6" fill="#f01f1f"/>
<rect x="335" y="345.2" width="265.8" height="9.4" fill="#d3dcf6"/>
<polygon points="334.3,351.9 336.8,353.5 339.2,353.6 341.7,353.1 344.2,352.2 346.6,353.9 349.1,354.2 351.6,354.2 354,351.5 356.5,353.3 359,353.5 361.5,353.4 363.9,352.2 366.4,354.2 368.9,354.2 371.3,353.1 373.8,351.4 376.3,353.6 378.7,354.2 381.2,353.5 383.7,352.2 386.1,353.5 388.6,354.2 391.1,354.2 393.5,351.5 396,353.8 398.5,352.9 401,353 403.4,351.2 405.9,353.2 408.4,353.4 410.8,353.6 413.3,351.7 415.8,353.7 418.2,354.1 420.7,353.3 423.2,352.8 425.6,354 428.1,353.9 430.6,353.5 433,351.6 435.5,353.5 438,353.5 440.5,352.5 442.9,352.4 445.4,354.1 447.9,353.7 450.3,353.6 452.8,351.7 455.3,353.5 457.7,353.9 460.2,354.2 462.7,352.5 465.1,353.7 467.6,353.4 470.1,354.1 472.5,351.6 475,354 477.5,353.7 480,353.2 482.4,351.6 484.9,353.9 487.4,354.1 489.8,353.3 492.3,351 494.8,353.9 497.2,354.2 499.7,354.2 502.2,352 504.6,353.6 507.1,353.8 509.6,353.6 512,350.2 514.5,353.3 517,354.2 519.5,353.5 521.9,350.7 524.4,353.9 526.9,354.2 529.3,354.2 531.8,350.3 534.3,354.2 536.7,354.2 539.2,354.2 541.7,350.8 544.1,354.1 546.6,354.2 549.1,353.6 551.5,351 554,354.2 556.5,354.2 559,353.5 561.4,350.6 563.9,354.2 566.4,354.2 568.8,354 571.3,350.2 573.8,353.3 576.2,354.2 578.7,353.8 581.2,350.2 583.6,353.7 586.1,354.1 588.6,353.5 591,350.9 593.5,354.2 596,354.2 598.5,354.2 598.5,354.6 334.3,354.6" fill="#c3cff2" opacity="1"/>
<rect x="335" y="353.3" width="265.8" height="1.3" fill="#a9bcef"/>
<rect x="335" y="345.2" width="265.8" height="0.8" fill="#dfe6fa"/>
<rect x="335" y="347.6" width="2.1" height="4.6" rx="0.8" fill="#2c3fb4"/>
<rect x="598.7" y="347.6" width="2.1" height="4.6" rx="0.8" fill="#2c3fb4"/>
<line x1="30.4" y1="408.2" x2="295.2" y2="408.2" stroke="#ececec" stroke-width="0.5"/>
<line x1="30.4" y1="416.5" x2="295.2" y2="416.5" stroke="#ececec" stroke-width="0.5"/>
<line x1="30.4" y1="424.7" x2="295.2" y2="424.7" stroke="#ececec" stroke-width="0.5"/>
<line x1="30.4" y1="433" x2="295.2" y2="433" stroke="#ececec" stroke-width="0.5"/>
<line x1="30.4" y1="441.2" x2="295.2" y2="441.2" stroke="#ececec" stroke-width="0.5"/>
<line x1="177.5" y1="408.2" x2="177.5" y2="451.1" stroke="#b4b4b4" stroke-width="0.55"/>
<line x1="236.5" y1="408.2" x2="236.5" y2="451.1" stroke="#b4b4b4" stroke-width="0.55"/>
<line x1="30.4" y1="408.2" x2="30.4" y2="449.5" stroke="#c4c4c4" stroke-width="0.9"/>
<line x1="30.4" y1="449.5" x2="295.2" y2="449.5" stroke="#c8c8c8" stroke-width="0.6"/>
<line x1="30.5" y1="449.5" x2="30.5" y2="450.9" stroke="#999999" stroke-width="0.5"/>
<line x1="59.5" y1="449.5" x2="59.5" y2="450.9" stroke="#999999" stroke-width="0.5"/>
<line x1="118.5" y1="449.5" x2="118.5" y2="450.9" stroke="#999999" stroke-width="0.5"/>
<line x1="177.5" y1="449.5" x2="177.5" y2="450.9" stroke="#999999" stroke-width="0.5"/>
<line x1="236.5" y1="449.5" x2="236.5" y2="450.9" stroke="#999999" stroke-width="0.5"/>
<line x1="295.5" y1="449.5" x2="295.5" y2="450.9" stroke="#999999" stroke-width="0.5"/>
<line x1="295.5" y1="408.2" x2="295.5" y2="449.5" stroke="#e2e2e2" stroke-width="0.5"/>
<text x="27.8" y="409.4" font-size="3.3" fill="#a0a0a0" text-anchor="end">100</text>
<text x="27.8" y="417.7" font-size="3.3" fill="#a0a0a0" text-anchor="end">80</text>
<text x="27.8" y="425.9" font-size="3.3" fill="#a0a0a0" text-anchor="end">60</text>
<text x="27.8" y="434.2" font-size="3.3" fill="#a0a0a0" text-anchor="end">40</text>
<text x="27.8" y="442.4" font-size="3.3" fill="#a0a0a0" text-anchor="end">20</text>
<text x="27.8" y="450.7" font-size="3.3" fill="#a0a0a0" text-anchor="end">0</text>
<text x="30.4" y="455.8" font-size="4.1" fill="#a8a8a8" text-anchor="middle">06-03</text>
<text x="30.4" y="459.5" font-size="3.69" fill="#a8a8a8" text-anchor="middle">周日</text>
<text x="59.8" y="455.8" font-size="4.1" fill="#a8a8a8" text-anchor="middle">06-06</text>
<text x="59.8" y="459.5" font-size="3.69" fill="#a8a8a8" text-anchor="middle">周三</text>
<text x="118.7" y="455.8" font-size="4.1" fill="#a8a8a8" text-anchor="middle">06-12</text>
<text x="118.7" y="459.5" font-size="3.69" fill="#a8a8a8" text-anchor="middle">周二</text>
<text x="177.5" y="455.8" font-size="4.1" fill="#a8a8a8" text-anchor="middle">06-18</text>
<text x="177.5" y="459.5" font-size="3.69" fill="#a8a8a8" text-anchor="middle">周一</text>
<text x="236.4" y="455.8" font-size="4.1" fill="#a8a8a8" text-anchor="middle">06-24</text>
<text x="236.4" y="459.5" font-size="3.69" fill="#a8a8a8" text-anchor="middle">周日</text>
<text x="295.2" y="455.8" font-size="4.1" fill="#a8a8a8" text-anchor="middle">06-30</text>
<text x="295.2" y="459.5" font-size="3.69" fill="#a8a8a8" text-anchor="middle">周六</text>
<line x1="98.6" y1="399.4" x2="103.4" y2="399.4" stroke="#22c19f" stroke-width="0.7"/>
<circle cx="101" cy="399.4" r="1.1" fill="#22c19f"/>
<text x="105.2" y="400.6" font-size="3.5" fill="#555" text-anchor="start">10.200.1.190</text>
<line x1="132.6" y1="399.4" x2="137.4" y2="399.4" stroke="#3f8ff6" stroke-width="0.7"/>
<circle cx="135" cy="399.4" r="1.1" fill="#3f8ff6"/>
<text x="139.2" y="400.6" font-size="3.5" fill="#555" text-anchor="start">10.23.51.35</text>
<line x1="167.6" y1="399.4" x2="172.4" y2="399.4" stroke="#3b3ddc" stroke-width="0.7"/>
<circle cx="170" cy="399.4" r="1.1" fill="#3b3ddc"/>
<text x="174.2" y="400.6" font-size="3.5" fill="#555" text-anchor="start">10.28.0.19</text>
<line x1="200.6" y1="399.4" x2="205.4" y2="399.4" stroke="#2fcbe0" stroke-width="0.7"/>
<circle cx="203" cy="399.4" r="1.1" fill="#2fcbe0"/>
<text x="207.2" y="400.6" font-size="3.5" fill="#555" text-anchor="start">10.28.0.19</text>
<polyline points="30.4,432.6 31.2,432.6 32,432.6 32.9,432.6 33.7,432.6 34.5,432.6 35.3,432.6 36.1,432.6 37,432.6 37.8,432.6 38.6,432.6 39.4,432.6 40.2,432.6 41.1,432.6 41.9,432.6 42.7,432.6 43.5,432.6 44.3,432.6 45.2,432.6 46,432.6 46.8,432.6 47.6,432.6 48.4,432.6 49.3,432.6 50.1,432.6 50.9,432.6 51.7,432.6 52.5,432.6 53.4,432.6 54.2,432.6 55,432.6 55.8,432.6 56.6,432.6 57.5,432.6 58.3,432.6 59.1,432.6 59.9,432.6 60.7,432.6 61.6,432.6 62.4,432.6 63.2,432.6 64,427.6 64.8,423.8 65.7,423.9 66.5,424 67.3,424.1 68.1,424.2 68.9,424.3 69.8,424.4 70.6,424.4 71.4,424.5 72.2,424.6 73,424.7 73.9,424.8 74.7,424.9 75.5,424.9 76.3,425 77.1,425.1 77.9,425.2 78.8,425.3 79.6,425.4 80.4,425.5 81.2,425.5 82,425.6 82.9,425.7 83.7,425.8 84.5,425.9 85.3,426 86.1,426 87,426.1 87.8,426.2 88.6,426.3 89.4,426.4 90.2,426.5 91.1,426.5 91.9,426.6 92.7,426.7 93.5,426.8 94.3,426.9 95.2,427 96,427.1 96.8,427.1 97.6,427.2 98.4,427.3 99.3,427.4 100.1,427.5 100.9,427.6 101.7,427.6 102.5,427.7 103.4,427.8 104.2,427.9 105,428 105.8,428.1 106.6,428.2 107.5,428.2 108.3,428.3 109.1,428.4 109.9,428.5 110.7,428.5 111.6,428.6 112.4,428.6 113.2,428.6 114,428.6 114.8,428.7 115.7,428.7 116.5,428.7 117.3,428.7 118.1,428.8 118.9,428.8 119.8,428.8 120.6,428.8 121.4,428.9 122.2,428.9 123,428.9 123.9,429 124.7,429 125.5,429 126.3,429 127.1,429.1 128,429.1 128.8,429.1 129.6,429.1 130.4,429.2 131.2,429.2 132.1,429.2 132.9,429.3 133.7,429.3 134.5,429.3 135.3,429.3 136.2,429.4 137,429.4 137.8,429.4 138.6,429.4 139.4,429.5 140.3,429.5 141.1,429.5 141.9,429.5 142.7,429.6 143.5,429.6 144.4,429.6 145.2,429.7 146,429.7 146.8,429.7 147.6,429.7 148.5,429.8 149.3,429.8 150.1,429.8 150.9,429.8 151.7,429.9 152.6,429.9 153.4,429.9 154.2,430 155,430 155.8,430 156.7,430 157.5,430.1 158.3,430.1 159.1,430.1 159.9,430.1 160.8,430.2 161.6,430.2 162.4,430.2 163.2,430.2 164,430.3 164.8,430.3 165.7,430.3 166.5,430.4 167.3,430.4 168.1,430.4 168.9,430.4 169.8,430.5 170.6,430.5 171.4,430.5 172.2,430.5 173,430.6 173.9,430.6 174.7,430.6 175.5,430.7 176.3,430.7 177.1,430.7 178,430.7 178.8,430.8 179.6,430.8 180.4,430.8 181.2,430.8 182.1,430.9 182.9,430.9 183.7,430.9 184.5,430.9 185.3,431 186.2,431 187,431 187.8,431 188.6,431.1 189.4,431.1 190.3,431.1 191.1,431.1 191.9,431.2 192.7,431.2 193.5,431.2 194.4,431.2 195.2,431.3 196,431.3 196.8,431.3 197.6,431.3 198.5,431.4 199.3,431.4 200.1,431.4 200.9,431.4 201.7,431.5 202.6,431.5 203.4,431.5 204.2,431.5 205,431.6 205.8,431.6 206.7,431.6 207.5,431.6 208.3,431.6 209.1,431.7 209.9,431.7 210.8,431.7 211.6,431.7 212.4,431.8 213.2,431.8 214,431.8 214.9,431.8 215.7,431.9 216.5,431.9 217.3,431.9 218.1,431.9 219,432 219.8,432 220.6,432.1 221.4,432.3 222.2,432.5 223.1,432.6 223.9,432.8 224.7,433 225.5,433.1 226.3,433.3 227.2,433.5 228,433.7 228.8,433.8 229.6,434 230.4,434.2 231.3,434.3 232.1,434.5 232.9,434.7 233.7,434.9 234.5,435 235.4,435.2 236.2,435.4 237,435.5 237.8,435.7 238.6,435.9 239.5,436 240.3,436.2 241.1,436.4 241.9,436.6 242.7,436.7 243.6,436.9 244.4,437.1 245.2,437.2 246,437.2 246.8,437.2 247.7,437.2 248.5,437.2 249.3,437.3 250.1,437.3 250.9,437.3 251.7,437.3 252.6,437.3 253.4,437.3 254.2,437.3 255,437.3 255.8,437.3 256.7,437.4 257.5,437.4 258.3,437.4 259.1,437.4 259.9,437.4 260.8,437.4 261.6,437.4 262.4,437.4 263.2,437.4 264,437.5 264.9,437.5 265.7,437.5 266.5,437.5 267.3,437.5 268.1,437.5 269,437.5 269.8,437.5 270.6,437.5 271.4,437.6 272.2,437.6 273.1,437.6 273.9,437.6 274.7,437.6 275.5,437.6 276.3,437.6 277.2,437.6 278,437.6 278.8,437.7 279.6,437.7 280.4,437.7 281.3,437.7 282.1,437.7 282.9,437.7 283.7,437.7 284.5,437.7 285.4,437.7 286.2,437.8 287,437.8 287.8,437.8 288.6,437.8 289.5,437.8 290.3,430.8 291.1,427.9 291.9,427.7 292.7,427.5 293.6,427.4 294.4,427.2 295.2,427" fill="none" stroke="#2fcbe0" stroke-width="1.0" stroke-linejoin="round" opacity="1"/>
<polyline points="30.4,438.1 31.2,438.1 32,438.1 32.9,438.1 33.7,438.1 34.5,438.1 35.3,438.1 36.1,438.1 37,438.1 37.8,438.1 38.6,438.1 39.4,438.1 40.2,438.1 41.1,438.1 41.9,438.1 42.7,438.1 43.5,438.1 44.3,438.1 45.2,438.1 46,438.1 46.8,438.1 47.6,438.1 48.4,438.1 49.3,438.1 50.1,438.1 50.9,438.1 51.7,438.1 52.5,438.1 53.4,438.1 54.2,438.1 55,438.1 55.8,438.1 56.6,438.1 57.5,438.1 58.3,438.1 59.1,438.1 59.9,438.1 60.7,438.1 61.6,438.1 62.4,438.1 63.2,438.1 64,429.8 64.8,423.7 65.7,423.7 66.5,423.8 67.3,423.9 68.1,424 68.9,424.1 69.8,424.2 70.6,424.3 71.4,424.4 72.2,425.1 73,427.3 73.9,429.6 74.7,430.1 75.5,430.1 76.3,430.2 77.1,430.3 77.9,430.4 78.8,430.5 79.6,433.1 80.4,436.8 81.2,437.2 82,437.2 82.9,437.2 83.7,437.2 84.5,437.2 85.3,437.2 86.1,437.2 87,437.2 87.8,437.2 88.6,437.2 89.4,437.2 90.2,437.2 91.1,437.2 91.9,437.2 92.7,437.2 93.5,437.2 94.3,437.2 95.2,437.2 96,437.2 96.8,437.2 97.6,437.2 98.4,437.2 99.3,437.2 100.1,437.2 100.9,437.2 101.7,437.2 102.5,437.2 103.4,437.2 104.2,437.2 105,437.2 105.8,437.2 106.6,437.3 107.5,437.3 108.3,437.3 109.1,437.3 109.9,437.3 110.7,437.3 111.6,437.3 112.4,437.3 113.2,437.3 114,437.3 114.8,437.3 115.7,437.3 116.5,437.3 117.3,437.3 118.1,437.3 118.9,437.3 119.8,437.3 120.6,437.3 121.4,437.3 122.2,437.3 123,437.3 123.9,437.3 124.7,437.3 125.5,437.3 126.3,437.3 127.1,437.3 128,437.3 128.8,437.3 129.6,437.3 130.4,437.3 131.2,437.3 132.1,437.3 132.9,437.3 133.7,437.3 134.5,437.3 135.3,437.3 136.2,437.3 137,437.3 137.8,437.3 138.6,437.3 139.4,437.3 140.3,437.3 141.1,437.3 141.9,437.3 142.7,437.3 143.5,437.3 144.4,437.3 145.2,437.3 146,437.3 146.8,437.3 147.6,437.3 148.5,437.3 149.3,437.3 150.1,437.3 150.9,437.3 151.7,437.3 152.6,437.3 153.4,437.3 154.2,437.3 155,437.3 155.8,437.3 156.7,437.3 157.5,437.3 158.3,437.3 159.1,437.4 159.9,437.4 160.8,437.4 161.6,437.4 162.4,437.4 163.2,437.4 164,437.4 164.8,437.4 165.7,437.4 166.5,437.4 167.3,437.4 168.1,437.4 168.9,437.4 169.8,437.4 170.6,437.4 171.4,437.4 172.2,437.4 173,437.4 173.9,437.4 174.7,437.4 175.5,437.4 176.3,437.4 177.1,437.4 178,437.4 178.8,437.4 179.6,437.4 180.4,437.4 181.2,437.4 182.1,437.4 182.9,437.4 183.7,437.4 184.5,437.4 185.3,437.4 186.2,437.4 187,437.4 187.8,437.4 188.6,437.4 189.4,437.4 190.3,437.4 191.1,437.4 191.9,437.4 192.7,437.4 193.5,437.4 194.4,437.4 195.2,437.4 196,437.4 196.8,437.4 197.6,437.4 198.5,437.4 199.3,437.4 200.1,437.4 200.9,437.4 201.7,437.4 202.6,437.4 203.4,437.4 204.2,437.4 205,437.4 205.8,437.4 206.7,437.4 207.5,437.4 208.3,437.4 209.1,437.4 209.9,437.4 210.8,437.4 211.6,437.5 212.4,437.5 213.2,437.5 214,437.5 214.9,437.5 215.7,437.5 216.5,437.5 217.3,437.5 218.1,437.5 219,437.5 219.8,437.5 220.6,437.5 221.4,437.5 222.2,437.5 223.1,437.5 223.9,437.5 224.7,437.5 225.5,437.5 226.3,437.5 227.2,437.5 228,437.5 228.8,437.5 229.6,437.5 230.4,437.5 231.3,437.5 232.1,437.5 232.9,437.5 233.7,437.5 234.5,437.5 235.4,437.5 236.2,437.5 237,437.5 237.8,437.5 238.6,437.5 239.5,437.5 240.3,437.5 241.1,437.5 241.9,437.5 242.7,437.5 243.6,437.5 244.4,437.5 245.2,437.5 246,437.5 246.8,437.5 247.7,437.5 248.5,437.5 249.3,437.5 250.1,437.5 250.9,437.5 251.7,437.5 252.6,437.5 253.4,437.5 254.2,437.5 255,437.5 255.8,437.5 256.7,437.5 257.5,437.5 258.3,437.5 259.1,437.5 259.9,437.5 260.8,437.5 261.6,437.5 262.4,437.5 263.2,437.5 264,437.6 264.9,437.6 265.7,437.6 266.5,437.6 267.3,437.6 268.1,437.6 269,437.6 269.8,437.6 270.6,437.6 271.4,437.6 272.2,437.6 273.1,437.6 273.9,437.6 274.7,437.6 275.5,437.6 276.3,437.6 277.2,437.6 278,437.6 278.8,437.6 279.6,437.6 280.4,437.6 281.3,437.6 282.1,437.6 282.9,437.6 283.7,437.6 284.5,437.6 285.4,437.6 286.2,437.6 287,437.6 287.8,437.6 288.6,437.6 289.5,437.6 290.3,438.2 291.1,438.4 291.9,438.4 292.7,438.3 293.6,438.2 294.4,438.1 295.2,438" fill="none" stroke="#22c19f" stroke-width="1.0" stroke-linejoin="round" opacity="1"/>
<polyline points="30.4,422.1 31.2,422.3 32,421.6 32.9,421 33.7,420.5 34.5,420.2 35.3,420.9 36.1,421.2 37,421 37.8,421.2 38.6,421.3 39.4,422.2 40.2,421.6 41.1,422.3 41.9,421.4 42.7,421.5 43.5,421.1 44.3,421 45.2,421.6 46,421.2 46.8,422 47.6,421 48.4,420.7 49.3,420 50.1,420.8 50.9,421.9 51.7,422.9 52.5,422.5 53.4,421.5 54.2,421.4 55,421.3 55.8,422.2 56.6,422 57.5,422.1 58.3,421.3 59.1,420.8 59.9,420.2 60.7,420.5 61.6,420.7 62.4,421.7 63.2,421.3 64,421.8 64.8,420.8 65.7,420.9 66.5,421.1 67.3,421.2 68.1,421.8 68.9,421.4 69.8,421.6 70.6,421.3 71.4,420.8 72.2,421.2 73,421.2 73.9,421.8 74.7,421.9 75.5,421.6 76.3,421.3 77.1,420.8 77.9,421.8 78.8,422.1 79.6,421.9 80.4,421.3 81.2,420.6 82,421 82.9,420.5 83.7,420.7 84.5,420.7 85.3,421.9 86.1,423.6 87,425.3 87.8,426.6 88.6,427.8 89.4,427.4 90.2,428.2 91.1,428.2 91.9,428.5 92.7,427.1 93.5,426.4 94.3,425.3 95.2,425.1 96,423.7 96.8,423.8 97.6,422.4 98.4,422.4 99.3,422.8 100.1,422.6 100.9,422.3 101.7,421.8 102.5,422.4 103.4,422.3 104.2,421.9 105,421.9 105.8,422 106.6,421.8 107.5,421.9 108.3,422.7 109.1,423.6 109.9,423.8 110.7,423 111.6,422.4 112.4,422.1 113.2,422.6 114,423 114.8,422.9 115.7,422.5 116.5,422 117.3,421.5 118.1,421.3 118.9,421.7 119.8,421.7 120.6,422.7 121.4,423.1 122.2,423.2 123,423.3 123.9,422.9 124.7,422.7 125.5,422.1 126.3,421.7 127.1,422.1 128,421.7 128.8,421.6 129.6,421.2 130.4,421.7 131.2,422 132.1,422.3 132.9,422.8 133.7,423.3 134.5,423.7 135.3,423.5 136.2,422.9 137,423.2 137.8,423.2 138.6,423.2 139.4,423.2 140.3,422.6 141.1,422.4 141.9,422.1 142.7,421.8 143.5,422.4 144.4,422.2 145.2,422.7 146,422.8 146.8,423.2 147.6,423.7 148.5,423.6 149.3,423.8 150.1,423.6 150.9,423.5 151.7,423.8 152.6,423.6 153.4,423.6 154.2,423.2 155,423.1 155.8,423.4 156.7,423.1 157.5,422.7 158.3,422.2 159.1,422.2 159.9,422.8 160.8,423 161.6,422.6 162.4,422 163.2,422 164,422.5 164.8,423.1 165.7,422.9 166.5,422.6 167.3,422.6 168.1,423.2 168.9,423.2 169.8,423.1 170.6,422.7 171.4,423.3 172.2,423.2 173,423 173.9,423.5 174.7,423.9 175.5,423.9 176.3,423.6 177.1,423.4 178,423.9 178.8,424.1 179.6,423.4 180.4,422.7 181.2,421.7 182.1,422.6 182.9,423.5 183.7,423.5 184.5,423.1 185.3,423.1 186.2,423.7 187,423.8 187.8,423.8 188.6,424.1 189.4,423.5 190.3,423.6 191.1,422.8 191.9,423.4 192.7,423.2 193.5,423.2 194.4,422.8 195.2,423 196,423.6 196.8,424.4 197.6,423.4 198.5,423.3 199.3,423 200.1,424 200.9,424.1 201.7,423.6 202.6,422.6 203.4,421.9 204.2,421.9 205,422.5 205.8,422.6 206.7,422.5 207.5,421.9 208.3,422.4 209.1,423.2 209.9,423.2 210.8,423 211.6,423.2 212.4,423.5 213.2,423.5 214,423.3 214.9,422.9 215.7,423.4 216.5,423.3 217.3,424.2 218.1,423.5 219,423.2 219.8,423.5 220.6,423.1 221.4,422.6 222.2,422.3 223.1,423.4 223.9,423.4 224.7,422.9 225.5,422.3 226.3,423.1 227.2,423.5 228,423.8 228.8,422.9 229.6,422.5 230.4,422.4 231.3,423.2 232.1,423.1 232.9,422.5 233.7,422 234.5,422.4 235.4,422.7 236.2,422.5 237,422.1 237.8,422.5 238.6,423.4 239.5,424.1 240.3,424.4 241.1,423.5 241.9,423.4 242.7,422.8 243.6,423.7 244.4,423.6 245.2,423.9 246,424 246.8,424.5 247.7,423.9 248.5,423.3 249.3,422.3 250.1,422.8 250.9,422.5 251.7,423.3 252.6,423 253.4,422.8 254.2,423 255,422.7 255.8,423.1 256.7,422.6 257.5,422.5 258.3,423.2 259.1,423.4 259.9,423.5 260.8,423.3 261.6,422.6 262.4,423.1 263.2,422.5 264,422.7 264.9,422.6 265.7,423.1 266.5,423.6 267.3,424.1 268.1,423.9 269,423.5 269.8,422.7 270.6,423.2 271.4,423.2 272.2,423.2 273.1,422.5 273.9,422.6 274.7,423.4 275.5,423.7 276.3,424.1 277.2,423.7 278,423.9 278.8,423.2 279.6,423.1 280.4,423.3 281.3,423.1 282.1,423.2 282.9,422.6 283.7,422.9 284.5,422.7 285.4,422.7 286.2,423 287,422.7 287.8,422.7 288.6,422.3 289.5,422.5 290.3,416.6 291.1,414.4 291.9,415.1 292.7,414.2 293.6,413.5 294.4,412.7 295.2,413" fill="none" stroke="#3f8ff6" stroke-width="0.8" stroke-linejoin="round" opacity="1"/>
<polyline points="30.4,429.7 31.2,429.7 32,429.7 32.9,429.7 33.7,429.7 34.5,429.7 35.3,429.7 36.1,429.7 37,429.7 37.8,429.8 38.6,429.8 39.4,429.8 40.2,429.8 41.1,429.8 41.9,429.8 42.7,429.8 43.5,429.8 44.3,429.8 45.2,429.8 46,429.8 46.8,429.8 47.6,429.8 48.4,429.8 49.3,429.8 50.1,429.8 50.9,429.9 51.7,429.9 52.5,429.9 53.4,429.9 54.2,429.9 55,429.9 55.8,429.9 56.6,429.9 57.5,430.6 58.3,431.5 59.1,431.6 59.9,431.7 60.7,431.8 61.6,432 62.4,432.1 63.2,432.2 64,421.6 64.8,413.5 65.7,413.6 66.5,413.6 67.3,413.7 68.1,413.8 68.9,413.8 69.8,413.9 70.6,413.9 71.4,414 72.2,414 73,414.1 73.9,414.2 74.7,414.2 75.5,414.3 76.3,414.3 77.1,414.4 77.9,414.5 78.8,414.5 79.6,414.6 80.4,414.6 81.2,414.7 82,414.7 82.9,414.8 83.7,414.9 84.5,414.9 85.3,415 86.1,415 87,415.1 87.8,415.1 88.6,415.2 89.4,415.3 90.2,415.3 91.1,415.4 91.9,415.4 92.7,415.5 93.5,415.5 94.3,415.6 95.2,415.7 96,415.7 96.8,415.8 97.6,415.8 98.4,415.9 99.3,415.9 100.1,416 100.9,416.1 101.7,416.1 102.5,416.2 103.4,416.2 104.2,416.3 105,416.3 105.8,416.3 106.6,416.4 107.5,416.4 108.3,416.5 109.1,416.5 109.9,416.6 110.7,416.6 111.6,416.7 112.4,416.7 113.2,416.8 114,416.8 114.8,416.9 115.7,416.9 116.5,417 117.3,417 118.1,417.1 118.9,417.1 119.8,417.2 120.6,417.2 121.4,417.3 122.2,417.3 123,417.4 123.9,417.4 124.7,417.5 125.5,417.5 126.3,417.6 127.1,417.6 128,417.7 128.8,417.7 129.6,417.8 130.4,417.8 131.2,417.9 132.1,417.9 132.9,418 133.7,418 134.5,418.1 135.3,418.1 136.2,418.2 137,418.2 137.8,418.3 138.6,418.3 139.4,418.4 140.3,418.4 141.1,418.5 141.9,418.5 142.7,418.6 143.5,418.6 144.4,418.7 145.2,418.7 146,418.8 146.8,418.8 147.6,418.9 148.5,418.9 149.3,419 150.1,419 150.9,419.1 151.7,419.1 152.6,419.2 153.4,419.2 154.2,419.3 155,419.3 155.8,419.3 156.7,419.4 157.5,419.4 158.3,419.5 159.1,419.5 159.9,419.6 160.8,419.6 161.6,419.7 162.4,419.7 163.2,419.8 164,419.8 164.8,419.9 165.7,419.9 166.5,420 167.3,420 168.1,420.1 168.9,420.1 169.8,420.2 170.6,420.2 171.4,420.3 172.2,420.3 173,420.4 173.9,420.4 174.7,420.5 175.5,420.5 176.3,420.6 177.1,420.6 178,420.7 178.8,420.7 179.6,420.8 180.4,420.8 181.2,420.9 182.1,420.9 182.9,421 183.7,421 184.5,421.1 185.3,421.1 186.2,421.2 187,421.2 187.8,421.3 188.6,421.3 189.4,421.4 190.3,421.4 191.1,421.5 191.9,421.5 192.7,421.6 193.5,421.6 194.4,421.7 195.2,421.7 196,421.8 196.8,421.8 197.6,421.9 198.5,421.9 199.3,422 200.1,422 200.9,422.1 201.7,422.2 202.6,422.3 203.4,422.4 204.2,422.5 205,422.6 205.8,422.7 206.7,422.8 207.5,422.9 208.3,423 209.1,423.1 209.9,423.2 210.8,423.3 211.6,423.4 212.4,423.5 213.2,423.6 214,423.7 214.9,423.8 215.7,423.9 216.5,424 217.3,424.1 218.1,424.2 219,424.3 219.8,424.4 220.6,424.5 221.4,424.6 222.2,424.7 223.1,424.8 223.9,424.9 224.7,425 225.5,425.1 226.3,425.2 227.2,425.3 228,425.4 228.8,425.5 229.6,425.6 230.4,425.7 231.3,425.8 232.1,425.9 232.9,426 233.7,426.1 234.5,426.2 235.4,426.3 236.2,426.4 237,426.5 237.8,426.6 238.6,426.7 239.5,426.8 240.3,426.9 241.1,427 241.9,427.1 242.7,427.2 243.6,427.3 244.4,427.4 245.2,427.6 246,427.8 246.8,428 247.7,428.3 248.5,428.5 249.3,428.8 250.1,429 250.9,429.3 251.7,429.5 252.6,429.8 253.4,430 254.2,430.3 255,430.5 255.8,430.8 256.7,431 257.5,431.2 258.3,431.5 259.1,431.7 259.9,432 260.8,432.2 261.6,432.5 262.4,432.7 263.2,433 264,433.2 264.9,433.5 265.7,433.5 266.5,433.5 267.3,433.5 268.1,433.6 269,433.6 269.8,433.6 270.6,433.6 271.4,433.6 272.2,433.6 273.1,433.7 273.9,433.7 274.7,433.7 275.5,433.7 276.3,433.7 277.2,433.7 278,433.8 278.8,433.8 279.6,433.8 280.4,433.8 281.3,433.8 282.1,433.8 282.9,433.9 283.7,433.9 284.5,433.9 285.4,433.9 286.2,433.9 287,433.9 287.8,434 288.6,434 289.5,434 290.3,423.7 291.1,419.5 291.9,419.5 292.7,419.5 293.6,419.5 294.4,419.5 295.2,419.5" fill="none" stroke="#3b3ddc" stroke-width="1.1" stroke-linejoin="round" opacity="1"/>
<circle cx="64.2" cy="413.5" r="1.6" fill="#f01f1f"/>
<circle cx="64.2" cy="423.6" r="1.6" fill="#f01f1f"/>
<circle cx="63.6" cy="430.5" r="1.6" fill="#f01f1f"/>
<circle cx="63.6" cy="432.4" r="1.6" fill="#f01f1f"/>
<circle cx="63.8" cy="434.2" r="1.6" fill="#f01f1f"/>
<circle cx="63.8" cy="436.8" r="1.6" fill="#f01f1f"/>
<circle cx="290.8" cy="419" r="1.6" fill="#f01f1f"/>
<circle cx="291.2" cy="417.3" r="1.6" fill="#f01f1f"/>
<circle cx="290.7" cy="428" r="1.6" fill="#f01f1f"/>
<circle cx="290.7" cy="438.5" r="1.6" fill="#f01f1f"/>
<rect x="30.6" y="460.9" width="265" height="9.4" fill="#d3dcf6"/>
<polygon points="60,469.9 63,469.9 66,466.7 70,466.9 75,466.4 80,467.7 90,468.8 95,469.3 100,469.9 100,470.3 60,470.3" fill="#c3cff2" opacity="1"/>
<rect x="30.6" y="469" width="265" height="1.3" fill="#a9bcef"/>
<rect x="30.6" y="460.9" width="265" height="0.8" fill="#dfe6fa"/>
<rect x="30.6" y="463.3" width="2.1" height="4.6" rx="0.8" fill="#2c3fb4"/>
<rect x="293.5" y="463.3" width="2.1" height="4.6" rx="0.8" fill="#2c3fb4"/>
<line x1="334.3" y1="408.2" x2="600.1" y2="408.2" stroke="#ececec" stroke-width="0.5"/>
<line x1="334.3" y1="416.5" x2="600.1" y2="416.5" stroke="#ececec" stroke-width="0.5"/>
<line x1="334.3" y1="424.7" x2="600.1" y2="424.7" stroke="#ececec" stroke-width="0.5"/>
<line x1="334.3" y1="433" x2="600.1" y2="433" stroke="#ececec" stroke-width="0.5"/>
<line x1="334.3" y1="441.2" x2="600.1" y2="441.2" stroke="#ececec" stroke-width="0.5"/>
<line x1="363.5" y1="408.2" x2="363.5" y2="449.5" stroke="#e0e0e0" stroke-width="0.5"/>
<line x1="422.5" y1="408.2" x2="422.5" y2="451.1" stroke="#8c8c8c" stroke-width="0.55"/>
<line x1="481.5" y1="408.2" x2="481.5" y2="451.1" stroke="#8c8c8c" stroke-width="0.55"/>
<line x1="541.5" y1="408.2" x2="541.5" y2="449.5" stroke="#e0e0e0" stroke-width="0.5"/>
<line x1="334.3" y1="449.5" x2="600.1" y2="449.5" stroke="#707070" stroke-width="0.8"/>
<line x1="334.5" y1="449.5" x2="334.5" y2="450.9" stroke="#999999" stroke-width="0.5"/>
<line x1="363.5" y1="449.5" x2="363.5" y2="450.9" stroke="#999999" stroke-width="0.5"/>
<line x1="422.5" y1="449.5" x2="422.5" y2="450.9" stroke="#999999" stroke-width="0.5"/>
<line x1="481.5" y1="449.5" x2="481.5" y2="450.9" stroke="#999999" stroke-width="0.5"/>
<line x1="541.5" y1="449.5" x2="541.5" y2="450.9" stroke="#999999" stroke-width="0.5"/>
<line x1="600.5" y1="449.5" x2="600.5" y2="450.9" stroke="#999999" stroke-width="0.5"/>
<line x1="600.5" y1="408.2" x2="600.5" y2="449.5" stroke="#e2e2e2" stroke-width="0.5"/>
<text x="331.7" y="409.4" font-size="3.3" fill="#a0a0a0" text-anchor="end">100</text>
<text x="331.7" y="417.7" font-size="3.3" fill="#a0a0a0" text-anchor="end">80</text>
<text x="331.7" y="425.9" font-size="3.3" fill="#a0a0a0" text-anchor="end">60</text>
<text x="331.7" y="434.2" font-size="3.3" fill="#a0a0a0" text-anchor="end">40</text>
<text x="331.7" y="442.4" font-size="3.3" fill="#a0a0a0" text-anchor="end">20</text>
<text x="331.7" y="450.7" font-size="3.3" fill="#a0a0a0" text-anchor="end">0</text>
<text x="334.3" y="455.8" font-size="4.1" fill="#a8a8a8" text-anchor="middle">06-03</text>
<text x="334.3" y="459.5" font-size="3.69" fill="#a8a8a8" text-anchor="middle">周日</text>
<text x="363.8" y="455.8" font-size="4.1" fill="#a8a8a8" text-anchor="middle">06-06</text>
<text x="363.8" y="459.5" font-size="3.69" fill="#a8a8a8" text-anchor="middle">周三</text>
<text x="422.9" y="455.8" font-size="4.1" fill="#a8a8a8" text-anchor="middle">06-12</text>
<text x="422.9" y="459.5" font-size="3.69" fill="#a8a8a8" text-anchor="middle">周二</text>
<text x="482" y="455.8" font-size="4.1" fill="#a8a8a8" text-anchor="middle">06-18</text>
<text x="482" y="459.5" font-size="3.69" fill="#a8a8a8" text-anchor="middle">周一</text>
<text x="541" y="455.8" font-size="4.1" fill="#a8a8a8" text-anchor="middle">06-24</text>
<text x="541" y="459.5" font-size="3.69" fill="#a8a8a8" text-anchor="middle">周日</text>
<text x="600.1" y="455.8" font-size="4.1" fill="#a8a8a8" text-anchor="middle">06-30</text>
<text x="600.1" y="459.5" font-size="3.69" fill="#a8a8a8" text-anchor="middle">周六</text>
<line x1="403.1" y1="399.4" x2="407.9" y2="399.4" stroke="#22c19f" stroke-width="0.7"/>
<circle cx="405.5" cy="399.4" r="1.1" fill="#22c19f"/>
<text x="409.7" y="400.6" font-size="3.5" fill="#555" text-anchor="start">00.23.6.130</text>
<line x1="439.1" y1="399.4" x2="443.9" y2="399.4" stroke="#3f8ff6" stroke-width="0.7"/>
<circle cx="441.5" cy="399.4" r="1.1" fill="#3f8ff6"/>
<text x="445.7" y="400.6" font-size="3.5" fill="#555" text-anchor="start">10.28.26.63</text>
<line x1="474.1" y1="399.4" x2="478.9" y2="399.4" stroke="#3b3ddc" stroke-width="0.7"/>
<circle cx="476.5" cy="399.4" r="1.1" fill="#3b3ddc"/>
<text x="480.7" y="400.6" font-size="3.5" fill="#555" text-anchor="start">10.200.1.9</text>
<line x1="507.6" y1="399.4" x2="512.4" y2="399.4" stroke="#2fcbe0" stroke-width="0.7"/>
<circle cx="510" cy="399.4" r="1.1" fill="#2fcbe0"/>
<text x="514.2" y="400.6" font-size="3.5" fill="#555" text-anchor="start">10.200.1.9</text>
<line x1="334.3" y1="408.5" x2="600.1" y2="408.5" stroke="#56d3e3" stroke-width="1.1"/>
<rect x="335" y="460.9" width="265.8" height="9.4" fill="#d3dcf6"/>
<rect x="335" y="469" width="265.8" height="1.3" fill="#a9bcef"/>
<rect x="335" y="460.9" width="265.8" height="0.8" fill="#dfe6fa"/>
<rect x="335" y="463.3" width="2.1" height="4.6" rx="0.8" fill="#2c3fb4"/>
<rect x="598.7" y="463.3" width="2.1" height="4.6" rx="0.8" fill="#2c3fb4"/>
<line x1="34.7" y1="523.9" x2="295.2" y2="523.9" stroke="#ececec" stroke-width="0.5"/>
<line x1="34.7" y1="532.2" x2="295.2" y2="532.2" stroke="#ececec" stroke-width="0.5"/>
<line x1="34.7" y1="540.4" x2="295.2" y2="540.4" stroke="#ececec" stroke-width="0.5"/>
<line x1="34.7" y1="548.7" x2="295.2" y2="548.7" stroke="#ececec" stroke-width="0.5"/>
<line x1="34.7" y1="556.9" x2="295.2" y2="556.9" stroke="#ececec" stroke-width="0.5"/>
<line x1="179.5" y1="523.9" x2="179.5" y2="566.8" stroke="#8c8c8c" stroke-width="0.55"/>
<line x1="237.5" y1="523.9" x2="237.5" y2="566.8" stroke="#8c8c8c" stroke-width="0.55"/>
<line x1="34.7" y1="523.9" x2="34.7" y2="565.2" stroke="#666666" stroke-width="0.9"/>
<line x1="34.7" y1="565.2" x2="295.2" y2="565.2" stroke="#707070" stroke-width="0.8"/>
<line x1="34.5" y1="565.2" x2="34.5" y2="566.6" stroke="#999999" stroke-width="0.5"/>
<line x1="63.5" y1="565.2" x2="63.5" y2="566.6" stroke="#999999" stroke-width="0.5"/>
<line x1="121.5" y1="565.2" x2="121.5" y2="566.6" stroke="#999999" stroke-width="0.5"/>
<line x1="179.5" y1="565.2" x2="179.5" y2="566.6" stroke="#999999" stroke-width="0.5"/>
<line x1="237.5" y1="565.2" x2="237.5" y2="566.6" stroke="#999999" stroke-width="0.5"/>
<line x1="295.5" y1="565.2" x2="295.5" y2="566.6" stroke="#999999" stroke-width="0.5"/>
<line x1="295.5" y1="523.9" x2="295.5" y2="565.2" stroke="#e2e2e2" stroke-width="0.5"/>
<text x="32.2" y="525.1" font-size="3.3" fill="#a0a0a0" text-anchor="end">5,000</text>
<text x="32.2" y="533.4" font-size="3.3" fill="#a0a0a0" text-anchor="end">4,000</text>
<text x="32.2" y="541.6" font-size="3.3" fill="#a0a0a0" text-anchor="end">3,000</text>
<text x="32.2" y="549.9" font-size="3.3" fill="#a0a0a0" text-anchor="end">2,000</text>
<text x="32.2" y="558.1" font-size="3.3" fill="#a0a0a0" text-anchor="end">1,000</text>
<text x="32.2" y="566.4" font-size="3.3" fill="#a0a0a0" text-anchor="end">0</text>
<text x="34.7" y="571.5" font-size="4.1" fill="#a8a8a8" text-anchor="middle">06-03</text>
<text x="34.7" y="575.2" font-size="3.69" fill="#a8a8a8" text-anchor="middle">周日</text>
<text x="63.6" y="571.5" font-size="4.1" fill="#a8a8a8" text-anchor="middle">06-06</text>
<text x="63.6" y="575.2" font-size="3.69" fill="#a8a8a8" text-anchor="middle">周三</text>
<text x="121.5" y="571.5" font-size="4.1" fill="#a8a8a8" text-anchor="middle">06-12</text>
<text x="121.5" y="575.2" font-size="3.69" fill="#a8a8a8" text-anchor="middle">周二</text>
<text x="179.4" y="571.5" font-size="4.1" fill="#a8a8a8" text-anchor="middle">06-18</text>
<text x="179.4" y="575.2" font-size="3.69" fill="#a8a8a8" text-anchor="middle">周一</text>
<text x="237.3" y="571.5" font-size="4.1" fill="#a8a8a8" text-anchor="middle">06-24</text>
<text x="237.3" y="575.2" font-size="3.69" fill="#a8a8a8" text-anchor="middle">周日</text>
<text x="295.2" y="571.5" font-size="4.1" fill="#a8a8a8" text-anchor="middle">06-30</text>
<text x="295.2" y="575.2" font-size="3.69" fill="#a8a8a8" text-anchor="middle">周六</text>
<circle cx="101.7" cy="515.1" r="1.5" fill="#22c19f"/>
<text x="105.3" y="516.3" font-size="3.5" fill="#555" text-anchor="start">10.200.1.190</text>
<circle cx="136.2" cy="515.1" r="1.5" fill="#3f8ff6"/>
<text x="139.8" y="516.3" font-size="3.5" fill="#555" text-anchor="start">10.23.51.35</text>
<circle cx="171.9" cy="515.1" r="1.5" fill="#3b3ddc"/>
<text x="175.5" y="516.3" font-size="3.5" fill="#555" text-anchor="start">10.28.0.19</text>
<circle cx="203.1" cy="515.1" r="1.5" fill="#2fcbe0"/>
<text x="206.7" y="516.3" font-size="3.5" fill="#555" text-anchor="start">10.28.0.19</text>
<polyline points="34.7,555 35.3,555 35.9,554.2 36.5,551.5 37.1,549.6 37.7,548.8 38.3,548.5 38.9,549 39.5,548.5 40.1,548.5 40.7,549 41.3,548.5 42,548.7 42.6,549.9 43.2,551.7 43.8,554.5 44.4,555.2 45,555.1 45.6,554.7 46.2,552.1 46.8,549.8 47.4,548.4 48,547.8 48.6,548.5 49.2,548.2 49.8,548.1 50.4,548.8 51,548.5 51.6,549 52.2,550 52.8,551.8 53.4,554.7 54,555.1 54.6,554.9 55.2,554.3 55.9,552.1 56.5,550.1 57.1,549 57.7,548.4 58.3,548.9 58.9,548.7 59.5,548.7 60.1,549.1 60.7,548.4 61.3,548.9 61.9,550.2 62.5,551.9 63.1,554.2 63.7,554.9 64.3,555.1 64.9,554.6 65.5,551.7 66.1,549.4 66.7,548.2 67.3,547.8 67.9,548.5 68.5,548.4 69.2,548.3 69.8,549.1 70.4,548.2 71,548.9 71.6,549.9 72.2,552 72.8,554.7 73.4,555.1 74,555.2 74.6,554.3 75.2,551.9 75.8,549.9 76.4,549.1 77,548.8 77.6,549 78.2,548.3 78.8,548 79.4,548.8 80,548.5 80.6,549.2 81.2,550 81.8,552.1 82.4,554.5 83.1,555.5 83.7,555.2 84.3,554.8 84.9,552 85.5,550.1 86.1,549 86.7,548.3 87.3,548.6 87.9,548.2 88.5,548.1 89.1,548.9 89.7,548.4 90.3,549 90.9,549.7 91.5,551.5 92.1,554.2 92.7,555 93.3,555.1 93.9,554.2 94.5,551.5 95.1,549.2 95.7,548.5 96.3,548 97,548.8 97.6,548.1 98.2,548.3 98.8,548.5 99.4,548.3 100,548.6 100.6,549.8 101.2,551.7 101.8,554.2 102.4,554.9 103,555 103.6,554.3 104.2,551.8 104.8,549.7 105.4,549 106,548.4 106.6,548.7 107.2,547.9 107.8,548.1 108.4,549 109,548.6 109.6,549.2 110.3,550.1 110.9,552.1 111.5,554.8 112.1,555.4 112.7,555.5 113.3,554.9 113.9,552 114.5,549.7 115.1,548.7 115.7,548.5 116.3,549.2 116.9,548.6 117.5,548.7 118.1,549 118.7,548.2 119.3,548.4 119.9,549.2 120.5,551.3 121.1,554 121.7,555.1 122.3,555 122.9,554.4 123.5,552 124.2,550 124.8,548.9 125.4,548.1 126,548.9 126.6,548.4 127.2,548.8 127.8,549 128.4,548.7 129,549 129.6,550.1 130.2,552 130.8,554.4 131.4,554.9 132,554.8 132.6,554.4 133.2,552.2 133.8,550.4 134.4,549.4 135,548.9 135.6,549.4 136.2,548.9 136.8,548.6 137.4,549 138.1,548.3 138.7,548.7 139.3,549.8 139.9,551.8 140.5,554.8 141.1,555.5 141.7,555.2 142.3,554.2 142.9,551.6 143.5,549.7 144.1,548.8 144.7,548.3 145.3,548.9 145.9,548.3 146.5,548.1 147.1,548.4 147.7,547.7 148.3,548.2 148.9,549.3 149.5,551.4 150.1,554.3 150.7,555.4 151.4,555.3 152,554.4 152.6,551.9 153.2,549.9 153.8,549.1 154.4,548.5 155,549 155.6,548.5 156.2,548.3 156.8,549.1 157.4,548.2 158,548.8 158.6,549.6 159.2,551.7 159.8,554.2 160.4,555.2 161,555 161.6,554.2 162.2,550.1 162.8,547 163.4,545.5 164,544.8 164.6,546 165.3,545 165.9,545.2 166.5,545.8 167.1,544.7 167.7,545.2 168.3,546.6 168.9,550.2 169.5,554.3 170.1,555.8 170.7,555.3 171.3,554.3 171.9,550.2 172.5,547.3 173.1,545.6 173.7,544.7 174.3,545.5 174.9,545 175.5,545.2 176.1,545.8 176.7,544.8 177.3,545.5 177.9,547.1 178.5,550.2 179.2,554.2 179.8,555.2 180.4,555.2 181,554.2 181.6,550.5 182.2,547 182.8,545.4 183.4,544.7 184,545.9 184.6,545.1 185.2,545 185.8,545.5 186.4,544.9 187,545.4 187.6,547 188.2,550 188.8,553.8 189.4,555.1 190,555 190.6,554 191.2,550.2 191.8,546.8 192.5,545.3 193.1,544.4 193.7,545.6 194.3,545.2 194.9,545.1 195.5,545.5 196.1,544.5 196.7,545.1 197.3,546.5 197.9,549.8 198.5,553.8 199.1,555.5 199.7,555.2 200.3,554.4 200.9,550.3 201.5,547.1 202.1,545.7 202.7,544.7 203.3,545.8 203.9,544.7 204.5,545 205.1,545.4 205.7,544.5 206.4,545.1 207,546.6 207.6,549.8 208.2,553.8 208.8,555.4 209.4,555.1 210,553.9 210.6,549.7 211.2,546.5 211.8,545.1 212.4,544.4 213,545.7 213.6,545 214.2,545 214.8,545.7 215.4,544.5 216,545 216.6,546.2 217.2,549.5 217.8,553.9 218.4,555.1 219,554.9 219.6,553.7 220.3,549.7 220.9,546.7 221.5,545.3 222.1,545 222.7,546.1 223.3,545.2 223.9,544.9 224.5,545.4 225.1,544.6 225.7,545.4 226.3,547.1 226.9,550.3 227.5,554.3 228.1,555.5 228.7,555.1 229.3,554.1 229.9,550.2 230.5,547.2 231.1,545.5 231.7,544.9 232.3,545.7 232.9,544.9 233.6,544.5 234.2,545.1 234.8,544.2 235.4,545.2 236,546.9 236.6,550.2 237.2,554.2 237.8,555.7 238.4,555.3 239,554 239.6,549.9 240.2,547 240.8,545.3 241.4,544.6 242,545.2 242.6,544.9 243.2,544.7 243.8,545.4 244.4,544.4 245,545.4 245.6,547 246.2,550.4 246.8,554.4 247.5,555.5 248.1,555.3 248.7,554.2 249.3,550.3 249.9,546.8 250.5,545.3 251.1,544.7 251.7,545.8 252.3,545.1 252.9,545 253.5,546 254.1,545 254.7,545.7 255.3,546.7 255.9,549.8 256.5,553.8 257.1,555.5 257.7,555.3 258.3,554.3 258.9,550.3 259.5,547 260.1,545.4 260.7,544.8 261.4,546.1 262,545.1 262.6,545 263.2,545.7 263.8,544.7 264.4,545 265,546.4 265.6,549.9 266.2,554 266.8,555.2 267.4,555 268,554.2 268.6,550.1 269.2,546.8 269.8,545.3 270.4,544.6 271,545.7 271.6,544.9 272.2,545.1 272.8,545.4 273.4,544.3 274,545.2 274.7,547.2 275.3,550.5 275.9,554.3 276.5,555.1 277.1,554.9 277.7,553.8 278.3,549.9 278.9,546.9 279.5,545.3 280.1,544.8 280.7,545.6 281.3,544.9 281.9,544.8 282.5,545.4 283.1,544.8 283.7,545.4 284.3,547.1 284.9,549.9 285.5,553.8 286.1,554.9 286.7,554.8 287.3,553.6 287.9,549.5 288.6,546.3 289.2,545.1 289.8,544.9 290.4,545.7 291,545.1 291.6,545.1 292.2,546 292.8,544.6 293.4,545.1 294,546.7 294.6,550.3 295.2,554.5" fill="none" stroke="#2fcbe0" stroke-width="0.75" stroke-linejoin="round" opacity="1"/>
<polyline points="34.7,552 35.3,551.6 35.9,550.9 36.5,549.6 37.1,548.9 37.7,547 38.3,546.5 38.9,547.7 39.5,546.6 40.1,546.5 40.7,547.4 41.3,546.3 42,547.1 42.6,549.2 43.2,550.2 43.8,551.5 44.4,552.2 45,552 45.6,551.1 46.2,550.4 46.8,549.1 47.4,547.2 48,545.4 48.6,547.3 49.2,546.5 49.8,547.3 50.4,548 51,546.4 51.6,547.1 52.2,549.7 52.8,550.8 53.4,551.8 54,551.7 54.6,551.7 55.2,551 55.9,550.6 56.5,549.1 57.1,547.7 57.7,546.5 58.3,548 58.9,546.8 59.5,546.2 60.1,547.2 60.7,545.7 61.3,547 61.9,549.4 62.5,550.1 63.1,550.9 63.7,551.3 64.3,551.3 64.9,551.5 65.5,550.3 66.1,549.4 66.7,547.2 67.3,546 67.9,547.1 68.5,546 69.2,546.2 69.8,547.2 70.4,545.6 71,546.9 71.6,549.3 72.2,550.4 72.8,551.2 73.4,551.6 74,552 74.6,551.7 75.2,551.1 75.8,549.2 76.4,547.6 77,546 77.6,548 78.2,546 78.8,546 79.4,547 80,546.3 80.6,548.1 81.2,550.3 81.8,550.9 82.4,551 83.1,551.3 83.7,552.1 84.3,552.3 84.9,551.2 85.5,549.4 86.1,547 86.7,545.5 87.3,547.2 87.9,545.9 88.5,546.2 89.1,547.2 89.7,546.5 90.3,547.9 90.9,550.3 91.5,551.5 92.1,551.9 92.7,551.9 93.3,551.9 93.9,552.2 94.5,551.7 95.1,549.8 95.7,547.4 96.3,545.8 97,547.9 97.6,546.2 98.2,546.6 98.8,547.3 99.4,546.7 100,547.7 100.6,550 101.2,551 101.8,551.3 102.4,551.4 103,551.1 103.6,551.6 104.2,551.2 104.8,550.2 105.4,547.7 106,546.4 106.6,547.9 107.2,547 107.8,547.3 108.4,548.6 109,546.7 109.6,547.2 110.3,548.8 110.9,550.6 111.5,551.6 112.1,551.7 112.7,551.7 113.3,551.4 113.9,550.9 114.5,549.6 115.1,548.1 115.7,546.9 116.3,547.8 116.9,546.2 117.5,545.7 118.1,547.3 118.7,546.1 119.3,547.7 119.9,549.8 120.5,551.1 121.1,551.6 121.7,552.1 122.3,552.1 122.9,552.3 123.5,551.3 124.2,549.8 124.8,547 125.4,545.4 126,546.5 126.6,545.7 127.2,546.2 127.8,547.4 128.4,546.3 129,547.5 129.6,550.3 130.2,551 130.8,551.4 131.4,550.7 132,551.2 132.6,551.1 133.2,550.6 133.8,548.9 134.4,547.2 135,545.8 135.6,547.3 136.2,545.6 136.8,545.5 137.4,546.9 138.1,545.8 138.7,547.5 139.3,549.1 139.9,550.2 140.5,550.9 141.1,551.5 141.7,551.9 142.3,551.6 142.9,550.7 143.5,549 144.1,547.1 144.7,545.8 145.3,547.8 145.9,546.6 146.5,546.6 147.1,547.2 147.7,545.4 148.3,547.1 148.9,549 149.5,550.3 150.1,550.6 150.7,550.8 151.4,551.4 152,551.7 152.6,551.6 153.2,549.9 153.8,547.2 154.4,545.9 155,546.9 155.6,545.7 156.2,546 156.8,548 157.4,546.5 158,547.3 158.6,548.8 159.2,550.2 159.8,551.1 160.4,551.8 161,551.8 161.6,551.1 162.2,549.6 162.8,547.3 163.4,544.4 164,541.7 164.6,544.3 165.3,541.2 165.9,541.4 166.5,543.9 167.1,542 167.7,544.4 168.3,547.7 168.9,549.8 169.5,551 170.1,551.7 170.7,552.1 171.3,552.2 171.9,550.9 172.5,548.2 173.1,543.8 173.7,541.6 174.3,544.4 174.9,542.4 175.5,541.8 176.1,544 176.7,541.8 177.3,544.5 177.9,548.4 178.5,551 179.2,552.1 179.8,552.1 180.4,552 181,551.6 181.6,550.2 182.2,547.5 182.8,543.8 183.4,541.4 184,543.6 184.6,541.1 185.2,541.7 185.8,544 186.4,542.3 187,544.5 187.6,548.7 188.2,551.1 188.8,552.2 189.4,552.4 190,551.8 190.6,551.1 191.2,549.7 191.8,547.5 192.5,543.7 193.1,541.5 193.7,544.4 194.3,542.5 194.9,542.8 195.5,544.7 196.1,541.7 196.7,543.9 197.3,547.8 197.9,550.6 198.5,551.3 199.1,551.5 199.7,551.7 200.3,551.7 200.9,549.9 201.5,547.8 202.1,543.7 202.7,541.8 203.3,543.6 203.9,541.8 204.5,541.7 205.1,544.7 205.7,542.3 206.4,544.5 207,548 207.6,550.2 208.2,551.1 208.8,551.1 209.4,550.9 210,551.1 210.6,550.2 211.2,547.5 211.8,543.9 212.4,541.9 213,544.9 213.6,542.7 214.2,542.5 214.8,544.7 215.4,542.5 216,544 216.6,547.7 217.2,550 217.8,551.5 218.4,551.6 219,551.5 219.6,551.1 220.3,550.1 220.9,547.2 221.5,543.4 222.1,541 222.7,544.2 223.3,542.1 223.9,541.8 224.5,543.4 225.1,541.5 225.7,544.3 226.3,548.8 226.9,550.7 227.5,551.3 228.1,550.9 228.7,550.9 229.3,551 229.9,549.8 230.5,547.5 231.1,543.5 231.7,541.8 232.3,544.4 232.9,542.3 233.6,542.4 234.2,544.5 234.8,541.8 235.4,543.9 236,547.6 236.6,550.2 237.2,550.6 237.8,550.6 238.4,550.7 239,550.8 239.6,550 240.2,547.8 240.8,544 241.4,541.9 242,544.1 242.6,542 243.2,541.9 243.8,544.3 244.4,541.7 245,543.5 245.6,547 246.2,549.4 246.8,551.1 247.5,552 248.1,552.5 248.7,552.5 249.3,550.9 249.9,548.5 250.5,544.4 251.1,542 251.7,544.2 252.3,541.6 252.9,542 253.5,544.1 254.1,542.1 254.7,544.5 255.3,548.2 255.9,550.8 256.5,552 257.1,552.4 257.7,551.8 258.3,550.9 258.9,549.8 259.5,547.8 260.1,544.1 260.7,541.5 261.4,543.6 262,541.4 262.6,541.3 263.2,544 263.8,541.5 264.4,543.4 265,547.4 265.6,549.9 266.2,551.3 266.8,551.3 267.4,551.7 268,551.8 268.6,550.2 269.2,547.8 269.8,544.2 270.4,541.9 271,544.5 271.6,542.2 272.2,542.4 272.8,544.8 273.4,541.9 274,544.3 274.7,548.1 275.3,550.2 275.9,551.1 276.5,551.4 277.1,551.4 277.7,551.3 278.3,549.4 278.9,547.1 279.5,543.8 280.1,542 280.7,545.1 281.3,542.3 281.9,541.8 282.5,543.6 283.1,541.2 283.7,543.4 284.3,547.2 284.9,549.8 285.5,551.6 286.1,551.4 286.7,551.6 287.3,551.6 287.9,550.5 288.6,548.2 289.2,544.4 289.8,542.5 290.4,544.8 291,542.4 291.6,542.9 292.2,544.7 292.8,542.4 293.4,544.4 294,548.7 294.6,550.6 295.2,551.8" fill="none" stroke="#22c19f" stroke-width="0.75" stroke-linejoin="round" opacity="1"/>
<polyline points="34.7,547 35.3,547.4 35.9,548.2 36.5,548.7 37.1,548.4 37.7,547.6 38.3,547.1 38.9,547.2 39.5,533.7 40.1,534.2 40.7,537.3 41.3,535.3 42,542.8 42.6,548.7 43.2,548.9 43.8,549.5 44.4,550 45,550.9 45.6,551.6 46.2,551.7 46.8,550.2 47.4,542.3 48,532.8 48.6,535.5 49.2,532.7 49.8,533.4 50.4,536.8 51,533.5 51.6,541.8 52.2,549.4 52.8,550 53.4,550.3 54,550 54.6,550.3 55.2,550.7 55.9,550.1 56.5,549.9 57.1,542.3 57.7,533.3 58.3,535.3 58.9,532.8 59.5,533.7 60.1,536.7 60.7,533.8 61.3,542.9 61.9,550.4 62.5,551.7 63.1,550.8 63.7,551.4 64.3,551.4 64.9,552 65.5,551.8 66.1,550.7 66.7,542.5 67.3,533.3 67.9,535.8 68.5,533.2 69.2,533.6 69.8,536.7 70.4,534.3 71,543.2 71.6,549.9 72.2,550.1 72.8,549 73.4,550.1 74,550.1 74.6,551.2 75.2,551.1 75.8,550.9 76.4,543.5 77,534.8 77.6,537.5 78.2,534.4 78.8,533.8 79.4,536.7 80,533.9 80.6,542.2 81.2,549.1 81.8,549.5 82.4,549.5 83.1,549.9 83.7,550 84.3,551.2 84.9,551.8 85.5,551.5 86.1,543.3 86.7,534.4 87.3,536.3 87.9,534.1 88.5,533.7 89.1,537.3 89.7,533.5 90.3,542.7 90.9,550.3 91.5,551.5 92.1,551.2 92.7,551 93.3,551.8 93.9,550.9 94.5,550.7 95.1,549.3 95.7,543.2 96.3,533.8 97,537.2 97.6,533.7 98.2,535.1 98.8,537.2 99.4,535.2 100,542.4 100.6,549.7 101.2,549.5 101.8,551.1 102.4,551.4 103,551.2 103.6,550.6 104.2,550.9 104.8,551.4 105.4,544.2 106,534.8 106.6,537.3 107.2,534.6 107.8,534.7 108.4,537.3 109,534.8 109.6,543.4 110.3,550.4 110.9,550.4 111.5,550.1 112.1,550.3 112.7,550.9 113.3,550.6 113.9,551.1 114.5,550.3 115.1,544 115.7,534.8 116.3,537.6 116.9,534.1 117.5,534.3 118.1,536.5 118.7,534.3 119.3,543.2 119.9,550.6 120.5,552 121.1,551.4 121.7,550.9 122.3,549.7 122.9,549.1 123.5,550 124.2,550 124.8,543.3 125.4,534.2 126,536.1 126.6,533.6 127.2,532.8 127.8,537 128.4,534.5 129,543.4 129.6,549.4 130.2,549.8 130.8,549.6 131.4,549.7 132,549.9 132.6,550.1 133.2,550.5 133.8,550.3 134.4,542.8 135,533.6 135.6,535 136.2,533.3 136.8,533.4 137.4,537.6 138.1,534.5 138.7,544 139.3,550.4 139.9,551.2 140.5,550.8 141.1,551 141.7,550.3 142.3,550.2 142.9,550.4 143.5,550.7 144.1,544.2 144.7,535.4 145.3,537.7 145.9,534.5 146.5,533.8 147.1,535.6 147.7,533.4 148.3,542.8 148.9,550.8 149.5,551.8 150.1,551.3 150.7,552.1 151.4,551.1 152,551.2 152.6,550.6 153.2,549.3 153.8,542.6 154.4,534.5 155,538.6 155.6,536 156.2,534.8 156.8,536.5 157.4,533.7 158,542.1 158.6,550.2 159.2,551.1 159.8,551.6 160.4,551 161,550.1 161.6,550.5 162.2,549.9 162.8,549.4 163.4,540.8 164,531.6 164.6,535.3 165.3,532.4 165.9,531.8 166.5,535.2 167.1,532.6 167.7,543.3 168.3,551 168.9,551 169.5,550.5 170.1,550.7 170.7,550.8 171.3,550.4 171.9,550.5 172.5,550.9 173.1,543.3 173.7,532.3 174.3,534.4 174.9,531.4 175.5,532.2 176.1,535.3 176.7,531.7 177.3,541 177.9,548.7 178.5,550.2 179.2,549.8 179.8,549.7 180.4,549.7 181,550.6 181.6,551.3 182.2,549.9 182.8,541.3 183.4,532 184,535.7 184.6,533 185.2,532.1 185.8,535.6 186.4,531.8 187,541.7 187.6,548.8 188.2,550.6 188.8,550 189.4,550.4 190,550 190.6,550.7 191.2,550 191.8,549.3 192.5,541.1 193.1,532.4 193.7,535.5 194.3,532.8 194.9,532.7 195.5,536.1 196.1,533.5 196.7,543.3 197.3,551.7 197.9,551.4 198.5,551.9 199.1,550.5 199.7,551 200.3,550.8 200.9,551.3 201.5,550.6 202.1,541.8 202.7,532.6 203.3,534.5 203.9,532.5 204.5,533 205.1,536.1 205.7,532.1 206.4,541.4 207,549.8 207.6,551.1 208.2,550.7 208.8,551.3 209.4,551 210,550.8 210.6,549.8 211.2,549.6 211.8,541.7 212.4,532.5 213,534.4 213.6,531.5 214.2,531 214.8,534 215.4,531.1 216,541.6 216.6,549.5 217.2,549.9 217.8,549.8 218.4,550.1 219,550.1 219.6,550.1 220.3,550.2 220.9,550.1 221.5,542.3 222.1,533.7 222.7,535.9 223.3,532.1 223.9,530.9 224.5,533.6 225.1,530.7 225.7,541.4 226.3,550.5 226.9,550.9 227.5,551 228.1,550.1 228.7,550.3 229.3,550.2 229.9,551.3 230.5,550.7 231.1,541.8 231.7,532.4 232.3,535.7 232.9,533.4 233.6,532 234.2,535.1 234.8,532.4 235.4,542.9 236,551.8 236.6,551 237.2,550.2 237.8,549.1 238.4,550.6 239,550.5 239.6,551.2 240.2,549.4 240.8,541.7 241.4,531.5 242,535.4 242.6,533.1 243.2,532.8 243.8,535.9 244.4,532.7 245,542.1 245.6,549.6 246.2,550.7 246.8,551.2 247.5,551.3 248.1,550.3 248.7,550.7 249.3,549.9 249.9,549.1 250.5,541.4 251.1,532.2 251.7,535.8 252.3,532.8 252.9,532.2 253.5,535.5 254.1,531.7 254.7,542.7 255.3,549.8 255.9,549.9 256.5,548.9 257.1,550.3 257.7,550.8 258.3,551.1 258.9,550.5 259.5,550.5 260.1,543 260.7,532.8 261.4,535.1 262,531 262.6,531.2 263.2,534.6 263.8,532 264.4,542.4 265,550 265.6,550.9 266.2,550.1 266.8,550.7 267.4,550.8 268,552 268.6,552.3 269.2,551.9 269.8,544 270.4,533.7 271,536.4 271.6,531.9 272.2,532.5 272.8,534.6 273.4,532.9 274,541.3 274.7,550.3 275.3,550.8 275.9,551.2 276.5,551.2 277.1,551.6 277.7,552.4 278.3,551.8 278.9,549.9 279.5,540.5 280.1,531.5 280.7,534.4 281.3,532.4 281.9,532 282.5,535.9 283.1,532.8 283.7,541.8 284.3,549.9 284.9,550.5 285.5,550.6 286.1,550.3 286.7,549.6 287.3,550.2 287.9,550.4 288.6,549.8 289.2,541.6 289.8,531.9 290.4,534.4 291,532.2 291.6,531.4 292.2,535 292.8,531 293.4,541.3 294,549.3 294.6,551.1 295.2,550.8" fill="none" stroke="#8dbdf8" stroke-width="0.6" stroke-linejoin="round" opacity="1"/>
<polyline points="34.7,547 35.3,546.2 35.9,546.1 36.5,546.9 37.1,547.8 37.7,548 38.3,547.3 38.9,546.4 39.5,531.4 40.1,531.6 40.7,533.9 41.3,531.8 42,533.1 42.6,542.4 43.2,549.5 43.8,551.5 44.4,551.3 45,550.4 45.6,549.5 46.2,547.8 46.8,541.3 47.4,531.9 48,529.2 48.6,531.9 49.2,530.6 49.8,532.1 50.4,534.8 51,531.2 51.6,532.2 52.2,540.4 52.8,547.4 53.4,549.4 54,549.4 54.6,549.8 55.2,550.1 55.9,550.4 56.5,542.3 57.1,532.1 57.7,528.9 58.3,532.5 58.9,531.3 59.5,530.9 60.1,534.1 60.7,529.7 61.3,532.6 61.9,541.3 62.5,549.3 63.1,549.6 63.7,549 64.3,549.3 64.9,549.3 65.5,549.5 66.1,542 66.7,533.9 67.3,531.8 67.9,534.9 68.5,532.9 69.2,531.3 69.8,533.2 70.4,529.3 71,533.1 71.6,543 72.2,550 72.8,550.6 73.4,550.9 74,551.5 74.6,550.9 75.2,550 75.8,542.5 76.4,533.6 77,530.2 77.6,533.3 78.2,530.1 78.8,530.9 79.4,532.9 80,531.2 80.6,532.4 81.2,541.8 81.8,549.2 82.4,550.2 83.1,549.7 83.7,549.8 84.3,549.6 84.9,548.6 85.5,540.7 86.1,531.8 86.7,529.9 87.3,532.7 87.9,530.8 88.5,531.5 89.1,533.7 89.7,529.8 90.3,531.1 90.9,541.3 91.5,549.2 92.1,550.5 92.7,550.3 93.3,551.2 93.9,550.9 94.5,549.1 95.1,540.4 95.7,532.3 96.3,530.6 97,533.6 97.6,531.4 98.2,530.9 98.8,533.7 99.4,529.9 100,531.8 100.6,540.9 101.2,547.8 101.8,549.9 102.4,550.4 103,551.3 103.6,550.8 104.2,549.3 104.8,540.6 105.4,530.9 106,528.5 106.6,531.6 107.2,529.4 107.8,529.6 108.4,533.6 109,531 109.6,533.7 110.3,542.6 110.9,549.4 111.5,550.5 112.1,550.3 112.7,551.7 113.3,551.3 113.9,550.3 114.5,541.3 115.1,532.1 115.7,529.7 116.3,534.1 116.9,532.6 117.5,532.1 118.1,533.9 118.7,530 119.3,532.6 119.9,542 120.5,548.8 121.1,550.5 121.7,550.8 122.3,551 122.9,550.6 123.5,549.5 124.2,542.5 124.8,533.6 125.4,530.5 126,534.3 126.6,531.3 127.2,531.4 127.8,533.5 128.4,530 129,532.9 129.6,541.5 130.2,550.1 130.8,551 131.4,551.2 132,550.3 132.6,550.1 133.2,550 133.8,542.6 134.4,532.9 135,530.2 135.6,533.9 136.2,531.8 136.8,531.9 137.4,534.6 138.1,532.3 138.7,534 139.3,541.7 139.9,548.1 140.5,549.1 141.1,549.1 141.7,549 142.3,549.5 142.9,549.4 143.5,541.6 144.1,531.5 144.7,528.8 145.3,532.5 145.9,530.9 146.5,531.9 147.1,534.9 147.7,531.9 148.3,533.3 148.9,541.8 149.5,548.7 150.1,549.1 150.7,550.3 151.4,551 152,552.3 152.6,550.7 153.2,542 153.8,532.4 154.4,529.4 155,533.8 155.6,531.4 156.2,531.4 156.8,533.8 157.4,530 158,532.6 158.6,541 159.2,549.7 159.8,551 160.4,550.5 161,550 161.6,550.1 162.2,549 162.8,540.3 163.4,529.7 164,528.1 164.6,531.5 165.3,529.2 165.9,529.5 166.5,532.9 167.1,529.7 167.7,531.5 168.3,541.8 168.9,550.3 169.5,551.6 170.1,550.1 170.7,549 171.3,548.7 171.9,548.1 172.5,540.8 173.1,531.1 173.7,529.8 174.3,532.7 174.9,530.7 175.5,530.5 176.1,534 176.7,530 177.3,532 177.9,541.7 178.5,550.5 179.2,552.1 179.8,550.9 180.4,549.4 181,548.1 181.6,548.4 182.2,541.4 182.8,531.5 183.4,529.2 184,532.7 184.6,530.3 185.2,528.7 185.8,530.3 186.4,526.5 187,530.1 187.6,540.3 188.2,548.5 188.8,548.5 189.4,548.2 190,548.5 190.6,548.6 191.2,548 191.8,540.3 192.5,530.7 193.1,527.8 193.7,531 194.3,529.1 194.9,529.9 195.5,532.3 196.1,527.6 196.7,530.1 197.3,539.9 197.9,548.2 198.5,549.6 199.1,550 199.7,549.8 200.3,550.2 200.9,548.8 201.5,541.2 202.1,529.9 202.7,528.8 203.3,532.5 203.9,530.6 204.5,530.3 205.1,532.5 205.7,528.2 206.4,530 207,539.5 207.6,549 208.2,550.6 208.8,551.5 209.4,550.4 210,549.6 210.6,547.6 211.2,539.1 211.8,529.6 212.4,527.4 213,531 213.6,528.2 214.2,528.3 214.8,531.1 215.4,527.1 216,530.5 216.6,541.7 217.2,550.3 217.8,550.2 218.4,550 219,549.7 219.6,549.8 220.3,548.8 220.9,541.7 221.5,531.9 222.1,528.6 222.7,532.1 223.3,528.9 223.9,529.5 224.5,531.2 225.1,527.7 225.7,530.4 226.3,540.5 226.9,549.5 227.5,549.2 228.1,549.7 228.7,549.9 229.3,551 229.9,549.3 230.5,541.1 231.1,530.1 231.7,528.9 232.3,531.4 232.9,530.1 233.6,529 234.2,531.7 234.8,527.7 235.4,530.4 236,541.2 236.6,550 237.2,550.6 237.8,550.5 238.4,549.3 239,550.6 239.6,550.1 240.2,542.7 240.8,531.5 241.4,529.2 242,533 242.6,531 243.2,530.4 243.8,531.8 244.4,527.5 245,530.3 245.6,540.4 246.2,549.5 246.8,549.7 247.5,549.9 248.1,550.3 248.7,550.8 249.3,550.2 249.9,541.2 250.5,531.1 251.1,528.2 251.7,531.7 252.3,529 252.9,528.8 253.5,531.1 254.1,528.2 254.7,531.8 255.3,542.4 255.9,549.5 256.5,550.1 257.1,549.1 257.7,549.1 258.3,548.6 258.9,548.4 259.5,540.4 260.1,530.8 260.7,527.3 261.4,531.2 262,528.2 262.6,528.6 263.2,531.2 263.8,528.5 264.4,531.2 265,541.5 265.6,549 266.2,549.7 266.8,550.1 267.4,550.6 268,551.4 268.6,549.1 269.2,540.6 269.8,530.4 270.4,527.8 271,530.8 271.6,527.3 272.2,528.1 272.8,532 273.4,529.3 274,532.6 274.7,542 275.3,550.2 275.9,550.6 276.5,549.7 277.1,549.5 277.7,550 278.3,550.3 278.9,541.7 279.5,531.2 280.1,528.3 280.7,532.1 281.3,529.5 281.9,529 282.5,531.7 283.1,528.8 283.7,531.6 284.3,542.1 284.9,549.6 285.5,550.6 286.1,549.8 286.7,549.2 287.3,548.7 287.9,547.9 288.6,540.3 289.2,531.5 289.8,528.7 290.4,532.8 291,529.5 291.6,529.7 292.2,532.4 292.8,528.2 293.4,530.8 294,539.5 294.6,549.2 295.2,550.4" fill="none" stroke="#3f8ff6" stroke-width="0.65" stroke-linejoin="round" opacity="1"/>
<circle cx="35.4" cy="540.9" r="1.0" fill="#3f8ff6"/>
<circle cx="37.2" cy="540.5" r="1.0" fill="#3f8ff6"/>
<circle cx="182.5" cy="550.4" r="1.6" fill="#f01f1f"/>
<circle cx="184.2" cy="550.8" r="1.6" fill="#f01f1f"/>
<circle cx="289" cy="534.8" r="2.1" fill="#f01f1f"/>
<circle cx="290.8" cy="547.5" r="1.9" fill="#f01f1f"/>
<circle cx="289.8" cy="552.5" r="2.0" fill="#f01f1f"/>
<circle cx="290.6" cy="555.2" r="1.9" fill="#f01f1f"/>
<circle cx="291.2" cy="553.5" r="1.6" fill="#f01f1f"/>
<rect x="34.7" y="576.6" width="260.9" height="9.4" fill="#d3dcf6"/>
<polygon points="34.7,584.1 37.1,584.2 39.5,581.7 42,582 44.4,584.7 46.8,583.2 49.2,581.6 51.6,581.9 54,584.5 56.5,583.4 58.9,581.7 61.3,581.9 63.7,584.4 66.1,583.3 68.5,582 71,582 73.4,584.7 75.8,583.4 78.2,581.5 80.6,581.9 83.1,584.5 85.5,583.1 87.9,581.7 90.3,581.7 92.7,584.6 95.1,583.1 97.6,581.7 100,581.8 102.4,584.6 104.8,583.1 107.2,581.4 109.6,582.1 112.1,584.6 114.5,583.2 116.9,581.9 119.3,581.9 121.7,584.7 124.2,583.4 126.6,581.7 129,582 131.4,584.7 133.8,583.4 136.2,581.8 138.7,582.1 141.1,584.4 143.5,583.3 145.9,581.7 148.3,582 150.7,584.6 153.2,583.3 155.6,581.7 158,581.9 160.4,584.6 162.8,583.1 165.3,581.4 167.7,581.8 170.1,584.6 172.5,583.2 174.9,581.6 177.3,581.8 179.8,584.7 182.2,583.2 184.6,581.6 187,581.5 189.4,584.3 191.8,583.1 194.3,581.4 196.7,581.5 199.1,584.6 201.5,583.2 203.9,581.6 206.4,581.5 208.8,584.8 211.2,582.9 213.6,581.3 216,581.6 218.4,584.5 220.9,583.3 223.3,581.4 225.7,581.6 228.1,584.5 230.5,583.2 232.9,581.5 235.4,581.6 237.8,584.6 240.2,583.4 242.6,581.7 245,581.6 247.5,584.5 249.9,583.2 252.3,581.4 254.7,581.8 257.1,584.4 259.5,583.1 262,581.3 264.4,581.7 266.8,584.6 269.2,583.1 271.6,581.1 274,581.9 276.5,584.5 278.9,583.3 281.3,581.4 283.7,581.8 286.1,584.5 288.6,583.1 291,581.4 293.4,581.6 293.4,586 34.7,586" fill="#c3cff2" opacity="1"/>
<rect x="34.7" y="584.7" width="260.9" height="1.3" fill="#a9bcef"/>
<rect x="34.7" y="576.6" width="260.9" height="0.8" fill="#dfe6fa"/>
<rect x="34.7" y="579" width="2.1" height="4.6" rx="0.8" fill="#2c3fb4"/>
<rect x="293.5" y="579" width="2.1" height="4.6" rx="0.8" fill="#2c3fb4"/>
<line x1="334.3" y1="523.9" x2="600.1" y2="523.9" stroke="#ececec" stroke-width="0.5"/>
<line x1="334.3" y1="530.8" x2="600.1" y2="530.8" stroke="#ececec" stroke-width="0.5"/>
<line x1="334.3" y1="537.7" x2="600.1" y2="537.7" stroke="#ececec" stroke-width="0.5"/>
<line x1="334.3" y1="544.5" x2="600.1" y2="544.5" stroke="#ececec" stroke-width="0.5"/>
<line x1="334.3" y1="551.4" x2="600.1" y2="551.4" stroke="#ececec" stroke-width="0.5"/>
<line x1="334.3" y1="558.3" x2="600.1" y2="558.3" stroke="#ececec" stroke-width="0.5"/>
<line x1="363.5" y1="523.9" x2="363.5" y2="565.2" stroke="#e0e0e0" stroke-width="0.5"/>
<line x1="422.5" y1="523.9" x2="422.5" y2="566.8" stroke="#8c8c8c" stroke-width="0.55"/>
<line x1="481.5" y1="523.9" x2="481.5" y2="566.8" stroke="#8c8c8c" stroke-width="0.55"/>
<line x1="541.5" y1="523.9" x2="541.5" y2="565.2" stroke="#e0e0e0" stroke-width="0.5"/>
<line x1="334.3" y1="565.2" x2="600.1" y2="565.2" stroke="#707070" stroke-width="0.8"/>
<line x1="334.5" y1="565.2" x2="334.5" y2="566.6" stroke="#999999" stroke-width="0.5"/>
<line x1="363.5" y1="565.2" x2="363.5" y2="566.6" stroke="#999999" stroke-width="0.5"/>
<line x1="422.5" y1="565.2" x2="422.5" y2="566.6" stroke="#999999" stroke-width="0.5"/>
<line x1="481.5" y1="565.2" x2="481.5" y2="566.6" stroke="#999999" stroke-width="0.5"/>
<line x1="541.5" y1="565.2" x2="541.5" y2="566.6" stroke="#999999" stroke-width="0.5"/>
<line x1="600.5" y1="565.2" x2="600.5" y2="566.6" stroke="#999999" stroke-width="0.5"/>
<line x1="600.5" y1="523.9" x2="600.5" y2="565.2" stroke="#e2e2e2" stroke-width="0.5"/>
<text x="331.7" y="525.1" font-size="3.3" fill="#a0a0a0" text-anchor="end">60</text>
<text x="331.7" y="532" font-size="3.3" fill="#a0a0a0" text-anchor="end">50</text>
<text x="331.7" y="538.9" font-size="3.3" fill="#a0a0a0" text-anchor="end">40</text>
<text x="331.7" y="545.8" font-size="3.3" fill="#a0a0a0" text-anchor="end">30</text>
<text x="331.7" y="552.6" font-size="3.3" fill="#a0a0a0" text-anchor="end">20</text>
<text x="331.7" y="559.5" font-size="3.3" fill="#a0a0a0" text-anchor="end">10</text>
<text x="331.7" y="566.4" font-size="3.3" fill="#a0a0a0" text-anchor="end">0</text>
<text x="334.3" y="571.5" font-size="4.1" fill="#a8a8a8" text-anchor="middle">06-03</text>
<text x="334.3" y="575.2" font-size="3.69" fill="#a8a8a8" text-anchor="middle">周日</text>
<text x="363.8" y="571.5" font-size="4.1" fill="#a8a8a8" text-anchor="middle">06-06</text>
<text x="363.8" y="575.2" font-size="3.69" fill="#a8a8a8" text-anchor="middle">周三</text>
<text x="422.9" y="571.5" font-size="4.1" fill="#a8a8a8" text-anchor="middle">06-12</text>
<text x="422.9" y="575.2" font-size="3.69" fill="#a8a8a8" text-anchor="middle">周二</text>
<text x="482" y="571.5" font-size="4.1" fill="#a8a8a8" text-anchor="middle">06-18</text>
<text x="482" y="575.2" font-size="3.69" fill="#a8a8a8" text-anchor="middle">周一</text>
<text x="541" y="571.5" font-size="4.1" fill="#a8a8a8" text-anchor="middle">06-24</text>
<text x="541" y="575.2" font-size="3.69" fill="#a8a8a8" text-anchor="middle">周日</text>
<text x="600.1" y="571.5" font-size="4.1" fill="#a8a8a8" text-anchor="middle">06-30</text>
<text x="600.1" y="575.2" font-size="3.69" fill="#a8a8a8" text-anchor="middle">周六</text>
<circle cx="405.5" cy="515.1" r="1.5" fill="#22c19f"/>
<text x="409.1" y="516.3" font-size="3.5" fill="#555" text-anchor="start">00.23.6.130</text>
<circle cx="441.5" cy="515.1" r="1.5" fill="#3f8ff6"/>
<text x="445.1" y="516.3" font-size="3.5" fill="#555" text-anchor="start">10.28.26.63</text>
<circle cx="476.5" cy="515.1" r="1.5" fill="#3b3ddc"/>
<text x="480.1" y="516.3" font-size="3.5" fill="#555" text-anchor="start">10.200.1.9</text>
<circle cx="510" cy="515.1" r="1.5" fill="#2fcbe0"/>
<text x="513.6" y="516.3" font-size="3.5" fill="#555" text-anchor="start">10.200.1.9</text>
<polyline points="334.3,542 335.1,542 335.9,542 336.8,542 337.6,542 338.4,542 339.2,542 340.1,542 340.9,542 341.7,542 342.5,542 343.4,542 344.2,542 345,542 345.8,542 346.6,542 347.5,542 348.3,542 349.1,542 349.9,542 350.8,542 351.6,542 352.4,542 353.2,542 354,542 354.9,542 355.7,542 356.5,542 357.3,542 358.2,542 359,542 359.8,542 360.6,542 361.5,542 362.3,542 363.1,542 363.9,542 364.7,542 365.6,542 366.4,542 367.2,542 368,542 368.9,542 369.7,542 370.5,542 371.3,542 372.2,542 373,542 373.8,542 374.6,542 375.4,542 376.3,542 377.1,542 377.9,542 378.7,542 379.6,542 380.4,542 381.2,542 382,542 382.9,542 383.7,542 384.5,542 385.3,542 386.1,542 387,542 387.8,542 388.6,542 389.4,542 390.3,542 391.1,542 391.9,542 392.7,542 393.5,542 394.4,542 395.2,542 396,542 396.8,542 397.7,542 398.5,542 399.3,542 400.1,542 401,542 401.8,542 402.6,542 403.4,542 404.2,542 405.1,542 405.9,542 406.7,542 407.5,542 408.4,542 409.2,542 410,542 410.8,542 411.7,542 412.5,542 413.3,542 414.1,542 414.9,542 415.8,542 416.6,542 417.4,542 418.2,542 419.1,542 419.9,542 420.7,542 421.5,542 422.4,542 423.2,542 424,542 424.8,542 425.6,542 426.5,542 427.3,542 428.1,542 428.9,542 429.8,542 430.6,542 431.4,542 432.2,542 433,542 433.9,542 434.7,542 435.5,542 436.3,542 437.2,542 438,542 438.8,542 439.6,542 440.5,542 441.3,542 442.1,542 442.9,542 443.7,542 444.6,542 445.4,542 446.2,542 447,542 447.9,542 448.7,542 449.5,542 450.3,542 451.2,542 452,542 452.8,542 453.6,542 454.4,542 455.3,542 456.1,542 456.9,542 457.7,542 458.6,542 459.4,542 460.2,542 461,542 461.9,542 462.7,542 463.5,542 464.3,542 465.1,542 466,542 466.8,542 467.6,542 468.4,542 469.3,542 470.1,542 470.9,542 471.7,542 472.5,542 473.4,542 474.2,542 475,542 475.8,542 476.7,542 477.5,542 478.3,542 479.1,542 480,542 480.8,542 481.6,542 482.4,542 483.2,542 484.1,542 484.9,542 485.7,542 486.5,542 487.4,542 488.2,542 489,542 489.8,542 490.7,542 491.5,542 492.3,542 493.1,542 493.9,542 494.8,542 495.6,542 496.4,542 497.2,542 498.1,542 498.9,542 499.7,542 500.5,542 501.4,542 502.2,542 503,542 503.8,542 504.6,542 505.5,542 506.3,542 507.1,542 507.9,542 508.8,542 509.6,542 510.4,542 511.2,542 512,542 512.9,542 513.7,542 514.5,542 515.3,542 516.2,542 517,542 517.8,542 518.6,542 519.5,542 520.3,542 521.1,542 521.9,542 522.7,542 523.6,542 524.4,542 525.2,542 526,542 526.9,542 527.7,542 528.5,542 529.3,542 530.2,542 531,542 531.8,542 532.6,542 533.4,542 534.3,542 535.1,542 535.9,542 536.7,542 537.6,542 538.4,542 539.2,542 540,542 540.9,542 541.7,542 542.5,542 543.3,542 544.1,542 545,542 545.8,542 546.6,542 547.4,542 548.3,542 549.1,542 549.9,542 550.7,542 551.5,542 552.4,542 553.2,542 554,542 554.8,542 555.7,542 556.5,542 557.3,542 558.1,542 559,542 559.8,542 560.6,542 561.4,542 562.2,542 563.1,542 563.9,542 564.7,542 565.5,542 566.4,542 567.2,542 568,542 568.8,542 569.7,542 570.5,542 571.3,542 572.1,542 572.9,542 573.8,542 574.6,542 575.4,542 576.2,542 577.1,542 577.9,542 578.7,542 579.5,542 580.4,542 581.2,542 582,542 582.8,542 583.6,542 584.5,542 585.3,542 586.1,542 586.9,542 587.8,542 588.6,542 589.4,542 590.2,542 591,542 591.9,542 592.7,542 593.5,542 594.3,542 595.2,542 596,542 596.8,542 597.6,542 598.5,542 599.3,542 600.1,542" fill="none" stroke="#3b3ddc" stroke-width="1.0" stroke-linejoin="round" opacity="1"/>
<polyline points="334.3,541 335.1,541 335.9,541 336.8,541 337.6,541 338.4,541 339.2,541 340.1,541 340.9,541 341.7,541 342.5,541 343.4,541 344.2,541 345,541 345.8,541 346.6,541 347.5,541 348.3,541 349.1,541 349.9,541 350.8,541 351.6,541 352.4,541 353.2,541 354,541 354.9,541 355.7,541 356.5,541 357.3,541 358.2,541 359,541 359.8,541 360.6,541 361.5,541 362.3,541 363.1,541 363.9,541 364.7,541 365.6,541 366.4,541 367.2,541 368,541 368.9,541 369.7,541 370.5,541 371.3,541 372.2,541 373,541 373.8,541 374.6,541 375.4,541 376.3,541 377.1,541 377.9,541 378.7,541 379.6,541 380.4,541 381.2,541 382,541 382.9,541 383.7,541 384.5,541 385.3,541 386.1,541 387,541 387.8,541 388.6,541 389.4,541 390.3,541 391.1,541 391.9,541 392.7,541 393.5,541 394.4,541 395.2,541 396,541 396.8,541 397.7,541 398.5,541 399.3,541 400.1,541 401,541 401.8,541 402.6,541 403.4,541 404.2,541 405.1,541 405.9,541 406.7,541 407.5,541 408.4,541 409.2,541 410,541 410.8,541 411.7,541 412.5,541 413.3,541 414.1,541 414.9,541 415.8,541 416.6,541 417.4,541 418.2,541 419.1,541 419.9,541 420.7,541 421.5,541 422.4,541 423.2,541 424,541 424.8,541 425.6,541 426.5,541 427.3,541 428.1,541 428.9,541 429.8,541 430.6,541 431.4,541 432.2,541 433,541 433.9,541 434.7,541 435.5,541 436.3,541 437.2,541 438,541 438.8,541 439.6,541 440.5,541 441.3,541 442.1,541 442.9,541 443.7,541 444.6,541 445.4,541 446.2,541 447,541 447.9,541 448.7,541 449.5,541 450.3,541 451.2,541 452,541 452.8,541 453.6,541 454.4,541 455.3,541 456.1,541 456.9,541 457.7,541 458.6,541 459.4,541 460.2,541 461,541 461.9,541 462.7,541 463.5,541 464.3,541 465.1,541 466,541 466.8,541 467.6,541 468.4,541 469.3,541 470.1,541 470.9,541 471.7,541 472.5,541 473.4,541 474.2,541 475,541 475.8,541 476.7,541 477.5,541 478.3,541 479.1,541 480,541 480.8,541 481.6,541 482.4,541 483.2,541 484.1,541 484.9,541 485.7,541 486.5,541 487.4,541 488.2,541 489,541 489.8,541 490.7,541 491.5,541 492.3,541 493.1,541 493.9,541 494.8,541 495.6,541 496.4,541 497.2,541 498.1,541 498.9,541 499.7,541 500.5,541 501.4,541 502.2,541 503,541 503.8,541 504.6,541 505.5,541 506.3,541 507.1,541 507.9,541 508.8,541 509.6,541 510.4,541 511.2,541 512,541 512.9,541 513.7,541 514.5,541 515.3,541 516.2,541 517,541 517.8,541 518.6,541 519.5,541 520.3,541 521.1,541 521.9,541 522.7,541 523.6,541 524.4,541 525.2,541 526,541 526.9,541 527.7,541 528.5,541 529.3,541 530.2,541 531,541 531.8,541 532.6,541 533.4,541 534.3,541 535.1,541 535.9,541 536.7,541 537.6,541 538.4,541 539.2,541 540,541 540.9,541 541.7,541 542.5,541 543.3,541 544.1,541 545,541 545.8,541 546.6,541 547.4,541 548.3,541 549.1,541 549.9,541 550.7,541 551.5,541 552.4,541 553.2,541 554,541 554.8,541 555.7,541 556.5,541 557.3,541 558.1,541 559,541 559.8,541 560.6,541 561.4,541 562.2,541 563.1,541 563.9,541 564.7,541 565.5,541 566.4,541 567.2,541 568,541 568.8,541 569.7,541 570.5,541 571.3,541 572.1,541 572.9,541 573.8,541 574.6,541 575.4,541 576.2,541 577.1,541 577.9,541 578.7,541 579.5,541 580.4,541 581.2,541 582,541 582.8,541 583.6,541 584.5,541 585.3,541 586.1,541 586.9,541 587.8,541 588.6,541 589.4,541 590.2,541 591,541 591.9,541 592.7,541 593.5,541 594.3,541 595.2,541 596,541 596.8,541 597.6,541 598.5,541 599.3,541 600.1,541" fill="none" stroke="#3f8ff6" stroke-width="1.0" stroke-linejoin="round" opacity="1"/>
<polyline points="334.3,540.2 335.1,540.2 335.9,540.2 336.8,540.2 337.6,540.2 338.4,540.2 339.2,540.2 340.1,540.2 340.9,540.2 341.7,540.2 342.5,540.2 343.4,540.2 344.2,540.2 345,540.2 345.8,540.2 346.6,540.2 347.5,540.2 348.3,540.2 349.1,540.2 349.9,540.2 350.8,540.2 351.6,540.2 352.4,540.2 353.2,540.2 354,540.2 354.9,540.2 355.7,540.2 356.5,540.2 357.3,540.2 358.2,540.2 359,540.2 359.8,540.2 360.6,540.2 361.5,540.2 362.3,540.2 363.1,540.2 363.9,540.2 364.7,540.2 365.6,540.2 366.4,540.2 367.2,540.2 368,540.2 368.9,540.2 369.7,540.2 370.5,540.2 371.3,540.2 372.2,540.2 373,540.2 373.8,540.2 374.6,540.2 375.4,540.2 376.3,540.2 377.1,540.2 377.9,540.2 378.7,540.2 379.6,540.2 380.4,540.2 381.2,540.2 382,540.2 382.9,540.2 383.7,540.2 384.5,540.2 385.3,540.2 386.1,540.2 387,540.2 387.8,540.2 388.6,540.2 389.4,540.2 390.3,540.2 391.1,540.2 391.9,540.2 392.7,540.2 393.5,540.2 394.4,540.2 395.2,540.2 396,540.2 396.8,540.2 397.7,540.2 398.5,540.2 399.3,540.2 400.1,540.2 401,540.2 401.8,540.2 402.6,540.2 403.4,540.2 404.2,540.2 405.1,540.2 405.9,540.2 406.7,540.2 407.5,540.2 408.4,540.2 409.2,540.2 410,540.2 410.8,540.2 411.7,540.2 412.5,540.2 413.3,540.2 414.1,540.2 414.9,540.2 415.8,540.2 416.6,540.2 417.4,540.2 418.2,540.2 419.1,540.2 419.9,540.2 420.7,540.2 421.5,540.2 422.4,540.2 423.2,540.2 424,540.2 424.8,540.2 425.6,540.2 426.5,540.2 427.3,540.2 428.1,540.2 428.9,540.2 429.8,540.2 430.6,540.2 431.4,540.2 432.2,540.2 433,540.2 433.9,540.2 434.7,540.2 435.5,540.2 436.3,540.2 437.2,540.2 438,540.2 438.8,540.2 439.6,540.2 440.5,540.2 441.3,540.2 442.1,540.2 442.9,540.2 443.7,540.2 444.6,540.2 445.4,540.2 446.2,540.2 447,540.2 447.9,540.2 448.7,540.2 449.5,540.2 450.3,540.2 451.2,540.2 452,540.2 452.8,540.2 453.6,540.2 454.4,540.2 455.3,540.2 456.1,540.2 456.9,540.2 457.7,540.2 458.6,540.2 459.4,540.2 460.2,540.2 461,540.2 461.9,540.2 462.7,540.2 463.5,540.2 464.3,540.2 465.1,540.2 466,540.2 466.8,540.2 467.6,540.2 468.4,540.2 469.3,540.2 470.1,540.2 470.9,540.2 471.7,540.2 472.5,540.2 473.4,540.2 474.2,540.2 475,540.2 475.8,540.2 476.7,540.2 477.5,540.2 478.3,540.2 479.1,540.2 480,540.2 480.8,540.2 481.6,540.2 482.4,540.2 483.2,540.2 484.1,540.2 484.9,540.2 485.7,540.2 486.5,540.2 487.4,540.2 488.2,540.2 489,540.2 489.8,540.2 490.7,540.2 491.5,540.2 492.3,540.2 493.1,540.2 493.9,540.2 494.8,540.2 495.6,540.2 496.4,540.2 497.2,540.2 498.1,540.2 498.9,540.2 499.7,540.2 500.5,540.2 501.4,540.2 502.2,540.2 503,540.2 503.8,540.2 504.6,540.2 505.5,540.2 506.3,540.2 507.1,540.2 507.9,540.2 508.8,540.2 509.6,540.2 510.4,540.2 511.2,540.2 512,540.2 512.9,540.2 513.7,540.2 514.5,540.2 515.3,540.2 516.2,540.2 517,540.2 517.8,540.2 518.6,540.2 519.5,540.2 520.3,540.2 521.1,540.2 521.9,540.2 522.7,540.2 523.6,540.2 524.4,540.2 525.2,540.2 526,540.2 526.9,540.2 527.7,540.2 528.5,540.2 529.3,540.2 530.2,540.2 531,540.2 531.8,540.2 532.6,540.2 533.4,540.2 534.3,540.2 535.1,540.2 535.9,540.2 536.7,540.2 537.6,540.2 538.4,540.2 539.2,540.2 540,540.2 540.9,540.2 541.7,540.2 542.5,540.2 543.3,540.2 544.1,540.2 545,540.2 545.8,540.2 546.6,540.2 547.4,540.2 548.3,540.2 549.1,540.2 549.9,540.2 550.7,540.2 551.5,540.2 552.4,540.2 553.2,540.2 554,540.2 554.8,540.2 555.7,540.2 556.5,540.2 557.3,540.2 558.1,540.2 559,540.2 559.8,540.2 560.6,540.2 561.4,540.2 562.2,540.2 563.1,540.2 563.9,540.2 564.7,540.2 565.5,540.2 566.4,540.2 567.2,540.2 568,540.2 568.8,540.2 569.7,540.2 570.5,540.2 571.3,540.2 572.1,540.2 572.9,540.2 573.8,540.2 574.6,540.2 575.4,540.2 576.2,540.2 577.1,540.2 577.9,540.2 578.7,540.2 579.5,540.2 580.4,540.2 581.2,540.2 582,540.2 582.8,540.2 583.6,540.2 584.5,540.2 585.3,540.2 586.1,540.2 586.9,540.2 587.8,540.2 588.6,540.2 589.4,540.2 590.2,540.2 591,540.2 591.9,540.2 592.7,540.2 593.5,540.2 594.3,540.2 595.2,540.2 596,540.2 596.8,540.2 597.6,540.2 598.5,540.2 599.3,540.2 600.1,540.2" fill="none" stroke="#2fcbe0" stroke-width="0.9" stroke-linejoin="round" opacity="1"/>
<polyline points="334.3,537.9 335.1,537.9 335.9,537.9 336.8,537.9 337.6,537.9 338.4,537.9 339.2,537.9 340.1,537.9 340.9,537.9 341.7,537.9 342.5,538.7 343.4,539.4 344.2,539.4 345,539.4 345.8,539.4 346.6,539.4 347.5,539.4 348.3,539.4 349.1,539.4 349.9,539.4 350.8,539.4 351.6,539.4 352.4,539.4 353.2,539.4 354,539.4 354.9,539.4 355.7,539.4 356.5,539.4 357.3,539.4 358.2,539.4 359,539.4 359.8,539.4 360.6,539.4 361.5,539.4 362.3,539.4 363.1,539.4 363.9,539.4 364.7,539.4 365.6,539.4 366.4,538.9 367.2,538.2 368,538.2 368.9,538.2 369.7,538.2 370.5,538.2 371.3,538.2 372.2,538.2 373,538.2 373.8,538.2 374.6,538.2 375.4,538.2 376.3,538.2 377.1,538.2 377.9,538.2 378.7,539.2 379.6,539.5 380.4,539.5 381.2,539.5 382,539.5 382.9,539.5 383.7,539.5 384.5,539.5 385.3,539.5 386.1,539.5 387,539.5 387.8,539.5 388.6,539.5 389.4,539.5 390.3,539.5 391.1,539.5 391.9,539.5 392.7,539.5 393.5,539.5 394.4,539.5 395.2,539.5 396,539.5 396.8,539.5 397.7,539.5 398.5,539.5 399.3,539.5 400.1,539.4 401,538.6 401.8,538.6 402.6,538.6 403.4,538.6 404.2,538.6 405.1,538.6 405.9,538.6 406.7,538.6 407.5,538.6 408.4,538.6 409.2,538.6 410,538.6 410.8,539.3 411.7,539.5 412.5,539.5 413.3,539.5 414.1,539.5 414.9,539.5 415.8,539.5 416.6,539.5 417.4,539.5 418.2,539.5 419.1,539.5 419.9,539.5 420.7,539.5 421.5,539.5 422.4,539.5 423.2,539.5 424,539.5 424.8,539.5 425.6,539.5 426.5,539.5 427.3,539.5 428.1,539.5 428.9,539.5 429.8,539.5 430.6,539.5 431.4,539.5 432.2,539.5 433,539.5 433.9,539.5 434.7,539.5 435.5,539.5 436.3,539.5 437.2,539.5 438,539.5 438.8,539.5 439.6,539.5 440.5,539.5 441.3,539.5 442.1,539.5 442.9,539.5 443.7,539.5 444.6,539.5 445.4,539.5 446.2,539.5 447,539.5 447.9,539.5 448.7,539.5 449.5,539.5 450.3,539.5 451.2,539.5 452,539.5 452.8,539.5 453.6,539.5 454.4,539.5 455.3,539.5 456.1,539.5 456.9,539.5 457.7,539.5 458.6,539.5 459.4,539.5 460.2,539.5 461,539.5 461.9,539.5 462.7,539.5 463.5,539.5 464.3,539.5 465.1,539.5 466,539.5 466.8,539.5 467.6,539.5 468.4,539.5 469.3,539.5 470.1,539.5 470.9,539.5 471.7,539.5 472.5,539.5 473.4,539.5 474.2,539.5 475,539.5 475.8,539.5 476.7,539.5 477.5,539.5 478.3,539.5 479.1,539.5 480,539.5 480.8,539.5 481.6,539.5 482.4,539.5 483.2,539.5 484.1,539.5 484.9,539.5 485.7,539.5 486.5,539.5 487.4,539.5 488.2,539.5 489,539.5 489.8,539.5 490.7,539.5 491.5,539.5 492.3,539.5 493.1,539.5 493.9,539.5 494.8,539.5 495.6,539.5 496.4,539.5 497.2,539.5 498.1,539.5 498.9,539.5 499.7,539.5 500.5,539.5 501.4,539.5 502.2,539.5 503,539.5 503.8,539.5 504.6,539.5 505.5,539.5 506.3,539.5 507.1,539.5 507.9,539.5 508.8,539.5 509.6,539.5 510.4,539.5 511.2,539.5 512,539.5 512.9,539.5 513.7,539.5 514.5,539.5 515.3,539.5 516.2,539.5 517,539.5 517.8,539.5 518.6,539.5 519.5,539.5 520.3,539.5 521.1,539.5 521.9,539.5 522.7,539.5 523.6,539.5 524.4,539.5 525.2,539.5 526,539.5 526.9,539.5 527.7,539.5 528.5,539.5 529.3,539.5 530.2,539.5 531,539.5 531.8,539.5 532.6,539.5 533.4,539.5 534.3,539.5 535.1,539.5 535.9,539.5 536.7,539.5 537.6,539.5 538.4,539.5 539.2,539.5 540,539.5 540.9,539.5 541.7,539.5 542.5,539.5 543.3,539.5 544.1,539.5 545,539.5 545.8,539.5 546.6,539.5 547.4,539.5 548.3,539.5 549.1,539.5 549.9,539.5 550.7,539.5 551.5,539.5 552.4,539.5 553.2,539.5 554,539.5 554.8,539.5 555.7,539.5 556.5,539.5 557.3,539.5 558.1,539.5 559,539.5 559.8,539.5 560.6,539 561.4,538.6 562.2,538.6 563.1,538.6 563.9,538.6 564.7,538.6 565.5,538.6 566.4,538.6 567.2,538.6 568,538.6 568.8,538.6 569.7,538.6 570.5,538.6 571.3,538.6 572.1,538.7 572.9,539.4 573.8,539.5 574.6,539.5 575.4,539.5 576.2,539.5 577.1,539.5 577.9,539.5 578.7,539.5 579.5,539.5 580.4,539.5 581.2,539.5 582,539.5 582.8,539.5 583.6,539.6 584.5,539.6 585.3,539.6 586.1,539.6 586.9,539.6 587.8,539.6 588.6,539.6 589.4,539.6 590.2,539.6 591,539.6 591.9,539.6 592.7,539.6 593.5,539.6 594.3,539.2 595.2,538.3 596,537.4 596.8,537.4 597.6,537.5 598.5,537.5 599.3,537.6 600.1,537.6" fill="none" stroke="#22c19f" stroke-width="1.0" stroke-linejoin="round" opacity="1"/>
<circle cx="365.2" cy="539.8" r="1.5" fill="#f01f1f"/>
<circle cx="366.6" cy="539.8" r="1.5" fill="#f01f1f"/>
<circle cx="375.5" cy="539.8" r="1.5" fill="#f01f1f"/>
<circle cx="425.5" cy="539.9" r="1.5" fill="#f01f1f"/>
<circle cx="427.3" cy="539.9" r="1.5" fill="#f01f1f"/>
<circle cx="429.2" cy="539.9" r="1.5" fill="#f01f1f"/>
<path d="M596.6 527.6 L601.4 530.4 L596.6 533.3 Z" fill="#f01f1f"/>
<circle cx="597.4" cy="530.4" r="2.3" fill="#f01f1f"/>
<circle cx="595.2" cy="538.3" r="1.8" fill="#f01f1f"/>
<rect x="335" y="576.6" width="265.8" height="9.4" fill="#d3dcf6"/>
<polygon points="334.6,585.6 420,585.6 430,584.8 440,585.6 550,585.6 560,585.2 580,584.9 590,582.3 600.8,581.6 600.8,586 334.6,586" fill="#c3cff2" opacity="1"/>
<rect x="335" y="584.7" width="265.8" height="1.3" fill="#a9bcef"/>
<rect x="335" y="576.6" width="265.8" height="0.8" fill="#dfe6fa"/>
<rect x="335" y="579" width="2.1" height="4.6" rx="0.8" fill="#2c3fb4"/>
<rect x="598.7" y="579" width="2.1" height="4.6" rx="0.8" fill="#2c3fb4"/>
</svg>
</div></div><div id="fade"></div></div>
</body></html>
